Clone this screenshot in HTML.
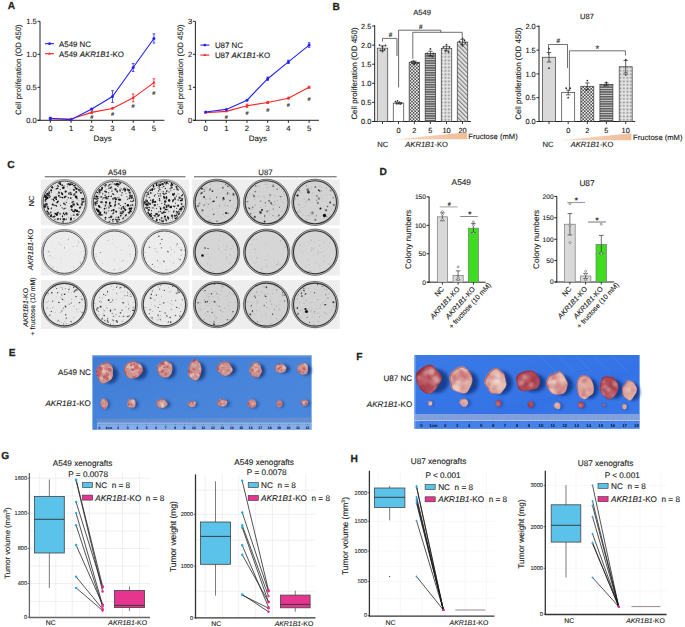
<!DOCTYPE html>
<html><head><meta charset="utf-8"><style>
html,body{margin:0;padding:0;background:#fff;width:685px;height:627px;overflow:hidden}
svg{display:block;font-family:"Liberation Sans",sans-serif}
</style></head><body>
<svg width="685" height="627" viewBox="0 0 685 627" font-family="Liberation Sans, sans-serif" text-rendering="geometricPrecision"><rect width="685" height="627" fill="#fff"/><text x="7.8" y="9.2" font-size="10.2" fill="#231f20" font-weight="bold" stroke="#231f20" stroke-width="0.25">A</text>
<text x="332.4" y="9.6" font-size="10.2" fill="#231f20" font-weight="bold" stroke="#231f20" stroke-width="0.25">B</text>
<text x="7.2" y="168.2" font-size="10.2" fill="#231f20" font-weight="bold" stroke="#231f20" stroke-width="0.25">C</text>
<text x="379.4" y="175" font-size="10.2" fill="#231f20" font-weight="bold" stroke="#231f20" stroke-width="0.25">D</text>
<text x="8.8" y="355.6" font-size="10.2" fill="#231f20" font-weight="bold" stroke="#231f20" stroke-width="0.25">E</text>
<text x="356.2" y="360.2" font-size="10.2" fill="#231f20" font-weight="bold" stroke="#231f20" stroke-width="0.25">F</text>
<text x="1.2" y="458.6" font-size="10.2" fill="#231f20" font-weight="bold" stroke="#231f20" stroke-width="0.25">G</text>
<text x="350.4" y="461.6" font-size="10.2" fill="#231f20" font-weight="bold" stroke="#231f20" stroke-width="0.25">H</text>
<line x1="40" y1="21.4" x2="40" y2="120.8" stroke="#222" stroke-width="1"/>
<line x1="37.5" y1="120.3" x2="164.4" y2="120.3" stroke="#222" stroke-width="1"/>
<line x1="37.5" y1="21.3" x2="40" y2="21.3" stroke="#222" stroke-width="1"/>
<text x="36.8" y="24" font-size="7.6" fill="#1a1a1a" text-anchor="end" stroke="#1a1a1a" stroke-width="0.12">1.5</text>
<line x1="37.5" y1="54.3" x2="40" y2="54.3" stroke="#222" stroke-width="1"/>
<text x="36.8" y="57" font-size="7.6" fill="#1a1a1a" text-anchor="end" stroke="#1a1a1a" stroke-width="0.12">1.0</text>
<line x1="37.5" y1="87.3" x2="40" y2="87.3" stroke="#222" stroke-width="1"/>
<text x="36.8" y="90" font-size="7.6" fill="#1a1a1a" text-anchor="end" stroke="#1a1a1a" stroke-width="0.12">0.5</text>
<line x1="37.5" y1="120.3" x2="40" y2="120.3" stroke="#222" stroke-width="1"/>
<text x="36.8" y="123" font-size="7.6" fill="#1a1a1a" text-anchor="end" stroke="#1a1a1a" stroke-width="0.12">0.0</text>
<line x1="50.3" y1="120.3" x2="50.3" y2="122.8" stroke="#222" stroke-width="1"/>
<text x="50.3" y="130.7" font-size="7.7" fill="#1a1a1a" text-anchor="middle" stroke="#1a1a1a" stroke-width="0.12">0</text>
<line x1="71.02" y1="120.3" x2="71.02" y2="122.8" stroke="#222" stroke-width="1"/>
<text x="71.02" y="130.7" font-size="7.7" fill="#1a1a1a" text-anchor="middle" stroke="#1a1a1a" stroke-width="0.12">1</text>
<line x1="91.74" y1="120.3" x2="91.74" y2="122.8" stroke="#222" stroke-width="1"/>
<text x="91.74" y="130.7" font-size="7.7" fill="#1a1a1a" text-anchor="middle" stroke="#1a1a1a" stroke-width="0.12">2</text>
<line x1="112.46" y1="120.3" x2="112.46" y2="122.8" stroke="#222" stroke-width="1"/>
<text x="112.46" y="130.7" font-size="7.7" fill="#1a1a1a" text-anchor="middle" stroke="#1a1a1a" stroke-width="0.12">3</text>
<line x1="133.18" y1="120.3" x2="133.18" y2="122.8" stroke="#222" stroke-width="1"/>
<text x="133.18" y="130.7" font-size="7.7" fill="#1a1a1a" text-anchor="middle" stroke="#1a1a1a" stroke-width="0.12">4</text>
<line x1="153.9" y1="120.3" x2="153.9" y2="122.8" stroke="#222" stroke-width="1"/>
<text x="153.9" y="130.7" font-size="7.7" fill="#1a1a1a" text-anchor="middle" stroke="#1a1a1a" stroke-width="0.12">5</text>
<text x="102.6" y="141.3" font-size="8" fill="#1a1a1a" text-anchor="middle" stroke="#1a1a1a" stroke-width="0.12">Days</text>
<text x="21.23" y="69.6" font-size="7.8" fill="#1a1a1a" text-anchor="middle" transform="rotate(-90 21.23 69.6)" stroke="#1a1a1a" stroke-width="0.12">Cell proliferation (OD 450)</text>
<polyline points="50.3,118.98 71.02,118.98 91.74,112.38 112.46,108.42 133.18,97.86 153.9,82.68" fill="none" stroke="#ff2222" stroke-width="1.1"/>
<path d="M50.3 117.28l1.6 2.6h-3.2z" fill="#ff2222"/>
<path d="M71.02 117.28l1.6 2.6h-3.2z" fill="#ff2222"/>
<line x1="91.74" y1="111.06" x2="91.74" y2="113.7" stroke="#ff2222" stroke-width="0.8"/>
<line x1="90.44" y1="111.06" x2="93.04" y2="111.06" stroke="#ff2222" stroke-width="0.8"/>
<line x1="90.44" y1="113.7" x2="93.04" y2="113.7" stroke="#ff2222" stroke-width="0.8"/>
<path d="M91.74 110.68l1.6 2.6h-3.2z" fill="#ff2222"/>
<line x1="112.46" y1="107.76" x2="112.46" y2="109.08" stroke="#ff2222" stroke-width="0.8"/>
<line x1="111.16" y1="107.76" x2="113.76" y2="107.76" stroke="#ff2222" stroke-width="0.8"/>
<line x1="111.16" y1="109.08" x2="113.76" y2="109.08" stroke="#ff2222" stroke-width="0.8"/>
<path d="M112.46 106.72l1.6 2.6h-3.2z" fill="#ff2222"/>
<line x1="133.18" y1="93.9" x2="133.18" y2="101.82" stroke="#ff2222" stroke-width="0.8"/>
<line x1="131.88" y1="93.9" x2="134.48" y2="93.9" stroke="#ff2222" stroke-width="0.8"/>
<line x1="131.88" y1="101.82" x2="134.48" y2="101.82" stroke="#ff2222" stroke-width="0.8"/>
<path d="M133.18 96.16l1.6 2.6h-3.2z" fill="#ff2222"/>
<line x1="153.9" y1="78.72" x2="153.9" y2="86.64" stroke="#ff2222" stroke-width="0.8"/>
<line x1="152.6" y1="78.72" x2="155.2" y2="78.72" stroke="#ff2222" stroke-width="0.8"/>
<line x1="152.6" y1="86.64" x2="155.2" y2="86.64" stroke="#ff2222" stroke-width="0.8"/>
<path d="M153.9 80.98l1.6 2.6h-3.2z" fill="#ff2222"/>
<polyline points="50.3,118.32 71.02,119.64 91.74,109.08 112.46,96.54 133.18,67.5 153.9,38.46" fill="none" stroke="#2222ff" stroke-width="1.1"/>
<line x1="50.3" y1="117.33" x2="50.3" y2="119.31" stroke="#2222ff" stroke-width="0.8"/>
<line x1="49" y1="117.33" x2="51.6" y2="117.33" stroke="#2222ff" stroke-width="0.8"/>
<line x1="49" y1="119.31" x2="51.6" y2="119.31" stroke="#2222ff" stroke-width="0.8"/>
<circle cx="50.3" cy="118.32" r="1.5" fill="#2222ff"/>
<circle cx="71.02" cy="119.64" r="1.5" fill="#2222ff"/>
<line x1="91.74" y1="108.42" x2="91.74" y2="109.74" stroke="#2222ff" stroke-width="0.8"/>
<line x1="90.44" y1="108.42" x2="93.04" y2="108.42" stroke="#2222ff" stroke-width="0.8"/>
<line x1="90.44" y1="109.74" x2="93.04" y2="109.74" stroke="#2222ff" stroke-width="0.8"/>
<circle cx="91.74" cy="109.08" r="1.5" fill="#2222ff"/>
<line x1="112.46" y1="90.6" x2="112.46" y2="102.48" stroke="#2222ff" stroke-width="0.8"/>
<line x1="111.16" y1="90.6" x2="113.76" y2="90.6" stroke="#2222ff" stroke-width="0.8"/>
<line x1="111.16" y1="102.48" x2="113.76" y2="102.48" stroke="#2222ff" stroke-width="0.8"/>
<circle cx="112.46" cy="96.54" r="1.5" fill="#2222ff"/>
<line x1="133.18" y1="63.54" x2="133.18" y2="71.46" stroke="#2222ff" stroke-width="0.8"/>
<line x1="131.88" y1="63.54" x2="134.48" y2="63.54" stroke="#2222ff" stroke-width="0.8"/>
<line x1="131.88" y1="71.46" x2="134.48" y2="71.46" stroke="#2222ff" stroke-width="0.8"/>
<circle cx="133.18" cy="67.5" r="1.5" fill="#2222ff"/>
<line x1="153.9" y1="33.84" x2="153.9" y2="43.08" stroke="#2222ff" stroke-width="0.8"/>
<line x1="152.6" y1="33.84" x2="155.2" y2="33.84" stroke="#2222ff" stroke-width="0.8"/>
<line x1="152.6" y1="43.08" x2="155.2" y2="43.08" stroke="#2222ff" stroke-width="0.8"/>
<circle cx="153.9" cy="38.46" r="1.5" fill="#2222ff"/>
<text x="91.74" y="119" font-size="5.6" fill="#333" text-anchor="middle" font-weight="bold" stroke="#333" stroke-width="0.12">#</text>
<text x="112.46" y="116.49" font-size="5.6" fill="#333" text-anchor="middle" font-weight="bold" stroke="#333" stroke-width="0.12">#</text>
<text x="133.18" y="107.78" font-size="5.6" fill="#333" text-anchor="middle" font-weight="bold" stroke="#333" stroke-width="0.12">#</text>
<text x="153.9" y="94.58" font-size="5.6" fill="#333" text-anchor="middle" font-weight="bold" stroke="#333" stroke-width="0.12">#</text>
<line x1="45" y1="43.7" x2="54" y2="43.7" stroke="#2222ff" stroke-width="1.1"/>
<circle cx="49.5" cy="43.7" r="1.4" fill="#2222ff"/>
<text x="59" y="46.5" font-size="7.9" fill="#1a1a1a" stroke="#1a1a1a" stroke-width="0.12">A549 NC</text>
<line x1="45" y1="53.7" x2="54" y2="53.7" stroke="#ff2222" stroke-width="1.1"/>
<path d="M49.5 52.2l1.5 2.4h-3z" fill="#ff2222"/>
<text x="59" y="56.5" font-size="7.9" fill="#1a1a1a" stroke="#1a1a1a" stroke-width="0.12">A549 <tspan font-style="italic">AKR1B1</tspan>-KO</text>
<line x1="195.4" y1="21.4" x2="195.4" y2="120.8" stroke="#222" stroke-width="1"/>
<line x1="192.9" y1="120.3" x2="318.9" y2="120.3" stroke="#222" stroke-width="1"/>
<line x1="192.9" y1="21.3" x2="195.4" y2="21.3" stroke="#222" stroke-width="1"/>
<text x="192.2" y="24" font-size="7.6" fill="#1a1a1a" text-anchor="end" stroke="#1a1a1a" stroke-width="0.12">3</text>
<line x1="192.9" y1="54.3" x2="195.4" y2="54.3" stroke="#222" stroke-width="1"/>
<text x="192.2" y="57" font-size="7.6" fill="#1a1a1a" text-anchor="end" stroke="#1a1a1a" stroke-width="0.12">2</text>
<line x1="192.9" y1="87.3" x2="195.4" y2="87.3" stroke="#222" stroke-width="1"/>
<text x="192.2" y="90" font-size="7.6" fill="#1a1a1a" text-anchor="end" stroke="#1a1a1a" stroke-width="0.12">1</text>
<line x1="192.9" y1="120.3" x2="195.4" y2="120.3" stroke="#222" stroke-width="1"/>
<text x="192.2" y="123" font-size="7.6" fill="#1a1a1a" text-anchor="end" stroke="#1a1a1a" stroke-width="0.12">0</text>
<line x1="205.6" y1="120.3" x2="205.6" y2="122.8" stroke="#222" stroke-width="1"/>
<text x="205.6" y="130.7" font-size="7.7" fill="#1a1a1a" text-anchor="middle" stroke="#1a1a1a" stroke-width="0.12">0</text>
<line x1="226.3" y1="120.3" x2="226.3" y2="122.8" stroke="#222" stroke-width="1"/>
<text x="226.3" y="130.7" font-size="7.7" fill="#1a1a1a" text-anchor="middle" stroke="#1a1a1a" stroke-width="0.12">1</text>
<line x1="247" y1="120.3" x2="247" y2="122.8" stroke="#222" stroke-width="1"/>
<text x="247" y="130.7" font-size="7.7" fill="#1a1a1a" text-anchor="middle" stroke="#1a1a1a" stroke-width="0.12">2</text>
<line x1="267.7" y1="120.3" x2="267.7" y2="122.8" stroke="#222" stroke-width="1"/>
<text x="267.7" y="130.7" font-size="7.7" fill="#1a1a1a" text-anchor="middle" stroke="#1a1a1a" stroke-width="0.12">3</text>
<line x1="288.4" y1="120.3" x2="288.4" y2="122.8" stroke="#222" stroke-width="1"/>
<text x="288.4" y="130.7" font-size="7.7" fill="#1a1a1a" text-anchor="middle" stroke="#1a1a1a" stroke-width="0.12">4</text>
<line x1="309.1" y1="120.3" x2="309.1" y2="122.8" stroke="#222" stroke-width="1"/>
<text x="309.1" y="130.7" font-size="7.7" fill="#1a1a1a" text-anchor="middle" stroke="#1a1a1a" stroke-width="0.12">5</text>
<text x="257.85" y="141.3" font-size="8" fill="#1a1a1a" text-anchor="middle" stroke="#1a1a1a" stroke-width="0.12">Days</text>
<text x="182.53" y="69.6" font-size="7.8" fill="#1a1a1a" text-anchor="middle" transform="rotate(-90 182.53 69.6)" stroke="#1a1a1a" stroke-width="0.12">Cell proliferation (OD 450)</text>
<polyline points="205.6,112.71 226.3,111.39 247,105.78 267.7,102.48 288.4,98.19 309.1,87.3" fill="none" stroke="#ff2222" stroke-width="1.1"/>
<path d="M205.6 111.01l1.6 2.6h-3.2z" fill="#ff2222"/>
<path d="M226.3 109.69l1.6 2.6h-3.2z" fill="#ff2222"/>
<line x1="247" y1="104.13" x2="247" y2="107.43" stroke="#ff2222" stroke-width="0.8"/>
<line x1="245.7" y1="104.13" x2="248.3" y2="104.13" stroke="#ff2222" stroke-width="0.8"/>
<line x1="245.7" y1="107.43" x2="248.3" y2="107.43" stroke="#ff2222" stroke-width="0.8"/>
<path d="M247 104.08l1.6 2.6h-3.2z" fill="#ff2222"/>
<line x1="267.7" y1="101.49" x2="267.7" y2="103.47" stroke="#ff2222" stroke-width="0.8"/>
<line x1="266.4" y1="101.49" x2="269" y2="101.49" stroke="#ff2222" stroke-width="0.8"/>
<line x1="266.4" y1="103.47" x2="269" y2="103.47" stroke="#ff2222" stroke-width="0.8"/>
<path d="M267.7 100.78l1.6 2.6h-3.2z" fill="#ff2222"/>
<line x1="288.4" y1="97.2" x2="288.4" y2="99.18" stroke="#ff2222" stroke-width="0.8"/>
<line x1="287.1" y1="97.2" x2="289.7" y2="97.2" stroke="#ff2222" stroke-width="0.8"/>
<line x1="287.1" y1="99.18" x2="289.7" y2="99.18" stroke="#ff2222" stroke-width="0.8"/>
<path d="M288.4 96.49l1.6 2.6h-3.2z" fill="#ff2222"/>
<line x1="309.1" y1="86.31" x2="309.1" y2="88.29" stroke="#ff2222" stroke-width="0.8"/>
<line x1="307.8" y1="86.31" x2="310.4" y2="86.31" stroke="#ff2222" stroke-width="0.8"/>
<line x1="307.8" y1="88.29" x2="310.4" y2="88.29" stroke="#ff2222" stroke-width="0.8"/>
<path d="M309.1 85.6l1.6 2.6h-3.2z" fill="#ff2222"/>
<polyline points="205.6,112.05 226.3,109.41 247,100.17 267.7,78.72 288.4,61.89 309.1,45.06" fill="none" stroke="#2222ff" stroke-width="1.1"/>
<circle cx="205.6" cy="112.05" r="1.5" fill="#2222ff"/>
<circle cx="226.3" cy="109.41" r="1.5" fill="#2222ff"/>
<circle cx="247" cy="100.17" r="1.5" fill="#2222ff"/>
<line x1="267.7" y1="77.07" x2="267.7" y2="80.37" stroke="#2222ff" stroke-width="0.8"/>
<line x1="266.4" y1="77.07" x2="269" y2="77.07" stroke="#2222ff" stroke-width="0.8"/>
<line x1="266.4" y1="80.37" x2="269" y2="80.37" stroke="#2222ff" stroke-width="0.8"/>
<circle cx="267.7" cy="78.72" r="1.5" fill="#2222ff"/>
<line x1="288.4" y1="60.24" x2="288.4" y2="63.54" stroke="#2222ff" stroke-width="0.8"/>
<line x1="287.1" y1="60.24" x2="289.7" y2="60.24" stroke="#2222ff" stroke-width="0.8"/>
<line x1="287.1" y1="63.54" x2="289.7" y2="63.54" stroke="#2222ff" stroke-width="0.8"/>
<circle cx="288.4" cy="61.89" r="1.5" fill="#2222ff"/>
<line x1="309.1" y1="42.75" x2="309.1" y2="47.37" stroke="#2222ff" stroke-width="0.8"/>
<line x1="307.8" y1="42.75" x2="310.4" y2="42.75" stroke="#2222ff" stroke-width="0.8"/>
<line x1="307.8" y1="47.37" x2="310.4" y2="47.37" stroke="#2222ff" stroke-width="0.8"/>
<circle cx="309.1" cy="45.06" r="1.5" fill="#2222ff"/>
<text x="226.3" y="118.67" font-size="5.6" fill="#333" text-anchor="middle" font-weight="bold" stroke="#333" stroke-width="0.12">#</text>
<text x="247" y="115.37" font-size="5.6" fill="#333" text-anchor="middle" font-weight="bold" stroke="#333" stroke-width="0.12">#</text>
<text x="267.7" y="111.74" font-size="5.6" fill="#333" text-anchor="middle" font-weight="bold" stroke="#333" stroke-width="0.12">#</text>
<text x="288.4" y="107.45" font-size="5.6" fill="#333" text-anchor="middle" font-weight="bold" stroke="#333" stroke-width="0.12">#</text>
<text x="309.1" y="101.18" font-size="5.6" fill="#333" text-anchor="middle" font-weight="bold" stroke="#333" stroke-width="0.12">#</text>
<line x1="200.4" y1="45.1" x2="209.4" y2="45.1" stroke="#2222ff" stroke-width="1.1"/>
<circle cx="204.9" cy="45.1" r="1.4" fill="#2222ff"/>
<text x="214.9" y="47.9" font-size="7.9" fill="#1a1a1a" stroke="#1a1a1a" stroke-width="0.12">U87 NC</text>
<line x1="200.4" y1="55.1" x2="209.4" y2="55.1" stroke="#ff2222" stroke-width="1.1"/>
<path d="M204.9 53.6l1.5 2.4h-3z" fill="#ff2222"/>
<text x="214.9" y="57.9" font-size="7.9" fill="#1a1a1a" stroke="#1a1a1a" stroke-width="0.12">U87 <tspan font-style="italic">AK1B1</tspan>-KO</text>
<defs>
<pattern id="chk" width="3.2" height="3.2" patternUnits="userSpaceOnUse"><rect width="3.2" height="3.2" fill="#ececec"/><rect width="1.6" height="1.6" fill="#555"/><rect x="1.6" y="1.6" width="1.6" height="1.6" fill="#555"/></pattern>
<pattern id="hst" width="4" height="2.4" patternUnits="userSpaceOnUse"><rect width="4" height="2.4" fill="#d0d0d0"/><rect width="4" height="1.5" fill="#5e5e5e"/></pattern>
<pattern id="dts" width="1.4" height="1.4" patternUnits="userSpaceOnUse"><rect width="1.4" height="1.4" fill="#e6e6e6"/><rect width="0.7" height="0.7" fill="#8c8c8c"/></pattern>
<pattern id="dia" width="3.2" height="3.2" patternUnits="userSpaceOnUse" patternTransform="rotate(-45)"><rect width="3.2" height="3.2" fill="#e2e2e2"/><rect width="1.1" height="3.2" fill="#7e7e7e"/></pattern>
<linearGradient id="wedge" x1="0" x2="1" y1="0" y2="0"><stop offset="0" stop-color="#f7dcc8"/><stop offset="1" stop-color="#efbd98"/></linearGradient>
</defs>
<line x1="374.7" y1="25.2" x2="374.7" y2="122" stroke="#222" stroke-width="1"/>
<line x1="372.7" y1="121.5" x2="470.8" y2="121.5" stroke="#222" stroke-width="1"/>
<line x1="372.2" y1="26" x2="374.7" y2="26" stroke="#222" stroke-width="1"/>
<text x="371.4" y="28.6" font-size="7.4" fill="#1a1a1a" text-anchor="end" stroke="#1a1a1a" stroke-width="0.12">2.5</text>
<line x1="372.2" y1="45.1" x2="374.7" y2="45.1" stroke="#222" stroke-width="1"/>
<text x="371.4" y="47.7" font-size="7.4" fill="#1a1a1a" text-anchor="end" stroke="#1a1a1a" stroke-width="0.12">2.0</text>
<line x1="372.2" y1="64.2" x2="374.7" y2="64.2" stroke="#222" stroke-width="1"/>
<text x="371.4" y="66.8" font-size="7.4" fill="#1a1a1a" text-anchor="end" stroke="#1a1a1a" stroke-width="0.12">1.5</text>
<line x1="372.2" y1="83.3" x2="374.7" y2="83.3" stroke="#222" stroke-width="1"/>
<text x="371.4" y="85.9" font-size="7.4" fill="#1a1a1a" text-anchor="end" stroke="#1a1a1a" stroke-width="0.12">1.0</text>
<line x1="372.2" y1="102.4" x2="374.7" y2="102.4" stroke="#222" stroke-width="1"/>
<text x="371.4" y="105" font-size="7.4" fill="#1a1a1a" text-anchor="end" stroke="#1a1a1a" stroke-width="0.12">0.5</text>
<line x1="372.2" y1="121.5" x2="374.7" y2="121.5" stroke="#222" stroke-width="1"/>
<text x="371.4" y="124.1" font-size="7.4" fill="#1a1a1a" text-anchor="end" stroke="#1a1a1a" stroke-width="0.12">0.0</text>
<rect x="377.25" y="48.16" width="10.5" height="73.34" fill="#d9d9d9" stroke="#3a3a3a" stroke-width="0.7"/>
<line x1="382.5" y1="121.5" x2="382.5" y2="124" stroke="#222" stroke-width="0.9"/>
<line x1="382.5" y1="45.86" x2="382.5" y2="50.45" stroke="#222" stroke-width="0.7"/>
<line x1="380.3" y1="45.86" x2="384.7" y2="45.86" stroke="#222" stroke-width="0.7"/>
<line x1="380.3" y1="50.45" x2="384.7" y2="50.45" stroke="#222" stroke-width="0.7"/>
<circle cx="379.5" cy="45.1" r="0.9" fill="#333"/>
<circle cx="382.5" cy="46.63" r="0.9" fill="#333"/>
<circle cx="385.5" cy="45.48" r="0.9" fill="#333"/>
<circle cx="380.5" cy="50.45" r="0.9" fill="#333"/>
<circle cx="384.5" cy="49.68" r="0.9" fill="#333"/>
<circle cx="382.5" cy="51.59" r="0.9" fill="#333"/>
<rect x="393.25" y="103.16" width="10.5" height="18.34" fill="#ffffff" stroke="#3a3a3a" stroke-width="0.7"/>
<line x1="398.5" y1="121.5" x2="398.5" y2="124" stroke="#222" stroke-width="0.9"/>
<text x="398.5" y="132.5" font-size="7.4" fill="#1a1a1a" text-anchor="middle" stroke="#1a1a1a" stroke-width="0.12">0</text>
<line x1="398.5" y1="102.4" x2="398.5" y2="103.93" stroke="#222" stroke-width="0.7"/>
<line x1="396.3" y1="102.4" x2="400.7" y2="102.4" stroke="#222" stroke-width="0.7"/>
<line x1="396.3" y1="103.93" x2="400.7" y2="103.93" stroke="#222" stroke-width="0.7"/>
<circle cx="395.5" cy="101.64" r="0.9" fill="#333"/>
<circle cx="397.5" cy="100.87" r="0.9" fill="#333"/>
<circle cx="399.5" cy="102.4" r="0.9" fill="#333"/>
<circle cx="401.5" cy="102.78" r="0.9" fill="#333"/>
<circle cx="396.5" cy="103.55" r="0.9" fill="#333"/>
<circle cx="400.5" cy="103.93" r="0.9" fill="#333"/>
<rect x="409.15" y="62.29" width="10.5" height="59.21" fill="url(#chk)" stroke="#3a3a3a" stroke-width="0.7"/>
<line x1="414.4" y1="121.5" x2="414.4" y2="124" stroke="#222" stroke-width="0.9"/>
<text x="414.4" y="132.5" font-size="7.4" fill="#1a1a1a" text-anchor="middle" stroke="#1a1a1a" stroke-width="0.12">2</text>
<line x1="414.4" y1="61.14" x2="414.4" y2="63.44" stroke="#222" stroke-width="0.7"/>
<line x1="412.2" y1="61.14" x2="416.6" y2="61.14" stroke="#222" stroke-width="0.7"/>
<line x1="412.2" y1="63.44" x2="416.6" y2="63.44" stroke="#222" stroke-width="0.7"/>
<circle cx="411.4" cy="61.53" r="0.9" fill="#333"/>
<circle cx="413.4" cy="61.14" r="0.9" fill="#333"/>
<circle cx="415.4" cy="62.29" r="0.9" fill="#333"/>
<circle cx="417.4" cy="63.05" r="0.9" fill="#333"/>
<circle cx="414.4" cy="64.2" r="0.9" fill="#333"/>
<circle cx="412.4" cy="63.44" r="0.9" fill="#333"/>
<rect x="425.15" y="53.5" width="10.5" height="68" fill="url(#hst)" stroke="#3a3a3a" stroke-width="0.7"/>
<line x1="430.4" y1="121.5" x2="430.4" y2="124" stroke="#222" stroke-width="0.9"/>
<text x="430.4" y="132.5" font-size="7.4" fill="#1a1a1a" text-anchor="middle" stroke="#1a1a1a" stroke-width="0.12">5</text>
<line x1="430.4" y1="51.21" x2="430.4" y2="55.8" stroke="#222" stroke-width="0.7"/>
<line x1="428.2" y1="51.21" x2="432.6" y2="51.21" stroke="#222" stroke-width="0.7"/>
<line x1="428.2" y1="55.8" x2="432.6" y2="55.8" stroke="#222" stroke-width="0.7"/>
<circle cx="430.4" cy="48.92" r="0.9" fill="#333"/>
<circle cx="427.4" cy="53.5" r="0.9" fill="#333"/>
<circle cx="433.4" cy="53.5" r="0.9" fill="#333"/>
<circle cx="429.4" cy="55.8" r="0.9" fill="#333"/>
<circle cx="432.4" cy="56.56" r="0.9" fill="#333"/>
<rect x="441.25" y="48.54" width="10.5" height="72.96" fill="url(#dts)" stroke="#3a3a3a" stroke-width="0.7"/>
<line x1="446.5" y1="121.5" x2="446.5" y2="124" stroke="#222" stroke-width="0.9"/>
<text x="446.5" y="132.5" font-size="7.4" fill="#1a1a1a" text-anchor="middle" stroke="#1a1a1a" stroke-width="0.12">10</text>
<line x1="446.5" y1="46.25" x2="446.5" y2="50.83" stroke="#222" stroke-width="0.7"/>
<line x1="444.3" y1="46.25" x2="448.7" y2="46.25" stroke="#222" stroke-width="0.7"/>
<line x1="444.3" y1="50.83" x2="448.7" y2="50.83" stroke="#222" stroke-width="0.7"/>
<circle cx="446.5" cy="44.72" r="0.9" fill="#333"/>
<circle cx="443.5" cy="47.01" r="0.9" fill="#333"/>
<circle cx="449.5" cy="47.01" r="0.9" fill="#333"/>
<circle cx="445.5" cy="50.83" r="0.9" fill="#333"/>
<circle cx="448.5" cy="51.98" r="0.9" fill="#333"/>
<rect x="457.25" y="42.04" width="10.5" height="79.46" fill="url(#dia)" stroke="#3a3a3a" stroke-width="0.7"/>
<line x1="462.5" y1="121.5" x2="462.5" y2="124" stroke="#222" stroke-width="0.9"/>
<text x="462.5" y="132.5" font-size="7.4" fill="#1a1a1a" text-anchor="middle" stroke="#1a1a1a" stroke-width="0.12">20</text>
<line x1="462.5" y1="39.37" x2="462.5" y2="44.72" stroke="#222" stroke-width="0.7"/>
<line x1="460.3" y1="39.37" x2="464.7" y2="39.37" stroke="#222" stroke-width="0.7"/>
<line x1="460.3" y1="44.72" x2="464.7" y2="44.72" stroke="#222" stroke-width="0.7"/>
<circle cx="462.5" cy="38.22" r="0.9" fill="#333"/>
<circle cx="459.5" cy="41.28" r="0.9" fill="#333"/>
<circle cx="465.5" cy="42.81" r="0.9" fill="#333"/>
<circle cx="461.5" cy="44.34" r="0.9" fill="#333"/>
<circle cx="464.5" cy="40.52" r="0.9" fill="#333"/>
<circle cx="462.5" cy="45.86" r="0.9" fill="#333"/>
<text x="422" y="14.8" font-size="7.6" fill="#1a1a1a" text-anchor="middle" stroke="#1a1a1a" stroke-width="0.12">A549</text>
<text x="357.07" y="73.5" font-size="7.95" fill="#1a1a1a" text-anchor="middle" transform="rotate(-90 357.07 73.5)" stroke="#1a1a1a" stroke-width="0.12">Cell proliferation (OD 450)</text>
<path d="M382.5 41.5V38.4H396.8V55.9" fill="none" stroke="#333" stroke-width="0.7"/>
<rect x="396.2" y="38.4" width="1.5" height="17.5" fill="#aaa"/>
<path d="M398.6 87.4V30.2H440.8V32.4" fill="none" stroke="#444" stroke-width="0.8"/>
<path d="M412.8 58.8V32.3H462.2V37" fill="none" stroke="#333" stroke-width="0.7"/>
<text x="390.5" y="37" font-size="6.4" fill="#333" text-anchor="middle" font-weight="bold" stroke="#333" stroke-width="0.12">#</text>
<text x="420.8" y="28.9" font-size="6.4" fill="#333" text-anchor="middle" font-weight="bold" stroke="#333" stroke-width="0.12">#</text>
<path d="M394 139.6L467.2 132.2V139.2Z" fill="url(#wedge)"/>
<text x="468.3" y="138.6" font-size="7.6" fill="#1a1a1a" stroke="#1a1a1a" stroke-width="0.12">Fructose (mM)</text>
<text x="382.8" y="147" font-size="7.6" fill="#1a1a1a" text-anchor="middle" stroke="#1a1a1a" stroke-width="0.12">NC</text>
<text x="426.6" y="147" font-size="7.6" fill="#1a1a1a" text-anchor="middle" stroke="#1a1a1a" stroke-width="0.12"><tspan font-style="italic">AKR1B1</tspan>-KO</text>
<line x1="539" y1="25.5" x2="539" y2="122" stroke="#222" stroke-width="1"/>
<line x1="537" y1="121.5" x2="635.2" y2="121.5" stroke="#222" stroke-width="1"/>
<line x1="536.5" y1="26.3" x2="539" y2="26.3" stroke="#222" stroke-width="1"/>
<text x="535.7" y="28.9" font-size="7.4" fill="#1a1a1a" text-anchor="end" stroke="#1a1a1a" stroke-width="0.12">2.0</text>
<line x1="536.5" y1="50.1" x2="539" y2="50.1" stroke="#222" stroke-width="1"/>
<text x="535.7" y="52.7" font-size="7.4" fill="#1a1a1a" text-anchor="end" stroke="#1a1a1a" stroke-width="0.12">1.5</text>
<line x1="536.5" y1="73.9" x2="539" y2="73.9" stroke="#222" stroke-width="1"/>
<text x="535.7" y="76.5" font-size="7.4" fill="#1a1a1a" text-anchor="end" stroke="#1a1a1a" stroke-width="0.12">1.0</text>
<line x1="536.5" y1="97.7" x2="539" y2="97.7" stroke="#222" stroke-width="1"/>
<text x="535.7" y="100.3" font-size="7.4" fill="#1a1a1a" text-anchor="end" stroke="#1a1a1a" stroke-width="0.12">0.5</text>
<line x1="536.5" y1="121.5" x2="539" y2="121.5" stroke="#222" stroke-width="1"/>
<text x="535.7" y="124.1" font-size="7.4" fill="#1a1a1a" text-anchor="end" stroke="#1a1a1a" stroke-width="0.12">0.0</text>
<rect x="542.5" y="57.24" width="13" height="64.26" fill="#d9d9d9" stroke="#3a3a3a" stroke-width="0.7"/>
<line x1="549" y1="121.5" x2="549" y2="124" stroke="#222" stroke-width="0.9"/>
<line x1="549" y1="52.48" x2="549" y2="62" stroke="#222" stroke-width="0.7"/>
<line x1="546.8" y1="52.48" x2="551.2" y2="52.48" stroke="#222" stroke-width="0.7"/>
<line x1="546.8" y1="62" x2="551.2" y2="62" stroke="#222" stroke-width="0.7"/>
<circle cx="549" cy="48.67" r="0.9" fill="#333"/>
<circle cx="549" cy="68.19" r="0.9" fill="#333"/>
<rect x="561.7" y="92.46" width="13" height="29.04" fill="#ffffff" stroke="#3a3a3a" stroke-width="0.7"/>
<line x1="568.2" y1="121.5" x2="568.2" y2="124" stroke="#222" stroke-width="0.9"/>
<text x="568.2" y="132.5" font-size="7.4" fill="#1a1a1a" text-anchor="middle" stroke="#1a1a1a" stroke-width="0.12">0</text>
<line x1="568.2" y1="90.08" x2="568.2" y2="94.84" stroke="#222" stroke-width="0.7"/>
<line x1="566" y1="90.08" x2="570.4" y2="90.08" stroke="#222" stroke-width="0.7"/>
<line x1="566" y1="94.84" x2="570.4" y2="94.84" stroke="#222" stroke-width="0.7"/>
<circle cx="566.2" cy="88.18" r="0.9" fill="#333"/>
<circle cx="570.2" cy="88.18" r="0.9" fill="#333"/>
<circle cx="568.2" cy="97.7" r="0.9" fill="#333"/>
<rect x="580.8" y="86.28" width="13" height="35.22" fill="url(#chk)" stroke="#3a3a3a" stroke-width="0.7"/>
<line x1="587.3" y1="121.5" x2="587.3" y2="124" stroke="#222" stroke-width="0.9"/>
<text x="587.3" y="132.5" font-size="7.4" fill="#1a1a1a" text-anchor="middle" stroke="#1a1a1a" stroke-width="0.12">2</text>
<line x1="587.3" y1="82.94" x2="587.3" y2="89.61" stroke="#222" stroke-width="0.7"/>
<line x1="585.1" y1="82.94" x2="589.5" y2="82.94" stroke="#222" stroke-width="0.7"/>
<line x1="585.1" y1="89.61" x2="589.5" y2="89.61" stroke="#222" stroke-width="0.7"/>
<circle cx="587.3" cy="80.56" r="0.9" fill="#333"/>
<circle cx="586.3" cy="90.08" r="0.9" fill="#333"/>
<rect x="599.9" y="84.37" width="13" height="37.13" fill="url(#hst)" stroke="#3a3a3a" stroke-width="0.7"/>
<line x1="606.4" y1="121.5" x2="606.4" y2="124" stroke="#222" stroke-width="0.9"/>
<text x="606.4" y="132.5" font-size="7.4" fill="#1a1a1a" text-anchor="middle" stroke="#1a1a1a" stroke-width="0.12">5</text>
<line x1="606.4" y1="82.94" x2="606.4" y2="85.8" stroke="#222" stroke-width="0.7"/>
<line x1="604.2" y1="82.94" x2="608.6" y2="82.94" stroke="#222" stroke-width="0.7"/>
<line x1="604.2" y1="85.8" x2="608.6" y2="85.8" stroke="#222" stroke-width="0.7"/>
<circle cx="606.4" cy="82.47" r="0.9" fill="#333"/>
<circle cx="604.4" cy="85.8" r="0.9" fill="#333"/>
<rect x="619.2" y="66.76" width="13" height="54.74" fill="url(#dts)" stroke="#3a3a3a" stroke-width="0.7"/>
<line x1="625.7" y1="121.5" x2="625.7" y2="124" stroke="#222" stroke-width="0.9"/>
<text x="625.7" y="132.5" font-size="7.4" fill="#1a1a1a" text-anchor="middle" stroke="#1a1a1a" stroke-width="0.12">10</text>
<line x1="625.7" y1="60.57" x2="625.7" y2="72.95" stroke="#222" stroke-width="0.7"/>
<line x1="623.5" y1="60.57" x2="627.9" y2="60.57" stroke="#222" stroke-width="0.7"/>
<line x1="623.5" y1="72.95" x2="627.9" y2="72.95" stroke="#222" stroke-width="0.7"/>
<circle cx="625.7" cy="59.62" r="0.9" fill="#333"/>
<circle cx="625.7" cy="74.85" r="0.9" fill="#333"/>
<text x="586.9" y="19.4" font-size="7.6" fill="#1a1a1a" text-anchor="middle" stroke="#1a1a1a" stroke-width="0.12">U87</text>
<text x="521.37" y="73.7" font-size="7.95" fill="#1a1a1a" text-anchor="middle" transform="rotate(-90 521.37 73.7)" stroke="#1a1a1a" stroke-width="0.12">Cell proliferation (OD 450)</text>
<path d="M548.5 55V44.5H567.5V67.9" fill="none" stroke="#333" stroke-width="0.7"/>
<path d="M569.4 91V50.8H625.4V55.5" fill="none" stroke="#333" stroke-width="0.7"/>
<text x="558.4" y="42.9" font-size="6.4" fill="#333" text-anchor="middle" font-weight="bold" stroke="#333" stroke-width="0.12">#</text>
<text x="597.3" y="52.4" font-size="9.5" fill="#333" text-anchor="middle" stroke="#333" stroke-width="0.12">*</text>
<path d="M561 140.2L631.4 133.3V140.2Z" fill="url(#wedge)"/>
<text x="633.1" y="139.8" font-size="7.6" fill="#1a1a1a" stroke="#1a1a1a" stroke-width="0.12">Fructose (mM)</text>
<text x="548" y="147" font-size="7.6" fill="#1a1a1a" text-anchor="middle" stroke="#1a1a1a" stroke-width="0.12">NC</text>
<text x="592" y="147" font-size="7.6" fill="#1a1a1a" text-anchor="middle" stroke="#1a1a1a" stroke-width="0.12"><tspan font-style="italic">AKR1B1</tspan>-KO</text>
<defs><filter id="soft" x="-5%" y="-5%" width="110%" height="110%"><feGaussianBlur stdDeviation="0.35"/></filter><filter id="soft2" x="-20%" y="-20%" width="140%" height="140%"><feGaussianBlur stdDeviation="0.6"/></filter></defs>
<g filter="url(#soft)">
<rect x="40.8" y="179.4" width="148.3" height="45.9" fill="#efefef"/>
<circle cx="64.3" cy="202.3" r="22.8" fill="#cdcdcd" stroke="#767676" stroke-width="0.7"/>
<circle cx="64.3" cy="202.3" r="21.2" fill="#e4e4e4" stroke="#474747" stroke-width="0.95"/>
<circle cx="76.53" cy="216.06" r="0.61" fill="#9a9a9a" opacity="0.5"/>
<circle cx="63.85" cy="216.37" r="0.48" fill="#9a9a9a" opacity="0.5"/>
<circle cx="54" cy="187.83" r="0.34" fill="#9a9a9a" opacity="0.5"/>
<circle cx="82.29" cy="205.54" r="0.47" fill="#9a9a9a" opacity="0.5"/>
<circle cx="64.37" cy="201.38" r="0.48" fill="#9a9a9a" opacity="0.5"/>
<circle cx="62.6" cy="192.89" r="0.68" fill="#9a9a9a" opacity="0.5"/>
<circle cx="67.15" cy="200.27" r="0.31" fill="#9a9a9a" opacity="0.5"/>
<circle cx="45.57" cy="197.31" r="0.45" fill="#9a9a9a" opacity="0.5"/>
<circle cx="67.01" cy="215.01" r="0.31" fill="#9a9a9a" opacity="0.5"/>
<circle cx="66.64" cy="215.33" r="0.5" fill="#9a9a9a" opacity="0.5"/>
<circle cx="65.32" cy="211.86" r="0.39" fill="#9a9a9a" opacity="0.5"/>
<circle cx="53.88" cy="205" r="0.31" fill="#9a9a9a" opacity="0.5"/>
<circle cx="72.1" cy="189.58" r="0.56" fill="#9a9a9a" opacity="0.5"/>
<circle cx="72.11" cy="220.63" r="0.64" fill="#9a9a9a" opacity="0.5"/>
<circle cx="72.67" cy="210.24" r="0.59" fill="#9a9a9a" opacity="0.5"/>
<circle cx="59.63" cy="183.52" r="0.47" fill="#9a9a9a" opacity="0.5"/>
<circle cx="72.19" cy="187.95" r="0.42" fill="#9a9a9a" opacity="0.5"/>
<circle cx="48.29" cy="192.48" r="0.64" fill="#9a9a9a" opacity="0.5"/>
<circle cx="48.96" cy="201.79" r="0.31" fill="#9a9a9a" opacity="0.5"/>
<circle cx="65.11" cy="220.14" r="0.47" fill="#9a9a9a" opacity="0.5"/>
<circle cx="71.19" cy="215.42" r="0.58" fill="#9a9a9a" opacity="0.5"/>
<circle cx="58.71" cy="191.41" r="0.48" fill="#9a9a9a" opacity="0.5"/>
<circle cx="46.68" cy="201.37" r="0.51" fill="#9a9a9a" opacity="0.5"/>
<circle cx="53.34" cy="211" r="0.31" fill="#9a9a9a" opacity="0.5"/>
<circle cx="80.45" cy="206.83" r="0.69" fill="#9a9a9a" opacity="0.5"/>
<circle cx="53.84" cy="195.37" r="0.37" fill="#9a9a9a" opacity="0.5"/>
<circle cx="44.48" cy="202.02" r="0.61" fill="#9a9a9a" opacity="0.5"/>
<circle cx="46.32" cy="197.73" r="0.39" fill="#9a9a9a" opacity="0.5"/>
<circle cx="44.85" cy="200.61" r="0.53" fill="#9a9a9a" opacity="0.5"/>
<circle cx="54.26" cy="204.94" r="0.52" fill="#9a9a9a" opacity="0.5"/>
<circle cx="65.76" cy="201.9" r="0.61" fill="#9a9a9a" opacity="0.5"/>
<circle cx="72.37" cy="185.29" r="0.6" fill="#9a9a9a" opacity="0.5"/>
<circle cx="69.53" cy="188.88" r="0.52" fill="#9a9a9a" opacity="0.5"/>
<circle cx="60.06" cy="204.42" r="0.65" fill="#9a9a9a" opacity="0.5"/>
<circle cx="56.21" cy="198.49" r="0.5" fill="#9a9a9a" opacity="0.5"/>
<circle cx="52.41" cy="203.43" r="0.44" fill="#9a9a9a" opacity="0.5"/>
<circle cx="48.97" cy="198.52" r="0.54" fill="#9a9a9a" opacity="0.5"/>
<circle cx="61.07" cy="203.17" r="0.39" fill="#9a9a9a" opacity="0.5"/>
<circle cx="71.05" cy="216.02" r="0.64" fill="#9a9a9a" opacity="0.5"/>
<circle cx="69.65" cy="185.26" r="0.63" fill="#9a9a9a" opacity="0.5"/>
<circle cx="63.69" cy="220.64" r="0.57" fill="#9a9a9a" opacity="0.5"/>
<circle cx="66.54" cy="203.59" r="0.31" fill="#9a9a9a" opacity="0.5"/>
<circle cx="64.65" cy="192.31" r="0.34" fill="#9a9a9a" opacity="0.5"/>
<circle cx="55.99" cy="194.01" r="0.33" fill="#9a9a9a" opacity="0.5"/>
<circle cx="72.11" cy="214.54" r="0.37" fill="#9a9a9a" opacity="0.5"/>
<circle cx="61.88" cy="219" r="0.48" fill="#9a9a9a" opacity="0.5"/>
<circle cx="58.28" cy="214.68" r="0.31" fill="#9a9a9a" opacity="0.5"/>
<circle cx="54.48" cy="210.79" r="0.38" fill="#9a9a9a" opacity="0.5"/>
<circle cx="79.01" cy="214.28" r="0.5" fill="#9a9a9a" opacity="0.5"/>
<circle cx="68.26" cy="217.35" r="0.63" fill="#9a9a9a" opacity="0.5"/>
<circle cx="66.95" cy="202.65" r="0.36" fill="#9a9a9a" opacity="0.5"/>
<circle cx="62.74" cy="194.45" r="0.58" fill="#9a9a9a" opacity="0.5"/>
<circle cx="57.86" cy="189.02" r="0.39" fill="#9a9a9a" opacity="0.5"/>
<circle cx="81.95" cy="199.57" r="0.51" fill="#9a9a9a" opacity="0.5"/>
<circle cx="67" cy="218.18" r="0.46" fill="#9a9a9a" opacity="0.5"/>
<circle cx="54.23" cy="197.1" r="0.55" fill="#9a9a9a" opacity="0.5"/>
<circle cx="74.49" cy="206.25" r="0.69" fill="#9a9a9a" opacity="0.5"/>
<circle cx="72.15" cy="194.5" r="0.64" fill="#9a9a9a" opacity="0.5"/>
<circle cx="57.12" cy="220.31" r="0.6" fill="#9a9a9a" opacity="0.5"/>
<circle cx="55.61" cy="207.35" r="0.3" fill="#9a9a9a" opacity="0.5"/>
<circle cx="67.12" cy="199.61" r="0.63" fill="#9a9a9a" opacity="0.5"/>
<circle cx="78.98" cy="198.75" r="0.37" fill="#9a9a9a" opacity="0.5"/>
<circle cx="77.61" cy="187.73" r="0.58" fill="#9a9a9a" opacity="0.5"/>
<circle cx="52.02" cy="201.61" r="0.44" fill="#9a9a9a" opacity="0.5"/>
<circle cx="68.81" cy="218.09" r="0.47" fill="#9a9a9a" opacity="0.5"/>
<circle cx="66.52" cy="208.37" r="0.57" fill="#9a9a9a" opacity="0.5"/>
<circle cx="60.26" cy="215.85" r="0.43" fill="#9a9a9a" opacity="0.5"/>
<circle cx="77.43" cy="188.6" r="0.31" fill="#9a9a9a" opacity="0.5"/>
<circle cx="67.78" cy="213.21" r="0.69" fill="#9a9a9a" opacity="0.5"/>
<circle cx="66.68" cy="190.9" r="0.39" fill="#9a9a9a" opacity="0.5"/>
<circle cx="55.93" cy="186.02" r="0.67" fill="#9a9a9a" opacity="0.5"/>
<circle cx="53.85" cy="217.91" r="0.57" fill="#9a9a9a" opacity="0.5"/>
<circle cx="44.54" cy="204.23" r="0.39" fill="#9a9a9a" opacity="0.5"/>
<circle cx="63.41" cy="196.55" r="0.37" fill="#9a9a9a" opacity="0.5"/>
<circle cx="72.12" cy="197.4" r="0.6" fill="#9a9a9a" opacity="0.5"/>
<circle cx="49.47" cy="191.5" r="0.45" fill="#9a9a9a" opacity="0.5"/>
<circle cx="58.5" cy="211.4" r="0.65" fill="#9a9a9a" opacity="0.5"/>
<circle cx="48.79" cy="190.42" r="0.65" fill="#9a9a9a" opacity="0.5"/>
<circle cx="74.1" cy="213.46" r="0.34" fill="#9a9a9a" opacity="0.5"/>
<circle cx="69.55" cy="203.62" r="0.65" fill="#9a9a9a" opacity="0.5"/>
<circle cx="68.62" cy="184.62" r="0.44" fill="#9a9a9a" opacity="0.5"/>
<circle cx="51.05" cy="190.59" r="0.45" fill="#9a9a9a" opacity="0.5"/>
<circle cx="55.76" cy="198.23" r="0.33" fill="#9a9a9a" opacity="0.5"/>
<circle cx="62.32" cy="221.07" r="0.53" fill="#9a9a9a" opacity="0.5"/>
<circle cx="76.36" cy="196.16" r="0.41" fill="#9a9a9a" opacity="0.5"/>
<circle cx="68.49" cy="184.59" r="0.3" fill="#9a9a9a" opacity="0.5"/>
<circle cx="61.4" cy="196.99" r="0.35" fill="#9a9a9a" opacity="0.5"/>
<circle cx="67.3" cy="199.66" r="0.4" fill="#9a9a9a" opacity="0.5"/>
<circle cx="77.24" cy="201.34" r="0.35" fill="#9a9a9a" opacity="0.5"/>
<circle cx="69.18" cy="210.83" r="0.6" fill="#9a9a9a" opacity="0.5"/>
<circle cx="79.54" cy="213.79" r="0.45" fill="#9a9a9a" opacity="0.5"/>
<circle cx="83.04" cy="198.76" r="0.42" fill="#9a9a9a" opacity="0.5"/>
<circle cx="64" cy="216.11" r="0.34" fill="#9a9a9a" opacity="0.5"/>
<circle cx="62" cy="199.05" r="0.3" fill="#9a9a9a" opacity="0.5"/>
<circle cx="75.11" cy="201.11" r="0.54" fill="#9a9a9a" opacity="0.5"/>
<circle cx="53.66" cy="205.77" r="0.33" fill="#9a9a9a" opacity="0.5"/>
<circle cx="81.15" cy="192.1" r="0.69" fill="#9a9a9a" opacity="0.5"/>
<circle cx="71.4" cy="208.27" r="0.55" fill="#9a9a9a" opacity="0.5"/>
<circle cx="78.92" cy="200.45" r="0.58" fill="#9a9a9a" opacity="0.5"/>
<circle cx="58.94" cy="193.64" r="0.52" fill="#9a9a9a" opacity="0.5"/>
<circle cx="60.8" cy="211.59" r="0.33" fill="#9a9a9a" opacity="0.5"/>
<circle cx="60.49" cy="221.76" r="0.48" fill="#9a9a9a" opacity="0.5"/>
<circle cx="55.03" cy="189.2" r="0.68" fill="#9a9a9a" opacity="0.5"/>
<circle cx="55.74" cy="209.34" r="0.43" fill="#9a9a9a" opacity="0.5"/>
<circle cx="56.81" cy="219.11" r="0.66" fill="#9a9a9a" opacity="0.5"/>
<circle cx="60.53" cy="213.23" r="0.52" fill="#9a9a9a" opacity="0.5"/>
<circle cx="50.72" cy="194.95" r="0.4" fill="#9a9a9a" opacity="0.5"/>
<circle cx="74.09" cy="203.56" r="0.33" fill="#9a9a9a" opacity="0.5"/>
<circle cx="59.25" cy="200.62" r="0.33" fill="#9a9a9a" opacity="0.5"/>
<circle cx="57.19" cy="194.19" r="0.62" fill="#9a9a9a" opacity="0.5"/>
<circle cx="45.74" cy="203.09" r="0.36" fill="#9a9a9a" opacity="0.5"/>
<circle cx="46.47" cy="202.14" r="0.33" fill="#9a9a9a" opacity="0.5"/>
<circle cx="72.2" cy="199.69" r="0.61" fill="#9a9a9a" opacity="0.5"/>
<circle cx="82.35" cy="200.58" r="0.43" fill="#9a9a9a" opacity="0.5"/>
<circle cx="75.53" cy="211.22" r="0.67" fill="#9a9a9a" opacity="0.5"/>
<circle cx="59.2" cy="220.51" r="0.36" fill="#9a9a9a" opacity="0.5"/>
<circle cx="67.32" cy="200.4" r="0.43" fill="#9a9a9a" opacity="0.5"/>
<circle cx="79.01" cy="192.04" r="0.66" fill="#9a9a9a" opacity="0.5"/>
<circle cx="73.62" cy="187.75" r="0.58" fill="#9a9a9a" opacity="0.5"/>
<circle cx="70.04" cy="214.14" r="0.36" fill="#9a9a9a" opacity="0.5"/>
<circle cx="45.78" cy="197.11" r="1.17" fill="#0e0e0e"/>
<circle cx="44.83" cy="206.55" r="1.3" fill="#0e0e0e"/>
<ellipse cx="48.9" cy="195.58" rx="1.27" ry="0.7" fill="#222" transform="rotate(166 48.9 195.58)"/>
<circle cx="47.32" cy="197.87" r="1.32" fill="#0e0e0e"/>
<circle cx="48.23" cy="208.7" r="1.01" fill="#0e0e0e"/>
<circle cx="47.23" cy="211.47" r="1.02" fill="#181818"/>
<circle cx="52.22" cy="187.46" r="1.13" fill="#0e0e0e"/>
<circle cx="51.17" cy="190.37" r="1.01" fill="#0e0e0e"/>
<ellipse cx="51.43" cy="192.11" rx="0.81" ry="0.44" fill="#2e2e2e" transform="rotate(130 51.43 192.11)"/>
<ellipse cx="49.91" cy="196.81" rx="1.22" ry="0.67" fill="#2e2e2e" transform="rotate(122 49.91 196.81)"/>
<circle cx="52.02" cy="199.25" r="0.55" fill="#2e2e2e"/>
<circle cx="52.76" cy="204.5" r="1.04" fill="#181818"/>
<ellipse cx="51.44" cy="208.38" rx="1.12" ry="0.62" fill="#444" transform="rotate(126 51.44 208.38)"/>
<circle cx="50.73" cy="212.39" r="0.97" fill="#444"/>
<ellipse cx="51.01" cy="215.43" rx="1.63" ry="0.9" fill="#444" transform="rotate(124 51.01 215.43)"/>
<circle cx="56.11" cy="189.07" r="0.54" fill="#222"/>
<ellipse cx="55.31" cy="197.41" rx="1.91" ry="1.05" fill="#222" transform="rotate(160 55.31 197.41)"/>
<ellipse cx="53.41" cy="199.5" rx="1.15" ry="0.63" fill="#0e0e0e" transform="rotate(70 53.41 199.5)"/>
<circle cx="54.04" cy="200.76" r="0.66" fill="#181818"/>
<circle cx="54.26" cy="205.39" r="0.56" fill="#181818"/>
<circle cx="55.27" cy="213.61" r="0.97" fill="#0e0e0e"/>
<circle cx="54.48" cy="216.41" r="0.95" fill="#181818"/>
<circle cx="54.99" cy="219.33" r="0.66" fill="#2e2e2e"/>
<circle cx="58.94" cy="183.48" r="0.65" fill="#181818"/>
<ellipse cx="57.3" cy="188.42" rx="1.36" ry="0.75" fill="#181818" transform="rotate(155 57.3 188.42)"/>
<circle cx="59.03" cy="192.65" r="1.09" fill="#444"/>
<circle cx="58.9" cy="195.75" r="0.88" fill="#0e0e0e"/>
<circle cx="56.3" cy="199.13" r="0.87" fill="#181818"/>
<ellipse cx="57.54" cy="201.92" rx="1.67" ry="0.92" fill="#181818" transform="rotate(126 57.54 201.92)"/>
<ellipse cx="56.22" cy="205.72" rx="1.2" ry="0.66" fill="#0e0e0e" transform="rotate(35 56.22 205.72)"/>
<ellipse cx="57.48" cy="212.92" rx="1.5" ry="0.83" fill="#181818" transform="rotate(137 57.48 212.92)"/>
<circle cx="56.84" cy="214.64" r="1.17" fill="#0e0e0e"/>
<circle cx="60.01" cy="183.11" r="1.02" fill="#181818"/>
<circle cx="62.14" cy="185.14" r="0.85" fill="#222"/>
<circle cx="60.22" cy="189.4" r="0.5" fill="#0e0e0e"/>
<ellipse cx="62.06" cy="193.71" rx="1.68" ry="0.93" fill="#181818" transform="rotate(57 62.06 193.71)"/>
<ellipse cx="60.18" cy="197.33" rx="0.96" ry="0.53" fill="#222" transform="rotate(132 60.18 197.33)"/>
<ellipse cx="62.23" cy="197.55" rx="1.07" ry="0.59" fill="#0e0e0e" transform="rotate(35 62.23 197.55)"/>
<circle cx="60.49" cy="205.47" r="0.55" fill="#181818"/>
<ellipse cx="62.04" cy="207.98" rx="0.74" ry="0.41" fill="#0e0e0e" transform="rotate(26 62.04 207.98)"/>
<ellipse cx="60" cy="213.86" rx="0.98" ry="0.54" fill="#181818" transform="rotate(12 60 213.86)"/>
<ellipse cx="62.46" cy="216.35" rx="1.05" ry="0.58" fill="#0e0e0e" transform="rotate(102 62.46 216.35)"/>
<ellipse cx="60.31" cy="218.99" rx="1.07" ry="0.59" fill="#181818" transform="rotate(84 60.31 218.99)"/>
<circle cx="64.06" cy="185.87" r="0.66" fill="#444"/>
<circle cx="63.37" cy="187.73" r="1.3" fill="#0e0e0e"/>
<circle cx="65.68" cy="191.56" r="1.14" fill="#181818"/>
<ellipse cx="65.07" cy="196.84" rx="1.75" ry="0.97" fill="#2e2e2e" transform="rotate(147 65.07 196.84)"/>
<circle cx="63.88" cy="203.51" r="0.96" fill="#444"/>
<ellipse cx="65.04" cy="204.36" rx="1.12" ry="0.62" fill="#2e2e2e" transform="rotate(56 65.04 204.36)"/>
<ellipse cx="64.38" cy="208.6" rx="1.4" ry="0.78" fill="#444" transform="rotate(153 64.38 208.6)"/>
<ellipse cx="63.51" cy="213.36" rx="1.24" ry="0.68" fill="#181818" transform="rotate(111 63.51 213.36)"/>
<ellipse cx="64.66" cy="214.65" rx="0.95" ry="0.53" fill="#0e0e0e" transform="rotate(69 64.66 214.65)"/>
<circle cx="63.84" cy="219.21" r="1.29" fill="#222"/>
<circle cx="68.68" cy="183.78" r="0.76" fill="#0e0e0e"/>
<circle cx="67.31" cy="186.16" r="0.53" fill="#444"/>
<circle cx="68.95" cy="193.35" r="0.9" fill="#444"/>
<circle cx="69.07" cy="194.2" r="0.51" fill="#222"/>
<circle cx="68.24" cy="197.64" r="0.56" fill="#0e0e0e"/>
<circle cx="66.48" cy="202.28" r="0.57" fill="#181818"/>
<circle cx="66.25" cy="213.42" r="1.14" fill="#222"/>
<circle cx="66.95" cy="214.34" r="0.67" fill="#181818"/>
<circle cx="66.14" cy="219.35" r="0.74" fill="#2e2e2e"/>
<ellipse cx="70.15" cy="184.45" rx="1.92" ry="1.06" fill="#181818" transform="rotate(170 70.15 184.45)"/>
<circle cx="70.5" cy="192.85" r="1.02" fill="#444"/>
<circle cx="71.07" cy="194.35" r="0.88" fill="#0e0e0e"/>
<circle cx="70.71" cy="198.11" r="0.98" fill="#2e2e2e"/>
<circle cx="71.54" cy="206.4" r="1.29" fill="#0e0e0e"/>
<circle cx="71.73" cy="209.83" r="1.11" fill="#444"/>
<circle cx="72.57" cy="211.15" r="0.66" fill="#222"/>
<ellipse cx="74.4" cy="185.71" rx="1.37" ry="0.75" fill="#0e0e0e" transform="rotate(9 74.4 185.71)"/>
<circle cx="73.95" cy="189.89" r="0.98" fill="#0e0e0e"/>
<ellipse cx="74.38" cy="194.45" rx="1.7" ry="0.94" fill="#444" transform="rotate(130 74.38 194.45)"/>
<ellipse cx="72.76" cy="202.02" rx="1.59" ry="0.88" fill="#444" transform="rotate(145 72.76 202.02)"/>
<circle cx="73.68" cy="204.48" r="1.25" fill="#222"/>
<circle cx="75.31" cy="210.17" r="1.16" fill="#181818"/>
<circle cx="74.05" cy="211.46" r="0.96" fill="#0e0e0e"/>
<ellipse cx="73.74" cy="215.07" rx="1.05" ry="0.58" fill="#181818" transform="rotate(10 73.74 215.07)"/>
<circle cx="76.47" cy="188.77" r="1.26" fill="#222"/>
<circle cx="76.27" cy="191.99" r="1.06" fill="#222"/>
<circle cx="76.09" cy="196.84" r="1.35" fill="#0e0e0e"/>
<ellipse cx="76.99" cy="198.43" rx="1.12" ry="0.62" fill="#222" transform="rotate(87 76.99 198.43)"/>
<circle cx="77.02" cy="203.22" r="0.79" fill="#181818"/>
<ellipse cx="77.69" cy="204.54" rx="1.25" ry="0.69" fill="#0e0e0e" transform="rotate(29 77.69 204.54)"/>
<circle cx="77.03" cy="210.88" r="1.23" fill="#181818"/>
<circle cx="80.98" cy="192.75" r="0.96" fill="#222"/>
<ellipse cx="81.57" cy="199.91" rx="0.8" ry="0.44" fill="#444" transform="rotate(53 81.57 199.91)"/>
<circle cx="82.36" cy="202.87" r="0.74" fill="#181818"/>
<ellipse cx="80.78" cy="207.28" rx="0.91" ry="0.5" fill="#181818" transform="rotate(84 80.78 207.28)"/>
<circle cx="79.8" cy="207.84" r="0.99" fill="#2e2e2e"/>
<circle cx="49.45" cy="193.57" r="0.73" fill="#181818"/>
<circle cx="75.22" cy="187.5" r="0.76" fill="#0e0e0e"/>
<ellipse cx="70.93" cy="218.98" rx="1.84" ry="1.02" fill="#181818" transform="rotate(96 70.93 218.98)"/>
<circle cx="58.13" cy="186.32" r="0.77" fill="#0e0e0e"/>
<circle cx="77.39" cy="214.6" r="1.29" fill="#2e2e2e"/>
<circle cx="78.87" cy="189.81" r="1" fill="#222"/>
<circle cx="82.61" cy="198.9" r="0.57" fill="#444"/>
<circle cx="47.52" cy="194.15" r="1.29" fill="#0e0e0e"/>
<circle cx="45.92" cy="199.31" r="1.15" fill="#181818"/>
<circle cx="72.56" cy="184.34" r="0.75" fill="#0e0e0e"/>
<circle cx="48.48" cy="212.58" r="0.64" fill="#2e2e2e"/>
<circle cx="57.93" cy="219.09" r="1" fill="#222"/>
<circle cx="45.57" cy="201.56" r="0.53" fill="#444"/>
<circle cx="45.44" cy="196.17" r="1.31" fill="#181818"/>
<circle cx="74.12" cy="218.43" r="0.51" fill="#181818"/>
<circle cx="83.45" cy="201.64" r="1.13" fill="#444"/>
<circle cx="47.69" cy="195" r="1.03" fill="#444"/>
<circle cx="48.19" cy="213.68" r="0.88" fill="#181818"/>
<circle cx="79.32" cy="190.7" r="0.81" fill="#444"/>
<ellipse cx="80.14" cy="190.6" rx="1.08" ry="0.6" fill="#444" transform="rotate(122 80.14 190.6)"/>
<ellipse cx="74.65" cy="187.35" rx="0.75" ry="0.41" fill="#444" transform="rotate(3 74.65 187.35)"/>
<circle cx="45.45" cy="206.59" r="0.51" fill="#222"/>
<circle cx="50.93" cy="216.08" r="1.06" fill="#181818"/>
<circle cx="46.37" cy="204.4" r="1.33" fill="#222"/>
<circle cx="47.52" cy="207.04" r="0.97" fill="#444"/>
<circle cx="53.15" cy="216.77" r="0.89" fill="#2e2e2e"/>
<circle cx="81.78" cy="204.3" r="1.14" fill="#2e2e2e"/>
<ellipse cx="63.05" cy="221.76" rx="1.05" ry="0.58" fill="#181818" transform="rotate(71 63.05 221.76)"/>
<ellipse cx="49.15" cy="192.74" rx="1.71" ry="0.95" fill="#444" transform="rotate(92 49.15 192.74)"/>
<ellipse cx="82.13" cy="202.05" rx="1.02" ry="0.56" fill="#181818" transform="rotate(64 82.13 202.05)"/>
<circle cx="45.2" cy="200.64" r="0.72" fill="#222"/>
<circle cx="57.7" cy="185.21" r="0.5" fill="#181818"/>
<circle cx="67.42" cy="184.1" r="0.62" fill="#0e0e0e"/>
<circle cx="60.32" cy="184.25" r="0.88" fill="#181818"/>
<circle cx="83.1" cy="198.9" r="1.05" fill="#181818"/>
<circle cx="78.97" cy="211.79" r="0.89" fill="#2e2e2e"/>
<ellipse cx="81.66" cy="198.59" rx="0.77" ry="0.43" fill="#0e0e0e" transform="rotate(170 81.66 198.59)"/>
<circle cx="81.88" cy="205.21" r="0.52" fill="#2e2e2e"/>
<circle cx="44.69" cy="204.8" r="1.02" fill="#444"/>
<ellipse cx="48.89" cy="213.63" rx="1.46" ry="0.81" fill="#444" transform="rotate(61 48.89 213.63)"/>
<circle cx="114.5" cy="202.3" r="22.8" fill="#cdcdcd" stroke="#767676" stroke-width="0.7"/>
<circle cx="114.5" cy="202.3" r="21.2" fill="#e4e4e4" stroke="#474747" stroke-width="0.95"/>
<circle cx="118.89" cy="196.26" r="0.38" fill="#9a9a9a" opacity="0.5"/>
<circle cx="112.05" cy="189.94" r="0.6" fill="#9a9a9a" opacity="0.5"/>
<circle cx="119.25" cy="212.13" r="0.36" fill="#9a9a9a" opacity="0.5"/>
<circle cx="103.71" cy="202.83" r="0.51" fill="#9a9a9a" opacity="0.5"/>
<circle cx="109.42" cy="218.31" r="0.31" fill="#9a9a9a" opacity="0.5"/>
<circle cx="119.43" cy="187.31" r="0.34" fill="#9a9a9a" opacity="0.5"/>
<circle cx="105.22" cy="211.86" r="0.55" fill="#9a9a9a" opacity="0.5"/>
<circle cx="131.24" cy="207.98" r="0.36" fill="#9a9a9a" opacity="0.5"/>
<circle cx="127.45" cy="216.5" r="0.63" fill="#9a9a9a" opacity="0.5"/>
<circle cx="124.53" cy="210.87" r="0.53" fill="#9a9a9a" opacity="0.5"/>
<circle cx="114.02" cy="188.11" r="0.46" fill="#9a9a9a" opacity="0.5"/>
<circle cx="131.41" cy="191.89" r="0.38" fill="#9a9a9a" opacity="0.5"/>
<circle cx="129.87" cy="197.01" r="0.51" fill="#9a9a9a" opacity="0.5"/>
<circle cx="120.44" cy="188.3" r="0.59" fill="#9a9a9a" opacity="0.5"/>
<circle cx="110.88" cy="184.68" r="0.69" fill="#9a9a9a" opacity="0.5"/>
<circle cx="99.46" cy="196.05" r="0.52" fill="#9a9a9a" opacity="0.5"/>
<circle cx="114.97" cy="206.16" r="0.37" fill="#9a9a9a" opacity="0.5"/>
<circle cx="107.38" cy="189.22" r="0.39" fill="#9a9a9a" opacity="0.5"/>
<circle cx="105.65" cy="207.88" r="0.56" fill="#9a9a9a" opacity="0.5"/>
<circle cx="103.2" cy="210.67" r="0.57" fill="#9a9a9a" opacity="0.5"/>
<circle cx="118.84" cy="194.83" r="0.31" fill="#9a9a9a" opacity="0.5"/>
<circle cx="114.83" cy="188.33" r="0.46" fill="#9a9a9a" opacity="0.5"/>
<circle cx="112.24" cy="184.3" r="0.43" fill="#9a9a9a" opacity="0.5"/>
<circle cx="114.73" cy="207.85" r="0.6" fill="#9a9a9a" opacity="0.5"/>
<circle cx="124.9" cy="187.29" r="0.38" fill="#9a9a9a" opacity="0.5"/>
<circle cx="121.07" cy="214.85" r="0.64" fill="#9a9a9a" opacity="0.5"/>
<circle cx="105.5" cy="210.25" r="0.39" fill="#9a9a9a" opacity="0.5"/>
<circle cx="106.19" cy="189.44" r="0.6" fill="#9a9a9a" opacity="0.5"/>
<circle cx="126.12" cy="201.17" r="0.32" fill="#9a9a9a" opacity="0.5"/>
<circle cx="129.53" cy="206.58" r="0.66" fill="#9a9a9a" opacity="0.5"/>
<circle cx="126.26" cy="186.9" r="0.49" fill="#9a9a9a" opacity="0.5"/>
<circle cx="110.09" cy="199.75" r="0.65" fill="#9a9a9a" opacity="0.5"/>
<circle cx="108.94" cy="199.88" r="0.46" fill="#9a9a9a" opacity="0.5"/>
<circle cx="99.41" cy="201.19" r="0.42" fill="#9a9a9a" opacity="0.5"/>
<circle cx="113.17" cy="214.09" r="0.68" fill="#9a9a9a" opacity="0.5"/>
<circle cx="133.05" cy="208.21" r="0.65" fill="#9a9a9a" opacity="0.5"/>
<circle cx="125.47" cy="203.51" r="0.6" fill="#9a9a9a" opacity="0.5"/>
<circle cx="118.83" cy="187.48" r="0.52" fill="#9a9a9a" opacity="0.5"/>
<circle cx="119.63" cy="202.2" r="0.54" fill="#9a9a9a" opacity="0.5"/>
<circle cx="117.55" cy="190.68" r="0.46" fill="#9a9a9a" opacity="0.5"/>
<circle cx="111.45" cy="201.92" r="0.53" fill="#9a9a9a" opacity="0.5"/>
<circle cx="128.66" cy="205.65" r="0.34" fill="#9a9a9a" opacity="0.5"/>
<circle cx="104.98" cy="219.11" r="0.6" fill="#9a9a9a" opacity="0.5"/>
<circle cx="126.38" cy="204.91" r="0.33" fill="#9a9a9a" opacity="0.5"/>
<circle cx="119.1" cy="198.79" r="0.52" fill="#9a9a9a" opacity="0.5"/>
<circle cx="104.79" cy="218.84" r="0.52" fill="#9a9a9a" opacity="0.5"/>
<circle cx="131.37" cy="193.38" r="0.44" fill="#9a9a9a" opacity="0.5"/>
<circle cx="123.75" cy="214.4" r="0.54" fill="#9a9a9a" opacity="0.5"/>
<circle cx="99.17" cy="212.87" r="0.47" fill="#9a9a9a" opacity="0.5"/>
<circle cx="107.05" cy="211.3" r="0.4" fill="#9a9a9a" opacity="0.5"/>
<circle cx="103.07" cy="214.7" r="0.61" fill="#9a9a9a" opacity="0.5"/>
<circle cx="114.87" cy="220.08" r="0.6" fill="#9a9a9a" opacity="0.5"/>
<circle cx="106" cy="208.72" r="0.61" fill="#9a9a9a" opacity="0.5"/>
<circle cx="129.07" cy="210.73" r="0.66" fill="#9a9a9a" opacity="0.5"/>
<circle cx="126.79" cy="198.51" r="0.35" fill="#9a9a9a" opacity="0.5"/>
<circle cx="99.3" cy="197.27" r="0.39" fill="#9a9a9a" opacity="0.5"/>
<circle cx="128.32" cy="212.19" r="0.32" fill="#9a9a9a" opacity="0.5"/>
<circle cx="96.8" cy="200.95" r="0.62" fill="#9a9a9a" opacity="0.5"/>
<circle cx="118.71" cy="216.43" r="0.52" fill="#9a9a9a" opacity="0.5"/>
<circle cx="108.69" cy="211.5" r="0.51" fill="#9a9a9a" opacity="0.5"/>
<circle cx="132.1" cy="206.26" r="0.62" fill="#9a9a9a" opacity="0.5"/>
<circle cx="133.85" cy="206.92" r="0.47" fill="#9a9a9a" opacity="0.5"/>
<circle cx="122.19" cy="215.09" r="0.58" fill="#9a9a9a" opacity="0.5"/>
<circle cx="109.79" cy="187.15" r="0.51" fill="#9a9a9a" opacity="0.5"/>
<circle cx="122.12" cy="219.71" r="0.39" fill="#9a9a9a" opacity="0.5"/>
<circle cx="97.67" cy="191.99" r="0.5" fill="#9a9a9a" opacity="0.5"/>
<circle cx="112.09" cy="188.98" r="0.61" fill="#9a9a9a" opacity="0.5"/>
<circle cx="105.8" cy="212.64" r="0.67" fill="#9a9a9a" opacity="0.5"/>
<circle cx="105.54" cy="194.45" r="0.67" fill="#9a9a9a" opacity="0.5"/>
<circle cx="112.94" cy="200.52" r="0.5" fill="#9a9a9a" opacity="0.5"/>
<circle cx="124.21" cy="218.58" r="0.32" fill="#9a9a9a" opacity="0.5"/>
<circle cx="116.85" cy="220.99" r="0.51" fill="#9a9a9a" opacity="0.5"/>
<circle cx="123.51" cy="219.54" r="0.38" fill="#9a9a9a" opacity="0.5"/>
<circle cx="105.27" cy="205.76" r="0.5" fill="#9a9a9a" opacity="0.5"/>
<circle cx="105.69" cy="219.62" r="0.33" fill="#9a9a9a" opacity="0.5"/>
<circle cx="107.32" cy="197.46" r="0.55" fill="#9a9a9a" opacity="0.5"/>
<circle cx="129.15" cy="198.08" r="0.55" fill="#9a9a9a" opacity="0.5"/>
<circle cx="105.37" cy="212.86" r="0.67" fill="#9a9a9a" opacity="0.5"/>
<circle cx="106.29" cy="189.51" r="0.55" fill="#9a9a9a" opacity="0.5"/>
<circle cx="124.81" cy="187.31" r="0.53" fill="#9a9a9a" opacity="0.5"/>
<circle cx="105.98" cy="215.94" r="0.38" fill="#9a9a9a" opacity="0.5"/>
<circle cx="100.49" cy="201.05" r="0.64" fill="#9a9a9a" opacity="0.5"/>
<circle cx="101.84" cy="192.1" r="0.68" fill="#9a9a9a" opacity="0.5"/>
<circle cx="124" cy="190.07" r="0.6" fill="#9a9a9a" opacity="0.5"/>
<circle cx="129.01" cy="192.47" r="0.54" fill="#9a9a9a" opacity="0.5"/>
<circle cx="119.75" cy="211.23" r="0.63" fill="#9a9a9a" opacity="0.5"/>
<circle cx="108.94" cy="218.88" r="0.46" fill="#9a9a9a" opacity="0.5"/>
<circle cx="104.71" cy="199.8" r="0.31" fill="#9a9a9a" opacity="0.5"/>
<circle cx="115.32" cy="184.63" r="0.48" fill="#9a9a9a" opacity="0.5"/>
<circle cx="105.73" cy="213.53" r="0.38" fill="#9a9a9a" opacity="0.5"/>
<circle cx="103.05" cy="204.04" r="0.7" fill="#9a9a9a" opacity="0.5"/>
<circle cx="125.9" cy="216.96" r="0.32" fill="#9a9a9a" opacity="0.5"/>
<circle cx="128.79" cy="214.31" r="0.67" fill="#9a9a9a" opacity="0.5"/>
<circle cx="113.96" cy="217" r="0.32" fill="#9a9a9a" opacity="0.5"/>
<circle cx="106.26" cy="210.16" r="0.42" fill="#9a9a9a" opacity="0.5"/>
<circle cx="127.57" cy="189.7" r="0.32" fill="#9a9a9a" opacity="0.5"/>
<circle cx="112.11" cy="191.09" r="0.57" fill="#9a9a9a" opacity="0.5"/>
<circle cx="116.72" cy="197.66" r="0.61" fill="#9a9a9a" opacity="0.5"/>
<circle cx="110.98" cy="214.61" r="0.44" fill="#9a9a9a" opacity="0.5"/>
<circle cx="130.32" cy="205.03" r="0.58" fill="#9a9a9a" opacity="0.5"/>
<circle cx="115.1" cy="184.91" r="0.6" fill="#9a9a9a" opacity="0.5"/>
<circle cx="107.53" cy="193.79" r="0.45" fill="#9a9a9a" opacity="0.5"/>
<circle cx="132.2" cy="193.58" r="0.62" fill="#9a9a9a" opacity="0.5"/>
<circle cx="126.67" cy="187.2" r="0.46" fill="#9a9a9a" opacity="0.5"/>
<circle cx="114.97" cy="206.38" r="0.4" fill="#9a9a9a" opacity="0.5"/>
<circle cx="117.19" cy="218.97" r="0.45" fill="#9a9a9a" opacity="0.5"/>
<circle cx="102.27" cy="190.54" r="0.42" fill="#9a9a9a" opacity="0.5"/>
<circle cx="112.16" cy="190.53" r="0.59" fill="#9a9a9a" opacity="0.5"/>
<circle cx="109.39" cy="189.99" r="0.37" fill="#9a9a9a" opacity="0.5"/>
<circle cx="126.57" cy="218.15" r="0.47" fill="#9a9a9a" opacity="0.5"/>
<circle cx="104.73" cy="217.3" r="0.5" fill="#9a9a9a" opacity="0.5"/>
<circle cx="120.7" cy="199.8" r="0.56" fill="#9a9a9a" opacity="0.5"/>
<circle cx="120.53" cy="187.18" r="0.47" fill="#9a9a9a" opacity="0.5"/>
<circle cx="123.98" cy="187.77" r="0.56" fill="#9a9a9a" opacity="0.5"/>
<circle cx="121.55" cy="208.51" r="0.54" fill="#9a9a9a" opacity="0.5"/>
<circle cx="102.24" cy="186.84" r="0.67" fill="#9a9a9a" opacity="0.5"/>
<circle cx="98.17" cy="209.15" r="0.32" fill="#9a9a9a" opacity="0.5"/>
<circle cx="102.74" cy="194.1" r="0.37" fill="#9a9a9a" opacity="0.5"/>
<circle cx="113.35" cy="206.54" r="0.65" fill="#9a9a9a" opacity="0.5"/>
<circle cx="117.75" cy="218.38" r="0.47" fill="#9a9a9a" opacity="0.5"/>
<ellipse cx="94.92" cy="198.41" rx="1.48" ry="0.82" fill="#444" transform="rotate(15 94.92 198.41)"/>
<ellipse cx="97.22" cy="192.57" rx="1.02" ry="0.56" fill="#0e0e0e" transform="rotate(10 97.22 192.57)"/>
<ellipse cx="96.87" cy="196.55" rx="1.67" ry="0.92" fill="#0e0e0e" transform="rotate(10 96.87 196.55)"/>
<ellipse cx="96.3" cy="199.07" rx="0.95" ry="0.52" fill="#0e0e0e" transform="rotate(11 96.3 199.07)"/>
<ellipse cx="97.24" cy="201.15" rx="1.23" ry="0.68" fill="#222" transform="rotate(137 97.24 201.15)"/>
<circle cx="98.62" cy="205.83" r="0.75" fill="#222"/>
<circle cx="96.91" cy="209.56" r="1.1" fill="#181818"/>
<ellipse cx="98.32" cy="211.21" rx="0.95" ry="0.53" fill="#444" transform="rotate(154 98.32 211.21)"/>
<circle cx="99.32" cy="189.38" r="0.57" fill="#181818"/>
<circle cx="100.22" cy="190.22" r="0.95" fill="#222"/>
<ellipse cx="98.97" cy="194.01" rx="0.9" ry="0.5" fill="#444" transform="rotate(77 98.97 194.01)"/>
<ellipse cx="101.33" cy="196.99" rx="1.23" ry="0.68" fill="#2e2e2e" transform="rotate(168 101.33 196.99)"/>
<circle cx="101.25" cy="202.32" r="1.03" fill="#181818"/>
<ellipse cx="99.28" cy="206.46" rx="1.61" ry="0.89" fill="#0e0e0e" transform="rotate(51 99.28 206.46)"/>
<circle cx="101.08" cy="207.65" r="0.51" fill="#444"/>
<ellipse cx="99.16" cy="211.99" rx="1.51" ry="0.84" fill="#444" transform="rotate(98 99.16 211.99)"/>
<ellipse cx="100.16" cy="213.18" rx="1.68" ry="0.92" fill="#181818" transform="rotate(114 100.16 213.18)"/>
<circle cx="104.23" cy="185.25" r="0.56" fill="#0e0e0e"/>
<circle cx="102.66" cy="193.77" r="0.63" fill="#181818"/>
<ellipse cx="103.58" cy="197.96" rx="0.88" ry="0.49" fill="#2e2e2e" transform="rotate(17 103.58 197.96)"/>
<ellipse cx="102.55" cy="199.07" rx="0.69" ry="0.38" fill="#181818" transform="rotate(118 102.55 199.07)"/>
<circle cx="101.91" cy="202.03" r="0.97" fill="#444"/>
<circle cx="104.52" cy="208.72" r="0.86" fill="#181818"/>
<ellipse cx="104.52" cy="212.38" rx="1.17" ry="0.65" fill="#181818" transform="rotate(78 104.52 212.38)"/>
<ellipse cx="102.41" cy="215.02" rx="0.81" ry="0.45" fill="#444" transform="rotate(78 102.41 215.02)"/>
<ellipse cx="105.98" cy="184.47" rx="0.86" ry="0.47" fill="#222" transform="rotate(12 105.98 184.47)"/>
<circle cx="105.05" cy="186.96" r="0.46" fill="#0e0e0e"/>
<ellipse cx="105.58" cy="191.61" rx="1.6" ry="0.88" fill="#2e2e2e" transform="rotate(19 105.58 191.61)"/>
<ellipse cx="105.11" cy="195.2" rx="0.91" ry="0.5" fill="#222" transform="rotate(172 105.11 195.2)"/>
<ellipse cx="105.95" cy="197.27" rx="1.62" ry="0.89" fill="#181818" transform="rotate(162 105.95 197.27)"/>
<circle cx="106.41" cy="198.38" r="1.15" fill="#444"/>
<circle cx="106.06" cy="202.42" r="1.13" fill="#0e0e0e"/>
<ellipse cx="105.5" cy="205.46" rx="1.42" ry="0.78" fill="#444" transform="rotate(121 105.5 205.46)"/>
<circle cx="106.6" cy="208" r="0.53" fill="#444"/>
<ellipse cx="106.65" cy="212.16" rx="0.65" ry="0.36" fill="#181818" transform="rotate(35 106.65 212.16)"/>
<ellipse cx="106.27" cy="213.73" rx="0.92" ry="0.51" fill="#444" transform="rotate(138 106.27 213.73)"/>
<ellipse cx="105.57" cy="219.14" rx="0.85" ry="0.47" fill="#2e2e2e" transform="rotate(71 105.57 219.14)"/>
<circle cx="108.43" cy="185.99" r="0.66" fill="#444"/>
<circle cx="108.84" cy="188.22" r="0.7" fill="#444"/>
<circle cx="108.74" cy="192.82" r="0.6" fill="#181818"/>
<circle cx="108.61" cy="196.6" r="0.83" fill="#181818"/>
<circle cx="107.85" cy="198.64" r="0.55" fill="#0e0e0e"/>
<ellipse cx="109.79" cy="203.2" rx="1.59" ry="0.88" fill="#181818" transform="rotate(101 109.79 203.2)"/>
<circle cx="108.13" cy="206" r="0.46" fill="#2e2e2e"/>
<circle cx="108.93" cy="207.75" r="0.86" fill="#444"/>
<ellipse cx="108.92" cy="210.65" rx="0.69" ry="0.38" fill="#0e0e0e" transform="rotate(105 108.92 210.65)"/>
<ellipse cx="109.4" cy="217.53" rx="1.18" ry="0.65" fill="#444" transform="rotate(11 109.4 217.53)"/>
<circle cx="110.6" cy="183.96" r="0.56" fill="#222"/>
<ellipse cx="110.75" cy="187.7" rx="1.75" ry="0.96" fill="#444" transform="rotate(145 110.75 187.7)"/>
<circle cx="111.86" cy="191.17" r="0.59" fill="#444"/>
<ellipse cx="113.1" cy="194.06" rx="1.17" ry="0.64" fill="#181818" transform="rotate(53 113.1 194.06)"/>
<circle cx="111.19" cy="196.26" r="0.76" fill="#0e0e0e"/>
<ellipse cx="112.79" cy="198.94" rx="1.01" ry="0.56" fill="#222" transform="rotate(25 112.79 198.94)"/>
<circle cx="110.53" cy="205.9" r="1.09" fill="#0e0e0e"/>
<circle cx="111.64" cy="210.68" r="0.72" fill="#181818"/>
<circle cx="112.51" cy="213.78" r="0.56" fill="#2e2e2e"/>
<circle cx="111.16" cy="216.74" r="1.18" fill="#2e2e2e"/>
<circle cx="110.63" cy="219.61" r="0.47" fill="#222"/>
<circle cx="114.26" cy="184.05" r="0.77" fill="#222"/>
<circle cx="115.53" cy="189.4" r="1.11" fill="#181818"/>
<circle cx="113.7" cy="194.38" r="0.73" fill="#2e2e2e"/>
<ellipse cx="114.57" cy="198.12" rx="1.8" ry="0.99" fill="#444" transform="rotate(158 114.57 198.12)"/>
<circle cx="115.97" cy="199.3" r="1.11" fill="#181818"/>
<ellipse cx="115.33" cy="201.92" rx="1.25" ry="0.69" fill="#222" transform="rotate(107 115.33 201.92)"/>
<ellipse cx="115.12" cy="205.07" rx="1.63" ry="0.9" fill="#2e2e2e" transform="rotate(117 115.12 205.07)"/>
<circle cx="113.54" cy="210.27" r="1.15" fill="#181818"/>
<circle cx="113.56" cy="213.01" r="0.78" fill="#222"/>
<circle cx="116.13" cy="216.98" r="0.6" fill="#444"/>
<ellipse cx="115.96" cy="219.44" rx="1.27" ry="0.7" fill="#222" transform="rotate(42 115.96 219.44)"/>
<circle cx="117.71" cy="186.14" r="0.72" fill="#222"/>
<circle cx="117.08" cy="191.25" r="0.98" fill="#2e2e2e"/>
<ellipse cx="117.37" cy="192.44" rx="0.66" ry="0.37" fill="#444" transform="rotate(73 117.37 192.44)"/>
<ellipse cx="117.89" cy="197.8" rx="0.85" ry="0.47" fill="#444" transform="rotate(160 117.89 197.8)"/>
<ellipse cx="118.77" cy="203.93" rx="1.14" ry="0.63" fill="#181818" transform="rotate(20 118.77 203.93)"/>
<circle cx="119.04" cy="207.97" r="0.53" fill="#222"/>
<circle cx="116.17" cy="211.64" r="1.06" fill="#2e2e2e"/>
<circle cx="118.42" cy="217.34" r="0.93" fill="#0e0e0e"/>
<ellipse cx="120.07" cy="183.09" rx="1.2" ry="0.66" fill="#0e0e0e" transform="rotate(71 120.07 183.09)"/>
<ellipse cx="121.34" cy="188.92" rx="0.67" ry="0.37" fill="#222" transform="rotate(122 121.34 188.92)"/>
<ellipse cx="120.04" cy="190.54" rx="1.27" ry="0.7" fill="#222" transform="rotate(87 120.04 190.54)"/>
<ellipse cx="121.58" cy="195.09" rx="0.83" ry="0.46" fill="#181818" transform="rotate(14 121.58 195.09)"/>
<ellipse cx="119.85" cy="197.97" rx="0.66" ry="0.36" fill="#444" transform="rotate(39 119.85 197.97)"/>
<ellipse cx="119.53" cy="199.71" rx="1.8" ry="0.99" fill="#181818" transform="rotate(10 119.53 199.71)"/>
<circle cx="120.33" cy="205.46" r="0.53" fill="#0e0e0e"/>
<ellipse cx="121.51" cy="208.61" rx="1.54" ry="0.85" fill="#444" transform="rotate(108 121.51 208.61)"/>
<circle cx="121.02" cy="211.47" r="0.56" fill="#222"/>
<ellipse cx="121.31" cy="213.31" rx="1.77" ry="0.98" fill="#2e2e2e" transform="rotate(10 121.31 213.31)"/>
<circle cx="120.77" cy="215.65" r="0.87" fill="#2e2e2e"/>
<circle cx="119.44" cy="219.81" r="0.78" fill="#222"/>
<ellipse cx="123.95" cy="188.86" rx="1.2" ry="0.66" fill="#0e0e0e" transform="rotate(107 123.95 188.86)"/>
<ellipse cx="122.83" cy="190.22" rx="0.76" ry="0.42" fill="#2e2e2e" transform="rotate(139 122.83 190.22)"/>
<circle cx="122.16" cy="192.66" r="0.78" fill="#444"/>
<circle cx="123.24" cy="206.65" r="0.88" fill="#222"/>
<circle cx="124.01" cy="208.25" r="1" fill="#222"/>
<circle cx="123.2" cy="211.63" r="1.18" fill="#2e2e2e"/>
<ellipse cx="123.21" cy="218.35" rx="1.19" ry="0.66" fill="#222" transform="rotate(138 123.21 218.35)"/>
<ellipse cx="124.98" cy="189.03" rx="1.18" ry="0.65" fill="#444" transform="rotate(5 124.98 189.03)"/>
<ellipse cx="125.24" cy="190.13" rx="1.59" ry="0.88" fill="#0e0e0e" transform="rotate(99 125.24 190.13)"/>
<ellipse cx="125.94" cy="193.55" rx="0.76" ry="0.42" fill="#444" transform="rotate(4 125.94 193.55)"/>
<ellipse cx="127.02" cy="196.72" rx="0.76" ry="0.42" fill="#2e2e2e" transform="rotate(38 127.02 196.72)"/>
<ellipse cx="127.52" cy="199.21" rx="0.72" ry="0.4" fill="#0e0e0e" transform="rotate(24 127.52 199.21)"/>
<circle cx="125.19" cy="203.55" r="0.75" fill="#2e2e2e"/>
<circle cx="125.21" cy="206.71" r="0.47" fill="#0e0e0e"/>
<circle cx="125.29" cy="209.82" r="1.14" fill="#181818"/>
<circle cx="126.25" cy="214.83" r="0.72" fill="#222"/>
<ellipse cx="128.09" cy="190.06" rx="1.63" ry="0.9" fill="#2e2e2e" transform="rotate(58 128.09 190.06)"/>
<circle cx="129.77" cy="192.65" r="1.07" fill="#2e2e2e"/>
<circle cx="130.31" cy="195.82" r="1.24" fill="#2e2e2e"/>
<circle cx="129.46" cy="198.16" r="0.98" fill="#2e2e2e"/>
<ellipse cx="130.55" cy="201.32" rx="0.78" ry="0.43" fill="#0e0e0e" transform="rotate(90 130.55 201.32)"/>
<circle cx="127.93" cy="205.19" r="1.22" fill="#0e0e0e"/>
<circle cx="129.57" cy="208.79" r="1.04" fill="#222"/>
<circle cx="130.39" cy="211.14" r="1.22" fill="#181818"/>
<circle cx="131.69" cy="197.7" r="1.16" fill="#0e0e0e"/>
<circle cx="133.5" cy="200.7" r="0.76" fill="#181818"/>
<circle cx="132.11" cy="201.45" r="0.8" fill="#181818"/>
<circle cx="130.76" cy="205.31" r="0.62" fill="#181818"/>
<circle cx="131.59" cy="207.93" r="0.71" fill="#222"/>
<ellipse cx="130.69" cy="210.33" rx="0.67" ry="0.37" fill="#0e0e0e" transform="rotate(63 130.69 210.33)"/>
<circle cx="133.59" cy="200.02" r="0.52" fill="#2e2e2e"/>
<circle cx="131.99" cy="197.02" r="0.85" fill="#2e2e2e"/>
<circle cx="131.77" cy="195.55" r="0.65" fill="#2e2e2e"/>
<ellipse cx="125.01" cy="216.43" rx="0.7" ry="0.38" fill="#444" transform="rotate(35 125.01 216.43)"/>
<circle cx="117.41" cy="221.45" r="1.17" fill="#444"/>
<ellipse cx="130.61" cy="208.6" rx="1.73" ry="0.96" fill="#0e0e0e" transform="rotate(6 130.61 208.6)"/>
<circle cx="96.2" cy="208.7" r="0.54" fill="#181818"/>
<circle cx="117.89" cy="219.52" r="0.69" fill="#444"/>
<circle cx="129.31" cy="190.27" r="0.95" fill="#222"/>
<circle cx="100.94" cy="214.8" r="1.12" fill="#2e2e2e"/>
<ellipse cx="112.31" cy="182.72" rx="0.69" ry="0.38" fill="#222" transform="rotate(154 112.31 182.72)"/>
<circle cx="100.44" cy="190.38" r="0.46" fill="#2e2e2e"/>
<circle cx="112.98" cy="221.56" r="0.61" fill="#0e0e0e"/>
<ellipse cx="109.43" cy="221.48" rx="1.05" ry="0.58" fill="#444" transform="rotate(136 109.43 221.48)"/>
<circle cx="119" cy="219.19" r="0.63" fill="#2e2e2e"/>
<circle cx="102.11" cy="187.95" r="1.01" fill="#0e0e0e"/>
<circle cx="118.74" cy="184.62" r="0.94" fill="#0e0e0e"/>
<circle cx="97.74" cy="198.52" r="0.99" fill="#444"/>
<circle cx="116.63" cy="220.66" r="0.45" fill="#444"/>
<ellipse cx="129.07" cy="212.76" rx="1.47" ry="0.81" fill="#222" transform="rotate(10 129.07 212.76)"/>
<circle cx="101.99" cy="189.82" r="0.51" fill="#222"/>
<circle cx="105.54" cy="217.69" r="0.87" fill="#181818"/>
<circle cx="97.09" cy="203.21" r="0.75" fill="#222"/>
<circle cx="95.42" cy="202.72" r="1.23" fill="#222"/>
<circle cx="132.16" cy="195.62" r="0.46" fill="#2e2e2e"/>
<ellipse cx="101.58" cy="189.44" rx="1.24" ry="0.68" fill="#181818" transform="rotate(116 101.58 189.44)"/>
<circle cx="133.64" cy="198.87" r="0.69" fill="#444"/>
<circle cx="132.52" cy="205.02" r="0.92" fill="#444"/>
<circle cx="126.92" cy="188.86" r="0.48" fill="#444"/>
<circle cx="131.39" cy="209.07" r="0.69" fill="#2e2e2e"/>
<ellipse cx="98.77" cy="209.7" rx="0.67" ry="0.37" fill="#222" transform="rotate(162 98.77 209.7)"/>
<ellipse cx="99.45" cy="191.62" rx="1.72" ry="0.95" fill="#2e2e2e" transform="rotate(65 99.45 191.62)"/>
<circle cx="98.13" cy="210.99" r="1.21" fill="#0e0e0e"/>
<circle cx="116.44" cy="184.38" r="1.17" fill="#0e0e0e"/>
<circle cx="132.01" cy="195.8" r="0.52" fill="#181818"/>
<ellipse cx="97.17" cy="198.09" rx="0.67" ry="0.37" fill="#0e0e0e" transform="rotate(24 97.17 198.09)"/>
<circle cx="105.58" cy="185.52" r="0.98" fill="#444"/>
<ellipse cx="96.76" cy="195.08" rx="0.67" ry="0.37" fill="#2e2e2e" transform="rotate(88 96.76 195.08)"/>
<circle cx="129.38" cy="212.69" r="0.5" fill="#2e2e2e"/>
<ellipse cx="112.87" cy="219.6" rx="1.27" ry="0.7" fill="#181818" transform="rotate(146 112.87 219.6)"/>
<circle cx="125.64" cy="215.6" r="0.77" fill="#181818"/>
<circle cx="109.45" cy="184.84" r="0.87" fill="#444"/>
<ellipse cx="95.55" cy="204.82" rx="1.2" ry="0.66" fill="#181818" transform="rotate(18 95.55 204.82)"/>
<circle cx="117.44" cy="183.86" r="1.18" fill="#0e0e0e"/>
<ellipse cx="99.49" cy="214.5" rx="1.53" ry="0.85" fill="#222" transform="rotate(22 99.49 214.5)"/>
<circle cx="164.4" cy="202.3" r="22.8" fill="#cdcdcd" stroke="#767676" stroke-width="0.7"/>
<circle cx="164.4" cy="202.3" r="21.2" fill="#e4e4e4" stroke="#474747" stroke-width="0.95"/>
<circle cx="180.68" cy="202.37" r="0.6" fill="#9a9a9a" opacity="0.5"/>
<circle cx="149.74" cy="197.66" r="0.55" fill="#9a9a9a" opacity="0.5"/>
<circle cx="164.92" cy="192.23" r="0.45" fill="#9a9a9a" opacity="0.5"/>
<circle cx="170.54" cy="187.46" r="0.42" fill="#9a9a9a" opacity="0.5"/>
<circle cx="160.81" cy="196.19" r="0.5" fill="#9a9a9a" opacity="0.5"/>
<circle cx="164.31" cy="199.2" r="0.65" fill="#9a9a9a" opacity="0.5"/>
<circle cx="145.59" cy="208.9" r="0.62" fill="#9a9a9a" opacity="0.5"/>
<circle cx="168.18" cy="207.89" r="0.4" fill="#9a9a9a" opacity="0.5"/>
<circle cx="169.41" cy="191.99" r="0.55" fill="#9a9a9a" opacity="0.5"/>
<circle cx="146.29" cy="195.36" r="0.3" fill="#9a9a9a" opacity="0.5"/>
<circle cx="160.78" cy="188.89" r="0.56" fill="#9a9a9a" opacity="0.5"/>
<circle cx="154.57" cy="208.67" r="0.66" fill="#9a9a9a" opacity="0.5"/>
<circle cx="155.1" cy="205.98" r="0.51" fill="#9a9a9a" opacity="0.5"/>
<circle cx="162.11" cy="191.24" r="0.69" fill="#9a9a9a" opacity="0.5"/>
<circle cx="166.61" cy="219.31" r="0.45" fill="#9a9a9a" opacity="0.5"/>
<circle cx="164.37" cy="203.07" r="0.5" fill="#9a9a9a" opacity="0.5"/>
<circle cx="151.33" cy="201.74" r="0.49" fill="#9a9a9a" opacity="0.5"/>
<circle cx="146.25" cy="200.42" r="0.34" fill="#9a9a9a" opacity="0.5"/>
<circle cx="174.29" cy="210.32" r="0.35" fill="#9a9a9a" opacity="0.5"/>
<circle cx="151.03" cy="207.63" r="0.68" fill="#9a9a9a" opacity="0.5"/>
<circle cx="166.34" cy="211.38" r="0.45" fill="#9a9a9a" opacity="0.5"/>
<circle cx="160.99" cy="191.02" r="0.4" fill="#9a9a9a" opacity="0.5"/>
<circle cx="164.51" cy="198.78" r="0.4" fill="#9a9a9a" opacity="0.5"/>
<circle cx="146.84" cy="204.28" r="0.51" fill="#9a9a9a" opacity="0.5"/>
<circle cx="153.98" cy="218.28" r="0.64" fill="#9a9a9a" opacity="0.5"/>
<circle cx="168.49" cy="210.28" r="0.56" fill="#9a9a9a" opacity="0.5"/>
<circle cx="166.03" cy="215.25" r="0.45" fill="#9a9a9a" opacity="0.5"/>
<circle cx="181.68" cy="200.77" r="0.61" fill="#9a9a9a" opacity="0.5"/>
<circle cx="165.46" cy="203.13" r="0.46" fill="#9a9a9a" opacity="0.5"/>
<circle cx="149.57" cy="194.96" r="0.46" fill="#9a9a9a" opacity="0.5"/>
<circle cx="182.17" cy="202.25" r="0.4" fill="#9a9a9a" opacity="0.5"/>
<circle cx="151.57" cy="211.31" r="0.61" fill="#9a9a9a" opacity="0.5"/>
<circle cx="149.8" cy="189.71" r="0.67" fill="#9a9a9a" opacity="0.5"/>
<circle cx="149.94" cy="208.31" r="0.65" fill="#9a9a9a" opacity="0.5"/>
<circle cx="166.82" cy="185.54" r="0.34" fill="#9a9a9a" opacity="0.5"/>
<circle cx="159.85" cy="201.4" r="0.55" fill="#9a9a9a" opacity="0.5"/>
<circle cx="167.3" cy="220.85" r="0.48" fill="#9a9a9a" opacity="0.5"/>
<circle cx="160.96" cy="214.45" r="0.3" fill="#9a9a9a" opacity="0.5"/>
<circle cx="150.77" cy="212.62" r="0.38" fill="#9a9a9a" opacity="0.5"/>
<circle cx="178.36" cy="193.76" r="0.46" fill="#9a9a9a" opacity="0.5"/>
<circle cx="179.98" cy="213.45" r="0.56" fill="#9a9a9a" opacity="0.5"/>
<circle cx="173" cy="216.85" r="0.5" fill="#9a9a9a" opacity="0.5"/>
<circle cx="153.45" cy="185.94" r="0.61" fill="#9a9a9a" opacity="0.5"/>
<circle cx="171.33" cy="193.98" r="0.36" fill="#9a9a9a" opacity="0.5"/>
<circle cx="170.77" cy="189.45" r="0.49" fill="#9a9a9a" opacity="0.5"/>
<circle cx="151.1" cy="207.92" r="0.38" fill="#9a9a9a" opacity="0.5"/>
<circle cx="178.14" cy="205.8" r="0.64" fill="#9a9a9a" opacity="0.5"/>
<circle cx="161.37" cy="212.81" r="0.36" fill="#9a9a9a" opacity="0.5"/>
<circle cx="162.84" cy="221.17" r="0.69" fill="#9a9a9a" opacity="0.5"/>
<circle cx="163.35" cy="221.05" r="0.48" fill="#9a9a9a" opacity="0.5"/>
<circle cx="154.03" cy="186.55" r="0.59" fill="#9a9a9a" opacity="0.5"/>
<circle cx="174.18" cy="194.7" r="0.34" fill="#9a9a9a" opacity="0.5"/>
<circle cx="169.7" cy="220.85" r="0.32" fill="#9a9a9a" opacity="0.5"/>
<circle cx="164.29" cy="198.29" r="0.62" fill="#9a9a9a" opacity="0.5"/>
<circle cx="179.62" cy="197.96" r="0.43" fill="#9a9a9a" opacity="0.5"/>
<circle cx="174.73" cy="196.74" r="0.55" fill="#9a9a9a" opacity="0.5"/>
<circle cx="145.17" cy="199.98" r="0.4" fill="#9a9a9a" opacity="0.5"/>
<circle cx="174.41" cy="208.11" r="0.56" fill="#9a9a9a" opacity="0.5"/>
<circle cx="183.04" cy="205.38" r="0.65" fill="#9a9a9a" opacity="0.5"/>
<circle cx="161.23" cy="218.36" r="0.63" fill="#9a9a9a" opacity="0.5"/>
<circle cx="172.24" cy="191.81" r="0.55" fill="#9a9a9a" opacity="0.5"/>
<circle cx="177.97" cy="206.14" r="0.65" fill="#9a9a9a" opacity="0.5"/>
<circle cx="145.99" cy="197.4" r="0.34" fill="#9a9a9a" opacity="0.5"/>
<circle cx="159.72" cy="221.62" r="0.32" fill="#9a9a9a" opacity="0.5"/>
<circle cx="166.1" cy="215.14" r="0.53" fill="#9a9a9a" opacity="0.5"/>
<circle cx="152.08" cy="193.36" r="0.57" fill="#9a9a9a" opacity="0.5"/>
<circle cx="156.16" cy="215.93" r="0.65" fill="#9a9a9a" opacity="0.5"/>
<circle cx="172.75" cy="219.85" r="0.51" fill="#9a9a9a" opacity="0.5"/>
<circle cx="174.31" cy="185.51" r="0.65" fill="#9a9a9a" opacity="0.5"/>
<circle cx="168.59" cy="190.05" r="0.46" fill="#9a9a9a" opacity="0.5"/>
<circle cx="164.37" cy="203.09" r="0.31" fill="#9a9a9a" opacity="0.5"/>
<circle cx="166.04" cy="193.98" r="0.4" fill="#9a9a9a" opacity="0.5"/>
<circle cx="151.89" cy="206.47" r="0.34" fill="#9a9a9a" opacity="0.5"/>
<circle cx="167.75" cy="188.9" r="0.63" fill="#9a9a9a" opacity="0.5"/>
<circle cx="157.63" cy="200.16" r="0.57" fill="#9a9a9a" opacity="0.5"/>
<circle cx="150.1" cy="197.57" r="0.42" fill="#9a9a9a" opacity="0.5"/>
<circle cx="162.7" cy="190.77" r="0.4" fill="#9a9a9a" opacity="0.5"/>
<circle cx="157.09" cy="197.14" r="0.37" fill="#9a9a9a" opacity="0.5"/>
<circle cx="159.84" cy="187.8" r="0.45" fill="#9a9a9a" opacity="0.5"/>
<circle cx="161.61" cy="201.06" r="0.67" fill="#9a9a9a" opacity="0.5"/>
<circle cx="157.62" cy="187.38" r="0.51" fill="#9a9a9a" opacity="0.5"/>
<circle cx="166.03" cy="184.51" r="0.61" fill="#9a9a9a" opacity="0.5"/>
<circle cx="172.13" cy="217.66" r="0.61" fill="#9a9a9a" opacity="0.5"/>
<circle cx="159.4" cy="195.13" r="0.39" fill="#9a9a9a" opacity="0.5"/>
<circle cx="153.16" cy="192.83" r="0.43" fill="#9a9a9a" opacity="0.5"/>
<circle cx="159.36" cy="193.66" r="0.5" fill="#9a9a9a" opacity="0.5"/>
<circle cx="163.95" cy="214.76" r="0.57" fill="#9a9a9a" opacity="0.5"/>
<circle cx="150.58" cy="189.41" r="0.59" fill="#9a9a9a" opacity="0.5"/>
<circle cx="161.97" cy="192.28" r="0.53" fill="#9a9a9a" opacity="0.5"/>
<circle cx="161.84" cy="218.11" r="0.61" fill="#9a9a9a" opacity="0.5"/>
<circle cx="170.46" cy="217.4" r="0.34" fill="#9a9a9a" opacity="0.5"/>
<circle cx="161.64" cy="219.26" r="0.39" fill="#9a9a9a" opacity="0.5"/>
<circle cx="162.34" cy="199.32" r="0.39" fill="#9a9a9a" opacity="0.5"/>
<circle cx="163.72" cy="211.49" r="0.4" fill="#9a9a9a" opacity="0.5"/>
<circle cx="167.91" cy="203.24" r="0.36" fill="#9a9a9a" opacity="0.5"/>
<circle cx="151.19" cy="202.54" r="0.68" fill="#9a9a9a" opacity="0.5"/>
<circle cx="152.6" cy="215.42" r="0.44" fill="#9a9a9a" opacity="0.5"/>
<circle cx="170.54" cy="220.42" r="0.62" fill="#9a9a9a" opacity="0.5"/>
<circle cx="162.99" cy="217.96" r="0.61" fill="#9a9a9a" opacity="0.5"/>
<circle cx="156.65" cy="212.09" r="0.33" fill="#9a9a9a" opacity="0.5"/>
<circle cx="176.91" cy="208.71" r="0.48" fill="#9a9a9a" opacity="0.5"/>
<circle cx="160.73" cy="212" r="0.64" fill="#9a9a9a" opacity="0.5"/>
<circle cx="172.3" cy="187.85" r="0.5" fill="#9a9a9a" opacity="0.5"/>
<circle cx="147.43" cy="210.1" r="0.47" fill="#9a9a9a" opacity="0.5"/>
<circle cx="164.91" cy="182.99" r="0.59" fill="#9a9a9a" opacity="0.5"/>
<circle cx="165.5" cy="185.11" r="0.64" fill="#9a9a9a" opacity="0.5"/>
<circle cx="162.89" cy="208.31" r="0.68" fill="#9a9a9a" opacity="0.5"/>
<circle cx="170.56" cy="212.15" r="0.45" fill="#9a9a9a" opacity="0.5"/>
<circle cx="153.23" cy="207.6" r="0.64" fill="#9a9a9a" opacity="0.5"/>
<circle cx="155" cy="211.53" r="0.38" fill="#9a9a9a" opacity="0.5"/>
<circle cx="182.94" cy="202.12" r="0.49" fill="#9a9a9a" opacity="0.5"/>
<circle cx="167.8" cy="208.76" r="0.55" fill="#9a9a9a" opacity="0.5"/>
<circle cx="160.39" cy="191.66" r="0.48" fill="#9a9a9a" opacity="0.5"/>
<circle cx="165.41" cy="194.2" r="0.55" fill="#9a9a9a" opacity="0.5"/>
<circle cx="144.89" cy="204.24" r="0.31" fill="#9a9a9a" opacity="0.5"/>
<circle cx="167.58" cy="211.78" r="0.35" fill="#9a9a9a" opacity="0.5"/>
<circle cx="161.52" cy="221.52" r="0.31" fill="#9a9a9a" opacity="0.5"/>
<circle cx="151.75" cy="215.45" r="0.39" fill="#9a9a9a" opacity="0.5"/>
<circle cx="179.19" cy="195.68" r="0.36" fill="#9a9a9a" opacity="0.5"/>
<circle cx="171.61" cy="205.55" r="0.47" fill="#9a9a9a" opacity="0.5"/>
<circle cx="144.89" cy="202.04" r="0.95" fill="#222"/>
<circle cx="145.6" cy="204.38" r="0.98" fill="#222"/>
<circle cx="146.96" cy="192.49" r="0.7" fill="#2e2e2e"/>
<circle cx="146.22" cy="196.05" r="0.64" fill="#444"/>
<circle cx="146.26" cy="198.98" r="0.52" fill="#181818"/>
<circle cx="147.4" cy="201.14" r="0.58" fill="#222"/>
<ellipse cx="147.95" cy="205.26" rx="1.22" ry="0.67" fill="#444" transform="rotate(135 147.95 205.26)"/>
<circle cx="147.02" cy="208.03" r="1.05" fill="#222"/>
<circle cx="148.31" cy="213.1" r="0.73" fill="#2e2e2e"/>
<ellipse cx="151.09" cy="189.12" rx="0.75" ry="0.41" fill="#181818" transform="rotate(17 151.09 189.12)"/>
<circle cx="150.76" cy="193.03" r="0.94" fill="#444"/>
<circle cx="149.24" cy="197.4" r="0.67" fill="#2e2e2e"/>
<circle cx="150.48" cy="200.05" r="0.62" fill="#181818"/>
<circle cx="148.51" cy="202.99" r="1.1" fill="#2e2e2e"/>
<circle cx="150.08" cy="204.01" r="1.08" fill="#2e2e2e"/>
<circle cx="149.14" cy="207.56" r="0.74" fill="#0e0e0e"/>
<ellipse cx="148.58" cy="213.29" rx="1.11" ry="0.61" fill="#181818" transform="rotate(52 148.58 213.29)"/>
<ellipse cx="153.46" cy="186.24" rx="1.43" ry="0.79" fill="#0e0e0e" transform="rotate(82 153.46 186.24)"/>
<circle cx="153.34" cy="188.93" r="0.51" fill="#444"/>
<ellipse cx="152.87" cy="200.1" rx="1.61" ry="0.89" fill="#444" transform="rotate(126 152.87 200.1)"/>
<ellipse cx="153" cy="201.84" rx="1.58" ry="0.87" fill="#0e0e0e" transform="rotate(102 153 201.84)"/>
<circle cx="152.91" cy="207.95" r="0.64" fill="#222"/>
<ellipse cx="151.56" cy="210.4" rx="0.67" ry="0.37" fill="#0e0e0e" transform="rotate(147 151.56 210.4)"/>
<ellipse cx="151.53" cy="213.67" rx="0.92" ry="0.51" fill="#222" transform="rotate(110 151.53 213.67)"/>
<circle cx="154" cy="215.29" r="0.65" fill="#2e2e2e"/>
<ellipse cx="156.48" cy="184.02" rx="1.55" ry="0.86" fill="#222" transform="rotate(95 156.48 184.02)"/>
<ellipse cx="154.87" cy="188.25" rx="0.67" ry="0.37" fill="#222" transform="rotate(150 154.87 188.25)"/>
<ellipse cx="154.17" cy="189.12" rx="0.72" ry="0.4" fill="#222" transform="rotate(85 154.17 189.12)"/>
<ellipse cx="155.3" cy="194.63" rx="0.72" ry="0.4" fill="#2e2e2e" transform="rotate(71 155.3 194.63)"/>
<ellipse cx="154.37" cy="195.8" rx="0.97" ry="0.54" fill="#2e2e2e" transform="rotate(96 154.37 195.8)"/>
<circle cx="155.09" cy="201.96" r="1.14" fill="#222"/>
<circle cx="154.78" cy="205.12" r="1.23" fill="#2e2e2e"/>
<ellipse cx="156.48" cy="208.47" rx="0.74" ry="0.41" fill="#181818" transform="rotate(43 156.48 208.47)"/>
<ellipse cx="156.61" cy="214.01" rx="1.67" ry="0.92" fill="#222" transform="rotate(179 156.61 214.01)"/>
<circle cx="154.92" cy="215.87" r="0.92" fill="#181818"/>
<circle cx="156.17" cy="217.33" r="0.47" fill="#2e2e2e"/>
<circle cx="156.64" cy="220.36" r="0.93" fill="#2e2e2e"/>
<ellipse cx="156.99" cy="185.27" rx="0.97" ry="0.53" fill="#2e2e2e" transform="rotate(57 156.99 185.27)"/>
<ellipse cx="159.15" cy="187.93" rx="0.94" ry="0.52" fill="#0e0e0e" transform="rotate(171 159.15 187.93)"/>
<circle cx="158.54" cy="190.92" r="0.68" fill="#2e2e2e"/>
<ellipse cx="157.95" cy="193.37" rx="0.74" ry="0.41" fill="#181818" transform="rotate(68 157.95 193.37)"/>
<circle cx="158.74" cy="195.95" r="0.77" fill="#2e2e2e"/>
<circle cx="159.47" cy="198.65" r="0.75" fill="#0e0e0e"/>
<circle cx="157.58" cy="204.53" r="0.6" fill="#444"/>
<circle cx="159.16" cy="206.77" r="0.5" fill="#444"/>
<ellipse cx="158.59" cy="211.81" rx="0.74" ry="0.41" fill="#2e2e2e" transform="rotate(37 158.59 211.81)"/>
<ellipse cx="158.59" cy="215.57" rx="1.68" ry="0.93" fill="#2e2e2e" transform="rotate(142 158.59 215.57)"/>
<ellipse cx="160.82" cy="182.62" rx="0.81" ry="0.45" fill="#181818" transform="rotate(173 160.82 182.62)"/>
<ellipse cx="160.25" cy="184.86" rx="1.27" ry="0.7" fill="#0e0e0e" transform="rotate(84 160.25 184.86)"/>
<circle cx="162.12" cy="187.31" r="0.5" fill="#444"/>
<ellipse cx="159.77" cy="189.67" rx="0.98" ry="0.54" fill="#2e2e2e" transform="rotate(165 159.77 189.67)"/>
<circle cx="160.27" cy="193.89" r="0.73" fill="#2e2e2e"/>
<circle cx="160.75" cy="195.86" r="0.69" fill="#444"/>
<circle cx="159.6" cy="200.14" r="0.74" fill="#2e2e2e"/>
<circle cx="159.76" cy="200.74" r="0.49" fill="#222"/>
<ellipse cx="161.84" cy="203.5" rx="0.74" ry="0.41" fill="#0e0e0e" transform="rotate(42 161.84 203.5)"/>
<ellipse cx="160.61" cy="208.66" rx="1.43" ry="0.79" fill="#0e0e0e" transform="rotate(83 160.61 208.66)"/>
<circle cx="160.32" cy="211.42" r="0.65" fill="#181818"/>
<circle cx="162.04" cy="213.04" r="0.88" fill="#0e0e0e"/>
<circle cx="161.65" cy="217.98" r="0.83" fill="#0e0e0e"/>
<ellipse cx="162.61" cy="183.84" rx="1" ry="0.55" fill="#0e0e0e" transform="rotate(129 162.61 183.84)"/>
<circle cx="163.71" cy="186.5" r="0.76" fill="#2e2e2e"/>
<ellipse cx="163.35" cy="191.65" rx="0.73" ry="0.4" fill="#444" transform="rotate(144 163.35 191.65)"/>
<ellipse cx="163.7" cy="193.85" rx="1.6" ry="0.88" fill="#444" transform="rotate(37 163.7 193.85)"/>
<circle cx="163.83" cy="196.65" r="0.85" fill="#181818"/>
<circle cx="164.45" cy="197.71" r="1.08" fill="#181818"/>
<circle cx="165.18" cy="201.56" r="1.22" fill="#222"/>
<circle cx="164.68" cy="204.26" r="0.72" fill="#0e0e0e"/>
<circle cx="164.1" cy="207.76" r="1.14" fill="#2e2e2e"/>
<circle cx="164.79" cy="210" r="0.59" fill="#0e0e0e"/>
<circle cx="163.78" cy="212.32" r="1.1" fill="#0e0e0e"/>
<circle cx="164.91" cy="216.69" r="1.11" fill="#181818"/>
<circle cx="164.06" cy="219.04" r="0.51" fill="#444"/>
<circle cx="163" cy="221.15" r="1.11" fill="#444"/>
<circle cx="166.67" cy="182.94" r="1.15" fill="#0e0e0e"/>
<circle cx="165.33" cy="188.47" r="0.7" fill="#222"/>
<circle cx="166.72" cy="191.12" r="0.93" fill="#2e2e2e"/>
<circle cx="166.07" cy="193.23" r="0.81" fill="#0e0e0e"/>
<ellipse cx="166.46" cy="197.47" rx="1.59" ry="0.88" fill="#181818" transform="rotate(89 166.46 197.47)"/>
<circle cx="166.17" cy="199.49" r="0.48" fill="#181818"/>
<circle cx="165.96" cy="204.97" r="0.5" fill="#181818"/>
<ellipse cx="166.53" cy="206.66" rx="1.44" ry="0.79" fill="#0e0e0e" transform="rotate(71 166.53 206.66)"/>
<ellipse cx="166.36" cy="209.48" rx="1.46" ry="0.81" fill="#222" transform="rotate(11 166.36 209.48)"/>
<circle cx="165.51" cy="212.41" r="0.61" fill="#2e2e2e"/>
<ellipse cx="166" cy="219.88" rx="1.67" ry="0.92" fill="#444" transform="rotate(62 166 219.88)"/>
<ellipse cx="168.38" cy="183.74" rx="0.66" ry="0.36" fill="#2e2e2e" transform="rotate(50 168.38 183.74)"/>
<ellipse cx="170.04" cy="188.53" rx="0.78" ry="0.43" fill="#0e0e0e" transform="rotate(43 170.04 188.53)"/>
<circle cx="169.1" cy="191.92" r="0.69" fill="#444"/>
<circle cx="169.21" cy="199.57" r="0.62" fill="#181818"/>
<circle cx="169.17" cy="200.47" r="1.18" fill="#0e0e0e"/>
<circle cx="168.42" cy="205.61" r="1.2" fill="#222"/>
<circle cx="169.36" cy="207.11" r="0.57" fill="#444"/>
<ellipse cx="168.89" cy="211.6" rx="0.76" ry="0.42" fill="#444" transform="rotate(72 168.89 211.6)"/>
<ellipse cx="168.09" cy="217.9" rx="1.7" ry="0.94" fill="#181818" transform="rotate(64 168.09 217.9)"/>
<ellipse cx="172.12" cy="184.32" rx="1.57" ry="0.87" fill="#181818" transform="rotate(54 172.12 184.32)"/>
<ellipse cx="171.54" cy="187.82" rx="1.28" ry="0.71" fill="#0e0e0e" transform="rotate(165 171.54 187.82)"/>
<ellipse cx="170.86" cy="190.61" rx="0.67" ry="0.37" fill="#2e2e2e" transform="rotate(134 170.86 190.61)"/>
<circle cx="172.96" cy="194.16" r="1" fill="#0e0e0e"/>
<circle cx="173.16" cy="195" r="0.87" fill="#181818"/>
<ellipse cx="173.02" cy="200.55" rx="1.65" ry="0.91" fill="#2e2e2e" transform="rotate(112 173.02 200.55)"/>
<circle cx="170.89" cy="207.05" r="1.2" fill="#0e0e0e"/>
<circle cx="173.54" cy="211.86" r="0.78" fill="#222"/>
<circle cx="172.01" cy="215.74" r="1.22" fill="#444"/>
<circle cx="172.34" cy="217.93" r="0.58" fill="#2e2e2e"/>
<circle cx="174.04" cy="189.55" r="0.57" fill="#222"/>
<ellipse cx="174.18" cy="194.12" rx="1.34" ry="0.74" fill="#181818" transform="rotate(107 174.18 194.12)"/>
<circle cx="176.27" cy="196.07" r="0.59" fill="#0e0e0e"/>
<ellipse cx="175" cy="198.58" rx="1.69" ry="0.93" fill="#444" transform="rotate(83 175 198.58)"/>
<ellipse cx="175.38" cy="203.1" rx="0.76" ry="0.42" fill="#0e0e0e" transform="rotate(63 175.38 203.1)"/>
<circle cx="175.94" cy="205.71" r="0.46" fill="#222"/>
<ellipse cx="174.09" cy="206.4" rx="1.41" ry="0.78" fill="#2e2e2e" transform="rotate(22 174.09 206.4)"/>
<circle cx="174.18" cy="210.87" r="0.55" fill="#222"/>
<ellipse cx="176.18" cy="213.71" rx="0.7" ry="0.39" fill="#222" transform="rotate(49 176.18 213.71)"/>
<circle cx="174.96" cy="215.83" r="1.16" fill="#2e2e2e"/>
<ellipse cx="175.39" cy="218.29" rx="1.27" ry="0.7" fill="#0e0e0e" transform="rotate(24 175.39 218.29)"/>
<circle cx="178.27" cy="189.9" r="0.57" fill="#222"/>
<circle cx="177.99" cy="194.07" r="0.48" fill="#444"/>
<circle cx="178.08" cy="200" r="0.66" fill="#181818"/>
<circle cx="178.13" cy="205.63" r="1.02" fill="#222"/>
<circle cx="176.61" cy="208.3" r="0.5" fill="#181818"/>
<circle cx="178.69" cy="211.16" r="0.56" fill="#181818"/>
<ellipse cx="177.1" cy="212.08" rx="1.57" ry="0.87" fill="#2e2e2e" transform="rotate(39 177.1 212.08)"/>
<ellipse cx="181.99" cy="195.52" rx="1.21" ry="0.67" fill="#222" transform="rotate(130 181.99 195.52)"/>
<circle cx="179.63" cy="197.65" r="1.25" fill="#444"/>
<ellipse cx="181.34" cy="200.37" rx="1.6" ry="0.89" fill="#0e0e0e" transform="rotate(168 181.34 200.37)"/>
<circle cx="181.56" cy="203.81" r="0.66" fill="#2e2e2e"/>
<circle cx="181.4" cy="208.61" r="0.69" fill="#181818"/>
<ellipse cx="180.58" cy="209.24" rx="1.78" ry="0.98" fill="#222" transform="rotate(163 180.58 209.24)"/>
<ellipse cx="180" cy="211.58" rx="0.79" ry="0.44" fill="#444" transform="rotate(169 180 211.58)"/>
<circle cx="182.5" cy="198.84" r="0.7" fill="#222"/>
<circle cx="152.64" cy="218.03" r="0.89" fill="#181818"/>
<circle cx="183.36" cy="206.81" r="0.75" fill="#222"/>
<ellipse cx="145.68" cy="207.69" rx="0.68" ry="0.37" fill="#2e2e2e" transform="rotate(127 145.68 207.69)"/>
<circle cx="148.36" cy="194.31" r="0.78" fill="#181818"/>
<circle cx="151.01" cy="216.19" r="1.11" fill="#222"/>
<ellipse cx="182.27" cy="199.07" rx="0.88" ry="0.48" fill="#222" transform="rotate(80 182.27 199.07)"/>
<circle cx="182.47" cy="194.43" r="0.55" fill="#0e0e0e"/>
<circle cx="177.92" cy="214.11" r="0.56" fill="#181818"/>
<ellipse cx="161.62" cy="221.07" rx="1.16" ry="0.64" fill="#2e2e2e" transform="rotate(35 161.62 221.07)"/>
<circle cx="165.71" cy="183.9" r="0.69" fill="#444"/>
<circle cx="181.44" cy="208.1" r="0.69" fill="#181818"/>
<ellipse cx="159.04" cy="183.89" rx="0.71" ry="0.39" fill="#444" transform="rotate(51 159.04 183.89)"/>
<circle cx="148.14" cy="193.11" r="0.76" fill="#2e2e2e"/>
<circle cx="146.87" cy="200.9" r="0.63" fill="#444"/>
<circle cx="181.63" cy="206.87" r="0.45" fill="#444"/>
<ellipse cx="156.81" cy="219.91" rx="1.43" ry="0.79" fill="#222" transform="rotate(97 156.81 219.91)"/>
<ellipse cx="150.53" cy="190.39" rx="1.44" ry="0.79" fill="#2e2e2e" transform="rotate(156 150.53 190.39)"/>
<ellipse cx="147.18" cy="194.74" rx="0.85" ry="0.47" fill="#2e2e2e" transform="rotate(122 147.18 194.74)"/>
<circle cx="176.68" cy="215.23" r="0.7" fill="#0e0e0e"/>
<ellipse cx="159.13" cy="185.2" rx="1.8" ry="0.99" fill="#444" transform="rotate(86 159.13 185.2)"/>
<circle cx="177.37" cy="189.29" r="1.16" fill="#444"/>
<circle cx="148.76" cy="210.19" r="1.08" fill="#222"/>
<ellipse cx="146.93" cy="201.17" rx="1.4" ry="0.77" fill="#222" transform="rotate(104 146.93 201.17)"/>
<circle cx="182.44" cy="206.53" r="0.51" fill="#181818"/>
<ellipse cx="164.39" cy="182.81" rx="1.01" ry="0.56" fill="#0e0e0e" transform="rotate(145 164.39 182.81)"/>
<ellipse cx="145.38" cy="200.18" rx="0.75" ry="0.41" fill="#222" transform="rotate(27 145.38 200.18)"/>
<circle cx="149.97" cy="214.71" r="1.24" fill="#181818"/>
<circle cx="162.41" cy="184.14" r="1.18" fill="#222"/>
<ellipse cx="178.92" cy="213.92" rx="1.46" ry="0.81" fill="#222" transform="rotate(111 178.92 213.92)"/>
<circle cx="171.38" cy="185.43" r="1.16" fill="#222"/>
<circle cx="176.41" cy="187.85" r="0.68" fill="#181818"/>
<circle cx="159.77" cy="219.71" r="0.75" fill="#222"/>
<circle cx="146.91" cy="201.64" r="0.67" fill="#2e2e2e"/>
<circle cx="181.33" cy="208.39" r="1.2" fill="#2e2e2e"/>
<circle cx="179.11" cy="212.59" r="0.48" fill="#2e2e2e"/>
<circle cx="147.93" cy="212.34" r="0.59" fill="#0e0e0e"/>
<circle cx="176.72" cy="217.84" r="0.8" fill="#2e2e2e"/>
<circle cx="144.58" cy="202.83" r="1.11" fill="#2e2e2e"/>
<ellipse cx="181.13" cy="209.29" rx="1.05" ry="0.58" fill="#0e0e0e" transform="rotate(61 181.13 209.29)"/>
<ellipse cx="152.3" cy="189.61" rx="1.5" ry="0.83" fill="#0e0e0e" transform="rotate(93 152.3 189.61)"/>
<ellipse cx="146.16" cy="206.92" rx="0.82" ry="0.45" fill="#444" transform="rotate(113 146.16 206.92)"/>
<circle cx="156.6" cy="185.52" r="0.66" fill="#0e0e0e"/>
<circle cx="146.9" cy="196.04" r="0.54" fill="#444"/>
<circle cx="181.65" cy="204.26" r="0.92" fill="#444"/>
<ellipse cx="181.71" cy="198.67" rx="1.02" ry="0.56" fill="#444" transform="rotate(21 181.71 198.67)"/>
<ellipse cx="148.64" cy="191.59" rx="0.68" ry="0.37" fill="#444" transform="rotate(79 148.64 191.59)"/>
<circle cx="147.01" cy="204.5" r="1.17" fill="#181818"/>
<ellipse cx="176.54" cy="186.86" rx="1.23" ry="0.68" fill="#181818" transform="rotate(23 176.54 186.86)"/>
<circle cx="177.31" cy="216.55" r="0.71" fill="#444"/>
<circle cx="181.26" cy="210.83" r="0.61" fill="#444"/>
</g>
<g filter="url(#soft)">
<rect x="40.8" y="228.4" width="148.3" height="47.2" fill="#f0f0f0"/>
<circle cx="64.3" cy="252.2" r="22.8" fill="#cdcdcd" stroke="#767676" stroke-width="0.7"/>
<circle cx="64.3" cy="252.2" r="21.2" fill="#ececec" stroke="#474747" stroke-width="0.95"/>
<circle cx="83.03" cy="246.89" r="0.32" fill="#9a9a9a" opacity="0.5"/>
<circle cx="80.04" cy="261.49" r="0.59" fill="#9a9a9a" opacity="0.5"/>
<circle cx="58.94" cy="242.48" r="0.54" fill="#9a9a9a" opacity="0.5"/>
<circle cx="52.36" cy="242.72" r="0.36" fill="#9a9a9a" opacity="0.5"/>
<circle cx="52.93" cy="257.49" r="0.59" fill="#9a9a9a" opacity="0.5"/>
<circle cx="83.78" cy="251.57" r="0.52" fill="#9a9a9a" opacity="0.5"/>
<circle cx="54.56" cy="255.72" r="0.31" fill="#9a9a9a" opacity="0.5"/>
<circle cx="77.73" cy="254.54" r="0.43" fill="#9a9a9a" opacity="0.5"/>
<circle cx="50.53" cy="265.13" r="0.51" fill="#9a9a9a" opacity="0.5"/>
<circle cx="55.28" cy="248.59" r="0.31" fill="#9a9a9a" opacity="0.5"/>
<circle cx="60.94" cy="258.79" r="0.5" fill="#9a9a9a" opacity="0.5"/>
<circle cx="80.72" cy="252.06" r="0.37" fill="#9a9a9a" opacity="0.5"/>
<circle cx="78.31" cy="241.13" r="0.59" fill="#9a9a9a" opacity="0.5"/>
<circle cx="78.85" cy="242.53" r="0.62" fill="#9a9a9a" opacity="0.5"/>
<circle cx="52.28" cy="267.94" r="0.68" fill="#9a9a9a" opacity="0.5"/>
<circle cx="73.5" cy="266.93" r="0.59" fill="#9a9a9a" opacity="0.5"/>
<circle cx="50.16" cy="255.7" r="0.5" fill="#9a9a9a" opacity="0.5"/>
<circle cx="76.9" cy="245.76" r="0.63" fill="#9a9a9a" opacity="0.5"/>
<circle cx="52.88" cy="267.13" r="0.66" fill="#9a9a9a" opacity="0.5"/>
<circle cx="49.68" cy="255.85" r="0.67" fill="#9a9a9a" opacity="0.5"/>
<circle cx="62.01" cy="238.44" r="0.39" fill="#9a9a9a" opacity="0.5"/>
<circle cx="56.74" cy="267.12" r="0.37" fill="#9a9a9a" opacity="0.5"/>
<circle cx="72.97" cy="246.54" r="0.66" fill="#9a9a9a" opacity="0.5"/>
<circle cx="57.15" cy="270.41" r="0.58" fill="#9a9a9a" opacity="0.5"/>
<circle cx="49.91" cy="251.82" r="0.56" fill="#9a9a9a" opacity="0.5"/>
<circle cx="48.22" cy="251.84" r="0.47" fill="#2a2a2a"/>
<ellipse cx="60.68" cy="244.33" rx="0.5" ry="0.28" fill="#777" transform="rotate(20 60.68 244.33)"/>
<ellipse cx="68.24" cy="239.11" rx="0.65" ry="0.36" fill="#666" transform="rotate(108 68.24 239.11)"/>
<ellipse cx="64.37" cy="247.89" rx="0.52" ry="0.29" fill="#2a2a2a" transform="rotate(98 64.37 247.89)"/>
<circle cx="83.65" cy="257.04" r="0.39" fill="#2a2a2a"/>
<ellipse cx="80.5" cy="263.17" rx="0.45" ry="0.25" fill="#2a2a2a" transform="rotate(46 80.5 263.17)"/>
<circle cx="114.5" cy="252.2" r="22.8" fill="#cdcdcd" stroke="#767676" stroke-width="0.7"/>
<circle cx="114.5" cy="252.2" r="21.2" fill="#ececec" stroke="#474747" stroke-width="0.95"/>
<circle cx="114.52" cy="245.71" r="0.31" fill="#9a9a9a" opacity="0.5"/>
<circle cx="107.97" cy="240.41" r="0.51" fill="#9a9a9a" opacity="0.5"/>
<circle cx="102.44" cy="263.53" r="0.6" fill="#9a9a9a" opacity="0.5"/>
<circle cx="118.95" cy="269.6" r="0.47" fill="#9a9a9a" opacity="0.5"/>
<circle cx="129.74" cy="254.25" r="0.65" fill="#9a9a9a" opacity="0.5"/>
<circle cx="128.25" cy="245.61" r="0.67" fill="#9a9a9a" opacity="0.5"/>
<circle cx="107.32" cy="240.35" r="0.31" fill="#9a9a9a" opacity="0.5"/>
<circle cx="121.18" cy="250.52" r="0.45" fill="#9a9a9a" opacity="0.5"/>
<circle cx="107.44" cy="234.23" r="0.42" fill="#9a9a9a" opacity="0.5"/>
<circle cx="123.54" cy="243.08" r="0.34" fill="#9a9a9a" opacity="0.5"/>
<circle cx="120.11" cy="268.89" r="0.63" fill="#9a9a9a" opacity="0.5"/>
<circle cx="116.36" cy="247.67" r="0.55" fill="#9a9a9a" opacity="0.5"/>
<circle cx="96.14" cy="256.51" r="0.55" fill="#9a9a9a" opacity="0.5"/>
<circle cx="117.61" cy="252.3" r="0.42" fill="#9a9a9a" opacity="0.5"/>
<circle cx="112.95" cy="242.97" r="0.5" fill="#9a9a9a" opacity="0.5"/>
<circle cx="123.63" cy="260.33" r="0.59" fill="#9a9a9a" opacity="0.5"/>
<circle cx="122.01" cy="261.23" r="0.66" fill="#9a9a9a" opacity="0.5"/>
<circle cx="114.32" cy="259.21" r="0.55" fill="#9a9a9a" opacity="0.5"/>
<circle cx="108.17" cy="262.99" r="0.38" fill="#9a9a9a" opacity="0.5"/>
<circle cx="126.9" cy="261.87" r="0.49" fill="#9a9a9a" opacity="0.5"/>
<circle cx="130.69" cy="256.7" r="0.42" fill="#9a9a9a" opacity="0.5"/>
<circle cx="121.78" cy="250.31" r="0.45" fill="#9a9a9a" opacity="0.5"/>
<circle cx="95.98" cy="254.04" r="0.59" fill="#9a9a9a" opacity="0.5"/>
<circle cx="112.71" cy="239.38" r="0.5" fill="#9a9a9a" opacity="0.5"/>
<circle cx="109.17" cy="240.82" r="0.36" fill="#9a9a9a" opacity="0.5"/>
<ellipse cx="100.34" cy="252.54" rx="0.65" ry="0.36" fill="#444" transform="rotate(150 100.34 252.54)"/>
<circle cx="114.14" cy="269.72" r="0.55" fill="#777"/>
<circle cx="132.92" cy="245.5" r="0.34" fill="#777"/>
<circle cx="164.4" cy="252.2" r="22.8" fill="#cdcdcd" stroke="#767676" stroke-width="0.7"/>
<circle cx="164.4" cy="252.2" r="21.2" fill="#ececec" stroke="#474747" stroke-width="0.95"/>
<circle cx="156.1" cy="251.5" r="0.59" fill="#9a9a9a" opacity="0.5"/>
<circle cx="181.58" cy="249.19" r="0.44" fill="#9a9a9a" opacity="0.5"/>
<circle cx="176.51" cy="244.04" r="0.57" fill="#9a9a9a" opacity="0.5"/>
<circle cx="178.5" cy="258.35" r="0.67" fill="#9a9a9a" opacity="0.5"/>
<circle cx="176.37" cy="245.84" r="0.65" fill="#9a9a9a" opacity="0.5"/>
<circle cx="145.14" cy="257.1" r="0.55" fill="#9a9a9a" opacity="0.5"/>
<circle cx="154.36" cy="266.45" r="0.68" fill="#9a9a9a" opacity="0.5"/>
<circle cx="174.5" cy="252.06" r="0.55" fill="#9a9a9a" opacity="0.5"/>
<circle cx="172.89" cy="237.51" r="0.32" fill="#9a9a9a" opacity="0.5"/>
<circle cx="144.48" cy="252.26" r="0.57" fill="#9a9a9a" opacity="0.5"/>
<circle cx="170.33" cy="261.03" r="0.49" fill="#9a9a9a" opacity="0.5"/>
<circle cx="168.09" cy="252.24" r="0.64" fill="#9a9a9a" opacity="0.5"/>
<circle cx="156.09" cy="248.65" r="0.57" fill="#9a9a9a" opacity="0.5"/>
<circle cx="157.1" cy="252.28" r="0.58" fill="#9a9a9a" opacity="0.5"/>
<circle cx="161.74" cy="241.52" r="0.4" fill="#9a9a9a" opacity="0.5"/>
<circle cx="159.94" cy="262.86" r="0.68" fill="#9a9a9a" opacity="0.5"/>
<circle cx="158.29" cy="267.03" r="0.51" fill="#9a9a9a" opacity="0.5"/>
<circle cx="176.92" cy="245.37" r="0.38" fill="#9a9a9a" opacity="0.5"/>
<circle cx="149.24" cy="241.73" r="0.36" fill="#9a9a9a" opacity="0.5"/>
<circle cx="158.43" cy="252.02" r="0.32" fill="#9a9a9a" opacity="0.5"/>
<circle cx="178.64" cy="247.53" r="0.51" fill="#9a9a9a" opacity="0.5"/>
<circle cx="170.6" cy="254.71" r="0.57" fill="#9a9a9a" opacity="0.5"/>
<circle cx="168.71" cy="234.2" r="0.39" fill="#9a9a9a" opacity="0.5"/>
<circle cx="157.25" cy="261.29" r="0.45" fill="#9a9a9a" opacity="0.5"/>
<circle cx="145.75" cy="252.48" r="0.48" fill="#9a9a9a" opacity="0.5"/>
<ellipse cx="149.54" cy="247.13" rx="0.88" ry="0.49" fill="#2a2a2a" transform="rotate(177 149.54 247.13)"/>
<circle cx="152.31" cy="264.37" r="0.53" fill="#444"/>
<circle cx="154.09" cy="248.66" r="0.32" fill="#777"/>
<circle cx="158.77" cy="236.35" r="0.78" fill="#444"/>
<circle cx="160.33" cy="243.73" r="0.62" fill="#666"/>
<circle cx="161.38" cy="247.87" r="0.51" fill="#2a2a2a"/>
<circle cx="157.43" cy="260.45" r="0.46" fill="#2a2a2a"/>
<circle cx="161.89" cy="239.4" r="0.59" fill="#2a2a2a"/>
<ellipse cx="163.95" cy="261.44" rx="0.92" ry="0.51" fill="#2a2a2a" transform="rotate(85 163.95 261.44)"/>
<circle cx="170.3" cy="247.2" r="0.39" fill="#777"/>
<circle cx="167.92" cy="251.51" r="0.64" fill="#444"/>
<circle cx="166.26" cy="269.37" r="0.33" fill="#444"/>
<circle cx="171.28" cy="249.59" r="0.48" fill="#777"/>
<circle cx="173.11" cy="262.98" r="0.44" fill="#666"/>
<ellipse cx="177.25" cy="244.04" rx="0.79" ry="0.44" fill="#777" transform="rotate(120 177.25 244.04)"/>
<ellipse cx="181.18" cy="250.1" rx="1.02" ry="0.56" fill="#666" transform="rotate(43 181.18 250.1)"/>
<ellipse cx="181.06" cy="255.3" rx="0.63" ry="0.35" fill="#777" transform="rotate(157 181.06 255.3)"/>
<circle cx="180.1" cy="259.68" r="0.59" fill="#444"/>
<circle cx="184.26" cy="250.63" r="0.41" fill="#444"/>
</g>
<g filter="url(#soft)">
<rect x="40.8" y="280.1" width="148.3" height="48.8" fill="#efefef"/>
<circle cx="64.3" cy="304.6" r="22.8" fill="#c8c8c8" stroke="#666" stroke-width="0.8"/>
<circle cx="64.3" cy="304.6" r="21.2" fill="#e8e8e8" stroke="#3a3a3a" stroke-width="1.15"/>
<circle cx="65.41" cy="319.31" r="0.45" fill="#9a9a9a" opacity="0.5"/>
<circle cx="51.73" cy="294.99" r="0.33" fill="#9a9a9a" opacity="0.5"/>
<circle cx="82.54" cy="306.11" r="0.4" fill="#9a9a9a" opacity="0.5"/>
<circle cx="66.26" cy="324.46" r="0.49" fill="#9a9a9a" opacity="0.5"/>
<circle cx="71.44" cy="292.78" r="0.56" fill="#9a9a9a" opacity="0.5"/>
<circle cx="73.62" cy="317.53" r="0.65" fill="#9a9a9a" opacity="0.5"/>
<circle cx="47.26" cy="302.1" r="0.57" fill="#9a9a9a" opacity="0.5"/>
<circle cx="80.32" cy="311.42" r="0.54" fill="#9a9a9a" opacity="0.5"/>
<circle cx="63.18" cy="307.94" r="0.65" fill="#9a9a9a" opacity="0.5"/>
<circle cx="47.59" cy="307.49" r="0.65" fill="#9a9a9a" opacity="0.5"/>
<circle cx="60.01" cy="285.89" r="0.46" fill="#9a9a9a" opacity="0.5"/>
<circle cx="68.49" cy="291.94" r="0.67" fill="#9a9a9a" opacity="0.5"/>
<circle cx="68.82" cy="300.29" r="0.35" fill="#9a9a9a" opacity="0.5"/>
<circle cx="68.35" cy="323.83" r="0.47" fill="#9a9a9a" opacity="0.5"/>
<circle cx="56.62" cy="296.76" r="0.5" fill="#9a9a9a" opacity="0.5"/>
<circle cx="55.37" cy="312.39" r="0.53" fill="#9a9a9a" opacity="0.5"/>
<circle cx="47.89" cy="295" r="0.57" fill="#9a9a9a" opacity="0.5"/>
<circle cx="80.99" cy="296.61" r="0.7" fill="#9a9a9a" opacity="0.5"/>
<circle cx="60.47" cy="297.49" r="0.64" fill="#9a9a9a" opacity="0.5"/>
<circle cx="82.86" cy="300.41" r="0.53" fill="#9a9a9a" opacity="0.5"/>
<circle cx="62.23" cy="295.65" r="0.63" fill="#9a9a9a" opacity="0.5"/>
<circle cx="54.74" cy="299.84" r="0.33" fill="#9a9a9a" opacity="0.5"/>
<circle cx="76.39" cy="288.8" r="0.34" fill="#9a9a9a" opacity="0.5"/>
<circle cx="68.31" cy="292.43" r="0.36" fill="#9a9a9a" opacity="0.5"/>
<circle cx="59.53" cy="321.47" r="0.65" fill="#9a9a9a" opacity="0.5"/>
<circle cx="79.38" cy="308.9" r="0.32" fill="#9a9a9a" opacity="0.5"/>
<circle cx="62.03" cy="293.32" r="0.65" fill="#9a9a9a" opacity="0.5"/>
<circle cx="78.41" cy="302.87" r="0.7" fill="#9a9a9a" opacity="0.5"/>
<circle cx="62.27" cy="309.76" r="0.54" fill="#9a9a9a" opacity="0.5"/>
<circle cx="73.01" cy="306.34" r="0.46" fill="#9a9a9a" opacity="0.5"/>
<ellipse cx="46.13" cy="302.55" rx="0.47" ry="0.26" fill="#666" transform="rotate(115 46.13 302.55)"/>
<ellipse cx="48.05" cy="293.34" rx="0.83" ry="0.46" fill="#666" transform="rotate(85 48.05 293.34)"/>
<circle cx="48.59" cy="300.94" r="0.43" fill="#777"/>
<circle cx="50.72" cy="308.28" r="0.37" fill="#777"/>
<circle cx="49.9" cy="315.14" r="0.55" fill="#2a2a2a"/>
<ellipse cx="48.2" cy="316.08" rx="0.46" ry="0.26" fill="#777" transform="rotate(135 48.2 316.08)"/>
<circle cx="51.82" cy="292.77" r="0.79" fill="#2a2a2a"/>
<circle cx="52.69" cy="301.27" r="0.65" fill="#666"/>
<ellipse cx="52.94" cy="307.28" rx="0.6" ry="0.33" fill="#666" transform="rotate(86 52.94 307.28)"/>
<circle cx="51.32" cy="311.37" r="0.63" fill="#2a2a2a"/>
<circle cx="56.66" cy="288.51" r="0.53" fill="#2a2a2a"/>
<circle cx="57.65" cy="292.75" r="0.63" fill="#444"/>
<ellipse cx="58.91" cy="302.37" rx="0.96" ry="0.53" fill="#444" transform="rotate(167 58.91 302.37)"/>
<circle cx="58.28" cy="320.29" r="0.5" fill="#2a2a2a"/>
<circle cx="60.31" cy="287.05" r="0.34" fill="#666"/>
<circle cx="62.43" cy="289.01" r="0.61" fill="#777"/>
<circle cx="61.44" cy="294.87" r="0.61" fill="#777"/>
<ellipse cx="62.47" cy="299.29" rx="1.01" ry="0.56" fill="#2a2a2a" transform="rotate(46 62.47 299.29)"/>
<circle cx="61.81" cy="311.05" r="0.68" fill="#777"/>
<ellipse cx="60.39" cy="312.67" rx="0.58" ry="0.32" fill="#777" transform="rotate(34 60.39 312.67)"/>
<ellipse cx="61.19" cy="322.71" rx="0.45" ry="0.25" fill="#666" transform="rotate(131 61.19 322.71)"/>
<circle cx="59.52" cy="324.11" r="0.44" fill="#666"/>
<circle cx="65.31" cy="288.86" r="0.49" fill="#2a2a2a"/>
<ellipse cx="64.71" cy="294.19" rx="1.08" ry="0.59" fill="#2a2a2a" transform="rotate(151 64.71 294.19)"/>
<circle cx="64.06" cy="300.92" r="0.33" fill="#2a2a2a"/>
<ellipse cx="65.52" cy="306.46" rx="1.14" ry="0.63" fill="#2a2a2a" transform="rotate(48 65.52 306.46)"/>
<circle cx="63.62" cy="308.31" r="0.56" fill="#777"/>
<circle cx="65.72" cy="314.73" r="0.68" fill="#444"/>
<circle cx="66.5" cy="318.09" r="0.71" fill="#444"/>
<circle cx="64.79" cy="321.58" r="0.37" fill="#666"/>
<circle cx="69.44" cy="286.38" r="0.41" fill="#777"/>
<ellipse cx="69" cy="289.3" rx="1.18" ry="0.65" fill="#777" transform="rotate(149 69 289.3)"/>
<circle cx="70.89" cy="302.76" r="0.42" fill="#777"/>
<circle cx="69.16" cy="304.09" r="0.64" fill="#666"/>
<circle cx="73.65" cy="287.62" r="0.63" fill="#2a2a2a"/>
<ellipse cx="74.4" cy="291.78" rx="0.96" ry="0.53" fill="#2a2a2a" transform="rotate(169 74.4 291.78)"/>
<circle cx="71.7" cy="299.12" r="0.38" fill="#444"/>
<circle cx="71.39" cy="302.97" r="0.5" fill="#444"/>
<ellipse cx="74.68" cy="306.29" rx="0.54" ry="0.3" fill="#777" transform="rotate(72 74.68 306.29)"/>
<ellipse cx="76.6" cy="289.86" rx="1.19" ry="0.66" fill="#444" transform="rotate(22 76.6 289.86)"/>
<ellipse cx="76.02" cy="296.6" rx="0.87" ry="0.48" fill="#2a2a2a" transform="rotate(158 76.02 296.6)"/>
<circle cx="76.77" cy="309.19" r="0.38" fill="#2a2a2a"/>
<ellipse cx="76.97" cy="311.93" rx="0.44" ry="0.24" fill="#666" transform="rotate(88 76.97 311.93)"/>
<ellipse cx="81.87" cy="299.19" rx="0.93" ry="0.51" fill="#444" transform="rotate(153 81.87 299.19)"/>
<circle cx="79.68" cy="302.59" r="0.7" fill="#2a2a2a"/>
<circle cx="82.18" cy="312.34" r="0.67" fill="#666"/>
<circle cx="46.92" cy="308.21" r="0.37" fill="#2a2a2a"/>
<circle cx="66.13" cy="323.63" r="0.49" fill="#444"/>
<circle cx="55.36" cy="286.95" r="0.33" fill="#2a2a2a"/>
<circle cx="75.1" cy="290.47" r="0.74" fill="#444"/>
<circle cx="70.9" cy="321.17" r="0.51" fill="#2a2a2a"/>
<ellipse cx="71.64" cy="322.21" rx="0.69" ry="0.38" fill="#777" transform="rotate(118 71.64 322.21)"/>
<circle cx="76.67" cy="289.37" r="0.5" fill="#777"/>
<circle cx="63.69" cy="324.11" r="0.5" fill="#2a2a2a"/>
<circle cx="57.2" cy="321.46" r="0.45" fill="#666"/>
<ellipse cx="62.01" cy="287.4" rx="0.65" ry="0.36" fill="#777" transform="rotate(0 62.01 287.4)"/>
<circle cx="114.5" cy="304.6" r="22.8" fill="#c8c8c8" stroke="#666" stroke-width="0.8"/>
<circle cx="114.5" cy="304.6" r="21.2" fill="#e8e8e8" stroke="#3a3a3a" stroke-width="1.15"/>
<circle cx="117.9" cy="295.01" r="0.45" fill="#9a9a9a" opacity="0.5"/>
<circle cx="123.49" cy="293.08" r="0.36" fill="#9a9a9a" opacity="0.5"/>
<circle cx="129.64" cy="306.73" r="0.5" fill="#9a9a9a" opacity="0.5"/>
<circle cx="109.63" cy="298.95" r="0.54" fill="#9a9a9a" opacity="0.5"/>
<circle cx="106.45" cy="307.63" r="0.64" fill="#9a9a9a" opacity="0.5"/>
<circle cx="105.25" cy="311.05" r="0.31" fill="#9a9a9a" opacity="0.5"/>
<circle cx="112.31" cy="295.07" r="0.32" fill="#9a9a9a" opacity="0.5"/>
<circle cx="95.45" cy="305.41" r="0.65" fill="#9a9a9a" opacity="0.5"/>
<circle cx="115.16" cy="317.06" r="0.38" fill="#9a9a9a" opacity="0.5"/>
<circle cx="111.11" cy="310.51" r="0.67" fill="#9a9a9a" opacity="0.5"/>
<circle cx="99.6" cy="294.55" r="0.42" fill="#9a9a9a" opacity="0.5"/>
<circle cx="133.78" cy="302.32" r="0.62" fill="#9a9a9a" opacity="0.5"/>
<circle cx="128.08" cy="301.27" r="0.52" fill="#9a9a9a" opacity="0.5"/>
<circle cx="125.9" cy="306.78" r="0.7" fill="#9a9a9a" opacity="0.5"/>
<circle cx="112.55" cy="308.95" r="0.47" fill="#9a9a9a" opacity="0.5"/>
<circle cx="127.8" cy="312.97" r="0.34" fill="#9a9a9a" opacity="0.5"/>
<circle cx="113.34" cy="302.09" r="0.5" fill="#9a9a9a" opacity="0.5"/>
<circle cx="105.86" cy="305.59" r="0.5" fill="#9a9a9a" opacity="0.5"/>
<circle cx="105.23" cy="321.15" r="0.6" fill="#9a9a9a" opacity="0.5"/>
<circle cx="107.09" cy="316.28" r="0.44" fill="#9a9a9a" opacity="0.5"/>
<circle cx="107.78" cy="294.22" r="0.6" fill="#9a9a9a" opacity="0.5"/>
<circle cx="105.99" cy="295.36" r="0.68" fill="#9a9a9a" opacity="0.5"/>
<circle cx="119.67" cy="316.37" r="0.5" fill="#9a9a9a" opacity="0.5"/>
<circle cx="100.49" cy="300.31" r="0.61" fill="#9a9a9a" opacity="0.5"/>
<circle cx="99.51" cy="315.1" r="0.65" fill="#9a9a9a" opacity="0.5"/>
<circle cx="99.9" cy="317.33" r="0.44" fill="#9a9a9a" opacity="0.5"/>
<circle cx="121.72" cy="320.99" r="0.48" fill="#9a9a9a" opacity="0.5"/>
<circle cx="98.74" cy="310.33" r="0.44" fill="#9a9a9a" opacity="0.5"/>
<circle cx="120.64" cy="291.75" r="0.6" fill="#9a9a9a" opacity="0.5"/>
<circle cx="128.87" cy="296.11" r="0.68" fill="#9a9a9a" opacity="0.5"/>
<ellipse cx="96.7" cy="309.52" rx="1.24" ry="0.68" fill="#777" transform="rotate(89 96.7 309.52)"/>
<circle cx="99.21" cy="291.83" r="0.49" fill="#777"/>
<ellipse cx="99.61" cy="297.53" rx="0.54" ry="0.3" fill="#666" transform="rotate(52 99.61 297.53)"/>
<circle cx="99.72" cy="301.64" r="0.57" fill="#777"/>
<circle cx="97.8" cy="308.02" r="0.91" fill="#666"/>
<ellipse cx="97.75" cy="310.18" rx="0.48" ry="0.27" fill="#2a2a2a" transform="rotate(82 97.75 310.18)"/>
<ellipse cx="98.06" cy="314.9" rx="0.46" ry="0.26" fill="#2a2a2a" transform="rotate(108 98.06 314.9)"/>
<circle cx="103.71" cy="294.3" r="0.66" fill="#2a2a2a"/>
<circle cx="102.31" cy="298.02" r="0.45" fill="#777"/>
<ellipse cx="101.2" cy="302.15" rx="0.57" ry="0.32" fill="#666" transform="rotate(100 101.2 302.15)"/>
<circle cx="100.64" cy="306.69" r="0.91" fill="#2a2a2a"/>
<circle cx="103.32" cy="309.11" r="0.31" fill="#444"/>
<circle cx="103.77" cy="313.8" r="0.33" fill="#444"/>
<ellipse cx="102.25" cy="318.72" rx="1.17" ry="0.64" fill="#777" transform="rotate(116 102.25 318.72)"/>
<ellipse cx="107.54" cy="291.64" rx="0.99" ry="0.54" fill="#444" transform="rotate(76 107.54 291.64)"/>
<circle cx="105.44" cy="295.49" r="0.46" fill="#444"/>
<ellipse cx="104.15" cy="310.86" rx="0.69" ry="0.38" fill="#666" transform="rotate(149 104.15 310.86)"/>
<circle cx="104.18" cy="315.62" r="0.83" fill="#444"/>
<circle cx="107.64" cy="318.66" r="0.73" fill="#666"/>
<ellipse cx="107.58" cy="320.71" rx="0.81" ry="0.45" fill="#444" transform="rotate(26 107.58 320.71)"/>
<circle cx="108.64" cy="300.22" r="0.9" fill="#2a2a2a"/>
<ellipse cx="110.3" cy="302.62" rx="0.82" ry="0.45" fill="#444" transform="rotate(9 110.3 302.62)"/>
<circle cx="107.83" cy="308.59" r="0.45" fill="#444"/>
<ellipse cx="110.44" cy="310.63" rx="1.2" ry="0.66" fill="#2a2a2a" transform="rotate(93 110.44 310.63)"/>
<ellipse cx="110.4" cy="324.21" rx="0.71" ry="0.39" fill="#444" transform="rotate(88 110.4 324.21)"/>
<circle cx="111.52" cy="286.34" r="0.41" fill="#666"/>
<circle cx="113.18" cy="289.72" r="0.38" fill="#666"/>
<circle cx="112.64" cy="300.08" r="0.61" fill="#444"/>
<circle cx="111.57" cy="301.9" r="0.39" fill="#666"/>
<circle cx="114.09" cy="310.2" r="0.37" fill="#777"/>
<circle cx="112.22" cy="313.22" r="0.51" fill="#444"/>
<ellipse cx="113.38" cy="316.3" rx="0.76" ry="0.42" fill="#2a2a2a" transform="rotate(137 113.38 316.3)"/>
<ellipse cx="113.05" cy="320.23" rx="1.21" ry="0.67" fill="#777" transform="rotate(45 113.05 320.23)"/>
<circle cx="113.41" cy="323.98" r="0.42" fill="#777"/>
<ellipse cx="117.73" cy="286.11" rx="0.57" ry="0.31" fill="#777" transform="rotate(158 117.73 286.11)"/>
<ellipse cx="116.47" cy="287.27" rx="0.8" ry="0.44" fill="#444" transform="rotate(107 116.47 287.27)"/>
<circle cx="116.65" cy="293.31" r="0.46" fill="#444"/>
<circle cx="116.02" cy="299.04" r="0.34" fill="#444"/>
<circle cx="115.08" cy="309.37" r="0.55" fill="#444"/>
<ellipse cx="116.04" cy="314.4" rx="0.77" ry="0.42" fill="#777" transform="rotate(88 116.04 314.4)"/>
<circle cx="116.4" cy="320.89" r="0.81" fill="#444"/>
<circle cx="120.78" cy="287.45" r="0.71" fill="#666"/>
<circle cx="122.04" cy="310.26" r="0.69" fill="#666"/>
<circle cx="120.51" cy="312.83" r="0.94" fill="#666"/>
<circle cx="119.1" cy="316.34" r="0.51" fill="#666"/>
<ellipse cx="124.44" cy="287.47" rx="0.69" ry="0.38" fill="#444" transform="rotate(178 124.44 287.47)"/>
<circle cx="123.99" cy="291.15" r="0.37" fill="#777"/>
<ellipse cx="124.9" cy="295.76" rx="0.65" ry="0.36" fill="#444" transform="rotate(124 124.9 295.76)"/>
<circle cx="122.19" cy="298.18" r="0.37" fill="#777"/>
<ellipse cx="123.16" cy="302.78" rx="1.27" ry="0.7" fill="#666" transform="rotate(14 123.16 302.78)"/>
<ellipse cx="123.44" cy="316.31" rx="0.93" ry="0.51" fill="#444" transform="rotate(170 123.44 316.31)"/>
<circle cx="122.33" cy="321.37" r="0.36" fill="#2a2a2a"/>
<circle cx="127.64" cy="291.7" r="0.34" fill="#777"/>
<ellipse cx="127.34" cy="295.58" rx="0.83" ry="0.46" fill="#777" transform="rotate(122 127.34 295.58)"/>
<ellipse cx="128.4" cy="304.09" rx="0.61" ry="0.34" fill="#666" transform="rotate(66 128.4 304.09)"/>
<circle cx="128.79" cy="308.45" r="0.34" fill="#2a2a2a"/>
<circle cx="128.72" cy="309.07" r="0.52" fill="#666"/>
<circle cx="127.91" cy="316.44" r="0.69" fill="#666"/>
<circle cx="130.94" cy="296.23" r="0.57" fill="#444"/>
<circle cx="133.75" cy="306.37" r="0.41" fill="#666"/>
<ellipse cx="133.17" cy="310.45" rx="1.06" ry="0.59" fill="#2a2a2a" transform="rotate(180 133.17 310.45)"/>
<ellipse cx="130.42" cy="294.19" rx="0.51" ry="0.28" fill="#2a2a2a" transform="rotate(117 130.42 294.19)"/>
<ellipse cx="129.17" cy="315.86" rx="0.66" ry="0.36" fill="#2a2a2a" transform="rotate(36 129.17 315.86)"/>
<ellipse cx="106.89" cy="319.93" rx="0.53" ry="0.29" fill="#777" transform="rotate(130 106.89 319.93)"/>
<circle cx="130.24" cy="311.33" r="0.35" fill="#777"/>
<circle cx="127.79" cy="292.91" r="0.57" fill="#777"/>
<circle cx="98.28" cy="311.6" r="0.52" fill="#666"/>
<ellipse cx="133.35" cy="308" rx="0.91" ry="0.5" fill="#777" transform="rotate(8 133.35 308)"/>
<ellipse cx="107.34" cy="321.5" rx="0.53" ry="0.29" fill="#2a2a2a" transform="rotate(33 107.34 321.5)"/>
<circle cx="101.95" cy="319.02" r="0.57" fill="#444"/>
<ellipse cx="120.08" cy="287.79" rx="1.06" ry="0.58" fill="#666" transform="rotate(160 120.08 287.79)"/>
<ellipse cx="104.53" cy="320.47" rx="0.88" ry="0.48" fill="#666" transform="rotate(40 104.53 320.47)"/>
<circle cx="94.84" cy="303.43" r="0.39" fill="#2a2a2a"/>
<ellipse cx="117.25" cy="321.88" rx="1.07" ry="0.59" fill="#444" transform="rotate(86 117.25 321.88)"/>
<ellipse cx="108" cy="322.08" rx="0.99" ry="0.55" fill="#444" transform="rotate(22 108 322.08)"/>
<ellipse cx="127.53" cy="316.43" rx="0.95" ry="0.52" fill="#444" transform="rotate(178 127.53 316.43)"/>
<circle cx="164.4" cy="304.6" r="22.8" fill="#c8c8c8" stroke="#666" stroke-width="0.8"/>
<circle cx="164.4" cy="304.6" r="21.2" fill="#e8e8e8" stroke="#3a3a3a" stroke-width="1.15"/>
<circle cx="179.78" cy="313.41" r="0.46" fill="#9a9a9a" opacity="0.5"/>
<circle cx="145.22" cy="310.07" r="0.54" fill="#9a9a9a" opacity="0.5"/>
<circle cx="163" cy="321.29" r="0.3" fill="#9a9a9a" opacity="0.5"/>
<circle cx="161.11" cy="320.99" r="0.37" fill="#9a9a9a" opacity="0.5"/>
<circle cx="178.5" cy="307.54" r="0.43" fill="#9a9a9a" opacity="0.5"/>
<circle cx="170.67" cy="303.45" r="0.62" fill="#9a9a9a" opacity="0.5"/>
<circle cx="150.68" cy="316.17" r="0.48" fill="#9a9a9a" opacity="0.5"/>
<circle cx="158.73" cy="294.67" r="0.39" fill="#9a9a9a" opacity="0.5"/>
<circle cx="147.3" cy="309.87" r="0.44" fill="#9a9a9a" opacity="0.5"/>
<circle cx="166.02" cy="317.39" r="0.34" fill="#9a9a9a" opacity="0.5"/>
<circle cx="158.32" cy="318.46" r="0.52" fill="#9a9a9a" opacity="0.5"/>
<circle cx="155.59" cy="298.41" r="0.31" fill="#9a9a9a" opacity="0.5"/>
<circle cx="175.88" cy="306.53" r="0.38" fill="#9a9a9a" opacity="0.5"/>
<circle cx="155.05" cy="300.27" r="0.6" fill="#9a9a9a" opacity="0.5"/>
<circle cx="151.31" cy="294.92" r="0.59" fill="#9a9a9a" opacity="0.5"/>
<circle cx="151.46" cy="302.83" r="0.42" fill="#9a9a9a" opacity="0.5"/>
<circle cx="180.85" cy="311.47" r="0.5" fill="#9a9a9a" opacity="0.5"/>
<circle cx="179.99" cy="315.89" r="0.53" fill="#9a9a9a" opacity="0.5"/>
<circle cx="154.95" cy="295.32" r="0.35" fill="#9a9a9a" opacity="0.5"/>
<circle cx="172.6" cy="304.58" r="0.45" fill="#9a9a9a" opacity="0.5"/>
<circle cx="171.39" cy="304.57" r="0.5" fill="#9a9a9a" opacity="0.5"/>
<circle cx="154.53" cy="305.87" r="0.67" fill="#9a9a9a" opacity="0.5"/>
<circle cx="162.55" cy="305.71" r="0.49" fill="#9a9a9a" opacity="0.5"/>
<circle cx="181.23" cy="305.1" r="0.65" fill="#9a9a9a" opacity="0.5"/>
<circle cx="168.03" cy="302.15" r="0.57" fill="#9a9a9a" opacity="0.5"/>
<circle cx="159.76" cy="317.54" r="0.42" fill="#9a9a9a" opacity="0.5"/>
<circle cx="161.93" cy="311.46" r="0.55" fill="#9a9a9a" opacity="0.5"/>
<circle cx="181.08" cy="314.97" r="0.32" fill="#9a9a9a" opacity="0.5"/>
<circle cx="172.93" cy="302.64" r="0.33" fill="#9a9a9a" opacity="0.5"/>
<circle cx="163.92" cy="290.04" r="0.61" fill="#9a9a9a" opacity="0.5"/>
<circle cx="146.06" cy="307.34" r="0.36" fill="#777"/>
<ellipse cx="150.49" cy="297.94" rx="1.29" ry="0.71" fill="#777" transform="rotate(96 150.49 297.94)"/>
<circle cx="150.05" cy="309.72" r="0.64" fill="#444"/>
<circle cx="149.36" cy="313.7" r="0.65" fill="#666"/>
<circle cx="150.35" cy="317.34" r="0.46" fill="#666"/>
<circle cx="152.36" cy="291.01" r="0.68" fill="#777"/>
<circle cx="151.23" cy="294.47" r="0.73" fill="#444"/>
<circle cx="151.74" cy="298.46" r="0.55" fill="#666"/>
<circle cx="154.32" cy="299.97" r="0.44" fill="#666"/>
<circle cx="151.72" cy="304.56" r="0.37" fill="#777"/>
<circle cx="152.83" cy="311.23" r="0.38" fill="#444"/>
<circle cx="158.38" cy="286.94" r="0.47" fill="#666"/>
<circle cx="156.32" cy="295.11" r="0.64" fill="#2a2a2a"/>
<circle cx="155.79" cy="306.09" r="0.33" fill="#2a2a2a"/>
<circle cx="158.21" cy="307.48" r="0.6" fill="#2a2a2a"/>
<ellipse cx="158.11" cy="315.41" rx="1.12" ry="0.62" fill="#666" transform="rotate(91 158.11 315.41)"/>
<ellipse cx="157.19" cy="319.95" rx="0.49" ry="0.27" fill="#444" transform="rotate(44 157.19 319.95)"/>
<circle cx="160.56" cy="285.05" r="0.75" fill="#777"/>
<circle cx="159.61" cy="289.15" r="0.66" fill="#666"/>
<ellipse cx="161.42" cy="296.73" rx="0.52" ry="0.28" fill="#777" transform="rotate(90 161.42 296.73)"/>
<circle cx="159.15" cy="301.92" r="0.3" fill="#777"/>
<circle cx="159.95" cy="304.46" r="0.58" fill="#777"/>
<circle cx="159.87" cy="311.49" r="0.63" fill="#666"/>
<circle cx="160.57" cy="315.72" r="0.43" fill="#777"/>
<ellipse cx="160.22" cy="319.5" rx="0.76" ry="0.42" fill="#444" transform="rotate(64 160.22 319.5)"/>
<ellipse cx="164.35" cy="290.49" rx="0.73" ry="0.4" fill="#2a2a2a" transform="rotate(17 164.35 290.49)"/>
<ellipse cx="163.74" cy="302.91" rx="1.15" ry="0.63" fill="#666" transform="rotate(163 163.74 302.91)"/>
<circle cx="165.13" cy="313.12" r="0.77" fill="#666"/>
<circle cx="168.82" cy="287.44" r="0.31" fill="#2a2a2a"/>
<circle cx="169.66" cy="291.91" r="0.3" fill="#444"/>
<ellipse cx="166.83" cy="315.94" rx="0.94" ry="0.52" fill="#2a2a2a" transform="rotate(43 166.83 315.94)"/>
<ellipse cx="168.33" cy="321.99" rx="0.82" ry="0.45" fill="#2a2a2a" transform="rotate(128 168.33 321.99)"/>
<circle cx="172.67" cy="286.54" r="0.52" fill="#2a2a2a"/>
<circle cx="170.79" cy="291.73" r="0.38" fill="#777"/>
<circle cx="171.38" cy="300.68" r="0.33" fill="#2a2a2a"/>
<circle cx="171.18" cy="309.21" r="0.58" fill="#666"/>
<circle cx="170.18" cy="317.43" r="0.78" fill="#444"/>
<ellipse cx="177.3" cy="289.77" rx="0.47" ry="0.26" fill="#666" transform="rotate(124 177.3 289.77)"/>
<ellipse cx="176.21" cy="293.39" rx="0.79" ry="0.43" fill="#444" transform="rotate(57 176.21 293.39)"/>
<circle cx="175.69" cy="300.57" r="0.64" fill="#666"/>
<circle cx="176.68" cy="307.43" r="0.66" fill="#444"/>
<circle cx="175.54" cy="315.58" r="0.77" fill="#666"/>
<circle cx="179.65" cy="292.2" r="0.64" fill="#444"/>
<circle cx="179.17" cy="308.16" r="0.31" fill="#2a2a2a"/>
<circle cx="180.5" cy="311.31" r="0.39" fill="#2a2a2a"/>
<circle cx="179.88" cy="316.12" r="0.78" fill="#666"/>
<circle cx="182.39" cy="299.65" r="0.58" fill="#777"/>
<ellipse cx="152.91" cy="319.13" rx="0.61" ry="0.34" fill="#777" transform="rotate(117 152.91 319.13)"/>
<circle cx="164.22" cy="285.22" r="0.39" fill="#777"/>
<ellipse cx="152.02" cy="317.8" rx="0.86" ry="0.47" fill="#444" transform="rotate(135 152.02 317.8)"/>
<circle cx="151.05" cy="292.9" r="0.41" fill="#444"/>
<ellipse cx="177.09" cy="293.12" rx="1.16" ry="0.64" fill="#777" transform="rotate(98 177.09 293.12)"/>
<circle cx="153.42" cy="289.75" r="0.34" fill="#444"/>
<ellipse cx="170.73" cy="322.2" rx="1.16" ry="0.64" fill="#444" transform="rotate(121 170.73 322.2)"/>
<ellipse cx="144.87" cy="307.8" rx="0.44" ry="0.24" fill="#444" transform="rotate(155 144.87 307.8)"/>
<circle cx="178.43" cy="292.17" r="0.76" fill="#666"/>
<ellipse cx="177.92" cy="290.45" rx="0.98" ry="0.54" fill="#666" transform="rotate(27 177.92 290.45)"/>
</g>
<g filter="url(#soft)">
<rect x="192.2" y="179.4" width="147.6" height="45.9" fill="#eeeeee"/>
<circle cx="216.6" cy="202.3" r="23.1" fill="#c4c4c4" stroke="#5a5a5a" stroke-width="0.85"/>
<circle cx="216.6" cy="202.3" r="21.5" fill="#d3d3d3" stroke="#333" stroke-width="1.1"/>
<circle cx="217.17" cy="208.8" r="0.46" fill="#9a9a9a" opacity="0.5"/>
<circle cx="219.54" cy="206.63" r="0.46" fill="#9a9a9a" opacity="0.5"/>
<circle cx="232.4" cy="193.35" r="0.61" fill="#9a9a9a" opacity="0.5"/>
<circle cx="219.21" cy="216.94" r="0.41" fill="#9a9a9a" opacity="0.5"/>
<circle cx="219.69" cy="208.15" r="0.39" fill="#9a9a9a" opacity="0.5"/>
<circle cx="233.2" cy="194.17" r="0.62" fill="#9a9a9a" opacity="0.5"/>
<circle cx="219.38" cy="193.82" r="0.42" fill="#9a9a9a" opacity="0.5"/>
<circle cx="204.47" cy="189.87" r="0.64" fill="#9a9a9a" opacity="0.5"/>
<circle cx="220.96" cy="198.21" r="0.54" fill="#9a9a9a" opacity="0.5"/>
<circle cx="209.78" cy="189.57" r="0.37" fill="#9a9a9a" opacity="0.5"/>
<circle cx="210.62" cy="203.3" r="0.67" fill="#9a9a9a" opacity="0.5"/>
<circle cx="226.57" cy="191.06" r="0.42" fill="#9a9a9a" opacity="0.5"/>
<circle cx="229.51" cy="193.98" r="0.65" fill="#9a9a9a" opacity="0.5"/>
<circle cx="224.96" cy="190.49" r="0.47" fill="#9a9a9a" opacity="0.5"/>
<circle cx="205.76" cy="194.54" r="0.36" fill="#9a9a9a" opacity="0.5"/>
<circle cx="210.39" cy="219.51" r="0.32" fill="#9a9a9a" opacity="0.5"/>
<circle cx="231.99" cy="206.91" r="0.41" fill="#9a9a9a" opacity="0.5"/>
<circle cx="202.99" cy="199.29" r="0.44" fill="#9a9a9a" opacity="0.5"/>
<circle cx="225.58" cy="202.15" r="0.47" fill="#9a9a9a" opacity="0.5"/>
<circle cx="221.33" cy="217.74" r="0.41" fill="#9a9a9a" opacity="0.5"/>
<circle cx="205.77" cy="216.11" r="0.43" fill="#9a9a9a" opacity="0.5"/>
<circle cx="198.59" cy="195.36" r="0.34" fill="#9a9a9a" opacity="0.5"/>
<circle cx="225.59" cy="205.97" r="0.61" fill="#9a9a9a" opacity="0.5"/>
<circle cx="209.2" cy="195.74" r="0.43" fill="#9a9a9a" opacity="0.5"/>
<circle cx="222.65" cy="214.65" r="0.32" fill="#9a9a9a" opacity="0.5"/>
<circle cx="210.35" cy="184.13" r="0.68" fill="#9a9a9a" opacity="0.5"/>
<circle cx="214.71" cy="182.5" r="0.31" fill="#9a9a9a" opacity="0.5"/>
<circle cx="211.76" cy="221.66" r="0.61" fill="#9a9a9a" opacity="0.5"/>
<circle cx="199.92" cy="212.82" r="0.55" fill="#9a9a9a" opacity="0.5"/>
<circle cx="221.15" cy="192.29" r="0.38" fill="#9a9a9a" opacity="0.5"/>
<circle cx="209.56" cy="204.88" r="0.45" fill="#9a9a9a" opacity="0.5"/>
<circle cx="227.95" cy="199.52" r="0.3" fill="#9a9a9a" opacity="0.5"/>
<circle cx="224.63" cy="204.62" r="0.61" fill="#9a9a9a" opacity="0.5"/>
<circle cx="209.48" cy="210.61" r="0.34" fill="#9a9a9a" opacity="0.5"/>
<circle cx="229.73" cy="200.79" r="0.38" fill="#9a9a9a" opacity="0.5"/>
<circle cx="221.04" cy="204.04" r="0.37" fill="#9a9a9a" opacity="0.5"/>
<circle cx="213.12" cy="195.26" r="0.32" fill="#9a9a9a" opacity="0.5"/>
<circle cx="206.49" cy="202.89" r="0.7" fill="#9a9a9a" opacity="0.5"/>
<circle cx="227.22" cy="212.56" r="0.61" fill="#9a9a9a" opacity="0.5"/>
<circle cx="199.61" cy="213.18" r="0.49" fill="#9a9a9a" opacity="0.5"/>
<circle cx="217.26" cy="215.29" r="0.31" fill="#9a9a9a" opacity="0.5"/>
<circle cx="207.69" cy="207.11" r="0.66" fill="#9a9a9a" opacity="0.5"/>
<circle cx="223.59" cy="189.78" r="0.31" fill="#9a9a9a" opacity="0.5"/>
<circle cx="216.32" cy="212.29" r="0.38" fill="#9a9a9a" opacity="0.5"/>
<circle cx="218.8" cy="221.1" r="0.36" fill="#9a9a9a" opacity="0.5"/>
<circle cx="235.15" cy="208.49" r="0.53" fill="#9a9a9a" opacity="0.5"/>
<circle cx="229.46" cy="201.54" r="0.66" fill="#9a9a9a" opacity="0.5"/>
<circle cx="206.36" cy="187.43" r="0.6" fill="#9a9a9a" opacity="0.5"/>
<circle cx="210.42" cy="202.52" r="0.38" fill="#9a9a9a" opacity="0.5"/>
<circle cx="230.11" cy="188.58" r="0.67" fill="#9a9a9a" opacity="0.5"/>
<circle cx="208.08" cy="216.38" r="0.62" fill="#9a9a9a" opacity="0.5"/>
<circle cx="205.14" cy="188" r="0.51" fill="#9a9a9a" opacity="0.5"/>
<circle cx="207.13" cy="188.41" r="0.41" fill="#9a9a9a" opacity="0.5"/>
<circle cx="234.16" cy="193.04" r="0.33" fill="#9a9a9a" opacity="0.5"/>
<circle cx="236.18" cy="198.7" r="0.57" fill="#9a9a9a" opacity="0.5"/>
<circle cx="235.1" cy="207.62" r="0.35" fill="#9a9a9a" opacity="0.5"/>
<circle cx="232.86" cy="199.04" r="0.32" fill="#9a9a9a" opacity="0.5"/>
<circle cx="224.64" cy="216.34" r="0.53" fill="#9a9a9a" opacity="0.5"/>
<circle cx="216.17" cy="182.75" r="0.39" fill="#9a9a9a" opacity="0.5"/>
<circle cx="236.09" cy="202.7" r="0.31" fill="#9a9a9a" opacity="0.5"/>
<circle cx="199.45" cy="203.51" r="0.99" fill="#888"/>
<ellipse cx="198.1" cy="206.05" rx="1.33" ry="0.74" fill="#555" transform="rotate(169 198.1 206.05)"/>
<circle cx="204.15" cy="189.47" r="0.7" fill="#7a7a7a"/>
<circle cx="204.25" cy="191.4" r="0.5" fill="#333"/>
<circle cx="204.05" cy="197.04" r="0.99" fill="#333"/>
<ellipse cx="204.22" cy="205.11" rx="1.16" ry="0.64" fill="#888" transform="rotate(121 204.22 205.11)"/>
<circle cx="202.47" cy="210.46" r="1.09" fill="#6a6a6a"/>
<circle cx="205.93" cy="199" r="0.38" fill="#333"/>
<circle cx="208.33" cy="204.23" r="0.66" fill="#888"/>
<ellipse cx="209" cy="220.25" rx="0.45" ry="0.25" fill="#333" transform="rotate(154 209 220.25)"/>
<ellipse cx="210.05" cy="189.45" rx="1.46" ry="0.8" fill="#6a6a6a" transform="rotate(130 210.05 189.45)"/>
<circle cx="212.45" cy="191.11" r="0.94" fill="#333"/>
<circle cx="210.06" cy="198.82" r="0.73" fill="#888"/>
<ellipse cx="213.55" cy="201.41" rx="1.43" ry="0.79" fill="#333" transform="rotate(178 213.55 201.41)"/>
<ellipse cx="212.26" cy="209.33" rx="0.53" ry="0.29" fill="#6a6a6a" transform="rotate(88 212.26 209.33)"/>
<circle cx="213.71" cy="214.33" r="0.91" fill="#6a6a6a"/>
<ellipse cx="216.69" cy="197.38" rx="1.07" ry="0.59" fill="#7a7a7a" transform="rotate(105 216.69 197.38)"/>
<circle cx="217" cy="221.21" r="0.62" fill="#333"/>
<circle cx="222.87" cy="187.77" r="0.96" fill="#6a6a6a"/>
<circle cx="219.66" cy="205.8" r="0.45" fill="#555"/>
<ellipse cx="225.68" cy="184.49" rx="0.83" ry="0.46" fill="#555" transform="rotate(122 225.68 184.49)"/>
<ellipse cx="227.57" cy="193.37" rx="1.43" ry="0.79" fill="#6a6a6a" transform="rotate(104 227.57 193.37)"/>
<ellipse cx="223.51" cy="199.58" rx="1.52" ry="0.84" fill="#7a7a7a" transform="rotate(158 223.51 199.58)"/>
<circle cx="223.62" cy="214.69" r="0.41" fill="#6a6a6a"/>
<circle cx="231.44" cy="189.03" r="0.31" fill="#6a6a6a"/>
<circle cx="230.21" cy="200.42" r="0.78" fill="#555"/>
<circle cx="227.95" cy="205.76" r="0.48" fill="#555"/>
<circle cx="228.08" cy="213.47" r="0.8" fill="#6a6a6a"/>
<circle cx="233.62" cy="195.2" r="0.99" fill="#7a7a7a"/>
<circle cx="227.95" cy="186.16" r="0.75" fill="#333"/>
<ellipse cx="201.51" cy="193.09" rx="1.58" ry="0.87" fill="#555" transform="rotate(132 201.51 193.09)"/>
<circle cx="201.99" cy="188.71" r="0.94" fill="#333"/>
<circle cx="210.08" cy="220.36" r="0.48" fill="#888"/>
<circle cx="266.6" cy="202.3" r="23.1" fill="#c4c4c4" stroke="#5a5a5a" stroke-width="0.85"/>
<circle cx="266.6" cy="202.3" r="21.5" fill="#d3d3d3" stroke="#333" stroke-width="1.1"/>
<circle cx="276.84" cy="216.54" r="0.56" fill="#9a9a9a" opacity="0.5"/>
<circle cx="285.83" cy="201.52" r="0.6" fill="#9a9a9a" opacity="0.5"/>
<circle cx="267.28" cy="184.14" r="0.57" fill="#9a9a9a" opacity="0.5"/>
<circle cx="265.33" cy="217.89" r="0.55" fill="#9a9a9a" opacity="0.5"/>
<circle cx="265.03" cy="184.56" r="0.64" fill="#9a9a9a" opacity="0.5"/>
<circle cx="274.75" cy="201.6" r="0.6" fill="#9a9a9a" opacity="0.5"/>
<circle cx="271.07" cy="203.74" r="0.36" fill="#9a9a9a" opacity="0.5"/>
<circle cx="284.78" cy="195.07" r="0.57" fill="#9a9a9a" opacity="0.5"/>
<circle cx="265.14" cy="221.73" r="0.57" fill="#9a9a9a" opacity="0.5"/>
<circle cx="247.93" cy="203.02" r="0.62" fill="#9a9a9a" opacity="0.5"/>
<circle cx="254.33" cy="212.16" r="0.5" fill="#9a9a9a" opacity="0.5"/>
<circle cx="260.65" cy="214.21" r="0.46" fill="#9a9a9a" opacity="0.5"/>
<circle cx="285.55" cy="206.69" r="0.37" fill="#9a9a9a" opacity="0.5"/>
<circle cx="259.65" cy="210.9" r="0.45" fill="#9a9a9a" opacity="0.5"/>
<circle cx="279.63" cy="187.56" r="0.57" fill="#9a9a9a" opacity="0.5"/>
<circle cx="255.54" cy="212.22" r="0.34" fill="#9a9a9a" opacity="0.5"/>
<circle cx="269.83" cy="222.3" r="0.37" fill="#9a9a9a" opacity="0.5"/>
<circle cx="263.71" cy="201.66" r="0.35" fill="#9a9a9a" opacity="0.5"/>
<circle cx="261.71" cy="218.44" r="0.43" fill="#9a9a9a" opacity="0.5"/>
<circle cx="247.56" cy="197.28" r="0.68" fill="#9a9a9a" opacity="0.5"/>
<circle cx="272.26" cy="185.02" r="0.37" fill="#9a9a9a" opacity="0.5"/>
<circle cx="282.54" cy="201.82" r="0.44" fill="#9a9a9a" opacity="0.5"/>
<circle cx="283.55" cy="202.92" r="0.48" fill="#9a9a9a" opacity="0.5"/>
<circle cx="265.78" cy="182.82" r="0.59" fill="#9a9a9a" opacity="0.5"/>
<circle cx="269.4" cy="213.63" r="0.54" fill="#9a9a9a" opacity="0.5"/>
<circle cx="271.96" cy="204.2" r="0.36" fill="#9a9a9a" opacity="0.5"/>
<circle cx="264.33" cy="197.82" r="0.63" fill="#9a9a9a" opacity="0.5"/>
<circle cx="267.26" cy="213.99" r="0.31" fill="#9a9a9a" opacity="0.5"/>
<circle cx="259.94" cy="191.65" r="0.39" fill="#9a9a9a" opacity="0.5"/>
<circle cx="252.84" cy="194.13" r="0.35" fill="#9a9a9a" opacity="0.5"/>
<circle cx="258.85" cy="196.28" r="0.6" fill="#9a9a9a" opacity="0.5"/>
<circle cx="254.63" cy="199.15" r="0.59" fill="#9a9a9a" opacity="0.5"/>
<circle cx="283.32" cy="194.22" r="0.56" fill="#9a9a9a" opacity="0.5"/>
<circle cx="255.89" cy="197.06" r="0.54" fill="#9a9a9a" opacity="0.5"/>
<circle cx="270.15" cy="201.51" r="0.36" fill="#9a9a9a" opacity="0.5"/>
<circle cx="249.66" cy="194.25" r="0.5" fill="#9a9a9a" opacity="0.5"/>
<circle cx="269.22" cy="197.44" r="0.55" fill="#9a9a9a" opacity="0.5"/>
<circle cx="269.29" cy="209.93" r="0.52" fill="#9a9a9a" opacity="0.5"/>
<circle cx="278.46" cy="216.61" r="0.52" fill="#9a9a9a" opacity="0.5"/>
<circle cx="255.42" cy="218.48" r="0.58" fill="#9a9a9a" opacity="0.5"/>
<circle cx="284.36" cy="207.71" r="0.36" fill="#9a9a9a" opacity="0.5"/>
<circle cx="273.79" cy="216.64" r="0.42" fill="#9a9a9a" opacity="0.5"/>
<circle cx="274.55" cy="195.06" r="0.56" fill="#9a9a9a" opacity="0.5"/>
<circle cx="267.55" cy="187.56" r="0.6" fill="#9a9a9a" opacity="0.5"/>
<circle cx="273.63" cy="205.21" r="0.67" fill="#9a9a9a" opacity="0.5"/>
<circle cx="278.08" cy="205.63" r="0.54" fill="#9a9a9a" opacity="0.5"/>
<circle cx="277.18" cy="196.25" r="0.38" fill="#9a9a9a" opacity="0.5"/>
<circle cx="258.57" cy="186.01" r="0.62" fill="#9a9a9a" opacity="0.5"/>
<circle cx="275.46" cy="204.13" r="0.57" fill="#9a9a9a" opacity="0.5"/>
<circle cx="269.4" cy="210.24" r="0.59" fill="#9a9a9a" opacity="0.5"/>
<circle cx="266.47" cy="196.53" r="0.34" fill="#9a9a9a" opacity="0.5"/>
<circle cx="281.75" cy="189.48" r="0.51" fill="#9a9a9a" opacity="0.5"/>
<circle cx="261.5" cy="201.49" r="0.51" fill="#9a9a9a" opacity="0.5"/>
<circle cx="262.2" cy="209.38" r="0.38" fill="#9a9a9a" opacity="0.5"/>
<circle cx="264.81" cy="197.58" r="0.32" fill="#9a9a9a" opacity="0.5"/>
<circle cx="279.38" cy="217.59" r="0.66" fill="#9a9a9a" opacity="0.5"/>
<circle cx="280.85" cy="199.11" r="0.51" fill="#9a9a9a" opacity="0.5"/>
<circle cx="262.83" cy="195.93" r="0.53" fill="#9a9a9a" opacity="0.5"/>
<circle cx="252.56" cy="194.58" r="0.54" fill="#9a9a9a" opacity="0.5"/>
<circle cx="270.82" cy="202.44" r="0.41" fill="#9a9a9a" opacity="0.5"/>
<ellipse cx="249.29" cy="208.33" rx="1.18" ry="0.65" fill="#333" transform="rotate(50 249.29 208.33)"/>
<ellipse cx="253.94" cy="196.04" rx="1.36" ry="0.75" fill="#555" transform="rotate(65 253.94 196.04)"/>
<circle cx="252.68" cy="207.37" r="0.75" fill="#6a6a6a"/>
<circle cx="252.13" cy="209.11" r="0.47" fill="#333"/>
<circle cx="250.71" cy="213.79" r="0.76" fill="#555"/>
<circle cx="255.82" cy="186.03" r="0.76" fill="#6a6a6a"/>
<circle cx="255.24" cy="191.55" r="0.92" fill="#7a7a7a"/>
<ellipse cx="254.99" cy="205.18" rx="0.56" ry="0.31" fill="#555" transform="rotate(8 254.99 205.18)"/>
<circle cx="254.74" cy="216.96" r="1.12" fill="#555"/>
<ellipse cx="260.35" cy="201.04" rx="0.92" ry="0.51" fill="#888" transform="rotate(156 260.35 201.04)"/>
<circle cx="260.85" cy="207.54" r="0.39" fill="#6a6a6a"/>
<circle cx="259.7" cy="211.36" r="0.6" fill="#7a7a7a"/>
<circle cx="260.58" cy="212.54" r="1.19" fill="#333"/>
<ellipse cx="265.38" cy="202.86" rx="0.94" ry="0.52" fill="#6a6a6a" transform="rotate(168 265.38 202.86)"/>
<circle cx="265.44" cy="206.13" r="0.45" fill="#7a7a7a"/>
<circle cx="267.25" cy="211.29" r="1.11" fill="#888"/>
<ellipse cx="264.67" cy="215.88" rx="1.25" ry="0.69" fill="#7a7a7a" transform="rotate(95 264.67 215.88)"/>
<circle cx="264.57" cy="221.47" r="0.92" fill="#333"/>
<circle cx="270.14" cy="195" r="0.77" fill="#555"/>
<circle cx="269.19" cy="200.9" r="1.07" fill="#7a7a7a"/>
<circle cx="274.92" cy="201.32" r="0.31" fill="#555"/>
<ellipse cx="271.91" cy="204.22" rx="0.83" ry="0.46" fill="#555" transform="rotate(171 271.91 204.22)"/>
<ellipse cx="273.29" cy="209.04" rx="0.91" ry="0.5" fill="#7a7a7a" transform="rotate(111 273.29 209.04)"/>
<circle cx="272.91" cy="215.49" r="0.42" fill="#333"/>
<ellipse cx="277.16" cy="189.36" rx="1.07" ry="0.59" fill="#888" transform="rotate(8 277.16 189.36)"/>
<ellipse cx="280.5" cy="196.6" rx="1.01" ry="0.56" fill="#6a6a6a" transform="rotate(14 280.5 196.6)"/>
<circle cx="277.47" cy="200.59" r="0.36" fill="#333"/>
<ellipse cx="279.62" cy="207.23" rx="0.83" ry="0.46" fill="#6a6a6a" transform="rotate(112 279.62 207.23)"/>
<ellipse cx="283.93" cy="191.61" rx="0.79" ry="0.44" fill="#888" transform="rotate(32 283.93 191.61)"/>
<circle cx="281.35" cy="211.59" r="0.37" fill="#7a7a7a"/>
<circle cx="278.92" cy="215.28" r="0.94" fill="#7a7a7a"/>
<ellipse cx="273.26" cy="184.55" rx="0.79" ry="0.44" fill="#888" transform="rotate(46 273.26 184.55)"/>
<circle cx="284.12" cy="210.79" r="0.38" fill="#888"/>
<ellipse cx="273.17" cy="186.12" rx="1.2" ry="0.66" fill="#555" transform="rotate(171 273.17 186.12)"/>
<ellipse cx="247.33" cy="201.64" rx="1.27" ry="0.7" fill="#888" transform="rotate(175 247.33 201.64)"/>
<circle cx="315" cy="202.3" r="23.1" fill="#c4c4c4" stroke="#5a5a5a" stroke-width="0.85"/>
<circle cx="315" cy="202.3" r="21.5" fill="#d3d3d3" stroke="#333" stroke-width="1.1"/>
<circle cx="311.22" cy="186.71" r="0.38" fill="#9a9a9a" opacity="0.5"/>
<circle cx="316.38" cy="189.04" r="0.41" fill="#9a9a9a" opacity="0.5"/>
<circle cx="324.24" cy="218.34" r="0.68" fill="#9a9a9a" opacity="0.5"/>
<circle cx="330.08" cy="214.65" r="0.69" fill="#9a9a9a" opacity="0.5"/>
<circle cx="320.05" cy="192.96" r="0.48" fill="#9a9a9a" opacity="0.5"/>
<circle cx="331.96" cy="196.66" r="0.33" fill="#9a9a9a" opacity="0.5"/>
<circle cx="308.24" cy="215.61" r="0.66" fill="#9a9a9a" opacity="0.5"/>
<circle cx="326.09" cy="194.69" r="0.65" fill="#9a9a9a" opacity="0.5"/>
<circle cx="322.19" cy="195.04" r="0.4" fill="#9a9a9a" opacity="0.5"/>
<circle cx="306.61" cy="215.14" r="0.37" fill="#9a9a9a" opacity="0.5"/>
<circle cx="324.46" cy="190.35" r="0.39" fill="#9a9a9a" opacity="0.5"/>
<circle cx="326.38" cy="210.94" r="0.54" fill="#9a9a9a" opacity="0.5"/>
<circle cx="300.41" cy="211.66" r="0.69" fill="#9a9a9a" opacity="0.5"/>
<circle cx="302.18" cy="207.62" r="0.55" fill="#9a9a9a" opacity="0.5"/>
<circle cx="297.55" cy="193.19" r="0.57" fill="#9a9a9a" opacity="0.5"/>
<circle cx="306.62" cy="203.54" r="0.64" fill="#9a9a9a" opacity="0.5"/>
<circle cx="326.82" cy="190.48" r="0.33" fill="#9a9a9a" opacity="0.5"/>
<circle cx="308.9" cy="187.82" r="0.59" fill="#9a9a9a" opacity="0.5"/>
<circle cx="306.22" cy="200.98" r="0.7" fill="#9a9a9a" opacity="0.5"/>
<circle cx="311.05" cy="188.02" r="0.62" fill="#9a9a9a" opacity="0.5"/>
<circle cx="314.03" cy="216.16" r="0.51" fill="#9a9a9a" opacity="0.5"/>
<circle cx="331.65" cy="209.07" r="0.48" fill="#9a9a9a" opacity="0.5"/>
<circle cx="297.16" cy="196.77" r="0.36" fill="#9a9a9a" opacity="0.5"/>
<circle cx="316.31" cy="214.54" r="0.33" fill="#9a9a9a" opacity="0.5"/>
<circle cx="314.01" cy="221.54" r="0.64" fill="#9a9a9a" opacity="0.5"/>
<circle cx="311.85" cy="215.01" r="0.37" fill="#9a9a9a" opacity="0.5"/>
<circle cx="312.77" cy="193" r="0.46" fill="#9a9a9a" opacity="0.5"/>
<circle cx="312.65" cy="213.41" r="0.36" fill="#9a9a9a" opacity="0.5"/>
<circle cx="321.86" cy="190.72" r="0.39" fill="#9a9a9a" opacity="0.5"/>
<circle cx="298.83" cy="204.45" r="0.54" fill="#9a9a9a" opacity="0.5"/>
<circle cx="333.4" cy="209.92" r="0.31" fill="#9a9a9a" opacity="0.5"/>
<circle cx="310.17" cy="212.89" r="0.6" fill="#9a9a9a" opacity="0.5"/>
<circle cx="324.99" cy="214.36" r="0.32" fill="#9a9a9a" opacity="0.5"/>
<circle cx="303.17" cy="214.82" r="0.6" fill="#9a9a9a" opacity="0.5"/>
<circle cx="327.4" cy="209.76" r="0.34" fill="#9a9a9a" opacity="0.5"/>
<circle cx="329.59" cy="194.35" r="0.5" fill="#9a9a9a" opacity="0.5"/>
<circle cx="312.01" cy="194.08" r="0.6" fill="#9a9a9a" opacity="0.5"/>
<circle cx="307.06" cy="219.45" r="0.62" fill="#9a9a9a" opacity="0.5"/>
<circle cx="325.27" cy="185.25" r="0.49" fill="#9a9a9a" opacity="0.5"/>
<circle cx="319.97" cy="185.93" r="0.63" fill="#9a9a9a" opacity="0.5"/>
<circle cx="319.24" cy="209.62" r="0.59" fill="#9a9a9a" opacity="0.5"/>
<circle cx="322.76" cy="198.04" r="0.46" fill="#9a9a9a" opacity="0.5"/>
<circle cx="304.19" cy="199.02" r="0.67" fill="#9a9a9a" opacity="0.5"/>
<circle cx="319.52" cy="187.25" r="0.43" fill="#9a9a9a" opacity="0.5"/>
<circle cx="305.32" cy="202.04" r="0.43" fill="#9a9a9a" opacity="0.5"/>
<circle cx="299.31" cy="209.88" r="0.63" fill="#9a9a9a" opacity="0.5"/>
<circle cx="324.62" cy="209.32" r="0.7" fill="#9a9a9a" opacity="0.5"/>
<circle cx="318.06" cy="207.86" r="0.42" fill="#9a9a9a" opacity="0.5"/>
<circle cx="321.47" cy="187.59" r="0.54" fill="#9a9a9a" opacity="0.5"/>
<circle cx="298.49" cy="199.03" r="0.43" fill="#9a9a9a" opacity="0.5"/>
<circle cx="334.29" cy="205.99" r="0.55" fill="#9a9a9a" opacity="0.5"/>
<circle cx="320.27" cy="195.58" r="0.41" fill="#9a9a9a" opacity="0.5"/>
<circle cx="318.33" cy="199.36" r="0.65" fill="#9a9a9a" opacity="0.5"/>
<circle cx="310.73" cy="212.02" r="0.49" fill="#9a9a9a" opacity="0.5"/>
<circle cx="314.63" cy="195.54" r="0.43" fill="#9a9a9a" opacity="0.5"/>
<circle cx="312.44" cy="212.18" r="0.56" fill="#9a9a9a" opacity="0.5"/>
<circle cx="309.65" cy="215.97" r="0.51" fill="#9a9a9a" opacity="0.5"/>
<circle cx="305.31" cy="205.85" r="0.3" fill="#9a9a9a" opacity="0.5"/>
<circle cx="309.83" cy="201.5" r="0.4" fill="#9a9a9a" opacity="0.5"/>
<circle cx="300.55" cy="192.62" r="0.61" fill="#9a9a9a" opacity="0.5"/>
<circle cx="297.98" cy="211.99" r="0.55" fill="#7a7a7a"/>
<ellipse cx="299.06" cy="190.32" rx="1.4" ry="0.77" fill="#7a7a7a" transform="rotate(47 299.06 190.32)"/>
<ellipse cx="298.91" cy="204.88" rx="0.65" ry="0.36" fill="#7a7a7a" transform="rotate(65 298.91 204.88)"/>
<circle cx="307.73" cy="189.84" r="1.35" fill="#6a6a6a"/>
<circle cx="304.98" cy="206.39" r="0.33" fill="#7a7a7a"/>
<circle cx="308.46" cy="192.19" r="1.39" fill="#333"/>
<circle cx="309" cy="199.48" r="1.08" fill="#7a7a7a"/>
<ellipse cx="312.39" cy="213.76" rx="1.2" ry="0.66" fill="#7a7a7a" transform="rotate(144 312.39 213.76)"/>
<circle cx="315.27" cy="186.96" r="1.04" fill="#7a7a7a"/>
<circle cx="316.87" cy="195.96" r="0.97" fill="#888"/>
<circle cx="316.66" cy="200.23" r="0.51" fill="#6a6a6a"/>
<circle cx="312.55" cy="212.8" r="1.26" fill="#888"/>
<circle cx="316.41" cy="215.85" r="0.65" fill="#7a7a7a"/>
<circle cx="315.39" cy="219.86" r="1.05" fill="#7a7a7a"/>
<ellipse cx="318.96" cy="190.34" rx="1.38" ry="0.76" fill="#333" transform="rotate(39 318.96 190.34)"/>
<ellipse cx="320.98" cy="191" rx="0.84" ry="0.46" fill="#6a6a6a" transform="rotate(117 320.98 191)"/>
<circle cx="318.82" cy="198.58" r="1.25" fill="#888"/>
<circle cx="317.85" cy="203.05" r="1.2" fill="#888"/>
<circle cx="326.11" cy="210.24" r="1.08" fill="#555"/>
<circle cx="330.67" cy="190.59" r="0.89" fill="#7a7a7a"/>
<circle cx="330.12" cy="202.5" r="0.88" fill="#333"/>
<circle cx="327.53" cy="206.51" r="0.78" fill="#555"/>
<circle cx="333.84" cy="204.9" r="1.2" fill="#888"/>
<circle cx="295.25" cy="198.74" r="0.52" fill="#7a7a7a"/>
<circle cx="333.33" cy="197.79" r="0.76" fill="#7a7a7a"/>
<circle cx="326.72" cy="216.78" r="0.67" fill="#888"/>
<circle cx="306.63" cy="185.78" r="0.44" fill="#333"/>
<circle cx="326.39" cy="188.09" r="0.47" fill="#888"/>
<circle cx="223.5" cy="198" r="0.9" fill="#111"/>
<circle cx="226" cy="213" r="1" fill="#111"/>
<circle cx="233.5" cy="194" r="0.8" fill="#111"/>
<circle cx="324.5" cy="215.5" r="1.7" fill="#111"/>
<circle cx="320.5" cy="208.5" r="1" fill="#111"/>
<circle cx="297.5" cy="195.5" r="1.1" fill="#111"/>
<circle cx="262" cy="210" r="0.9" fill="#111"/>
<circle cx="271" cy="203" r="0.8" fill="#111"/>
</g>
<g filter="url(#soft)">
<rect x="192.2" y="228.4" width="147.6" height="47.2" fill="#eeeeee"/>
<circle cx="216.6" cy="252.2" r="23.1" fill="#c4c4c4" stroke="#5a5a5a" stroke-width="0.85"/>
<circle cx="216.6" cy="252.2" r="21.5" fill="#d6d6d6" stroke="#333" stroke-width="1.1"/>
<circle cx="204.08" cy="240" r="0.62" fill="#9a9a9a" opacity="0.5"/>
<circle cx="232.93" cy="246.02" r="0.67" fill="#9a9a9a" opacity="0.5"/>
<circle cx="230.22" cy="254.71" r="0.68" fill="#9a9a9a" opacity="0.5"/>
<circle cx="205.17" cy="236.69" r="0.35" fill="#9a9a9a" opacity="0.5"/>
<circle cx="206.71" cy="254.15" r="0.52" fill="#9a9a9a" opacity="0.5"/>
<circle cx="214.52" cy="251.16" r="0.39" fill="#9a9a9a" opacity="0.5"/>
<circle cx="213.02" cy="271.3" r="0.61" fill="#9a9a9a" opacity="0.5"/>
<circle cx="226.35" cy="267.48" r="0.36" fill="#9a9a9a" opacity="0.5"/>
<circle cx="211.25" cy="247.34" r="0.3" fill="#9a9a9a" opacity="0.5"/>
<circle cx="223.02" cy="245.48" r="0.39" fill="#9a9a9a" opacity="0.5"/>
<circle cx="235.45" cy="250.11" r="0.42" fill="#9a9a9a" opacity="0.5"/>
<circle cx="231.07" cy="248.63" r="0.57" fill="#9a9a9a" opacity="0.5"/>
<circle cx="222.12" cy="271.1" r="0.58" fill="#9a9a9a" opacity="0.5"/>
<circle cx="235.37" cy="248.2" r="0.42" fill="#9a9a9a" opacity="0.5"/>
<circle cx="211.28" cy="258.53" r="0.36" fill="#9a9a9a" opacity="0.5"/>
<circle cx="226.82" cy="256.63" r="0.54" fill="#9a9a9a" opacity="0.5"/>
<circle cx="233.31" cy="252.56" r="0.44" fill="#9a9a9a" opacity="0.5"/>
<circle cx="209.84" cy="269.28" r="0.49" fill="#9a9a9a" opacity="0.5"/>
<circle cx="210.94" cy="265.1" r="0.58" fill="#9a9a9a" opacity="0.5"/>
<circle cx="235.37" cy="259.23" r="0.31" fill="#9a9a9a" opacity="0.5"/>
<circle cx="216.58" cy="233.54" r="0.31" fill="#9a9a9a" opacity="0.5"/>
<circle cx="219.49" cy="240.26" r="0.53" fill="#9a9a9a" opacity="0.5"/>
<circle cx="220.98" cy="252.45" r="0.37" fill="#9a9a9a" opacity="0.5"/>
<circle cx="225.24" cy="249.7" r="0.6" fill="#9a9a9a" opacity="0.5"/>
<circle cx="234.41" cy="243.77" r="0.44" fill="#9a9a9a" opacity="0.5"/>
<circle cx="207.6" cy="263.83" r="0.61" fill="#9a9a9a" opacity="0.5"/>
<circle cx="230.27" cy="263.23" r="0.62" fill="#9a9a9a" opacity="0.5"/>
<circle cx="219.07" cy="249.2" r="0.68" fill="#9a9a9a" opacity="0.5"/>
<circle cx="226.56" cy="258.62" r="0.54" fill="#9a9a9a" opacity="0.5"/>
<circle cx="226.9" cy="246.37" r="0.67" fill="#9a9a9a" opacity="0.5"/>
<circle cx="205.71" cy="249.02" r="0.43" fill="#9a9a9a" opacity="0.5"/>
<circle cx="219.1" cy="257.3" r="0.36" fill="#9a9a9a" opacity="0.5"/>
<circle cx="209.04" cy="233.4" r="0.36" fill="#9a9a9a" opacity="0.5"/>
<circle cx="235.83" cy="258.26" r="0.51" fill="#9a9a9a" opacity="0.5"/>
<circle cx="208.39" cy="257.71" r="0.54" fill="#9a9a9a" opacity="0.5"/>
<circle cx="222.92" cy="240.04" r="0.47" fill="#9a9a9a" opacity="0.5"/>
<circle cx="234.85" cy="258.86" r="0.31" fill="#9a9a9a" opacity="0.5"/>
<circle cx="198.03" cy="252.95" r="0.35" fill="#9a9a9a" opacity="0.5"/>
<circle cx="214.33" cy="232.55" r="0.55" fill="#9a9a9a" opacity="0.5"/>
<circle cx="218.17" cy="245.76" r="0.47" fill="#9a9a9a" opacity="0.5"/>
<circle cx="266.6" cy="252.2" r="23.1" fill="#c4c4c4" stroke="#5a5a5a" stroke-width="0.85"/>
<circle cx="266.6" cy="252.2" r="21.5" fill="#d6d6d6" stroke="#333" stroke-width="1.1"/>
<circle cx="265.56" cy="243.85" r="0.61" fill="#9a9a9a" opacity="0.5"/>
<circle cx="252.13" cy="244.14" r="0.47" fill="#9a9a9a" opacity="0.5"/>
<circle cx="253.87" cy="239.67" r="0.55" fill="#9a9a9a" opacity="0.5"/>
<circle cx="265.98" cy="248.88" r="0.36" fill="#9a9a9a" opacity="0.5"/>
<circle cx="251.34" cy="258.12" r="0.39" fill="#9a9a9a" opacity="0.5"/>
<circle cx="260.29" cy="237.36" r="0.32" fill="#9a9a9a" opacity="0.5"/>
<circle cx="257.1" cy="253.91" r="0.32" fill="#9a9a9a" opacity="0.5"/>
<circle cx="274.24" cy="260.71" r="0.37" fill="#9a9a9a" opacity="0.5"/>
<circle cx="267.94" cy="255.79" r="0.49" fill="#9a9a9a" opacity="0.5"/>
<circle cx="255" cy="263.05" r="0.54" fill="#9a9a9a" opacity="0.5"/>
<circle cx="268.07" cy="271.44" r="0.3" fill="#9a9a9a" opacity="0.5"/>
<circle cx="257.72" cy="258.2" r="0.46" fill="#9a9a9a" opacity="0.5"/>
<circle cx="280.48" cy="264.45" r="0.45" fill="#9a9a9a" opacity="0.5"/>
<circle cx="282.09" cy="255.77" r="0.34" fill="#9a9a9a" opacity="0.5"/>
<circle cx="255.25" cy="248.88" r="0.53" fill="#9a9a9a" opacity="0.5"/>
<circle cx="284.34" cy="247.44" r="0.47" fill="#9a9a9a" opacity="0.5"/>
<circle cx="272.87" cy="237.19" r="0.45" fill="#9a9a9a" opacity="0.5"/>
<circle cx="276.43" cy="264.41" r="0.53" fill="#9a9a9a" opacity="0.5"/>
<circle cx="285.86" cy="246.9" r="0.54" fill="#9a9a9a" opacity="0.5"/>
<circle cx="255.21" cy="267.64" r="0.3" fill="#9a9a9a" opacity="0.5"/>
<circle cx="278.49" cy="261.78" r="0.55" fill="#9a9a9a" opacity="0.5"/>
<circle cx="276.81" cy="264.65" r="0.66" fill="#9a9a9a" opacity="0.5"/>
<circle cx="257.12" cy="261.58" r="0.39" fill="#9a9a9a" opacity="0.5"/>
<circle cx="261.44" cy="271.54" r="0.45" fill="#9a9a9a" opacity="0.5"/>
<circle cx="285.43" cy="247.51" r="0.54" fill="#9a9a9a" opacity="0.5"/>
<circle cx="265.36" cy="272.27" r="0.5" fill="#9a9a9a" opacity="0.5"/>
<circle cx="256.71" cy="258.01" r="0.69" fill="#9a9a9a" opacity="0.5"/>
<circle cx="255.75" cy="252.76" r="0.49" fill="#9a9a9a" opacity="0.5"/>
<circle cx="278.14" cy="263.29" r="0.48" fill="#9a9a9a" opacity="0.5"/>
<circle cx="261.8" cy="269.49" r="0.63" fill="#9a9a9a" opacity="0.5"/>
<circle cx="281.36" cy="253.43" r="0.41" fill="#9a9a9a" opacity="0.5"/>
<circle cx="283.09" cy="245.1" r="0.4" fill="#9a9a9a" opacity="0.5"/>
<circle cx="265.71" cy="260.14" r="0.7" fill="#9a9a9a" opacity="0.5"/>
<circle cx="262.36" cy="267.45" r="0.49" fill="#9a9a9a" opacity="0.5"/>
<circle cx="256.92" cy="239.74" r="0.6" fill="#9a9a9a" opacity="0.5"/>
<circle cx="279.64" cy="264.17" r="0.42" fill="#9a9a9a" opacity="0.5"/>
<circle cx="255.09" cy="249.74" r="0.42" fill="#9a9a9a" opacity="0.5"/>
<circle cx="253.01" cy="249.62" r="0.44" fill="#9a9a9a" opacity="0.5"/>
<circle cx="266.11" cy="236.6" r="0.31" fill="#9a9a9a" opacity="0.5"/>
<circle cx="266.39" cy="265.9" r="0.67" fill="#9a9a9a" opacity="0.5"/>
<circle cx="280.69" cy="240.93" r="0.31" fill="#333"/>
<circle cx="315" cy="252.2" r="23.1" fill="#c4c4c4" stroke="#5a5a5a" stroke-width="0.85"/>
<circle cx="315" cy="252.2" r="21.5" fill="#d6d6d6" stroke="#333" stroke-width="1.1"/>
<circle cx="314.7" cy="241.46" r="0.53" fill="#9a9a9a" opacity="0.5"/>
<circle cx="324.43" cy="260.88" r="0.55" fill="#9a9a9a" opacity="0.5"/>
<circle cx="321.13" cy="252.58" r="0.57" fill="#9a9a9a" opacity="0.5"/>
<circle cx="302.96" cy="253" r="0.56" fill="#9a9a9a" opacity="0.5"/>
<circle cx="321.49" cy="248.35" r="0.42" fill="#9a9a9a" opacity="0.5"/>
<circle cx="299.82" cy="245.21" r="0.42" fill="#9a9a9a" opacity="0.5"/>
<circle cx="329.06" cy="246.83" r="0.39" fill="#9a9a9a" opacity="0.5"/>
<circle cx="324.09" cy="256.01" r="0.63" fill="#9a9a9a" opacity="0.5"/>
<circle cx="310.82" cy="271.8" r="0.62" fill="#9a9a9a" opacity="0.5"/>
<circle cx="323.94" cy="241.86" r="0.46" fill="#9a9a9a" opacity="0.5"/>
<circle cx="316.88" cy="254.24" r="0.44" fill="#9a9a9a" opacity="0.5"/>
<circle cx="311.55" cy="250.49" r="0.65" fill="#9a9a9a" opacity="0.5"/>
<circle cx="301.34" cy="251.64" r="0.46" fill="#9a9a9a" opacity="0.5"/>
<circle cx="295.62" cy="256.83" r="0.34" fill="#9a9a9a" opacity="0.5"/>
<circle cx="300.33" cy="249.33" r="0.45" fill="#9a9a9a" opacity="0.5"/>
<circle cx="326.42" cy="236.11" r="0.47" fill="#9a9a9a" opacity="0.5"/>
<circle cx="319.84" cy="235.3" r="0.33" fill="#9a9a9a" opacity="0.5"/>
<circle cx="327.08" cy="244.68" r="0.38" fill="#9a9a9a" opacity="0.5"/>
<circle cx="311.27" cy="240.33" r="0.63" fill="#9a9a9a" opacity="0.5"/>
<circle cx="310.15" cy="271.17" r="0.58" fill="#9a9a9a" opacity="0.5"/>
<circle cx="318.56" cy="240.24" r="0.59" fill="#9a9a9a" opacity="0.5"/>
<circle cx="308.05" cy="260.78" r="0.55" fill="#9a9a9a" opacity="0.5"/>
<circle cx="326.86" cy="249.25" r="0.31" fill="#9a9a9a" opacity="0.5"/>
<circle cx="324.4" cy="251.79" r="0.37" fill="#9a9a9a" opacity="0.5"/>
<circle cx="318.61" cy="253.71" r="0.37" fill="#9a9a9a" opacity="0.5"/>
<circle cx="319.76" cy="265.59" r="0.67" fill="#9a9a9a" opacity="0.5"/>
<circle cx="308.66" cy="242.03" r="0.47" fill="#9a9a9a" opacity="0.5"/>
<circle cx="308.87" cy="270.84" r="0.67" fill="#9a9a9a" opacity="0.5"/>
<circle cx="308.87" cy="264.56" r="0.38" fill="#9a9a9a" opacity="0.5"/>
<circle cx="311.91" cy="247.75" r="0.65" fill="#9a9a9a" opacity="0.5"/>
<circle cx="324.45" cy="241.99" r="0.52" fill="#9a9a9a" opacity="0.5"/>
<circle cx="329.13" cy="263.93" r="0.6" fill="#9a9a9a" opacity="0.5"/>
<circle cx="313.26" cy="248.94" r="0.66" fill="#9a9a9a" opacity="0.5"/>
<circle cx="305.17" cy="266.8" r="0.43" fill="#9a9a9a" opacity="0.5"/>
<circle cx="317.79" cy="253.28" r="0.48" fill="#9a9a9a" opacity="0.5"/>
<circle cx="319.66" cy="245.68" r="0.61" fill="#9a9a9a" opacity="0.5"/>
<circle cx="308.85" cy="264.41" r="0.4" fill="#9a9a9a" opacity="0.5"/>
<circle cx="318.71" cy="252.05" r="0.59" fill="#9a9a9a" opacity="0.5"/>
<circle cx="300.33" cy="244.76" r="0.55" fill="#9a9a9a" opacity="0.5"/>
<circle cx="329.5" cy="243.21" r="0.57" fill="#9a9a9a" opacity="0.5"/>
<circle cx="315.03" cy="263.52" r="0.3" fill="#6a6a6a"/>
<circle cx="202.5" cy="255.5" r="1.3" fill="#111"/>
<circle cx="205" cy="248" r="0.7" fill="#111"/>
<circle cx="208" cy="248.5" r="0.6" fill="#111"/>
</g>
<g filter="url(#soft)">
<rect x="192.2" y="280.1" width="147.6" height="48.8" fill="#eeeeee"/>
<circle cx="216.6" cy="304.6" r="23.1" fill="#c4c4c4" stroke="#5a5a5a" stroke-width="0.85"/>
<circle cx="216.6" cy="304.6" r="21.5" fill="#d3d3d3" stroke="#333" stroke-width="1.1"/>
<circle cx="221.55" cy="286.87" r="0.49" fill="#9a9a9a" opacity="0.5"/>
<circle cx="216.57" cy="305.03" r="0.57" fill="#9a9a9a" opacity="0.5"/>
<circle cx="199.21" cy="307.89" r="0.45" fill="#9a9a9a" opacity="0.5"/>
<circle cx="217.94" cy="294.08" r="0.62" fill="#9a9a9a" opacity="0.5"/>
<circle cx="214.95" cy="291.64" r="0.52" fill="#9a9a9a" opacity="0.5"/>
<circle cx="212.91" cy="296.48" r="0.52" fill="#9a9a9a" opacity="0.5"/>
<circle cx="220.15" cy="294.76" r="0.62" fill="#9a9a9a" opacity="0.5"/>
<circle cx="209.27" cy="287.45" r="0.43" fill="#9a9a9a" opacity="0.5"/>
<circle cx="231.74" cy="314.63" r="0.62" fill="#9a9a9a" opacity="0.5"/>
<circle cx="210.75" cy="306.7" r="0.38" fill="#9a9a9a" opacity="0.5"/>
<circle cx="209.35" cy="296.39" r="0.68" fill="#9a9a9a" opacity="0.5"/>
<circle cx="208.87" cy="299.79" r="0.56" fill="#9a9a9a" opacity="0.5"/>
<circle cx="204.07" cy="319.68" r="0.66" fill="#9a9a9a" opacity="0.5"/>
<circle cx="200.37" cy="303.1" r="0.58" fill="#9a9a9a" opacity="0.5"/>
<circle cx="223.45" cy="285.75" r="0.31" fill="#9a9a9a" opacity="0.5"/>
<circle cx="206.46" cy="316.65" r="0.42" fill="#9a9a9a" opacity="0.5"/>
<circle cx="211.45" cy="301.37" r="0.65" fill="#9a9a9a" opacity="0.5"/>
<circle cx="209.75" cy="303.5" r="0.57" fill="#9a9a9a" opacity="0.5"/>
<circle cx="213.17" cy="312.91" r="0.49" fill="#9a9a9a" opacity="0.5"/>
<circle cx="222.61" cy="311.69" r="0.65" fill="#9a9a9a" opacity="0.5"/>
<circle cx="215.87" cy="302.45" r="0.61" fill="#9a9a9a" opacity="0.5"/>
<circle cx="228.25" cy="305.85" r="0.66" fill="#9a9a9a" opacity="0.5"/>
<circle cx="208.43" cy="296.9" r="0.45" fill="#9a9a9a" opacity="0.5"/>
<circle cx="211.05" cy="309.24" r="0.7" fill="#9a9a9a" opacity="0.5"/>
<circle cx="229.05" cy="308.98" r="0.6" fill="#9a9a9a" opacity="0.5"/>
<circle cx="200.5" cy="316.65" r="0.4" fill="#9a9a9a" opacity="0.5"/>
<circle cx="235.61" cy="302.11" r="0.57" fill="#9a9a9a" opacity="0.5"/>
<circle cx="227.03" cy="295.91" r="0.63" fill="#9a9a9a" opacity="0.5"/>
<circle cx="220.77" cy="290.62" r="0.49" fill="#9a9a9a" opacity="0.5"/>
<circle cx="213.03" cy="292.12" r="0.33" fill="#9a9a9a" opacity="0.5"/>
<circle cx="216.37" cy="294.14" r="0.5" fill="#9a9a9a" opacity="0.5"/>
<circle cx="218.39" cy="296.37" r="0.31" fill="#9a9a9a" opacity="0.5"/>
<circle cx="227.72" cy="315.52" r="0.44" fill="#9a9a9a" opacity="0.5"/>
<circle cx="216.06" cy="318.23" r="0.67" fill="#9a9a9a" opacity="0.5"/>
<circle cx="216.21" cy="317.6" r="0.65" fill="#9a9a9a" opacity="0.5"/>
<circle cx="208.6" cy="297.79" r="0.49" fill="#9a9a9a" opacity="0.5"/>
<circle cx="209.01" cy="305.63" r="0.45" fill="#9a9a9a" opacity="0.5"/>
<circle cx="210.36" cy="321.71" r="0.43" fill="#9a9a9a" opacity="0.5"/>
<circle cx="205.8" cy="287.76" r="0.67" fill="#9a9a9a" opacity="0.5"/>
<circle cx="205.38" cy="315.67" r="0.43" fill="#9a9a9a" opacity="0.5"/>
<circle cx="205.22" cy="313.06" r="0.62" fill="#9a9a9a" opacity="0.5"/>
<circle cx="226.69" cy="300.35" r="0.3" fill="#9a9a9a" opacity="0.5"/>
<circle cx="211.99" cy="306.12" r="0.31" fill="#9a9a9a" opacity="0.5"/>
<circle cx="217.6" cy="297.88" r="0.59" fill="#9a9a9a" opacity="0.5"/>
<circle cx="203.87" cy="319.59" r="0.64" fill="#9a9a9a" opacity="0.5"/>
<circle cx="224.84" cy="308" r="0.68" fill="#9a9a9a" opacity="0.5"/>
<circle cx="206.62" cy="295.98" r="0.61" fill="#9a9a9a" opacity="0.5"/>
<circle cx="222.13" cy="291.48" r="0.49" fill="#9a9a9a" opacity="0.5"/>
<circle cx="226.47" cy="311.79" r="0.36" fill="#9a9a9a" opacity="0.5"/>
<circle cx="205.46" cy="293.38" r="0.36" fill="#9a9a9a" opacity="0.5"/>
<circle cx="212.21" cy="300.04" r="0.34" fill="#9a9a9a" opacity="0.5"/>
<circle cx="208.18" cy="293.66" r="0.66" fill="#9a9a9a" opacity="0.5"/>
<circle cx="204.9" cy="292.27" r="0.35" fill="#9a9a9a" opacity="0.5"/>
<circle cx="219.51" cy="299.51" r="0.55" fill="#9a9a9a" opacity="0.5"/>
<circle cx="233.02" cy="294.38" r="0.66" fill="#9a9a9a" opacity="0.5"/>
<circle cx="200.45" cy="309.62" r="0.62" fill="#9a9a9a" opacity="0.5"/>
<circle cx="229.45" cy="319.56" r="0.66" fill="#9a9a9a" opacity="0.5"/>
<circle cx="199.91" cy="311.1" r="0.48" fill="#9a9a9a" opacity="0.5"/>
<circle cx="213.77" cy="321.5" r="0.33" fill="#9a9a9a" opacity="0.5"/>
<circle cx="222.83" cy="285.51" r="0.41" fill="#9a9a9a" opacity="0.5"/>
<ellipse cx="198.02" cy="302.69" rx="1.3" ry="0.72" fill="#7a7a7a" transform="rotate(2 198.02 302.69)"/>
<circle cx="204.79" cy="299.93" r="0.41" fill="#333"/>
<circle cx="204.95" cy="290.7" r="0.62" fill="#333"/>
<circle cx="207.4" cy="301.64" r="0.79" fill="#555"/>
<circle cx="206.97" cy="305.33" r="0.35" fill="#7a7a7a"/>
<circle cx="207.84" cy="311.75" r="0.74" fill="#888"/>
<circle cx="209.32" cy="316.03" r="0.35" fill="#7a7a7a"/>
<circle cx="211.44" cy="293.73" r="0.82" fill="#555"/>
<circle cx="212.12" cy="312.37" r="0.53" fill="#333"/>
<circle cx="216.74" cy="292.95" r="0.48" fill="#555"/>
<circle cx="214.54" cy="301.76" r="0.89" fill="#555"/>
<circle cx="218.24" cy="306.36" r="0.4" fill="#888"/>
<circle cx="214.64" cy="315.85" r="0.42" fill="#6a6a6a"/>
<circle cx="214.01" cy="324.21" r="0.89" fill="#333"/>
<circle cx="221.33" cy="290.79" r="0.4" fill="#888"/>
<circle cx="219.23" cy="306.09" r="0.56" fill="#7a7a7a"/>
<ellipse cx="220.66" cy="310.32" rx="0.58" ry="0.32" fill="#333" transform="rotate(53 220.66 310.32)"/>
<ellipse cx="227.43" cy="319.8" rx="0.85" ry="0.47" fill="#555" transform="rotate(14 227.43 319.8)"/>
<circle cx="229.55" cy="302.58" r="0.41" fill="#6a6a6a"/>
<circle cx="233" cy="311.7" r="0.81" fill="#555"/>
<ellipse cx="222.89" cy="286.68" rx="0.52" ry="0.29" fill="#333" transform="rotate(91 222.89 286.68)"/>
<ellipse cx="214.58" cy="284.58" rx="0.86" ry="0.47" fill="#6a6a6a" transform="rotate(163 214.58 284.58)"/>
<circle cx="202.58" cy="290.41" r="0.38" fill="#7a7a7a"/>
<circle cx="213.99" cy="321.78" r="0.62" fill="#333"/>
<ellipse cx="229.5" cy="292.84" rx="0.47" ry="0.26" fill="#7a7a7a" transform="rotate(158 229.5 292.84)"/>
<circle cx="266.6" cy="304.6" r="23.1" fill="#c4c4c4" stroke="#5a5a5a" stroke-width="0.85"/>
<circle cx="266.6" cy="304.6" r="21.5" fill="#d3d3d3" stroke="#333" stroke-width="1.1"/>
<circle cx="270.45" cy="317.49" r="0.39" fill="#9a9a9a" opacity="0.5"/>
<circle cx="271.4" cy="304.12" r="0.56" fill="#9a9a9a" opacity="0.5"/>
<circle cx="251.86" cy="304.26" r="0.51" fill="#9a9a9a" opacity="0.5"/>
<circle cx="258.85" cy="295.18" r="0.61" fill="#9a9a9a" opacity="0.5"/>
<circle cx="266.56" cy="298.36" r="0.61" fill="#9a9a9a" opacity="0.5"/>
<circle cx="252.63" cy="312.95" r="0.68" fill="#9a9a9a" opacity="0.5"/>
<circle cx="279.97" cy="309.99" r="0.63" fill="#9a9a9a" opacity="0.5"/>
<circle cx="271.43" cy="304.04" r="0.57" fill="#9a9a9a" opacity="0.5"/>
<circle cx="278.96" cy="309.56" r="0.34" fill="#9a9a9a" opacity="0.5"/>
<circle cx="261.9" cy="293.52" r="0.33" fill="#9a9a9a" opacity="0.5"/>
<circle cx="263.99" cy="292.95" r="0.46" fill="#9a9a9a" opacity="0.5"/>
<circle cx="261.3" cy="286.85" r="0.33" fill="#9a9a9a" opacity="0.5"/>
<circle cx="280.25" cy="316.61" r="0.48" fill="#9a9a9a" opacity="0.5"/>
<circle cx="266.1" cy="315.89" r="0.61" fill="#9a9a9a" opacity="0.5"/>
<circle cx="282.33" cy="296.12" r="0.52" fill="#9a9a9a" opacity="0.5"/>
<circle cx="259.64" cy="311.08" r="0.42" fill="#9a9a9a" opacity="0.5"/>
<circle cx="256.44" cy="290.33" r="0.3" fill="#9a9a9a" opacity="0.5"/>
<circle cx="264.91" cy="324.43" r="0.52" fill="#9a9a9a" opacity="0.5"/>
<circle cx="276.7" cy="306.59" r="0.39" fill="#9a9a9a" opacity="0.5"/>
<circle cx="264.19" cy="287.02" r="0.66" fill="#9a9a9a" opacity="0.5"/>
<circle cx="277.27" cy="320.04" r="0.62" fill="#9a9a9a" opacity="0.5"/>
<circle cx="250.73" cy="293.83" r="0.66" fill="#9a9a9a" opacity="0.5"/>
<circle cx="251.42" cy="306.97" r="0.48" fill="#9a9a9a" opacity="0.5"/>
<circle cx="279.93" cy="301.54" r="0.62" fill="#9a9a9a" opacity="0.5"/>
<circle cx="257.25" cy="302.7" r="0.63" fill="#9a9a9a" opacity="0.5"/>
<circle cx="254.54" cy="314.43" r="0.49" fill="#9a9a9a" opacity="0.5"/>
<circle cx="267.92" cy="294.04" r="0.64" fill="#9a9a9a" opacity="0.5"/>
<circle cx="275.95" cy="292.47" r="0.39" fill="#9a9a9a" opacity="0.5"/>
<circle cx="276.48" cy="306.3" r="0.69" fill="#9a9a9a" opacity="0.5"/>
<circle cx="266.44" cy="285.15" r="0.31" fill="#9a9a9a" opacity="0.5"/>
<circle cx="259.37" cy="321.3" r="0.56" fill="#9a9a9a" opacity="0.5"/>
<circle cx="280" cy="304.41" r="0.42" fill="#9a9a9a" opacity="0.5"/>
<circle cx="251.22" cy="302.21" r="0.53" fill="#9a9a9a" opacity="0.5"/>
<circle cx="281.79" cy="310.3" r="0.37" fill="#9a9a9a" opacity="0.5"/>
<circle cx="262.5" cy="320.63" r="0.4" fill="#9a9a9a" opacity="0.5"/>
<circle cx="251.66" cy="308.35" r="0.45" fill="#9a9a9a" opacity="0.5"/>
<circle cx="248.65" cy="313.23" r="0.62" fill="#9a9a9a" opacity="0.5"/>
<circle cx="278.63" cy="310.4" r="0.49" fill="#9a9a9a" opacity="0.5"/>
<circle cx="270.81" cy="299.4" r="0.33" fill="#9a9a9a" opacity="0.5"/>
<circle cx="262.09" cy="306.58" r="0.31" fill="#9a9a9a" opacity="0.5"/>
<circle cx="264.53" cy="286.27" r="0.51" fill="#9a9a9a" opacity="0.5"/>
<circle cx="274.73" cy="304.51" r="0.37" fill="#9a9a9a" opacity="0.5"/>
<circle cx="253.92" cy="302.06" r="0.54" fill="#9a9a9a" opacity="0.5"/>
<circle cx="284.62" cy="308.01" r="0.39" fill="#9a9a9a" opacity="0.5"/>
<circle cx="265.66" cy="294.45" r="0.67" fill="#9a9a9a" opacity="0.5"/>
<circle cx="247.79" cy="301.99" r="0.67" fill="#9a9a9a" opacity="0.5"/>
<circle cx="272.81" cy="293.62" r="0.58" fill="#9a9a9a" opacity="0.5"/>
<circle cx="278.51" cy="304.82" r="0.42" fill="#9a9a9a" opacity="0.5"/>
<circle cx="248.63" cy="305.29" r="0.32" fill="#9a9a9a" opacity="0.5"/>
<circle cx="257.74" cy="302.19" r="0.61" fill="#9a9a9a" opacity="0.5"/>
<circle cx="272.7" cy="292" r="0.34" fill="#9a9a9a" opacity="0.5"/>
<circle cx="256.6" cy="310.48" r="0.65" fill="#9a9a9a" opacity="0.5"/>
<circle cx="270.26" cy="316.47" r="0.36" fill="#9a9a9a" opacity="0.5"/>
<circle cx="271.29" cy="323.65" r="0.65" fill="#9a9a9a" opacity="0.5"/>
<circle cx="265.44" cy="314.06" r="0.49" fill="#9a9a9a" opacity="0.5"/>
<circle cx="276.53" cy="318.29" r="0.66" fill="#9a9a9a" opacity="0.5"/>
<circle cx="263.67" cy="286.22" r="0.6" fill="#9a9a9a" opacity="0.5"/>
<circle cx="270.52" cy="301.86" r="0.38" fill="#9a9a9a" opacity="0.5"/>
<circle cx="250.81" cy="315.9" r="0.67" fill="#9a9a9a" opacity="0.5"/>
<circle cx="279.27" cy="308.43" r="0.68" fill="#9a9a9a" opacity="0.5"/>
<circle cx="254.66" cy="296.15" r="0.84" fill="#7a7a7a"/>
<ellipse cx="251.16" cy="305.81" rx="0.96" ry="0.53" fill="#555" transform="rotate(144 251.16 305.81)"/>
<circle cx="256.73" cy="292.04" r="0.63" fill="#888"/>
<circle cx="255.53" cy="297.7" r="0.59" fill="#555"/>
<circle cx="257.02" cy="300.17" r="0.44" fill="#888"/>
<circle cx="261.33" cy="291.4" r="0.43" fill="#7a7a7a"/>
<circle cx="264.25" cy="305.6" r="0.83" fill="#7a7a7a"/>
<circle cx="261.66" cy="316.67" r="0.37" fill="#888"/>
<ellipse cx="266.44" cy="287.26" rx="1.1" ry="0.61" fill="#333" transform="rotate(130 266.44 287.26)"/>
<ellipse cx="265.48" cy="296.22" rx="1.12" ry="0.62" fill="#333" transform="rotate(29 265.48 296.22)"/>
<circle cx="266.37" cy="302.83" r="0.35" fill="#333"/>
<ellipse cx="266.97" cy="307.22" rx="0.65" ry="0.36" fill="#7a7a7a" transform="rotate(49 266.97 307.22)"/>
<ellipse cx="270.59" cy="300.79" rx="0.44" ry="0.24" fill="#333" transform="rotate(54 270.59 300.79)"/>
<circle cx="274.26" cy="309.1" r="0.38" fill="#333"/>
<circle cx="272.61" cy="314.2" r="0.67" fill="#333"/>
<ellipse cx="274.89" cy="286.36" rx="0.64" ry="0.35" fill="#7a7a7a" transform="rotate(6 274.89 286.36)"/>
<circle cx="276.64" cy="289.83" r="0.69" fill="#888"/>
<circle cx="282.81" cy="292.64" r="0.78" fill="#7a7a7a"/>
<circle cx="284.32" cy="295.18" r="0.88" fill="#888"/>
<circle cx="286.22" cy="301.8" r="0.41" fill="#888"/>
<circle cx="284.56" cy="300.73" r="0.84" fill="#888"/>
<circle cx="282.46" cy="294.85" r="0.64" fill="#888"/>
<circle cx="250.33" cy="314.33" r="0.87" fill="#333"/>
<ellipse cx="257.52" cy="321.69" rx="0.62" ry="0.34" fill="#555" transform="rotate(76 257.52 321.69)"/>
<circle cx="270.7" cy="323.9" r="0.33" fill="#333"/>
<circle cx="315" cy="304.6" r="23.1" fill="#c4c4c4" stroke="#5a5a5a" stroke-width="0.85"/>
<circle cx="315" cy="304.6" r="21.5" fill="#d3d3d3" stroke="#333" stroke-width="1.1"/>
<circle cx="314.23" cy="292.51" r="0.59" fill="#9a9a9a" opacity="0.5"/>
<circle cx="297.43" cy="299.07" r="0.55" fill="#9a9a9a" opacity="0.5"/>
<circle cx="323.09" cy="288.78" r="0.34" fill="#9a9a9a" opacity="0.5"/>
<circle cx="314.91" cy="311.62" r="0.53" fill="#9a9a9a" opacity="0.5"/>
<circle cx="324.04" cy="312.83" r="0.57" fill="#9a9a9a" opacity="0.5"/>
<circle cx="333.92" cy="306.18" r="0.58" fill="#9a9a9a" opacity="0.5"/>
<circle cx="316.71" cy="307.82" r="0.31" fill="#9a9a9a" opacity="0.5"/>
<circle cx="320.54" cy="305.03" r="0.68" fill="#9a9a9a" opacity="0.5"/>
<circle cx="322.95" cy="304.47" r="0.41" fill="#9a9a9a" opacity="0.5"/>
<circle cx="312.2" cy="313.71" r="0.43" fill="#9a9a9a" opacity="0.5"/>
<circle cx="297.3" cy="295.54" r="0.69" fill="#9a9a9a" opacity="0.5"/>
<circle cx="317.43" cy="285.05" r="0.34" fill="#9a9a9a" opacity="0.5"/>
<circle cx="295.42" cy="308.78" r="0.46" fill="#9a9a9a" opacity="0.5"/>
<circle cx="294.93" cy="306.32" r="0.43" fill="#9a9a9a" opacity="0.5"/>
<circle cx="309.53" cy="303.8" r="0.41" fill="#9a9a9a" opacity="0.5"/>
<circle cx="331.66" cy="309.14" r="0.43" fill="#9a9a9a" opacity="0.5"/>
<circle cx="326.85" cy="306.43" r="0.43" fill="#9a9a9a" opacity="0.5"/>
<circle cx="319.16" cy="312.97" r="0.35" fill="#9a9a9a" opacity="0.5"/>
<circle cx="324.89" cy="289.57" r="0.58" fill="#9a9a9a" opacity="0.5"/>
<circle cx="317.08" cy="310.08" r="0.49" fill="#9a9a9a" opacity="0.5"/>
<circle cx="303.68" cy="298.16" r="0.5" fill="#9a9a9a" opacity="0.5"/>
<circle cx="302.21" cy="309.41" r="0.52" fill="#9a9a9a" opacity="0.5"/>
<circle cx="327" cy="289.47" r="0.64" fill="#9a9a9a" opacity="0.5"/>
<circle cx="305.38" cy="287.79" r="0.43" fill="#9a9a9a" opacity="0.5"/>
<circle cx="297.03" cy="298.91" r="0.58" fill="#9a9a9a" opacity="0.5"/>
<circle cx="305.08" cy="306.6" r="0.47" fill="#9a9a9a" opacity="0.5"/>
<circle cx="303.87" cy="312.93" r="0.69" fill="#9a9a9a" opacity="0.5"/>
<circle cx="323.54" cy="315.51" r="0.3" fill="#9a9a9a" opacity="0.5"/>
<circle cx="317.26" cy="299.73" r="0.69" fill="#9a9a9a" opacity="0.5"/>
<circle cx="317.68" cy="313.15" r="0.55" fill="#9a9a9a" opacity="0.5"/>
<circle cx="320.21" cy="307.99" r="0.62" fill="#9a9a9a" opacity="0.5"/>
<circle cx="315.71" cy="289.27" r="0.56" fill="#9a9a9a" opacity="0.5"/>
<circle cx="320.46" cy="289.05" r="0.35" fill="#9a9a9a" opacity="0.5"/>
<circle cx="325.8" cy="313.39" r="0.65" fill="#9a9a9a" opacity="0.5"/>
<circle cx="308.4" cy="297.31" r="0.37" fill="#9a9a9a" opacity="0.5"/>
<circle cx="326.69" cy="314.28" r="0.59" fill="#9a9a9a" opacity="0.5"/>
<circle cx="297.66" cy="307.08" r="0.67" fill="#9a9a9a" opacity="0.5"/>
<circle cx="328.68" cy="294.1" r="0.54" fill="#9a9a9a" opacity="0.5"/>
<circle cx="322.53" cy="295.78" r="0.34" fill="#9a9a9a" opacity="0.5"/>
<circle cx="304.28" cy="309.5" r="0.67" fill="#9a9a9a" opacity="0.5"/>
<circle cx="319.6" cy="299.21" r="0.44" fill="#9a9a9a" opacity="0.5"/>
<circle cx="324.99" cy="312.08" r="0.63" fill="#9a9a9a" opacity="0.5"/>
<circle cx="309.02" cy="308.87" r="0.56" fill="#9a9a9a" opacity="0.5"/>
<circle cx="304.03" cy="292.41" r="0.36" fill="#9a9a9a" opacity="0.5"/>
<circle cx="315.9" cy="313.13" r="0.34" fill="#9a9a9a" opacity="0.5"/>
<circle cx="325.31" cy="300.22" r="0.47" fill="#9a9a9a" opacity="0.5"/>
<circle cx="295.74" cy="298.36" r="0.33" fill="#9a9a9a" opacity="0.5"/>
<circle cx="311.8" cy="309.15" r="0.52" fill="#9a9a9a" opacity="0.5"/>
<circle cx="312.3" cy="321.47" r="0.39" fill="#9a9a9a" opacity="0.5"/>
<circle cx="308.79" cy="288.36" r="0.61" fill="#9a9a9a" opacity="0.5"/>
<circle cx="324.24" cy="287.83" r="0.35" fill="#9a9a9a" opacity="0.5"/>
<circle cx="300.6" cy="317.41" r="0.69" fill="#9a9a9a" opacity="0.5"/>
<circle cx="322.94" cy="302.62" r="0.67" fill="#9a9a9a" opacity="0.5"/>
<circle cx="307.85" cy="309.21" r="0.47" fill="#9a9a9a" opacity="0.5"/>
<circle cx="312.35" cy="317.56" r="0.41" fill="#9a9a9a" opacity="0.5"/>
<circle cx="319" cy="322.57" r="0.41" fill="#9a9a9a" opacity="0.5"/>
<circle cx="315.07" cy="305.07" r="0.31" fill="#9a9a9a" opacity="0.5"/>
<circle cx="314.76" cy="295.91" r="0.39" fill="#9a9a9a" opacity="0.5"/>
<circle cx="301.78" cy="299.57" r="0.38" fill="#9a9a9a" opacity="0.5"/>
<circle cx="328.34" cy="298.08" r="0.35" fill="#9a9a9a" opacity="0.5"/>
<ellipse cx="298.41" cy="294.34" rx="0.57" ry="0.32" fill="#7a7a7a" transform="rotate(77 298.41 294.34)"/>
<ellipse cx="298.02" cy="313.83" rx="1.43" ry="0.79" fill="#6a6a6a" transform="rotate(96 298.02 313.83)"/>
<ellipse cx="301.37" cy="293.22" rx="1.15" ry="0.64" fill="#555" transform="rotate(89 301.37 293.22)"/>
<circle cx="301.81" cy="295.98" r="0.85" fill="#333"/>
<circle cx="299.82" cy="302.38" r="0.39" fill="#7a7a7a"/>
<circle cx="300.35" cy="310.43" r="0.36" fill="#555"/>
<ellipse cx="303.92" cy="290.63" rx="1.21" ry="0.67" fill="#555" transform="rotate(13 303.92 290.63)"/>
<ellipse cx="305.48" cy="293.95" rx="1.04" ry="0.58" fill="#333" transform="rotate(139 305.48 293.95)"/>
<ellipse cx="306.06" cy="300.75" rx="0.55" ry="0.31" fill="#7a7a7a" transform="rotate(89 306.06 300.75)"/>
<circle cx="304.04" cy="303.21" r="0.32" fill="#333"/>
<ellipse cx="307.06" cy="317.29" rx="0.81" ry="0.45" fill="#555" transform="rotate(99 307.06 317.29)"/>
<ellipse cx="310.51" cy="292" rx="0.44" ry="0.24" fill="#7a7a7a" transform="rotate(53 310.51 292)"/>
<ellipse cx="311.89" cy="302.63" rx="0.48" ry="0.26" fill="#7a7a7a" transform="rotate(79 311.89 302.63)"/>
<circle cx="310.91" cy="307.03" r="0.33" fill="#7a7a7a"/>
<ellipse cx="311.03" cy="311.14" rx="0.57" ry="0.31" fill="#555" transform="rotate(135 311.03 311.14)"/>
<circle cx="309.59" cy="322.2" r="0.5" fill="#333"/>
<circle cx="317.43" cy="284.59" r="0.55" fill="#333"/>
<circle cx="314.55" cy="292.7" r="0.6" fill="#555"/>
<ellipse cx="314.35" cy="311.89" rx="0.76" ry="0.42" fill="#7a7a7a" transform="rotate(37 314.35 311.89)"/>
<ellipse cx="313.85" cy="324.86" rx="0.71" ry="0.39" fill="#6a6a6a" transform="rotate(117 313.85 324.86)"/>
<ellipse cx="322.25" cy="286.6" rx="0.86" ry="0.47" fill="#6a6a6a" transform="rotate(173 322.25 286.6)"/>
<circle cx="319.53" cy="317.06" r="0.45" fill="#6a6a6a"/>
<ellipse cx="318.81" cy="321.59" rx="0.48" ry="0.26" fill="#7a7a7a" transform="rotate(92 318.81 321.59)"/>
<circle cx="325.79" cy="294.77" r="0.54" fill="#555"/>
<ellipse cx="325.26" cy="304.73" rx="1.16" ry="0.64" fill="#333" transform="rotate(164 325.26 304.73)"/>
<circle cx="327.92" cy="298.02" r="0.53" fill="#555"/>
<circle cx="303.83" cy="288.48" r="0.65" fill="#555"/>
<circle cx="333.32" cy="302.32" r="1" fill="#333"/>
<circle cx="302.77" cy="289.25" r="0.32" fill="#7a7a7a"/>
<circle cx="297.36" cy="308.06" r="0.89" fill="#333"/>
<circle cx="326.6" cy="289.92" r="0.35" fill="#888"/>
<circle cx="306.5" cy="311.5" r="1.6" fill="#111"/>
<circle cx="305.5" cy="309" r="1.1" fill="#111"/>
<circle cx="205.5" cy="302" r="0.8" fill="#111"/>
<circle cx="252.5" cy="311" r="0.7" fill="#111"/>
</g>
<line x1="44.8" y1="176.8" x2="185.5" y2="176.8" stroke="#444" stroke-width="0.9"/>
<line x1="194" y1="176.8" x2="336.7" y2="176.8" stroke="#444" stroke-width="0.9"/>
<text x="117.2" y="174.7" font-size="7.8" fill="#1a1a1a" text-anchor="middle" stroke="#1a1a1a" stroke-width="0.12">A549</text>
<text x="265.5" y="174.9" font-size="7.8" fill="#1a1a1a" text-anchor="middle" stroke="#1a1a1a" stroke-width="0.12">U87</text>
<text x="33.93" y="201" font-size="7.3" fill="#1a1a1a" text-anchor="middle" transform="rotate(-90 33.93 201)" stroke="#1a1a1a" stroke-width="0.12">NC</text>
<text x="33.23" y="249.4" font-size="7.3" fill="#1a1a1a" text-anchor="middle" transform="rotate(-90 33.23 249.4)" stroke="#1a1a1a" stroke-width="0.12"><tspan font-style="italic">AKR1B1</tspan>-KO</text>
<text x="27.58" y="307.3" font-size="6.9" fill="#1a1a1a" text-anchor="middle" transform="rotate(-90 27.58 307.3)" stroke="#1a1a1a" stroke-width="0.12"><tspan font-style="italic">AKR1B1</tspan>-KO</text>
<text x="34.99" y="306.4" font-size="6.9" fill="#1a1a1a" text-anchor="middle" transform="rotate(-90 34.99 306.4)" stroke="#1a1a1a" stroke-width="0.12">+ fructose (10 mM)</text>
<line x1="429.1" y1="196.5" x2="429.1" y2="282.7" stroke="#222" stroke-width="1"/>
<line x1="427.1" y1="282.2" x2="485.7" y2="282.2" stroke="#222" stroke-width="1"/>
<line x1="426.6" y1="196.89" x2="429.1" y2="196.89" stroke="#222" stroke-width="1"/>
<text x="425.9" y="199.29" font-size="6.6" fill="#1a1a1a" text-anchor="end" stroke="#1a1a1a" stroke-width="0.12">150</text>
<line x1="426.6" y1="225.33" x2="429.1" y2="225.33" stroke="#222" stroke-width="1"/>
<text x="425.9" y="227.73" font-size="6.6" fill="#1a1a1a" text-anchor="end" stroke="#1a1a1a" stroke-width="0.12">100</text>
<line x1="426.6" y1="253.76" x2="429.1" y2="253.76" stroke="#222" stroke-width="1"/>
<text x="425.9" y="256.16" font-size="6.6" fill="#1a1a1a" text-anchor="end" stroke="#1a1a1a" stroke-width="0.12">50</text>
<line x1="426.6" y1="282.2" x2="429.1" y2="282.2" stroke="#222" stroke-width="1"/>
<text x="425.9" y="284.6" font-size="6.6" fill="#1a1a1a" text-anchor="end" stroke="#1a1a1a" stroke-width="0.12">0</text>
<rect x="437.3" y="216.8" width="10.2" height="65.4" fill="#d9d9d9" stroke="#7a7a7a" stroke-width="0.7"/>
<line x1="442.4" y1="282.2" x2="442.4" y2="284.7" stroke="#222" stroke-width="0.9"/>
<line x1="442.4" y1="212.82" x2="442.4" y2="220.78" stroke="#333" stroke-width="0.7"/>
<line x1="440.1" y1="212.82" x2="444.7" y2="212.82" stroke="#333" stroke-width="0.7"/>
<line x1="440.1" y1="220.78" x2="444.7" y2="220.78" stroke="#333" stroke-width="0.7"/>
<circle cx="442.4" cy="211.68" r="1" fill="#fff" stroke="#444" stroke-width="0.5"/>
<circle cx="442.4" cy="214.52" r="1" fill="#fff" stroke="#444" stroke-width="0.5"/>
<circle cx="442.4" cy="219.64" r="1" fill="#fff" stroke="#444" stroke-width="0.5"/>
<rect x="453" y="275.38" width="10.2" height="6.82" fill="#d9d9d9" stroke="#7a7a7a" stroke-width="0.7"/>
<line x1="458.1" y1="282.2" x2="458.1" y2="284.7" stroke="#222" stroke-width="0.9"/>
<line x1="458.1" y1="270.83" x2="458.1" y2="279.93" stroke="#333" stroke-width="0.7"/>
<line x1="455.8" y1="270.83" x2="460.4" y2="270.83" stroke="#333" stroke-width="0.7"/>
<line x1="455.8" y1="279.93" x2="460.4" y2="279.93" stroke="#333" stroke-width="0.7"/>
<circle cx="458.1" cy="266.85" r="1" fill="#fff" stroke="#444" stroke-width="0.5"/>
<circle cx="458.1" cy="277.65" r="1" fill="#fff" stroke="#444" stroke-width="0.5"/>
<circle cx="458.1" cy="279.36" r="1" fill="#fff" stroke="#444" stroke-width="0.5"/>
<rect x="468.3" y="228.17" width="10.2" height="54.03" fill="#3fdc22" stroke="#7a7a7a" stroke-width="0.7"/>
<line x1="473.4" y1="282.2" x2="473.4" y2="284.7" stroke="#222" stroke-width="0.9"/>
<line x1="473.4" y1="223.62" x2="473.4" y2="232.72" stroke="#333" stroke-width="0.7"/>
<line x1="471.1" y1="223.62" x2="475.7" y2="223.62" stroke="#333" stroke-width="0.7"/>
<line x1="471.1" y1="232.72" x2="475.7" y2="232.72" stroke="#333" stroke-width="0.7"/>
<circle cx="473.4" cy="221.92" r="1" fill="#fff" stroke="#444" stroke-width="0.5"/>
<circle cx="473.4" cy="225.33" r="1" fill="#fff" stroke="#444" stroke-width="0.5"/>
<circle cx="473.4" cy="233.29" r="1" fill="#fff" stroke="#444" stroke-width="0.5"/>
<text x="461.3" y="185.2" font-size="8.3" fill="#1a1a1a" text-anchor="middle" stroke="#1a1a1a" stroke-width="0.12">A549</text>
<text x="411.32" y="239.4" font-size="8.15" fill="#1a1a1a" text-anchor="middle" transform="rotate(-90 411.32 239.4)" stroke="#1a1a1a" stroke-width="0.12">Colony numbers</text>
<text x="444.6" y="289.4" font-size="7.2" fill="#1a1a1a" text-anchor="end" transform="rotate(-48 444.6 289.4)" stroke="#1a1a1a" stroke-width="0.12">NC</text>
<text x="460.3" y="289.4" font-size="7.2" fill="#1a1a1a" text-anchor="end" transform="rotate(-48 460.3 289.4)" stroke="#1a1a1a" stroke-width="0.12"><tspan font-style="italic">AKR1B1</tspan>-KO</text>
<text x="475.6" y="289.4" font-size="7.2" fill="#1a1a1a" text-anchor="end" transform="rotate(-48 475.6 289.4)" stroke="#1a1a1a" stroke-width="0.12"><tspan font-style="italic">AKR1B1</tspan>-KO</text>
<text x="491.39" y="285.32" font-size="7" fill="#1a1a1a" text-anchor="end" transform="rotate(-48 491.39 285.32)" stroke="#1a1a1a" stroke-width="0.12">+ fructose (10 mM)</text>
<line x1="439.7" y1="206.9" x2="457.6" y2="206.9" stroke="#aaa" stroke-width="1.1"/>
<line x1="460.2" y1="216.5" x2="477.7" y2="216.5" stroke="#888" stroke-width="1"/>
<text x="449.2" y="205.8" font-size="5.4" fill="#333" text-anchor="middle" font-weight="bold" stroke="#333" stroke-width="0.12">#</text>
<text x="469.9" y="217.2" font-size="8" fill="#333" text-anchor="middle" font-weight="bold" stroke="#333" stroke-width="0.12">*</text>
<line x1="556.8" y1="196" x2="556.8" y2="282.5" stroke="#222" stroke-width="1"/>
<line x1="554.8" y1="282" x2="614.2" y2="282" stroke="#222" stroke-width="1"/>
<line x1="554.3" y1="196.42" x2="556.8" y2="196.42" stroke="#222" stroke-width="1"/>
<text x="553.6" y="198.82" font-size="6.6" fill="#1a1a1a" text-anchor="end" stroke="#1a1a1a" stroke-width="0.12">200</text>
<line x1="554.3" y1="217.81" x2="556.8" y2="217.81" stroke="#222" stroke-width="1"/>
<text x="553.6" y="220.22" font-size="6.6" fill="#1a1a1a" text-anchor="end" stroke="#1a1a1a" stroke-width="0.12">150</text>
<line x1="554.3" y1="239.21" x2="556.8" y2="239.21" stroke="#222" stroke-width="1"/>
<text x="553.6" y="241.61" font-size="6.6" fill="#1a1a1a" text-anchor="end" stroke="#1a1a1a" stroke-width="0.12">100</text>
<line x1="554.3" y1="260.61" x2="556.8" y2="260.61" stroke="#222" stroke-width="1"/>
<text x="553.6" y="263" font-size="6.6" fill="#1a1a1a" text-anchor="end" stroke="#1a1a1a" stroke-width="0.12">50</text>
<line x1="554.3" y1="282" x2="556.8" y2="282" stroke="#222" stroke-width="1"/>
<text x="553.6" y="284.4" font-size="6.6" fill="#1a1a1a" text-anchor="end" stroke="#1a1a1a" stroke-width="0.12">0</text>
<rect x="564.6" y="224.23" width="10.6" height="57.77" fill="#d9d9d9" stroke="#7a7a7a" stroke-width="0.7"/>
<line x1="569.9" y1="282" x2="569.9" y2="284.5" stroke="#222" stroke-width="0.9"/>
<line x1="569.9" y1="213.54" x2="569.9" y2="234.93" stroke="#333" stroke-width="0.7"/>
<line x1="567.6" y1="213.54" x2="572.2" y2="213.54" stroke="#333" stroke-width="0.7"/>
<line x1="567.6" y1="234.93" x2="572.2" y2="234.93" stroke="#333" stroke-width="0.7"/>
<circle cx="569.9" cy="203.69" r="1" fill="#fff" stroke="#444" stroke-width="0.5"/>
<circle cx="569.9" cy="225.09" r="1" fill="#fff" stroke="#444" stroke-width="0.5"/>
<circle cx="569.9" cy="242.63" r="1" fill="#fff" stroke="#444" stroke-width="0.5"/>
<rect x="580.3" y="276.01" width="10.6" height="5.99" fill="#d9d9d9" stroke="#7a7a7a" stroke-width="0.7"/>
<line x1="585.6" y1="282" x2="585.6" y2="284.5" stroke="#222" stroke-width="0.9"/>
<line x1="585.6" y1="273.44" x2="585.6" y2="278.58" stroke="#333" stroke-width="0.7"/>
<line x1="583.3" y1="273.44" x2="587.9" y2="273.44" stroke="#333" stroke-width="0.7"/>
<line x1="583.3" y1="278.58" x2="587.9" y2="278.58" stroke="#333" stroke-width="0.7"/>
<circle cx="585.6" cy="271.3" r="1" fill="#fff" stroke="#444" stroke-width="0.5"/>
<circle cx="585.6" cy="274.3" r="1" fill="#fff" stroke="#444" stroke-width="0.5"/>
<circle cx="585.6" cy="279.86" r="1" fill="#fff" stroke="#444" stroke-width="0.5"/>
<rect x="596" y="244.34" width="10.6" height="37.66" fill="#3fdc22" stroke="#7a7a7a" stroke-width="0.7"/>
<line x1="601.3" y1="282" x2="601.3" y2="284.5" stroke="#222" stroke-width="0.9"/>
<line x1="601.3" y1="235.36" x2="601.3" y2="253.33" stroke="#333" stroke-width="0.7"/>
<line x1="599" y1="235.36" x2="603.6" y2="235.36" stroke="#333" stroke-width="0.7"/>
<line x1="599" y1="253.33" x2="603.6" y2="253.33" stroke="#333" stroke-width="0.7"/>
<circle cx="601.3" cy="224.23" r="1" fill="#fff" stroke="#444" stroke-width="0.5"/>
<circle cx="601.3" cy="252.9" r="1" fill="#fff" stroke="#444" stroke-width="0.5"/>
<circle cx="601.3" cy="253.76" r="1" fill="#fff" stroke="#444" stroke-width="0.5"/>
<text x="587" y="185.8" font-size="8.3" fill="#1a1a1a" text-anchor="middle" stroke="#1a1a1a" stroke-width="0.12">U87</text>
<text x="538.62" y="239.4" font-size="8.15" fill="#1a1a1a" text-anchor="middle" transform="rotate(-90 538.62 239.4)" stroke="#1a1a1a" stroke-width="0.12">Colony numbers</text>
<text x="572.1" y="289.2" font-size="7.2" fill="#1a1a1a" text-anchor="end" transform="rotate(-48 572.1 289.2)" stroke="#1a1a1a" stroke-width="0.12">NC</text>
<text x="587.8" y="289.2" font-size="7.2" fill="#1a1a1a" text-anchor="end" transform="rotate(-48 587.8 289.2)" stroke="#1a1a1a" stroke-width="0.12"><tspan font-style="italic">AKR1B1</tspan>-KO</text>
<text x="603.5" y="289.2" font-size="7.2" fill="#1a1a1a" text-anchor="end" transform="rotate(-48 603.5 289.2)" stroke="#1a1a1a" stroke-width="0.12"><tspan font-style="italic">AKR1B1</tspan>-KO</text>
<text x="619.29" y="285.12" font-size="7" fill="#1a1a1a" text-anchor="end" transform="rotate(-48 619.29 285.12)" stroke="#1a1a1a" stroke-width="0.12">+ fructose (10 mM)</text>
<line x1="567.3" y1="202.5" x2="585.1" y2="202.5" stroke="#999" stroke-width="1.1"/>
<line x1="588" y1="222" x2="606" y2="222" stroke="#777" stroke-width="1"/>
<text x="576.3" y="203.4" font-size="8" fill="#333" text-anchor="middle" font-weight="bold" stroke="#333" stroke-width="0.12">*</text>
<text x="597" y="222.9" font-size="8" fill="#333" text-anchor="middle" font-weight="bold" stroke="#333" stroke-width="0.12">*</text>
<defs>
<linearGradient id="bgE" x1="0" y1="0" x2="1" y2="1"><stop offset="0" stop-color="#3f7bd6"/><stop offset="0.5" stop-color="#4784da"/><stop offset="1" stop-color="#4a88de"/></linearGradient>
<linearGradient id="bgF" x1="0" y1="0" x2="1" y2="1"><stop offset="0" stop-color="#3b7be6"/><stop offset="0.6" stop-color="#3372e6"/><stop offset="1" stop-color="#3a7ae8"/></linearGradient>
<filter id="blurT" x="-30%" y="-30%" width="160%" height="160%"><feGaussianBlur stdDeviation="0.45"/></filter>
<filter id="blurU" x="-30%" y="-30%" width="160%" height="160%"><feGaussianBlur stdDeviation="0.9"/></filter>
<filter id="blurS" x="-50%" y="-50%" width="200%" height="200%"><feGaussianBlur stdDeviation="1.6"/></filter>
</defs>
<g filter="url(#blurT)">
<rect x="92.4" y="355.2" width="219.2" height="74.6" fill="url(#bgE)"/>
<rect x="92.4" y="355.2" width="219.2" height="1.2" fill="#9cbcf0" opacity="0.7"/>
<ellipse cx="109.86" cy="374.37" rx="8.5" ry="9.2" fill="#0e2a6e" opacity="0.7" filter="url(#blurS)"/>
<path d="M98.16 366.32Q99.26 364.38 101.16 363.84Q103.07 363.29 105.04 362.49Q107.01 361.68 108.94 362.75Q110.87 363.83 112.03 365.9Q113.18 367.97 113.08 370.32Q112.97 372.68 112.95 374.96Q112.92 377.24 111.55 378.87Q110.18 380.49 108.47 381.36Q106.76 382.22 104.74 383.16Q102.72 384.09 100.7 383.02Q98.69 381.94 98.28 379.33Q97.88 376.71 96.55 374.72Q95.22 372.72 96.14 370.5Q97.07 368.27 98.16 366.32Z" fill="#cc938e"/>
<clipPath id="cl10"><path d="M98.16 366.32Q99.26 364.38 101.16 363.84Q103.07 363.29 105.04 362.49Q107.01 361.68 108.94 362.75Q110.87 363.83 112.03 365.9Q113.18 367.97 113.08 370.32Q112.97 372.68 112.95 374.96Q112.92 377.24 111.55 378.87Q110.18 380.49 108.47 381.36Q106.76 382.22 104.74 383.16Q102.72 384.09 100.7 383.02Q98.69 381.94 98.28 379.33Q97.88 376.71 96.55 374.72Q95.22 372.72 96.14 370.5Q97.07 368.27 98.16 366.32Z"/></clipPath><g clip-path="url(#cl10)">
<g filter="url(#blurT)">
<circle cx="100.54" cy="368.8" r="1.99" fill="#b83e4c" opacity="0.6"/>
<circle cx="104.61" cy="377.05" r="1.72" fill="#b83e4c" opacity="0.6"/>
<circle cx="110.1" cy="379.49" r="2.23" fill="#efd8cc" opacity="0.6"/>
<circle cx="103.49" cy="371.26" r="1.02" fill="#e6c6ba" opacity="0.6"/>
<circle cx="107.76" cy="382.08" r="1.23" fill="#dcaaa2" opacity="0.6"/>
<circle cx="108.88" cy="369.2" r="1.37" fill="#dcaaa2" opacity="0.6"/>
<circle cx="97.88" cy="374.28" r="2.02" fill="#b83e4c" opacity="0.6"/>
<circle cx="107.22" cy="376.82" r="1.02" fill="#c45a62" opacity="0.6"/>
<circle cx="109.66" cy="373.84" r="1.71" fill="#dcaaa2" opacity="0.6"/>
<circle cx="96.9" cy="370.68" r="1.26" fill="#efd8cc" opacity="0.6"/>
<circle cx="112.87" cy="369.35" r="0.82" fill="#efd8cc" opacity="0.6"/>
<circle cx="105.34" cy="369.49" r="2.25" fill="#efd8cc" opacity="0.6"/>
<circle cx="106.8" cy="378.45" r="1.36" fill="#c45a62" opacity="0.6"/>
<circle cx="103.49" cy="369.11" r="0.93" fill="#dcaaa2" opacity="0.6"/>
<circle cx="109.27" cy="377.51" r="1.72" fill="#efd8cc" opacity="0.6"/>
<circle cx="108.36" cy="371.17" r="1.42" fill="#efd8cc" opacity="0.6"/>
<circle cx="101.54" cy="378.34" r="1.53" fill="#e6c6ba" opacity="0.6"/>
<circle cx="112.97" cy="375.38" r="0.76" fill="#efd8cc" opacity="0.6"/>
<circle cx="98.5" cy="375.26" r="2.15" fill="#c45a62" opacity="0.6"/>
<circle cx="96.54" cy="372.96" r="1.5" fill="#e2b8ac" opacity="0.6"/>
<circle cx="110.3" cy="368.68" r="1.45" fill="#dcaaa2" opacity="0.6"/>
<circle cx="108.55" cy="380.12" r="0.86" fill="#c45a62" opacity="0.6"/>
<circle cx="99.85" cy="371.12" r="1.44" fill="#c45a62" opacity="0.6"/>
<circle cx="107.87" cy="378.69" r="1.99" fill="#c45a62" opacity="0.6"/>
<circle cx="108.97" cy="367.72" r="0.72" fill="#e6c6ba" opacity="0.6"/>
<circle cx="107.34" cy="374.6" r="2" fill="#c45a62" opacity="0.6"/>
<circle cx="105.91" cy="368.99" r="1.91" fill="#c45a62" opacity="0.6"/>
<circle cx="109.48" cy="369.84" r="2.11" fill="#b83e4c" opacity="0.6"/>
<circle cx="103.05" cy="366.26" r="1.49" fill="#e2b8ac" opacity="0.6"/>
<circle cx="97.37" cy="371.38" r="1.65" fill="#b83e4c" opacity="0.6"/>
<circle cx="102.17" cy="364.97" r="1.58" fill="#dcaaa2" opacity="0.6"/>
<circle cx="103.93" cy="371.51" r="2.21" fill="#e6c6ba" opacity="0.6"/>
<circle cx="97.37" cy="376.53" r="1.11" fill="#e2b8ac" opacity="0.6"/>
<circle cx="110.7" cy="376.99" r="1.89" fill="#dcaaa2" opacity="0.6"/>
<circle cx="113.42" cy="370.28" r="0.9" fill="#b83e4c" opacity="0.6"/>
<circle cx="99.64" cy="373.59" r="2.14" fill="#c45a62" opacity="0.6"/>
</g>
<path d="M98.16 366.32Q99.26 364.38 101.16 363.84Q103.07 363.29 105.04 362.49Q107.01 361.68 108.94 362.75Q110.87 363.83 112.03 365.9Q113.18 367.97 113.08 370.32Q112.97 372.68 112.95 374.96Q112.92 377.24 111.55 378.87Q110.18 380.49 108.47 381.36Q106.76 382.22 104.74 383.16Q102.72 384.09 100.7 383.02Q98.69 381.94 98.28 379.33Q97.88 376.71 96.55 374.72Q95.22 372.72 96.14 370.5Q97.07 368.27 98.16 366.32Z" fill="none" stroke="#6e1c2c" stroke-width="1.47" opacity="0.4" transform="translate(0.5 0.5)"/>
</g>
<ellipse cx="138.58" cy="371.38" rx="8.88" ry="8.14" fill="#0e2a6e" opacity="0.7" filter="url(#blurS)"/>
<path d="M123.83 370.53Q123.24 368.38 124.53 366.57Q125.82 364.75 127.29 363.31Q128.75 361.88 130.72 361.17Q132.68 360.47 134.59 361.23Q136.49 361.99 138.34 362.78Q140.19 363.58 141.36 365.32Q142.53 367.07 142.89 369.22Q143.25 371.37 141.74 372.96Q140.24 374.55 139.02 376.02Q137.8 377.49 135.91 377.82Q134.03 378.14 131.9 378.68Q129.76 379.21 128.02 377.86Q126.29 376.52 125.36 374.6Q124.43 372.68 123.83 370.53Z" fill="#cc938e"/>
<clipPath id="cl11"><path d="M123.83 370.53Q123.24 368.38 124.53 366.57Q125.82 364.75 127.29 363.31Q128.75 361.88 130.72 361.17Q132.68 360.47 134.59 361.23Q136.49 361.99 138.34 362.78Q140.19 363.58 141.36 365.32Q142.53 367.07 142.89 369.22Q143.25 371.37 141.74 372.96Q140.24 374.55 139.02 376.02Q137.8 377.49 135.91 377.82Q134.03 378.14 131.9 378.68Q129.76 379.21 128.02 377.86Q126.29 376.52 125.36 374.6Q124.43 372.68 123.83 370.53Z"/></clipPath><g clip-path="url(#cl11)">
<g filter="url(#blurT)">
<circle cx="142.25" cy="372.28" r="1.78" fill="#c45a62" opacity="0.6"/>
<circle cx="130.66" cy="367.46" r="2.09" fill="#e6c6ba" opacity="0.6"/>
<circle cx="135.01" cy="370.58" r="1.69" fill="#efd8cc" opacity="0.6"/>
<circle cx="134.33" cy="364.7" r="2.11" fill="#dcaaa2" opacity="0.6"/>
<circle cx="126.05" cy="369.01" r="0.67" fill="#c45a62" opacity="0.6"/>
<circle cx="139.84" cy="373.71" r="2.37" fill="#c45a62" opacity="0.6"/>
<circle cx="141.88" cy="369.67" r="1.1" fill="#e2b8ac" opacity="0.6"/>
<circle cx="133.73" cy="363.28" r="0.78" fill="#e6c6ba" opacity="0.6"/>
<circle cx="134" cy="364.08" r="1.32" fill="#b83e4c" opacity="0.6"/>
<circle cx="141.62" cy="367.68" r="1.03" fill="#e6c6ba" opacity="0.6"/>
<circle cx="135.3" cy="368.96" r="2.34" fill="#c45a62" opacity="0.6"/>
<circle cx="131.4" cy="371.4" r="1" fill="#e2b8ac" opacity="0.6"/>
<circle cx="130.96" cy="365.12" r="1.23" fill="#b83e4c" opacity="0.6"/>
<circle cx="141.25" cy="368.1" r="0.89" fill="#e6c6ba" opacity="0.6"/>
<circle cx="133.14" cy="368.97" r="2.03" fill="#c45a62" opacity="0.6"/>
<circle cx="136.44" cy="376.12" r="1.53" fill="#c45a62" opacity="0.6"/>
<circle cx="141.48" cy="369.15" r="1.77" fill="#c45a62" opacity="0.6"/>
<circle cx="137.86" cy="373.91" r="0.66" fill="#efd8cc" opacity="0.6"/>
<circle cx="139.41" cy="363.02" r="1.18" fill="#dcaaa2" opacity="0.6"/>
<circle cx="136.58" cy="367.09" r="2.37" fill="#c45a62" opacity="0.6"/>
<circle cx="127.77" cy="365.7" r="2.36" fill="#e6c6ba" opacity="0.6"/>
<circle cx="134.48" cy="374.48" r="1.23" fill="#dcaaa2" opacity="0.6"/>
<circle cx="132.68" cy="372.3" r="1.02" fill="#e6c6ba" opacity="0.6"/>
<circle cx="132.65" cy="369.03" r="1.3" fill="#b83e4c" opacity="0.6"/>
<circle cx="124.73" cy="372.53" r="2.09" fill="#c45a62" opacity="0.6"/>
<circle cx="137.18" cy="374.23" r="0.93" fill="#e2b8ac" opacity="0.6"/>
<circle cx="140.42" cy="365.35" r="1.91" fill="#efd8cc" opacity="0.6"/>
<circle cx="137.39" cy="376.06" r="1" fill="#dcaaa2" opacity="0.6"/>
<circle cx="141.67" cy="367.22" r="0.8" fill="#dcaaa2" opacity="0.6"/>
<circle cx="136.32" cy="370.8" r="2.31" fill="#dcaaa2" opacity="0.6"/>
<circle cx="133.97" cy="377.64" r="1.38" fill="#b83e4c" opacity="0.6"/>
<circle cx="138.76" cy="366.25" r="0.96" fill="#dcaaa2" opacity="0.6"/>
<circle cx="132.95" cy="367.52" r="1.48" fill="#efd8cc" opacity="0.6"/>
<circle cx="129.26" cy="363.93" r="1.14" fill="#e6c6ba" opacity="0.6"/>
</g>
<path d="M123.83 370.53Q123.24 368.38 124.53 366.57Q125.82 364.75 127.29 363.31Q128.75 361.88 130.72 361.17Q132.68 360.47 134.59 361.23Q136.49 361.99 138.34 362.78Q140.19 363.58 141.36 365.32Q142.53 367.07 142.89 369.22Q143.25 371.37 141.74 372.96Q140.24 374.55 139.02 376.02Q137.8 377.49 135.91 377.82Q134.03 378.14 131.9 378.68Q129.76 379.21 128.02 377.86Q126.29 376.52 125.36 374.6Q124.43 372.68 123.83 370.53Z" fill="none" stroke="#6e1c2c" stroke-width="1.54" opacity="0.4" transform="translate(0.5 0.5)"/>
</g>
<ellipse cx="168.98" cy="370.48" rx="7.34" ry="8.14" fill="#0e2a6e" opacity="0.7" filter="url(#blurS)"/>
<path d="M156.94 368.4Q157.05 366.26 158.3 364.81Q159.56 363.37 160.87 362.44Q162.19 361.52 163.68 360.79Q165.17 360.07 166.7 360.74Q168.23 361.41 169.85 362.34Q171.48 363.27 172.05 365.36Q172.62 367.44 172.43 369.57Q172.23 371.69 171.34 373.5Q170.45 375.31 169.08 376.62Q167.7 377.93 165.98 377.66Q164.26 377.38 162.64 377.16Q161.01 376.94 160 375.39Q158.98 373.83 157.91 372.19Q156.84 370.55 156.94 368.4Z" fill="#cc938e"/>
<clipPath id="cl12"><path d="M156.94 368.4Q157.05 366.26 158.3 364.81Q159.56 363.37 160.87 362.44Q162.19 361.52 163.68 360.79Q165.17 360.07 166.7 360.74Q168.23 361.41 169.85 362.34Q171.48 363.27 172.05 365.36Q172.62 367.44 172.43 369.57Q172.23 371.69 171.34 373.5Q170.45 375.31 169.08 376.62Q167.7 377.93 165.98 377.66Q164.26 377.38 162.64 377.16Q161.01 376.94 160 375.39Q158.98 373.83 157.91 372.19Q156.84 370.55 156.94 368.4Z"/></clipPath><g clip-path="url(#cl12)">
<g filter="url(#blurT)">
<circle cx="166.24" cy="367.75" r="0.65" fill="#efd8cc" opacity="0.6"/>
<circle cx="162.99" cy="364.05" r="1.68" fill="#c45a62" opacity="0.6"/>
<circle cx="170.96" cy="373.63" r="1.27" fill="#e2b8ac" opacity="0.6"/>
<circle cx="171.09" cy="373.97" r="0.71" fill="#c45a62" opacity="0.6"/>
<circle cx="162.21" cy="370.58" r="1.8" fill="#b83e4c" opacity="0.6"/>
<circle cx="157.64" cy="365.73" r="1.34" fill="#e6c6ba" opacity="0.6"/>
<circle cx="162.49" cy="368.88" r="1.14" fill="#dcaaa2" opacity="0.6"/>
<circle cx="160.35" cy="365.38" r="1.32" fill="#c45a62" opacity="0.6"/>
<circle cx="163.31" cy="366.94" r="1.93" fill="#efd8cc" opacity="0.6"/>
<circle cx="162.34" cy="364.27" r="1.78" fill="#b83e4c" opacity="0.6"/>
<circle cx="161.5" cy="372.39" r="0.88" fill="#b83e4c" opacity="0.6"/>
<circle cx="161.13" cy="374.01" r="0.8" fill="#dcaaa2" opacity="0.6"/>
<circle cx="159.5" cy="374.83" r="1.28" fill="#e6c6ba" opacity="0.6"/>
<circle cx="165.57" cy="374.95" r="0.84" fill="#c45a62" opacity="0.6"/>
<circle cx="159.51" cy="363.99" r="0.8" fill="#efd8cc" opacity="0.6"/>
<circle cx="164.21" cy="367.33" r="1.25" fill="#b83e4c" opacity="0.6"/>
<circle cx="159.48" cy="364.29" r="1.2" fill="#dcaaa2" opacity="0.6"/>
<circle cx="165.74" cy="373.75" r="1.54" fill="#c45a62" opacity="0.6"/>
<circle cx="167.01" cy="365.43" r="1.21" fill="#efd8cc" opacity="0.6"/>
<circle cx="161.59" cy="367.81" r="0.86" fill="#e2b8ac" opacity="0.6"/>
<circle cx="158.87" cy="363.4" r="0.8" fill="#b83e4c" opacity="0.6"/>
<circle cx="166.21" cy="362.71" r="1.43" fill="#efd8cc" opacity="0.6"/>
<circle cx="172.3" cy="368.06" r="0.77" fill="#dcaaa2" opacity="0.6"/>
<circle cx="171.15" cy="365.18" r="1.73" fill="#e2b8ac" opacity="0.6"/>
<circle cx="162.35" cy="365.6" r="1.26" fill="#dcaaa2" opacity="0.6"/>
<circle cx="160.16" cy="369.35" r="1.89" fill="#e2b8ac" opacity="0.6"/>
<circle cx="167.13" cy="366.7" r="1.42" fill="#b83e4c" opacity="0.6"/>
<circle cx="168.91" cy="370.51" r="1.46" fill="#dcaaa2" opacity="0.6"/>
</g>
<path d="M156.94 368.4Q157.05 366.26 158.3 364.81Q159.56 363.37 160.87 362.44Q162.19 361.52 163.68 360.79Q165.17 360.07 166.7 360.74Q168.23 361.41 169.85 362.34Q171.48 363.27 172.05 365.36Q172.62 367.44 172.43 369.57Q172.23 371.69 171.34 373.5Q170.45 375.31 169.08 376.62Q167.7 377.93 165.98 377.66Q164.26 377.38 162.64 377.16Q161.01 376.94 160 375.39Q158.98 373.83 157.91 372.19Q156.84 370.55 156.94 368.4Z" fill="none" stroke="#6e1c2c" stroke-width="1.28" opacity="0.4" transform="translate(0.5 0.5)"/>
</g>
<ellipse cx="198.83" cy="371.17" rx="6.91" ry="9.2" fill="#0e2a6e" opacity="0.7" filter="url(#blurS)"/>
<path d="M192.77 379.76Q191.15 379.09 189.77 377.59Q188.4 376.1 188.34 373.6Q188.28 371.11 188.32 368.96Q188.37 366.81 189.14 365Q189.92 363.18 191.08 361.86Q192.24 360.54 193.73 359.48Q195.23 358.43 196.59 359.83Q197.95 361.23 199.33 362.32Q200.72 363.4 201.04 365.64Q201.37 367.88 201.36 370.06Q201.35 372.24 200.71 374.29Q200.07 376.34 198.94 378.17Q197.8 380 196.09 380.22Q194.38 380.44 192.77 379.76Z" fill="#cc938e"/>
<clipPath id="cl13"><path d="M192.77 379.76Q191.15 379.09 189.77 377.59Q188.4 376.1 188.34 373.6Q188.28 371.11 188.32 368.96Q188.37 366.81 189.14 365Q189.92 363.18 191.08 361.86Q192.24 360.54 193.73 359.48Q195.23 358.43 196.59 359.83Q197.95 361.23 199.33 362.32Q200.72 363.4 201.04 365.64Q201.37 367.88 201.36 370.06Q201.35 372.24 200.71 374.29Q200.07 376.34 198.94 378.17Q197.8 380 196.09 380.22Q194.38 380.44 192.77 379.76Z"/></clipPath><g clip-path="url(#cl13)">
<g filter="url(#blurT)">
<circle cx="194.13" cy="368.71" r="1.63" fill="#b83e4c" opacity="0.6"/>
<circle cx="200.32" cy="374.24" r="1.62" fill="#b83e4c" opacity="0.6"/>
<circle cx="194.57" cy="359.32" r="0.99" fill="#b83e4c" opacity="0.6"/>
<circle cx="195.48" cy="379.35" r="1.27" fill="#dcaaa2" opacity="0.6"/>
<circle cx="190.87" cy="372.2" r="1.37" fill="#c45a62" opacity="0.6"/>
<circle cx="192.43" cy="364.41" r="1.58" fill="#dcaaa2" opacity="0.6"/>
<circle cx="200.76" cy="368.72" r="1.33" fill="#dcaaa2" opacity="0.6"/>
<circle cx="199.56" cy="368.94" r="1.11" fill="#e2b8ac" opacity="0.6"/>
<circle cx="196.24" cy="373.71" r="0.99" fill="#dcaaa2" opacity="0.6"/>
<circle cx="192.26" cy="373.37" r="1.04" fill="#b83e4c" opacity="0.6"/>
<circle cx="198.24" cy="374.86" r="1.27" fill="#efd8cc" opacity="0.6"/>
<circle cx="199.36" cy="363.78" r="0.61" fill="#efd8cc" opacity="0.6"/>
<circle cx="190.71" cy="361.2" r="0.52" fill="#c45a62" opacity="0.6"/>
<circle cx="188.84" cy="373.96" r="0.7" fill="#efd8cc" opacity="0.6"/>
<circle cx="197.08" cy="360.52" r="0.85" fill="#e2b8ac" opacity="0.6"/>
<circle cx="194.15" cy="360.58" r="1.7" fill="#b83e4c" opacity="0.6"/>
<circle cx="195.86" cy="365.05" r="1.02" fill="#e2b8ac" opacity="0.6"/>
<circle cx="194.24" cy="365.72" r="1.32" fill="#e2b8ac" opacity="0.6"/>
<circle cx="194.23" cy="364.76" r="0.57" fill="#dcaaa2" opacity="0.6"/>
<circle cx="194.38" cy="367.54" r="1.49" fill="#dcaaa2" opacity="0.6"/>
<circle cx="192.68" cy="374.27" r="1.57" fill="#efd8cc" opacity="0.6"/>
<circle cx="188.38" cy="366.12" r="0.61" fill="#efd8cc" opacity="0.6"/>
<circle cx="191.47" cy="363.39" r="1.44" fill="#dcaaa2" opacity="0.6"/>
<circle cx="201.23" cy="367.79" r="0.64" fill="#e2b8ac" opacity="0.6"/>
<circle cx="201.99" cy="369.7" r="1.06" fill="#e6c6ba" opacity="0.6"/>
<circle cx="199.31" cy="365.16" r="0.62" fill="#e2b8ac" opacity="0.6"/>
<circle cx="190.52" cy="370.69" r="0.52" fill="#e6c6ba" opacity="0.6"/>
<circle cx="192.22" cy="375.84" r="1.21" fill="#dcaaa2" opacity="0.6"/>
<circle cx="188.99" cy="370.88" r="1.58" fill="#b83e4c" opacity="0.6"/>
<circle cx="190.47" cy="375.7" r="1.5" fill="#efd8cc" opacity="0.6"/>
</g>
<path d="M192.77 379.76Q191.15 379.09 189.77 377.59Q188.4 376.1 188.34 373.6Q188.28 371.11 188.32 368.96Q188.37 366.81 189.14 365Q189.92 363.18 191.08 361.86Q192.24 360.54 193.73 359.48Q195.23 358.43 196.59 359.83Q197.95 361.23 199.33 362.32Q200.72 363.4 201.04 365.64Q201.37 367.88 201.36 370.06Q201.35 372.24 200.71 374.29Q200.07 376.34 198.94 378.17Q197.8 380 196.09 380.22Q194.38 380.44 192.77 379.76Z" fill="none" stroke="#6e1c2c" stroke-width="1.2" opacity="0.4" transform="translate(0.5 0.5)"/>
</g>
<ellipse cx="229.1" cy="369.64" rx="7.54" ry="6.25" fill="#0e2a6e" opacity="0.7" filter="url(#blurS)"/>
<path d="M229.72 374.14Q228.26 375.14 226.49 375.78Q224.72 376.41 223.12 375.47Q221.51 374.52 220.24 373.59Q218.96 372.66 217.77 371.43Q216.59 370.19 216.66 368.53Q216.73 366.87 217.8 365.59Q218.87 364.31 219.99 363.06Q221.11 361.8 222.9 361.7Q224.68 361.59 226.51 361.61Q228.33 361.63 229.28 363.07Q230.22 364.5 231.01 365.76Q231.8 367.02 232.48 368.62Q233.16 370.23 232.16 371.69Q231.17 373.15 229.72 374.14Z" fill="#cc938e"/>
<clipPath id="cl14"><path d="M229.72 374.14Q228.26 375.14 226.49 375.78Q224.72 376.41 223.12 375.47Q221.51 374.52 220.24 373.59Q218.96 372.66 217.77 371.43Q216.59 370.19 216.66 368.53Q216.73 366.87 217.8 365.59Q218.87 364.31 219.99 363.06Q221.11 361.8 222.9 361.7Q224.68 361.59 226.51 361.61Q228.33 361.63 229.28 363.07Q230.22 364.5 231.01 365.76Q231.8 367.02 232.48 368.62Q233.16 370.23 232.16 371.69Q231.17 373.15 229.72 374.14Z"/></clipPath><g clip-path="url(#cl14)">
<g filter="url(#blurT)">
<circle cx="222.18" cy="371.32" r="1.34" fill="#e2b8ac" opacity="0.6"/>
<circle cx="228.13" cy="372.76" r="0.87" fill="#e2b8ac" opacity="0.6"/>
<circle cx="226.77" cy="368.63" r="0.95" fill="#dcaaa2" opacity="0.6"/>
<circle cx="227.78" cy="370.1" r="1.04" fill="#c45a62" opacity="0.6"/>
<circle cx="229.89" cy="368.22" r="0.63" fill="#dcaaa2" opacity="0.6"/>
<circle cx="220.02" cy="363.33" r="1.28" fill="#dcaaa2" opacity="0.6"/>
<circle cx="222.47" cy="366.25" r="1.49" fill="#e6c6ba" opacity="0.6"/>
<circle cx="218.29" cy="368.99" r="1.1" fill="#b83e4c" opacity="0.6"/>
<circle cx="226.09" cy="374.72" r="0.84" fill="#dcaaa2" opacity="0.6"/>
<circle cx="230.38" cy="373.4" r="0.88" fill="#b83e4c" opacity="0.6"/>
<circle cx="231.35" cy="369.57" r="1.41" fill="#e6c6ba" opacity="0.6"/>
<circle cx="220.31" cy="366.12" r="0.73" fill="#e2b8ac" opacity="0.6"/>
<circle cx="221.39" cy="371.08" r="1.08" fill="#c45a62" opacity="0.6"/>
<circle cx="222.7" cy="367.27" r="1.03" fill="#c45a62" opacity="0.6"/>
<circle cx="218.85" cy="370.25" r="0.59" fill="#c45a62" opacity="0.6"/>
<circle cx="228.79" cy="373.17" r="1.09" fill="#dcaaa2" opacity="0.6"/>
<circle cx="226.98" cy="364.48" r="0.53" fill="#c45a62" opacity="0.6"/>
<circle cx="223.51" cy="364.33" r="0.85" fill="#c45a62" opacity="0.6"/>
<circle cx="223.6" cy="371.42" r="1.25" fill="#e2b8ac" opacity="0.6"/>
<circle cx="225.42" cy="366.41" r="0.55" fill="#e6c6ba" opacity="0.6"/>
<circle cx="221.72" cy="375" r="1.18" fill="#dcaaa2" opacity="0.6"/>
<circle cx="217.72" cy="367.64" r="0.66" fill="#b83e4c" opacity="0.6"/>
</g>
<path d="M229.72 374.14Q228.26 375.14 226.49 375.78Q224.72 376.41 223.12 375.47Q221.51 374.52 220.24 373.59Q218.96 372.66 217.77 371.43Q216.59 370.19 216.66 368.53Q216.73 366.87 217.8 365.59Q218.87 364.31 219.99 363.06Q221.11 361.8 222.9 361.7Q224.68 361.59 226.51 361.61Q228.33 361.63 229.28 363.07Q230.22 364.5 231.01 365.76Q231.8 367.02 232.48 368.62Q233.16 370.23 232.16 371.69Q231.17 373.15 229.72 374.14Z" fill="none" stroke="#6e1c2c" stroke-width="1.31" opacity="0.4" transform="translate(0.5 0.5)"/>
</g>
<ellipse cx="259.44" cy="370.98" rx="5.9" ry="7.04" fill="#0e2a6e" opacity="0.7" filter="url(#blurS)"/>
<path d="M261.8 369.89Q262.36 371.61 261.36 372.94Q260.37 374.26 259.68 376.05Q258.99 377.83 257.49 377.26Q255.98 376.7 254.52 377.15Q253.05 377.61 252 376.26Q250.95 374.9 250.2 373.26Q249.44 371.62 249.34 369.64Q249.23 367.66 250.38 366.35Q251.53 365.03 252.49 363.91Q253.46 362.79 254.74 362.03Q256.02 361.27 257.28 362.09Q258.53 362.91 259.53 363.97Q260.52 365.04 260.88 366.6Q261.24 368.17 261.8 369.89Z" fill="#cc938e"/>
<clipPath id="cl15"><path d="M261.8 369.89Q262.36 371.61 261.36 372.94Q260.37 374.26 259.68 376.05Q258.99 377.83 257.49 377.26Q255.98 376.7 254.52 377.15Q253.05 377.61 252 376.26Q250.95 374.9 250.2 373.26Q249.44 371.62 249.34 369.64Q249.23 367.66 250.38 366.35Q251.53 365.03 252.49 363.91Q253.46 362.79 254.74 362.03Q256.02 361.27 257.28 362.09Q258.53 362.91 259.53 363.97Q260.52 365.04 260.88 366.6Q261.24 368.17 261.8 369.89Z"/></clipPath><g clip-path="url(#cl15)">
<g filter="url(#blurT)">
<circle cx="256.76" cy="377.04" r="1.54" fill="#b83e4c" opacity="0.6"/>
<circle cx="256.98" cy="377.29" r="1.05" fill="#dcaaa2" opacity="0.6"/>
<circle cx="251.01" cy="366.28" r="0.6" fill="#c45a62" opacity="0.6"/>
<circle cx="252.61" cy="367.8" r="0.91" fill="#dcaaa2" opacity="0.6"/>
<circle cx="254.58" cy="364.66" r="1.14" fill="#e6c6ba" opacity="0.6"/>
<circle cx="256.79" cy="369.33" r="1.19" fill="#efd8cc" opacity="0.6"/>
<circle cx="251.89" cy="365.04" r="0.52" fill="#e2b8ac" opacity="0.6"/>
<circle cx="253.65" cy="369.12" r="1.66" fill="#e6c6ba" opacity="0.6"/>
<circle cx="254.68" cy="371.03" r="1.59" fill="#e2b8ac" opacity="0.6"/>
<circle cx="252.33" cy="367.98" r="0.8" fill="#dcaaa2" opacity="0.6"/>
<circle cx="251.81" cy="368.17" r="0.81" fill="#e6c6ba" opacity="0.6"/>
<circle cx="253.9" cy="376.43" r="1" fill="#b83e4c" opacity="0.6"/>
<circle cx="250.33" cy="370.8" r="1.48" fill="#e6c6ba" opacity="0.6"/>
<circle cx="257.68" cy="366.14" r="0.65" fill="#efd8cc" opacity="0.6"/>
<circle cx="252.23" cy="369.93" r="1.71" fill="#b83e4c" opacity="0.6"/>
<circle cx="255.82" cy="365.42" r="1.09" fill="#e6c6ba" opacity="0.6"/>
<circle cx="258.89" cy="371.17" r="1.23" fill="#c45a62" opacity="0.6"/>
<circle cx="259.02" cy="365.64" r="0.58" fill="#dcaaa2" opacity="0.6"/>
<circle cx="258.58" cy="364.68" r="0.8" fill="#c45a62" opacity="0.6"/>
</g>
<path d="M261.8 369.89Q262.36 371.61 261.36 372.94Q260.37 374.26 259.68 376.05Q258.99 377.83 257.49 377.26Q255.98 376.7 254.52 377.15Q253.05 377.61 252 376.26Q250.95 374.9 250.2 373.26Q249.44 371.62 249.34 369.64Q249.23 367.66 250.38 366.35Q251.53 365.03 252.49 363.91Q253.46 362.79 254.74 362.03Q256.02 361.27 257.28 362.09Q258.53 362.91 259.53 363.97Q260.52 365.04 260.88 366.6Q261.24 368.17 261.8 369.89Z" fill="none" stroke="#6e1c2c" stroke-width="1.03" opacity="0.4" transform="translate(0.5 0.5)"/>
</g>
<ellipse cx="284.3" cy="368.97" rx="6" ry="4.22" fill="#0e2a6e" opacity="0.7" filter="url(#blurS)"/>
<path d="M276.01 370.99Q275.22 370.13 274.93 369.1Q274.64 368.08 275.01 367.07Q275.37 366.06 276.13 365.13Q276.88 364.21 278.26 364Q279.65 363.79 281.03 363.59Q282.41 363.39 283.36 364.19Q284.31 365 285.26 365.66Q286.21 366.33 286.49 367.33Q286.78 368.32 286.31 369.26Q285.84 370.19 285.32 371.23Q284.81 372.27 283.39 372.47Q281.97 372.67 280.55 372.94Q279.13 373.2 277.96 372.53Q276.8 371.85 276.01 370.99Z" fill="#cc938e"/>
<clipPath id="cl16"><path d="M276.01 370.99Q275.22 370.13 274.93 369.1Q274.64 368.08 275.01 367.07Q275.37 366.06 276.13 365.13Q276.88 364.21 278.26 364Q279.65 363.79 281.03 363.59Q282.41 363.39 283.36 364.19Q284.31 365 285.26 365.66Q286.21 366.33 286.49 367.33Q286.78 368.32 286.31 369.26Q285.84 370.19 285.32 371.23Q284.81 372.27 283.39 372.47Q281.97 372.67 280.55 372.94Q279.13 373.2 277.96 372.53Q276.8 371.85 276.01 370.99Z"/></clipPath><g clip-path="url(#cl16)">
<g filter="url(#blurT)">
<circle cx="283.83" cy="367.54" r="1.55" fill="#efd8cc" opacity="0.6"/>
<circle cx="280.29" cy="367.51" r="1.28" fill="#c45a62" opacity="0.6"/>
<circle cx="279.01" cy="363.64" r="0.97" fill="#b83e4c" opacity="0.6"/>
<circle cx="279.19" cy="368.88" r="1.05" fill="#c45a62" opacity="0.6"/>
<circle cx="277.01" cy="364.54" r="1.25" fill="#b83e4c" opacity="0.6"/>
<circle cx="280.43" cy="369.56" r="1.18" fill="#e6c6ba" opacity="0.6"/>
<circle cx="281.03" cy="370.08" r="0.91" fill="#b83e4c" opacity="0.6"/>
<circle cx="278.37" cy="368.76" r="1.45" fill="#c45a62" opacity="0.6"/>
<circle cx="286.52" cy="368.56" r="0.52" fill="#c45a62" opacity="0.6"/>
<circle cx="283.6" cy="364.81" r="1.09" fill="#e6c6ba" opacity="0.6"/>
<circle cx="277.45" cy="365.99" r="1.76" fill="#e6c6ba" opacity="0.6"/>
<circle cx="279.2" cy="363.76" r="0.54" fill="#b83e4c" opacity="0.6"/>
</g>
<path d="M276.01 370.99Q275.22 370.13 274.93 369.1Q274.64 368.08 275.01 367.07Q275.37 366.06 276.13 365.13Q276.88 364.21 278.26 364Q279.65 363.79 281.03 363.59Q282.41 363.39 283.36 364.19Q284.31 365 285.26 365.66Q286.21 366.33 286.49 367.33Q286.78 368.32 286.31 369.26Q285.84 370.19 285.32 371.23Q284.81 372.27 283.39 372.47Q281.97 372.67 280.55 372.94Q279.13 373.2 277.96 372.53Q276.8 371.85 276.01 370.99Z" fill="none" stroke="#6e1c2c" stroke-width="1.04" opacity="0.4" transform="translate(0.5 0.5)"/>
</g>
<ellipse cx="306.34" cy="369.97" rx="5.38" ry="5.32" fill="#0e2a6e" opacity="0.7" filter="url(#blurS)"/>
<path d="M297.59 366.68Q297.97 365.26 299.23 364.67Q300.49 364.09 301.58 363.32Q302.67 362.56 303.98 362.8Q305.28 363.04 306.35 363.85Q307.42 364.65 307.71 365.99Q307.99 367.33 308.03 368.53Q308.07 369.72 307.9 370.98Q307.73 372.24 306.99 373.39Q306.25 374.53 304.95 374.59Q303.66 374.64 302.44 374.65Q301.22 374.66 300.28 373.82Q299.34 372.97 298.36 372Q297.39 371.03 297.3 369.57Q297.21 368.11 297.59 366.68Z" fill="#cc938e"/>
<clipPath id="cl17"><path d="M297.59 366.68Q297.97 365.26 299.23 364.67Q300.49 364.09 301.58 363.32Q302.67 362.56 303.98 362.8Q305.28 363.04 306.35 363.85Q307.42 364.65 307.71 365.99Q307.99 367.33 308.03 368.53Q308.07 369.72 307.9 370.98Q307.73 372.24 306.99 373.39Q306.25 374.53 304.95 374.59Q303.66 374.64 302.44 374.65Q301.22 374.66 300.28 373.82Q299.34 372.97 298.36 372Q297.39 371.03 297.3 369.57Q297.21 368.11 297.59 366.68Z"/></clipPath><g clip-path="url(#cl17)">
<g filter="url(#blurT)">
<circle cx="306.54" cy="367.71" r="0.58" fill="#dcaaa2" opacity="0.6"/>
<circle cx="305.21" cy="363.77" r="1.65" fill="#efd8cc" opacity="0.6"/>
<circle cx="298.29" cy="367.89" r="0.77" fill="#e2b8ac" opacity="0.6"/>
<circle cx="298.1" cy="367.59" r="0.59" fill="#e2b8ac" opacity="0.6"/>
<circle cx="299.84" cy="371.32" r="1.33" fill="#c45a62" opacity="0.6"/>
<circle cx="299.46" cy="366.06" r="1.56" fill="#c45a62" opacity="0.6"/>
<circle cx="303.86" cy="368.61" r="1.24" fill="#b83e4c" opacity="0.6"/>
<circle cx="307.04" cy="365.86" r="1.75" fill="#e6c6ba" opacity="0.6"/>
<circle cx="299.72" cy="372.77" r="0.81" fill="#c45a62" opacity="0.6"/>
<circle cx="298.07" cy="366.93" r="1.74" fill="#dcaaa2" opacity="0.6"/>
<circle cx="304.53" cy="369.55" r="0.75" fill="#b83e4c" opacity="0.6"/>
<circle cx="299.88" cy="366.26" r="1.67" fill="#dcaaa2" opacity="0.6"/>
<circle cx="303.2" cy="372.36" r="0.91" fill="#b83e4c" opacity="0.6"/>
</g>
<path d="M297.59 366.68Q297.97 365.26 299.23 364.67Q300.49 364.09 301.58 363.32Q302.67 362.56 303.98 362.8Q305.28 363.04 306.35 363.85Q307.42 364.65 307.71 365.99Q307.99 367.33 308.03 368.53Q308.07 369.72 307.9 370.98Q307.73 372.24 306.99 373.39Q306.25 374.53 304.95 374.59Q303.66 374.64 302.44 374.65Q301.22 374.66 300.28 373.82Q299.34 372.97 298.36 372Q297.39 371.03 297.3 369.57Q297.21 368.11 297.59 366.68Z" fill="none" stroke="#6e1c2c" stroke-width="0.93" opacity="0.4" transform="translate(0.5 0.5)"/>
</g>
<ellipse cx="106.24" cy="404.26" rx="3.84" ry="4.75" fill="#0e2a6e" opacity="0.56" filter="url(#blurS)"/>
<path d="M100.81 401.27Q101.3 400.37 101.78 399.33Q102.27 398.29 103.17 398.35Q104.07 398.41 104.88 398.65Q105.69 398.89 106.39 399.54Q107.09 400.2 107.58 401.23Q108.06 402.26 108.22 403.56Q108.37 404.87 107.71 405.84Q107.05 406.81 106.46 407.88Q105.88 408.94 104.9 409.22Q103.91 409.49 103.11 408.69Q102.32 407.9 101.75 407.11Q101.18 406.32 100.8 405.36Q100.43 404.4 100.38 403.28Q100.33 402.17 100.81 401.27Z" fill="#cc938e"/>
<clipPath id="cl30"><path d="M100.81 401.27Q101.3 400.37 101.78 399.33Q102.27 398.29 103.17 398.35Q104.07 398.41 104.88 398.65Q105.69 398.89 106.39 399.54Q107.09 400.2 107.58 401.23Q108.06 402.26 108.22 403.56Q108.37 404.87 107.71 405.84Q107.05 406.81 106.46 407.88Q105.88 408.94 104.9 409.22Q103.91 409.49 103.11 408.69Q102.32 407.9 101.75 407.11Q101.18 406.32 100.8 405.36Q100.43 404.4 100.38 403.28Q100.33 402.17 100.81 401.27Z"/></clipPath><g clip-path="url(#cl30)">
<g filter="url(#blurT)">
<circle cx="105.69" cy="399.9" r="1.76" fill="#c45a62" opacity="0.6"/>
<circle cx="102.35" cy="400.14" r="1.02" fill="#e6c6ba" opacity="0.6"/>
<circle cx="104.03" cy="407.45" r="1.49" fill="#b83e4c" opacity="0.6"/>
<circle cx="100.99" cy="401.62" r="1.23" fill="#e2b8ac" opacity="0.6"/>
<circle cx="107.08" cy="402.61" r="0.67" fill="#b83e4c" opacity="0.6"/>
<circle cx="103.2" cy="406.21" r="0.6" fill="#dcaaa2" opacity="0.6"/>
<circle cx="104.1" cy="406.43" r="1.03" fill="#e6c6ba" opacity="0.6"/>
<circle cx="104" cy="400.44" r="1.34" fill="#dcaaa2" opacity="0.6"/>
</g>
<path d="M100.81 401.27Q101.3 400.37 101.78 399.33Q102.27 398.29 103.17 398.35Q104.07 398.41 104.88 398.65Q105.69 398.89 106.39 399.54Q107.09 400.2 107.58 401.23Q108.06 402.26 108.22 403.56Q108.37 404.87 107.71 405.84Q107.05 406.81 106.46 407.88Q105.88 408.94 104.9 409.22Q103.91 409.49 103.11 408.69Q102.32 407.9 101.75 407.11Q101.18 406.32 100.8 405.36Q100.43 404.4 100.38 403.28Q100.33 402.17 100.81 401.27Z" fill="none" stroke="#6e1c2c" stroke-width="0.7" opacity="0.4" transform="translate(0.5 0.5)"/>
</g>
<ellipse cx="134.18" cy="404.19" rx="4.42" ry="4.36" fill="#0e2a6e" opacity="0.56" filter="url(#blurS)"/>
<path d="M135.6 404.78Q135.47 405.82 134.89 406.75Q134.31 407.69 133.26 407.76Q132.21 407.84 131.29 407.74Q130.37 407.65 129.53 407.21Q128.68 406.77 127.85 406.04Q127.03 405.32 127.23 404.19Q127.43 403.05 127.4 401.91Q127.37 400.76 128.14 399.95Q128.91 399.13 129.95 399.05Q130.99 398.97 131.98 398.8Q132.98 398.63 133.84 399.23Q134.69 399.83 135.24 400.74Q135.79 401.64 135.76 402.69Q135.72 403.74 135.6 404.78Z" fill="#cc938e"/>
<clipPath id="cl31"><path d="M135.6 404.78Q135.47 405.82 134.89 406.75Q134.31 407.69 133.26 407.76Q132.21 407.84 131.29 407.74Q130.37 407.65 129.53 407.21Q128.68 406.77 127.85 406.04Q127.03 405.32 127.23 404.19Q127.43 403.05 127.4 401.91Q127.37 400.76 128.14 399.95Q128.91 399.13 129.95 399.05Q130.99 398.97 131.98 398.8Q132.98 398.63 133.84 399.23Q134.69 399.83 135.24 400.74Q135.79 401.64 135.76 402.69Q135.72 403.74 135.6 404.78Z"/></clipPath><g clip-path="url(#cl31)">
<g filter="url(#blurT)">
<circle cx="133" cy="403.37" r="1.5" fill="#e6c6ba" opacity="0.6"/>
<circle cx="133.65" cy="401.52" r="0.93" fill="#efd8cc" opacity="0.6"/>
<circle cx="128.63" cy="407.03" r="1.44" fill="#efd8cc" opacity="0.6"/>
<circle cx="128.36" cy="405.42" r="1.74" fill="#e6c6ba" opacity="0.6"/>
<circle cx="133.05" cy="400.9" r="0.69" fill="#efd8cc" opacity="0.6"/>
<circle cx="132.41" cy="400.49" r="1.46" fill="#e6c6ba" opacity="0.6"/>
<circle cx="134.11" cy="400.46" r="0.77" fill="#efd8cc" opacity="0.6"/>
<circle cx="129.06" cy="404.64" r="1.33" fill="#b83e4c" opacity="0.6"/>
<circle cx="131.78" cy="404.39" r="0.88" fill="#b83e4c" opacity="0.6"/>
</g>
<path d="M135.6 404.78Q135.47 405.82 134.89 406.75Q134.31 407.69 133.26 407.76Q132.21 407.84 131.29 407.74Q130.37 407.65 129.53 407.21Q128.68 406.77 127.85 406.04Q127.03 405.32 127.23 404.19Q127.43 403.05 127.4 401.91Q127.37 400.76 128.14 399.95Q128.91 399.13 129.95 399.05Q130.99 398.97 131.98 398.8Q132.98 398.63 133.84 399.23Q134.69 399.83 135.24 400.74Q135.79 401.64 135.76 402.69Q135.72 403.74 135.6 404.78Z" fill="none" stroke="#6e1c2c" stroke-width="0.77" opacity="0.4" transform="translate(0.5 0.5)"/>
</g>
<ellipse cx="165.23" cy="404.3" rx="5.71" ry="3.87" fill="#0e2a6e" opacity="0.56" filter="url(#blurS)"/>
<path d="M166.01 406.23Q165.25 406.96 164.19 407.67Q163.12 408.37 161.74 408.11Q160.36 407.85 159.08 407.49Q157.8 407.13 157.4 406.15Q157.01 405.18 156.48 404.31Q155.94 403.44 156.06 402.4Q156.17 401.36 157.26 400.7Q158.35 400.04 159.51 399.41Q160.67 398.78 162.13 398.85Q163.59 398.93 164.62 399.65Q165.65 400.38 166.15 401.22Q166.65 402.07 167.44 402.92Q168.24 403.78 167.5 404.64Q166.77 405.5 166.01 406.23Z" fill="#cc938e"/>
<clipPath id="cl32"><path d="M166.01 406.23Q165.25 406.96 164.19 407.67Q163.12 408.37 161.74 408.11Q160.36 407.85 159.08 407.49Q157.8 407.13 157.4 406.15Q157.01 405.18 156.48 404.31Q155.94 403.44 156.06 402.4Q156.17 401.36 157.26 400.7Q158.35 400.04 159.51 399.41Q160.67 398.78 162.13 398.85Q163.59 398.93 164.62 399.65Q165.65 400.38 166.15 401.22Q166.65 402.07 167.44 402.92Q168.24 403.78 167.5 404.64Q166.77 405.5 166.01 406.23Z"/></clipPath><g clip-path="url(#cl32)">
<g filter="url(#blurT)">
<circle cx="162.3" cy="403.9" r="1.5" fill="#e2b8ac" opacity="0.6"/>
<circle cx="162.83" cy="405.86" r="1.08" fill="#efd8cc" opacity="0.6"/>
<circle cx="161.34" cy="404.31" r="0.65" fill="#dcaaa2" opacity="0.6"/>
<circle cx="162.35" cy="404.13" r="1.7" fill="#e6c6ba" opacity="0.6"/>
<circle cx="159.24" cy="402.88" r="0.9" fill="#c45a62" opacity="0.6"/>
<circle cx="164.1" cy="402.82" r="0.89" fill="#e2b8ac" opacity="0.6"/>
<circle cx="160.38" cy="403.02" r="1.26" fill="#e6c6ba" opacity="0.6"/>
<circle cx="162.34" cy="406.1" r="1.36" fill="#efd8cc" opacity="0.6"/>
<circle cx="163.64" cy="401.61" r="0.59" fill="#e2b8ac" opacity="0.6"/>
<circle cx="156.59" cy="404.18" r="0.71" fill="#c45a62" opacity="0.6"/>
</g>
<path d="M166.01 406.23Q165.25 406.96 164.19 407.67Q163.12 408.37 161.74 408.11Q160.36 407.85 159.08 407.49Q157.8 407.13 157.4 406.15Q157.01 405.18 156.48 404.31Q155.94 403.44 156.06 402.4Q156.17 401.36 157.26 400.7Q158.35 400.04 159.51 399.41Q160.67 398.78 162.13 398.85Q163.59 398.93 164.62 399.65Q165.65 400.38 166.15 401.22Q166.65 402.07 167.44 402.92Q168.24 403.78 167.5 404.64Q166.77 405.5 166.01 406.23Z" fill="none" stroke="#6e1c2c" stroke-width="0.99" opacity="0.4" transform="translate(0.5 0.5)"/>
</g>
<ellipse cx="194.24" cy="404.51" rx="3.84" ry="2.82" fill="#0e2a6e" opacity="0.56" filter="url(#blurS)"/>
<path d="M188.76 401.95Q189.27 401.31 190.2 401.19Q191.13 401.07 192.01 400.91Q192.89 400.75 193.8 400.99Q194.72 401.22 195.34 401.83Q195.97 402.44 195.82 403.21Q195.67 403.97 195.72 404.7Q195.76 405.42 195.18 405.99Q194.6 406.56 193.76 406.84Q192.92 407.12 191.98 407.31Q191.04 407.5 190.28 407.02Q189.52 406.54 188.99 405.97Q188.46 405.39 188 404.71Q187.54 404.03 187.9 403.31Q188.26 402.59 188.76 401.95Z" fill="#cc938e"/>
<clipPath id="cl33"><path d="M188.76 401.95Q189.27 401.31 190.2 401.19Q191.13 401.07 192.01 400.91Q192.89 400.75 193.8 400.99Q194.72 401.22 195.34 401.83Q195.97 402.44 195.82 403.21Q195.67 403.97 195.72 404.7Q195.76 405.42 195.18 405.99Q194.6 406.56 193.76 406.84Q192.92 407.12 191.98 407.31Q191.04 407.5 190.28 407.02Q189.52 406.54 188.99 405.97Q188.46 405.39 188 404.71Q187.54 404.03 187.9 403.31Q188.26 402.59 188.76 401.95Z"/></clipPath><g clip-path="url(#cl33)">
<g filter="url(#blurT)">
<circle cx="190.55" cy="402.68" r="1.17" fill="#b83e4c" opacity="0.6"/>
<circle cx="194.77" cy="402.36" r="1.38" fill="#e2b8ac" opacity="0.6"/>
<circle cx="192.84" cy="402.45" r="1.22" fill="#b83e4c" opacity="0.6"/>
<circle cx="191.43" cy="403" r="0.92" fill="#e6c6ba" opacity="0.6"/>
<circle cx="195.04" cy="401.93" r="1.47" fill="#e6c6ba" opacity="0.6"/>
</g>
<path d="M188.76 401.95Q189.27 401.31 190.2 401.19Q191.13 401.07 192.01 400.91Q192.89 400.75 193.8 400.99Q194.72 401.22 195.34 401.83Q195.97 402.44 195.82 403.21Q195.67 403.97 195.72 404.7Q195.76 405.42 195.18 405.99Q194.6 406.56 193.76 406.84Q192.92 407.12 191.98 407.31Q191.04 407.5 190.28 407.02Q189.52 406.54 188.99 405.97Q188.46 405.39 188 404.71Q187.54 404.03 187.9 403.31Q188.26 402.59 188.76 401.95Z" fill="none" stroke="#6e1c2c" stroke-width="0.7" opacity="0.4" transform="translate(0.5 0.5)"/>
</g>
<ellipse cx="225.41" cy="403.6" rx="4.99" ry="3.3" fill="#0e2a6e" opacity="0.56" filter="url(#blurS)"/>
<path d="M217.59 401.46Q217.92 400.6 218.85 399.98Q219.78 399.35 221.02 399.12Q222.25 398.88 223.36 399.28Q224.47 399.67 225.67 399.96Q226.88 400.25 227.14 401.14Q227.41 402.02 227.39 402.83Q227.36 403.64 226.81 404.31Q226.26 404.97 225.62 405.64Q224.97 406.31 223.84 406.36Q222.71 406.41 221.64 406.33Q220.57 406.24 219.52 405.89Q218.47 405.54 217.8 404.8Q217.13 404.07 217.2 403.19Q217.27 402.31 217.59 401.46Z" fill="#cc938e"/>
<clipPath id="cl34"><path d="M217.59 401.46Q217.92 400.6 218.85 399.98Q219.78 399.35 221.02 399.12Q222.25 398.88 223.36 399.28Q224.47 399.67 225.67 399.96Q226.88 400.25 227.14 401.14Q227.41 402.02 227.39 402.83Q227.36 403.64 226.81 404.31Q226.26 404.97 225.62 405.64Q224.97 406.31 223.84 406.36Q222.71 406.41 221.64 406.33Q220.57 406.24 219.52 405.89Q218.47 405.54 217.8 404.8Q217.13 404.07 217.2 403.19Q217.27 402.31 217.59 401.46Z"/></clipPath><g clip-path="url(#cl34)">
<g filter="url(#blurT)">
<circle cx="222.53" cy="401.9" r="0.98" fill="#e6c6ba" opacity="0.6"/>
<circle cx="222.22" cy="399.86" r="1.54" fill="#e6c6ba" opacity="0.6"/>
<circle cx="226.15" cy="401.84" r="0.9" fill="#e2b8ac" opacity="0.6"/>
<circle cx="220.73" cy="404.17" r="1.2" fill="#c45a62" opacity="0.6"/>
<circle cx="219.42" cy="401.23" r="1.21" fill="#c45a62" opacity="0.6"/>
<circle cx="222.87" cy="406.09" r="1.26" fill="#e6c6ba" opacity="0.6"/>
<circle cx="222.46" cy="399.62" r="1.04" fill="#b83e4c" opacity="0.6"/>
</g>
<path d="M217.59 401.46Q217.92 400.6 218.85 399.98Q219.78 399.35 221.02 399.12Q222.25 398.88 223.36 399.28Q224.47 399.67 225.67 399.96Q226.88 400.25 227.14 401.14Q227.41 402.02 227.39 402.83Q227.36 403.64 226.81 404.31Q226.26 404.97 225.62 405.64Q224.97 406.31 223.84 406.36Q222.71 406.41 221.64 406.33Q220.57 406.24 219.52 405.89Q218.47 405.54 217.8 404.8Q217.13 404.07 217.2 403.19Q217.27 402.31 217.59 401.46Z" fill="none" stroke="#6e1c2c" stroke-width="0.87" opacity="0.4" transform="translate(0.5 0.5)"/>
</g>
<ellipse cx="254.38" cy="404.3" rx="4.08" ry="3.87" fill="#0e2a6e" opacity="0.56" filter="url(#blurS)"/>
<path d="M248.19 401.3Q248.7 400.4 249.51 399.75Q250.32 399.11 251.32 399.28Q252.32 399.46 253.36 399.4Q254.4 399.34 254.99 400.22Q255.58 401.1 256.03 402.01Q256.48 402.93 256.4 403.97Q256.32 405.01 255.89 405.97Q255.45 406.94 254.44 407.2Q253.44 407.46 252.56 407.65Q251.67 407.83 250.7 407.72Q249.74 407.61 249.07 406.86Q248.4 406.11 247.96 405.2Q247.52 404.28 247.6 403.24Q247.68 402.2 248.19 401.3Z" fill="#cc938e"/>
<clipPath id="cl35"><path d="M248.19 401.3Q248.7 400.4 249.51 399.75Q250.32 399.11 251.32 399.28Q252.32 399.46 253.36 399.4Q254.4 399.34 254.99 400.22Q255.58 401.1 256.03 402.01Q256.48 402.93 256.4 403.97Q256.32 405.01 255.89 405.97Q255.45 406.94 254.44 407.2Q253.44 407.46 252.56 407.65Q251.67 407.83 250.7 407.72Q249.74 407.61 249.07 406.86Q248.4 406.11 247.96 405.2Q247.52 404.28 247.6 403.24Q247.68 402.2 248.19 401.3Z"/></clipPath><g clip-path="url(#cl35)">
<g filter="url(#blurT)">
<circle cx="249.27" cy="406.84" r="0.63" fill="#e6c6ba" opacity="0.6"/>
<circle cx="248.37" cy="403.71" r="1.38" fill="#b83e4c" opacity="0.6"/>
<circle cx="253.95" cy="404.28" r="0.6" fill="#b83e4c" opacity="0.6"/>
<circle cx="250.27" cy="406.38" r="1.6" fill="#c45a62" opacity="0.6"/>
<circle cx="253.48" cy="404.48" r="1.38" fill="#e6c6ba" opacity="0.6"/>
<circle cx="254.49" cy="406.34" r="1.76" fill="#c45a62" opacity="0.6"/>
<circle cx="249.33" cy="403.68" r="0.55" fill="#c45a62" opacity="0.6"/>
</g>
<path d="M248.19 401.3Q248.7 400.4 249.51 399.75Q250.32 399.11 251.32 399.28Q252.32 399.46 253.36 399.4Q254.4 399.34 254.99 400.22Q255.58 401.1 256.03 402.01Q256.48 402.93 256.4 403.97Q256.32 405.01 255.89 405.97Q255.45 406.94 254.44 407.2Q253.44 407.46 252.56 407.65Q251.67 407.83 250.7 407.72Q249.74 407.61 249.07 406.86Q248.4 406.11 247.96 405.2Q247.52 404.28 247.6 403.24Q247.68 402.2 248.19 401.3Z" fill="none" stroke="#6e1c2c" stroke-width="0.71" opacity="0.4" transform="translate(0.5 0.5)"/>
</g>
<ellipse cx="281.25" cy="404.18" rx="2.83" ry="3.17" fill="#0e2a6e" opacity="0.56" filter="url(#blurS)"/>
<path d="M277.48 406.57Q276.93 405.97 276.66 405.14Q276.38 404.31 276.46 403.44Q276.54 402.57 276.85 401.79Q277.16 401 277.88 400.86Q278.59 400.72 279.16 400.3Q279.74 399.88 280.32 400.26Q280.91 400.64 281.52 401Q282.13 401.36 282.29 402.16Q282.45 402.97 282.47 403.77Q282.49 404.57 282.17 405.28Q281.85 405.99 281.31 406.48Q280.78 406.98 280.12 407.24Q279.46 407.5 278.74 407.34Q278.03 407.17 277.48 406.57Z" fill="#cc938e"/>
<clipPath id="cl36"><path d="M277.48 406.57Q276.93 405.97 276.66 405.14Q276.38 404.31 276.46 403.44Q276.54 402.57 276.85 401.79Q277.16 401 277.88 400.86Q278.59 400.72 279.16 400.3Q279.74 399.88 280.32 400.26Q280.91 400.64 281.52 401Q282.13 401.36 282.29 402.16Q282.45 402.97 282.47 403.77Q282.49 404.57 282.17 405.28Q281.85 405.99 281.31 406.48Q280.78 406.98 280.12 407.24Q279.46 407.5 278.74 407.34Q278.03 407.17 277.48 406.57Z"/></clipPath><g clip-path="url(#cl36)">
<g filter="url(#blurT)">
<circle cx="281.32" cy="403.36" r="1.66" fill="#c45a62" opacity="0.6"/>
<circle cx="278.79" cy="404.39" r="1.41" fill="#c45a62" opacity="0.6"/>
<circle cx="280.06" cy="405.47" r="1.42" fill="#c45a62" opacity="0.6"/>
<circle cx="278.35" cy="406.62" r="0.5" fill="#efd8cc" opacity="0.6"/>
<circle cx="282.4" cy="403.54" r="0.68" fill="#c45a62" opacity="0.6"/>
</g>
<path d="M277.48 406.57Q276.93 405.97 276.66 405.14Q276.38 404.31 276.46 403.44Q276.54 402.57 276.85 401.79Q277.16 401 277.88 400.86Q278.59 400.72 279.16 400.3Q279.74 399.88 280.32 400.26Q280.91 400.64 281.52 401Q282.13 401.36 282.29 402.16Q282.45 402.97 282.47 403.77Q282.49 404.57 282.17 405.28Q281.85 405.99 281.31 406.48Q280.78 406.98 280.12 407.24Q279.46 407.5 278.74 407.34Q278.03 407.17 277.48 406.57Z" fill="none" stroke="#6e1c2c" stroke-width="0.7" opacity="0.4" transform="translate(0.5 0.5)"/>
</g>
<ellipse cx="306.6" cy="403.32" rx="3.6" ry="2.86" fill="#0e2a6e" opacity="0.56" filter="url(#blurS)"/>
<path d="M303.84 399.8Q304.57 399.45 305.46 399.55Q306.34 399.64 307.04 400.15Q307.74 400.65 307.96 401.39Q308.19 402.14 308.22 402.87Q308.26 403.61 307.78 404.21Q307.29 404.8 306.68 405.29Q306.07 405.78 305.25 405.75Q304.43 405.72 303.58 405.78Q302.73 405.84 302.09 405.33Q301.45 404.83 301.24 404.13Q301.04 403.42 301.01 402.73Q300.98 402.04 301.21 401.32Q301.44 400.6 302.27 400.38Q303.1 400.16 303.84 399.8Z" fill="#cc938e"/>
<clipPath id="cl37"><path d="M303.84 399.8Q304.57 399.45 305.46 399.55Q306.34 399.64 307.04 400.15Q307.74 400.65 307.96 401.39Q308.19 402.14 308.22 402.87Q308.26 403.61 307.78 404.21Q307.29 404.8 306.68 405.29Q306.07 405.78 305.25 405.75Q304.43 405.72 303.58 405.78Q302.73 405.84 302.09 405.33Q301.45 404.83 301.24 404.13Q301.04 403.42 301.01 402.73Q300.98 402.04 301.21 401.32Q301.44 400.6 302.27 400.38Q303.1 400.16 303.84 399.8Z"/></clipPath><g clip-path="url(#cl37)">
<g filter="url(#blurT)">
<circle cx="301.05" cy="403.9" r="0.62" fill="#e6c6ba" opacity="0.6"/>
<circle cx="306.29" cy="403.59" r="1.34" fill="#b83e4c" opacity="0.6"/>
<circle cx="301.88" cy="403.83" r="1.33" fill="#b83e4c" opacity="0.6"/>
<circle cx="303.88" cy="402.53" r="1.31" fill="#dcaaa2" opacity="0.6"/>
<circle cx="303.56" cy="402.77" r="1.35" fill="#e6c6ba" opacity="0.6"/>
</g>
<path d="M303.84 399.8Q304.57 399.45 305.46 399.55Q306.34 399.64 307.04 400.15Q307.74 400.65 307.96 401.39Q308.19 402.14 308.22 402.87Q308.26 403.61 307.78 404.21Q307.29 404.8 306.68 405.29Q306.07 405.78 305.25 405.75Q304.43 405.72 303.58 405.78Q302.73 405.84 302.09 405.33Q301.45 404.83 301.24 404.13Q301.04 403.42 301.01 402.73Q300.98 402.04 301.21 401.32Q301.44 400.6 302.27 400.38Q303.1 400.16 303.84 399.8Z" fill="none" stroke="#6e1c2c" stroke-width="0.7" opacity="0.4" transform="translate(0.5 0.5)"/>
</g>
<g>
<path d="M97 418.8L311.6 417.6V422.8H97Z" fill="#7c98cc" opacity="0.55"/>
<line x1="97.4" y1="419.4" x2="97.4" y2="422.5" stroke="#5d6f98" stroke-width="0.35" opacity="0.2"/>
<line x1="98.78" y1="419.4" x2="98.78" y2="422.5" stroke="#5d6f98" stroke-width="0.35" opacity="0.21"/>
<line x1="100.96" y1="419.4" x2="100.96" y2="422.5" stroke="#5d6f98" stroke-width="0.35" opacity="0.21"/>
<line x1="102.18" y1="419.4" x2="102.18" y2="422.5" stroke="#5d6f98" stroke-width="0.35" opacity="0.32"/>
<line x1="103.94" y1="419.4" x2="103.94" y2="422.5" stroke="#5d6f98" stroke-width="0.35" opacity="0.38"/>
<line x1="105.49" y1="419.4" x2="105.49" y2="422.5" stroke="#5d6f98" stroke-width="0.35" opacity="0.26"/>
<line x1="107.21" y1="419.4" x2="107.21" y2="422.5" stroke="#5d6f98" stroke-width="0.35" opacity="0.2"/>
<line x1="109.1" y1="419.4" x2="109.1" y2="422.5" stroke="#5d6f98" stroke-width="0.35" opacity="0.24"/>
<line x1="110.19" y1="419.4" x2="110.19" y2="422.5" stroke="#5d6f98" stroke-width="0.35" opacity="0.32"/>
<line x1="111.55" y1="419.4" x2="111.55" y2="422.5" stroke="#5d6f98" stroke-width="0.35" opacity="0.32"/>
<line x1="113.85" y1="419.4" x2="113.85" y2="422.5" stroke="#5d6f98" stroke-width="0.35" opacity="0.23"/>
<line x1="115.55" y1="419.4" x2="115.55" y2="422.5" stroke="#5d6f98" stroke-width="0.35" opacity="0.28"/>
<line x1="116.97" y1="419.4" x2="116.97" y2="422.5" stroke="#5d6f98" stroke-width="0.35" opacity="0.27"/>
<line x1="118.2" y1="419.4" x2="118.2" y2="422.5" stroke="#5d6f98" stroke-width="0.35" opacity="0.22"/>
<line x1="119.41" y1="419.4" x2="119.41" y2="422.5" stroke="#5d6f98" stroke-width="0.35" opacity="0.2"/>
<line x1="121.99" y1="419.4" x2="121.99" y2="422.5" stroke="#5d6f98" stroke-width="0.35" opacity="0.28"/>
<line x1="123.06" y1="419.4" x2="123.06" y2="422.5" stroke="#5d6f98" stroke-width="0.35" opacity="0.38"/>
<line x1="124.81" y1="419.4" x2="124.81" y2="422.5" stroke="#5d6f98" stroke-width="0.35" opacity="0.39"/>
<line x1="126.16" y1="419.4" x2="126.16" y2="422.5" stroke="#5d6f98" stroke-width="0.35" opacity="0.2"/>
<line x1="128.32" y1="419.4" x2="128.32" y2="422.5" stroke="#5d6f98" stroke-width="0.35" opacity="0.19"/>
<line x1="129.79" y1="419.4" x2="129.79" y2="422.5" stroke="#5d6f98" stroke-width="0.35" opacity="0.3"/>
<line x1="131.58" y1="419.4" x2="131.58" y2="422.5" stroke="#5d6f98" stroke-width="0.35" opacity="0.39"/>
<line x1="132.86" y1="419.4" x2="132.86" y2="422.5" stroke="#5d6f98" stroke-width="0.35" opacity="0.16"/>
<line x1="133.82" y1="419.4" x2="133.82" y2="422.5" stroke="#5d6f98" stroke-width="0.35" opacity="0.27"/>
<line x1="136.22" y1="419.4" x2="136.22" y2="422.5" stroke="#5d6f98" stroke-width="0.35" opacity="0.17"/>
<line x1="137.43" y1="419.4" x2="137.43" y2="422.5" stroke="#5d6f98" stroke-width="0.35" opacity="0.17"/>
<line x1="138.91" y1="419.4" x2="138.91" y2="422.5" stroke="#5d6f98" stroke-width="0.35" opacity="0.15"/>
<line x1="140.53" y1="419.4" x2="140.53" y2="422.5" stroke="#5d6f98" stroke-width="0.35" opacity="0.28"/>
<line x1="142" y1="419.4" x2="142" y2="422.5" stroke="#5d6f98" stroke-width="0.35" opacity="0.35"/>
<line x1="143.46" y1="419.4" x2="143.46" y2="422.5" stroke="#5d6f98" stroke-width="0.35" opacity="0.2"/>
<line x1="145.26" y1="419.4" x2="145.26" y2="422.5" stroke="#5d6f98" stroke-width="0.35" opacity="0.25"/>
<line x1="147.36" y1="419.4" x2="147.36" y2="422.5" stroke="#5d6f98" stroke-width="0.35" opacity="0.24"/>
<line x1="148.89" y1="419.4" x2="148.89" y2="422.5" stroke="#5d6f98" stroke-width="0.35" opacity="0.38"/>
<line x1="149.93" y1="419.4" x2="149.93" y2="422.5" stroke="#5d6f98" stroke-width="0.35" opacity="0.37"/>
<line x1="152" y1="419.4" x2="152" y2="422.5" stroke="#5d6f98" stroke-width="0.35" opacity="0.34"/>
<line x1="153.61" y1="419.4" x2="153.61" y2="422.5" stroke="#5d6f98" stroke-width="0.35" opacity="0.25"/>
<line x1="154.7" y1="419.4" x2="154.7" y2="422.5" stroke="#5d6f98" stroke-width="0.35" opacity="0.19"/>
<line x1="156.37" y1="419.4" x2="156.37" y2="422.5" stroke="#5d6f98" stroke-width="0.35" opacity="0.19"/>
<line x1="157.95" y1="419.4" x2="157.95" y2="422.5" stroke="#5d6f98" stroke-width="0.35" opacity="0.2"/>
<line x1="159.96" y1="419.4" x2="159.96" y2="422.5" stroke="#5d6f98" stroke-width="0.35" opacity="0.34"/>
<line x1="161.8" y1="419.4" x2="161.8" y2="422.5" stroke="#5d6f98" stroke-width="0.35" opacity="0.36"/>
<line x1="162.72" y1="419.4" x2="162.72" y2="422.5" stroke="#5d6f98" stroke-width="0.35" opacity="0.36"/>
<line x1="164.39" y1="419.4" x2="164.39" y2="422.5" stroke="#5d6f98" stroke-width="0.35" opacity="0.17"/>
<line x1="166.09" y1="419.4" x2="166.09" y2="422.5" stroke="#5d6f98" stroke-width="0.35" opacity="0.3"/>
<line x1="167.45" y1="419.4" x2="167.45" y2="422.5" stroke="#5d6f98" stroke-width="0.35" opacity="0.2"/>
<line x1="169.4" y1="419.4" x2="169.4" y2="422.5" stroke="#5d6f98" stroke-width="0.35" opacity="0.36"/>
<line x1="171" y1="419.4" x2="171" y2="422.5" stroke="#5d6f98" stroke-width="0.35" opacity="0.25"/>
<line x1="172.57" y1="419.4" x2="172.57" y2="422.5" stroke="#5d6f98" stroke-width="0.35" opacity="0.17"/>
<line x1="174.68" y1="419.4" x2="174.68" y2="422.5" stroke="#5d6f98" stroke-width="0.35" opacity="0.38"/>
<line x1="176.12" y1="419.4" x2="176.12" y2="422.5" stroke="#5d6f98" stroke-width="0.35" opacity="0.25"/>
<line x1="177.44" y1="419.4" x2="177.44" y2="422.5" stroke="#5d6f98" stroke-width="0.35" opacity="0.23"/>
<line x1="179.25" y1="419.4" x2="179.25" y2="422.5" stroke="#5d6f98" stroke-width="0.35" opacity="0.31"/>
<line x1="180.51" y1="419.4" x2="180.51" y2="422.5" stroke="#5d6f98" stroke-width="0.35" opacity="0.37"/>
<line x1="182.52" y1="419.4" x2="182.52" y2="422.5" stroke="#5d6f98" stroke-width="0.35" opacity="0.2"/>
<line x1="184.21" y1="419.4" x2="184.21" y2="422.5" stroke="#5d6f98" stroke-width="0.35" opacity="0.32"/>
<line x1="185.25" y1="419.4" x2="185.25" y2="422.5" stroke="#5d6f98" stroke-width="0.35" opacity="0.22"/>
<line x1="187.35" y1="419.4" x2="187.35" y2="422.5" stroke="#5d6f98" stroke-width="0.35" opacity="0.17"/>
<line x1="188.64" y1="419.4" x2="188.64" y2="422.5" stroke="#5d6f98" stroke-width="0.35" opacity="0.39"/>
<line x1="190.06" y1="419.4" x2="190.06" y2="422.5" stroke="#5d6f98" stroke-width="0.35" opacity="0.28"/>
<line x1="192.31" y1="419.4" x2="192.31" y2="422.5" stroke="#5d6f98" stroke-width="0.35" opacity="0.37"/>
<line x1="193.79" y1="419.4" x2="193.79" y2="422.5" stroke="#5d6f98" stroke-width="0.35" opacity="0.28"/>
<line x1="195.53" y1="419.4" x2="195.53" y2="422.5" stroke="#5d6f98" stroke-width="0.35" opacity="0.21"/>
<line x1="197.08" y1="419.4" x2="197.08" y2="422.5" stroke="#5d6f98" stroke-width="0.35" opacity="0.25"/>
<line x1="198.46" y1="419.4" x2="198.46" y2="422.5" stroke="#5d6f98" stroke-width="0.35" opacity="0.3"/>
<line x1="199.68" y1="419.4" x2="199.68" y2="422.5" stroke="#5d6f98" stroke-width="0.35" opacity="0.32"/>
<line x1="201.6" y1="419.4" x2="201.6" y2="422.5" stroke="#5d6f98" stroke-width="0.35" opacity="0.4"/>
<line x1="203.27" y1="419.4" x2="203.27" y2="422.5" stroke="#5d6f98" stroke-width="0.35" opacity="0.26"/>
<line x1="204.58" y1="419.4" x2="204.58" y2="422.5" stroke="#5d6f98" stroke-width="0.35" opacity="0.37"/>
<line x1="206.15" y1="419.4" x2="206.15" y2="422.5" stroke="#5d6f98" stroke-width="0.35" opacity="0.32"/>
<line x1="208.09" y1="419.4" x2="208.09" y2="422.5" stroke="#5d6f98" stroke-width="0.35" opacity="0.39"/>
<line x1="209.19" y1="419.4" x2="209.19" y2="422.5" stroke="#5d6f98" stroke-width="0.35" opacity="0.32"/>
<line x1="210.77" y1="419.4" x2="210.77" y2="422.5" stroke="#5d6f98" stroke-width="0.35" opacity="0.31"/>
<line x1="212.86" y1="419.4" x2="212.86" y2="422.5" stroke="#5d6f98" stroke-width="0.35" opacity="0.34"/>
<line x1="214.67" y1="419.4" x2="214.67" y2="422.5" stroke="#5d6f98" stroke-width="0.35" opacity="0.21"/>
<line x1="216.26" y1="419.4" x2="216.26" y2="422.5" stroke="#5d6f98" stroke-width="0.35" opacity="0.24"/>
<line x1="217.4" y1="419.4" x2="217.4" y2="422.5" stroke="#5d6f98" stroke-width="0.35" opacity="0.18"/>
<line x1="219.13" y1="419.4" x2="219.13" y2="422.5" stroke="#5d6f98" stroke-width="0.35" opacity="0.15"/>
<line x1="220.51" y1="419.4" x2="220.51" y2="422.5" stroke="#5d6f98" stroke-width="0.35" opacity="0.32"/>
<line x1="222.55" y1="419.4" x2="222.55" y2="422.5" stroke="#5d6f98" stroke-width="0.35" opacity="0.19"/>
<line x1="224.18" y1="419.4" x2="224.18" y2="422.5" stroke="#5d6f98" stroke-width="0.35" opacity="0.26"/>
<line x1="225.21" y1="419.4" x2="225.21" y2="422.5" stroke="#5d6f98" stroke-width="0.35" opacity="0.34"/>
<line x1="227.34" y1="419.4" x2="227.34" y2="422.5" stroke="#5d6f98" stroke-width="0.35" opacity="0.27"/>
<line x1="228.73" y1="419.4" x2="228.73" y2="422.5" stroke="#5d6f98" stroke-width="0.35" opacity="0.3"/>
<line x1="230.43" y1="419.4" x2="230.43" y2="422.5" stroke="#5d6f98" stroke-width="0.35" opacity="0.34"/>
<line x1="232.17" y1="419.4" x2="232.17" y2="422.5" stroke="#5d6f98" stroke-width="0.35" opacity="0.2"/>
<line x1="233.02" y1="419.4" x2="233.02" y2="422.5" stroke="#5d6f98" stroke-width="0.35" opacity="0.18"/>
<line x1="234.91" y1="419.4" x2="234.91" y2="422.5" stroke="#5d6f98" stroke-width="0.35" opacity="0.3"/>
<line x1="237.16" y1="419.4" x2="237.16" y2="422.5" stroke="#5d6f98" stroke-width="0.35" opacity="0.25"/>
<line x1="238.17" y1="419.4" x2="238.17" y2="422.5" stroke="#5d6f98" stroke-width="0.35" opacity="0.29"/>
<line x1="240.35" y1="419.4" x2="240.35" y2="422.5" stroke="#5d6f98" stroke-width="0.35" opacity="0.3"/>
<line x1="241.3" y1="419.4" x2="241.3" y2="422.5" stroke="#5d6f98" stroke-width="0.35" opacity="0.34"/>
<line x1="243.59" y1="419.4" x2="243.59" y2="422.5" stroke="#5d6f98" stroke-width="0.35" opacity="0.35"/>
<line x1="244.6" y1="419.4" x2="244.6" y2="422.5" stroke="#5d6f98" stroke-width="0.35" opacity="0.19"/>
<line x1="246.26" y1="419.4" x2="246.26" y2="422.5" stroke="#5d6f98" stroke-width="0.35" opacity="0.18"/>
<line x1="247.53" y1="419.4" x2="247.53" y2="422.5" stroke="#5d6f98" stroke-width="0.35" opacity="0.26"/>
<line x1="249.85" y1="419.4" x2="249.85" y2="422.5" stroke="#5d6f98" stroke-width="0.35" opacity="0.33"/>
<line x1="251.02" y1="419.4" x2="251.02" y2="422.5" stroke="#5d6f98" stroke-width="0.35" opacity="0.39"/>
<line x1="252.38" y1="419.4" x2="252.38" y2="422.5" stroke="#5d6f98" stroke-width="0.35" opacity="0.21"/>
<line x1="254.07" y1="419.4" x2="254.07" y2="422.5" stroke="#5d6f98" stroke-width="0.35" opacity="0.29"/>
<line x1="256.29" y1="419.4" x2="256.29" y2="422.5" stroke="#5d6f98" stroke-width="0.35" opacity="0.25"/>
<line x1="257.83" y1="419.4" x2="257.83" y2="422.5" stroke="#5d6f98" stroke-width="0.35" opacity="0.38"/>
<line x1="259.08" y1="419.4" x2="259.08" y2="422.5" stroke="#5d6f98" stroke-width="0.35" opacity="0.37"/>
<line x1="261.09" y1="419.4" x2="261.09" y2="422.5" stroke="#5d6f98" stroke-width="0.35" opacity="0.27"/>
<line x1="261.97" y1="419.4" x2="261.97" y2="422.5" stroke="#5d6f98" stroke-width="0.35" opacity="0.17"/>
<line x1="263.64" y1="419.4" x2="263.64" y2="422.5" stroke="#5d6f98" stroke-width="0.35" opacity="0.26"/>
<line x1="265.02" y1="419.4" x2="265.02" y2="422.5" stroke="#5d6f98" stroke-width="0.35" opacity="0.23"/>
<line x1="267.09" y1="419.4" x2="267.09" y2="422.5" stroke="#5d6f98" stroke-width="0.35" opacity="0.23"/>
<line x1="268.93" y1="419.4" x2="268.93" y2="422.5" stroke="#5d6f98" stroke-width="0.35" opacity="0.29"/>
<line x1="270.33" y1="419.4" x2="270.33" y2="422.5" stroke="#5d6f98" stroke-width="0.35" opacity="0.31"/>
<line x1="271.98" y1="419.4" x2="271.98" y2="422.5" stroke="#5d6f98" stroke-width="0.35" opacity="0.25"/>
<line x1="273.17" y1="419.4" x2="273.17" y2="422.5" stroke="#5d6f98" stroke-width="0.35" opacity="0.3"/>
<line x1="274.65" y1="419.4" x2="274.65" y2="422.5" stroke="#5d6f98" stroke-width="0.35" opacity="0.16"/>
<line x1="276.54" y1="419.4" x2="276.54" y2="422.5" stroke="#5d6f98" stroke-width="0.35" opacity="0.21"/>
<line x1="278.56" y1="419.4" x2="278.56" y2="422.5" stroke="#5d6f98" stroke-width="0.35" opacity="0.19"/>
<line x1="279.84" y1="419.4" x2="279.84" y2="422.5" stroke="#5d6f98" stroke-width="0.35" opacity="0.32"/>
<line x1="281.42" y1="419.4" x2="281.42" y2="422.5" stroke="#5d6f98" stroke-width="0.35" opacity="0.35"/>
<line x1="282.72" y1="419.4" x2="282.72" y2="422.5" stroke="#5d6f98" stroke-width="0.35" opacity="0.19"/>
<line x1="284.48" y1="419.4" x2="284.48" y2="422.5" stroke="#5d6f98" stroke-width="0.35" opacity="0.24"/>
<line x1="286.36" y1="419.4" x2="286.36" y2="422.5" stroke="#5d6f98" stroke-width="0.35" opacity="0.2"/>
<line x1="287.96" y1="419.4" x2="287.96" y2="422.5" stroke="#5d6f98" stroke-width="0.35" opacity="0.33"/>
<line x1="289.65" y1="419.4" x2="289.65" y2="422.5" stroke="#5d6f98" stroke-width="0.35" opacity="0.35"/>
<line x1="290.68" y1="419.4" x2="290.68" y2="422.5" stroke="#5d6f98" stroke-width="0.35" opacity="0.32"/>
<line x1="292.92" y1="419.4" x2="292.92" y2="422.5" stroke="#5d6f98" stroke-width="0.35" opacity="0.36"/>
<line x1="293.95" y1="419.4" x2="293.95" y2="422.5" stroke="#5d6f98" stroke-width="0.35" opacity="0.17"/>
<line x1="296.16" y1="419.4" x2="296.16" y2="422.5" stroke="#5d6f98" stroke-width="0.35" opacity="0.31"/>
<line x1="297.17" y1="419.4" x2="297.17" y2="422.5" stroke="#5d6f98" stroke-width="0.35" opacity="0.37"/>
<line x1="299.32" y1="419.4" x2="299.32" y2="422.5" stroke="#5d6f98" stroke-width="0.35" opacity="0.3"/>
<line x1="300.96" y1="419.4" x2="300.96" y2="422.5" stroke="#5d6f98" stroke-width="0.35" opacity="0.3"/>
<line x1="302.14" y1="419.4" x2="302.14" y2="422.5" stroke="#5d6f98" stroke-width="0.35" opacity="0.16"/>
<line x1="303.74" y1="419.4" x2="303.74" y2="422.5" stroke="#5d6f98" stroke-width="0.35" opacity="0.31"/>
<line x1="305.19" y1="419.4" x2="305.19" y2="422.5" stroke="#5d6f98" stroke-width="0.35" opacity="0.19"/>
<line x1="306.71" y1="419.4" x2="306.71" y2="422.5" stroke="#5d6f98" stroke-width="0.35" opacity="0.27"/>
<line x1="309.17" y1="419.4" x2="309.17" y2="422.5" stroke="#5d6f98" stroke-width="0.35" opacity="0.33"/>
<line x1="309.81" y1="419.4" x2="309.81" y2="422.5" stroke="#5d6f98" stroke-width="0.35" opacity="0.24"/>
<line x1="97" y1="423.2" x2="311.6" y2="423.2" stroke="#e4eefc" stroke-width="0.9" opacity="0.75"/>
<rect x="97" y="423.6" width="214.6" height="6.2" fill="#b4cef4" opacity="0.55"/>
<line x1="99.4" y1="423.7" x2="99.4" y2="425.2" stroke="#1e3468" stroke-width="0.4"/>
<line x1="101.29" y1="423.7" x2="101.29" y2="424.4" stroke="#1e3468" stroke-width="0.4"/>
<line x1="103.18" y1="423.7" x2="103.18" y2="424.4" stroke="#1e3468" stroke-width="0.4"/>
<line x1="105.08" y1="423.7" x2="105.08" y2="424.4" stroke="#1e3468" stroke-width="0.4"/>
<line x1="106.97" y1="423.7" x2="106.97" y2="424.4" stroke="#1e3468" stroke-width="0.4"/>
<line x1="108.86" y1="423.7" x2="108.86" y2="425.2" stroke="#1e3468" stroke-width="0.4"/>
<line x1="110.75" y1="423.7" x2="110.75" y2="424.4" stroke="#1e3468" stroke-width="0.4"/>
<line x1="112.64" y1="423.7" x2="112.64" y2="424.4" stroke="#1e3468" stroke-width="0.4"/>
<line x1="114.54" y1="423.7" x2="114.54" y2="424.4" stroke="#1e3468" stroke-width="0.4"/>
<line x1="116.43" y1="423.7" x2="116.43" y2="424.4" stroke="#1e3468" stroke-width="0.4"/>
<line x1="118.32" y1="423.7" x2="118.32" y2="425.2" stroke="#1e3468" stroke-width="0.4"/>
<line x1="120.21" y1="423.7" x2="120.21" y2="424.4" stroke="#1e3468" stroke-width="0.4"/>
<line x1="122.1" y1="423.7" x2="122.1" y2="424.4" stroke="#1e3468" stroke-width="0.4"/>
<line x1="124" y1="423.7" x2="124" y2="424.4" stroke="#1e3468" stroke-width="0.4"/>
<line x1="125.89" y1="423.7" x2="125.89" y2="424.4" stroke="#1e3468" stroke-width="0.4"/>
<line x1="127.78" y1="423.7" x2="127.78" y2="425.2" stroke="#1e3468" stroke-width="0.4"/>
<line x1="129.67" y1="423.7" x2="129.67" y2="424.4" stroke="#1e3468" stroke-width="0.4"/>
<line x1="131.56" y1="423.7" x2="131.56" y2="424.4" stroke="#1e3468" stroke-width="0.4"/>
<line x1="133.46" y1="423.7" x2="133.46" y2="424.4" stroke="#1e3468" stroke-width="0.4"/>
<line x1="135.35" y1="423.7" x2="135.35" y2="424.4" stroke="#1e3468" stroke-width="0.4"/>
<line x1="137.24" y1="423.7" x2="137.24" y2="425.2" stroke="#1e3468" stroke-width="0.4"/>
<line x1="139.13" y1="423.7" x2="139.13" y2="424.4" stroke="#1e3468" stroke-width="0.4"/>
<line x1="141.02" y1="423.7" x2="141.02" y2="424.4" stroke="#1e3468" stroke-width="0.4"/>
<line x1="142.92" y1="423.7" x2="142.92" y2="424.4" stroke="#1e3468" stroke-width="0.4"/>
<line x1="144.81" y1="423.7" x2="144.81" y2="424.4" stroke="#1e3468" stroke-width="0.4"/>
<line x1="146.7" y1="423.7" x2="146.7" y2="425.2" stroke="#1e3468" stroke-width="0.4"/>
<line x1="148.59" y1="423.7" x2="148.59" y2="424.4" stroke="#1e3468" stroke-width="0.4"/>
<line x1="150.48" y1="423.7" x2="150.48" y2="424.4" stroke="#1e3468" stroke-width="0.4"/>
<line x1="152.38" y1="423.7" x2="152.38" y2="424.4" stroke="#1e3468" stroke-width="0.4"/>
<line x1="154.27" y1="423.7" x2="154.27" y2="424.4" stroke="#1e3468" stroke-width="0.4"/>
<line x1="156.16" y1="423.7" x2="156.16" y2="425.2" stroke="#1e3468" stroke-width="0.4"/>
<line x1="158.05" y1="423.7" x2="158.05" y2="424.4" stroke="#1e3468" stroke-width="0.4"/>
<line x1="159.94" y1="423.7" x2="159.94" y2="424.4" stroke="#1e3468" stroke-width="0.4"/>
<line x1="161.84" y1="423.7" x2="161.84" y2="424.4" stroke="#1e3468" stroke-width="0.4"/>
<line x1="163.73" y1="423.7" x2="163.73" y2="424.4" stroke="#1e3468" stroke-width="0.4"/>
<line x1="165.62" y1="423.7" x2="165.62" y2="425.2" stroke="#1e3468" stroke-width="0.4"/>
<line x1="167.51" y1="423.7" x2="167.51" y2="424.4" stroke="#1e3468" stroke-width="0.4"/>
<line x1="169.4" y1="423.7" x2="169.4" y2="424.4" stroke="#1e3468" stroke-width="0.4"/>
<line x1="171.3" y1="423.7" x2="171.3" y2="424.4" stroke="#1e3468" stroke-width="0.4"/>
<line x1="173.19" y1="423.7" x2="173.19" y2="424.4" stroke="#1e3468" stroke-width="0.4"/>
<line x1="175.08" y1="423.7" x2="175.08" y2="425.2" stroke="#1e3468" stroke-width="0.4"/>
<line x1="176.97" y1="423.7" x2="176.97" y2="424.4" stroke="#1e3468" stroke-width="0.4"/>
<line x1="178.86" y1="423.7" x2="178.86" y2="424.4" stroke="#1e3468" stroke-width="0.4"/>
<line x1="180.76" y1="423.7" x2="180.76" y2="424.4" stroke="#1e3468" stroke-width="0.4"/>
<line x1="182.65" y1="423.7" x2="182.65" y2="424.4" stroke="#1e3468" stroke-width="0.4"/>
<line x1="184.54" y1="423.7" x2="184.54" y2="425.2" stroke="#1e3468" stroke-width="0.4"/>
<line x1="186.43" y1="423.7" x2="186.43" y2="424.4" stroke="#1e3468" stroke-width="0.4"/>
<line x1="188.32" y1="423.7" x2="188.32" y2="424.4" stroke="#1e3468" stroke-width="0.4"/>
<line x1="190.22" y1="423.7" x2="190.22" y2="424.4" stroke="#1e3468" stroke-width="0.4"/>
<line x1="192.11" y1="423.7" x2="192.11" y2="424.4" stroke="#1e3468" stroke-width="0.4"/>
<line x1="194" y1="423.7" x2="194" y2="425.2" stroke="#1e3468" stroke-width="0.4"/>
<line x1="195.89" y1="423.7" x2="195.89" y2="424.4" stroke="#1e3468" stroke-width="0.4"/>
<line x1="197.78" y1="423.7" x2="197.78" y2="424.4" stroke="#1e3468" stroke-width="0.4"/>
<line x1="199.68" y1="423.7" x2="199.68" y2="424.4" stroke="#1e3468" stroke-width="0.4"/>
<line x1="201.57" y1="423.7" x2="201.57" y2="424.4" stroke="#1e3468" stroke-width="0.4"/>
<line x1="203.46" y1="423.7" x2="203.46" y2="425.2" stroke="#1e3468" stroke-width="0.4"/>
<line x1="205.35" y1="423.7" x2="205.35" y2="424.4" stroke="#1e3468" stroke-width="0.4"/>
<line x1="207.24" y1="423.7" x2="207.24" y2="424.4" stroke="#1e3468" stroke-width="0.4"/>
<line x1="209.14" y1="423.7" x2="209.14" y2="424.4" stroke="#1e3468" stroke-width="0.4"/>
<line x1="211.03" y1="423.7" x2="211.03" y2="424.4" stroke="#1e3468" stroke-width="0.4"/>
<line x1="212.92" y1="423.7" x2="212.92" y2="425.2" stroke="#1e3468" stroke-width="0.4"/>
<line x1="214.81" y1="423.7" x2="214.81" y2="424.4" stroke="#1e3468" stroke-width="0.4"/>
<line x1="216.7" y1="423.7" x2="216.7" y2="424.4" stroke="#1e3468" stroke-width="0.4"/>
<line x1="218.6" y1="423.7" x2="218.6" y2="424.4" stroke="#1e3468" stroke-width="0.4"/>
<line x1="220.49" y1="423.7" x2="220.49" y2="424.4" stroke="#1e3468" stroke-width="0.4"/>
<line x1="222.38" y1="423.7" x2="222.38" y2="425.2" stroke="#1e3468" stroke-width="0.4"/>
<line x1="224.27" y1="423.7" x2="224.27" y2="424.4" stroke="#1e3468" stroke-width="0.4"/>
<line x1="226.16" y1="423.7" x2="226.16" y2="424.4" stroke="#1e3468" stroke-width="0.4"/>
<line x1="228.06" y1="423.7" x2="228.06" y2="424.4" stroke="#1e3468" stroke-width="0.4"/>
<line x1="229.95" y1="423.7" x2="229.95" y2="424.4" stroke="#1e3468" stroke-width="0.4"/>
<line x1="231.84" y1="423.7" x2="231.84" y2="425.2" stroke="#1e3468" stroke-width="0.4"/>
<line x1="233.73" y1="423.7" x2="233.73" y2="424.4" stroke="#1e3468" stroke-width="0.4"/>
<line x1="235.62" y1="423.7" x2="235.62" y2="424.4" stroke="#1e3468" stroke-width="0.4"/>
<line x1="237.52" y1="423.7" x2="237.52" y2="424.4" stroke="#1e3468" stroke-width="0.4"/>
<line x1="239.41" y1="423.7" x2="239.41" y2="424.4" stroke="#1e3468" stroke-width="0.4"/>
<line x1="241.3" y1="423.7" x2="241.3" y2="425.2" stroke="#1e3468" stroke-width="0.4"/>
<line x1="243.19" y1="423.7" x2="243.19" y2="424.4" stroke="#1e3468" stroke-width="0.4"/>
<line x1="245.08" y1="423.7" x2="245.08" y2="424.4" stroke="#1e3468" stroke-width="0.4"/>
<line x1="246.98" y1="423.7" x2="246.98" y2="424.4" stroke="#1e3468" stroke-width="0.4"/>
<line x1="248.87" y1="423.7" x2="248.87" y2="424.4" stroke="#1e3468" stroke-width="0.4"/>
<line x1="250.76" y1="423.7" x2="250.76" y2="425.2" stroke="#1e3468" stroke-width="0.4"/>
<line x1="252.65" y1="423.7" x2="252.65" y2="424.4" stroke="#1e3468" stroke-width="0.4"/>
<line x1="254.54" y1="423.7" x2="254.54" y2="424.4" stroke="#1e3468" stroke-width="0.4"/>
<line x1="256.44" y1="423.7" x2="256.44" y2="424.4" stroke="#1e3468" stroke-width="0.4"/>
<line x1="258.33" y1="423.7" x2="258.33" y2="424.4" stroke="#1e3468" stroke-width="0.4"/>
<line x1="260.22" y1="423.7" x2="260.22" y2="425.2" stroke="#1e3468" stroke-width="0.4"/>
<line x1="262.11" y1="423.7" x2="262.11" y2="424.4" stroke="#1e3468" stroke-width="0.4"/>
<line x1="264" y1="423.7" x2="264" y2="424.4" stroke="#1e3468" stroke-width="0.4"/>
<line x1="265.9" y1="423.7" x2="265.9" y2="424.4" stroke="#1e3468" stroke-width="0.4"/>
<line x1="267.79" y1="423.7" x2="267.79" y2="424.4" stroke="#1e3468" stroke-width="0.4"/>
<line x1="269.68" y1="423.7" x2="269.68" y2="425.2" stroke="#1e3468" stroke-width="0.4"/>
<line x1="271.57" y1="423.7" x2="271.57" y2="424.4" stroke="#1e3468" stroke-width="0.4"/>
<line x1="273.46" y1="423.7" x2="273.46" y2="424.4" stroke="#1e3468" stroke-width="0.4"/>
<line x1="275.36" y1="423.7" x2="275.36" y2="424.4" stroke="#1e3468" stroke-width="0.4"/>
<line x1="277.25" y1="423.7" x2="277.25" y2="424.4" stroke="#1e3468" stroke-width="0.4"/>
<line x1="279.14" y1="423.7" x2="279.14" y2="425.2" stroke="#1e3468" stroke-width="0.4"/>
<line x1="281.03" y1="423.7" x2="281.03" y2="424.4" stroke="#1e3468" stroke-width="0.4"/>
<line x1="282.92" y1="423.7" x2="282.92" y2="424.4" stroke="#1e3468" stroke-width="0.4"/>
<line x1="284.82" y1="423.7" x2="284.82" y2="424.4" stroke="#1e3468" stroke-width="0.4"/>
<line x1="286.71" y1="423.7" x2="286.71" y2="424.4" stroke="#1e3468" stroke-width="0.4"/>
<line x1="288.6" y1="423.7" x2="288.6" y2="425.2" stroke="#1e3468" stroke-width="0.4"/>
<line x1="290.49" y1="423.7" x2="290.49" y2="424.4" stroke="#1e3468" stroke-width="0.4"/>
<line x1="292.38" y1="423.7" x2="292.38" y2="424.4" stroke="#1e3468" stroke-width="0.4"/>
<line x1="294.28" y1="423.7" x2="294.28" y2="424.4" stroke="#1e3468" stroke-width="0.4"/>
<line x1="296.17" y1="423.7" x2="296.17" y2="424.4" stroke="#1e3468" stroke-width="0.4"/>
<line x1="298.06" y1="423.7" x2="298.06" y2="425.2" stroke="#1e3468" stroke-width="0.4"/>
<line x1="299.95" y1="423.7" x2="299.95" y2="424.4" stroke="#1e3468" stroke-width="0.4"/>
<line x1="301.84" y1="423.7" x2="301.84" y2="424.4" stroke="#1e3468" stroke-width="0.4"/>
<line x1="303.74" y1="423.7" x2="303.74" y2="424.4" stroke="#1e3468" stroke-width="0.4"/>
<line x1="305.63" y1="423.7" x2="305.63" y2="424.4" stroke="#1e3468" stroke-width="0.4"/>
<line x1="307.52" y1="423.7" x2="307.52" y2="425.2" stroke="#1e3468" stroke-width="0.4"/>
<line x1="309.41" y1="423.7" x2="309.41" y2="424.4" stroke="#1e3468" stroke-width="0.4"/>
<text x="99.4" y="428.5" font-size="3.4" fill="#17234e" text-anchor="middle" font-weight="bold" stroke="#17234e" stroke-width="0.12">0</text>
<text x="108.86" y="428.5" font-size="3.4" fill="#17234e" text-anchor="middle" font-weight="bold" stroke="#17234e" stroke-width="0.12">1cm</text>
<text x="118.32" y="428.5" font-size="3.4" fill="#17234e" text-anchor="middle" font-weight="bold" stroke="#17234e" stroke-width="0.12">2</text>
<text x="127.78" y="428.5" font-size="3.4" fill="#17234e" text-anchor="middle" font-weight="bold" stroke="#17234e" stroke-width="0.12">3</text>
<text x="137.24" y="428.5" font-size="3.4" fill="#17234e" text-anchor="middle" font-weight="bold" stroke="#17234e" stroke-width="0.12">4</text>
<text x="146.7" y="428.5" font-size="3.4" fill="#17234e" text-anchor="middle" font-weight="bold" stroke="#17234e" stroke-width="0.12">5</text>
<text x="156.16" y="428.5" font-size="3.4" fill="#17234e" text-anchor="middle" font-weight="bold" stroke="#17234e" stroke-width="0.12">6</text>
<text x="165.62" y="428.5" font-size="3.4" fill="#17234e" text-anchor="middle" font-weight="bold" stroke="#17234e" stroke-width="0.12">7</text>
<text x="175.08" y="428.5" font-size="3.4" fill="#17234e" text-anchor="middle" font-weight="bold" stroke="#17234e" stroke-width="0.12">8</text>
<text x="184.54" y="428.5" font-size="3.4" fill="#17234e" text-anchor="middle" font-weight="bold" stroke="#17234e" stroke-width="0.12">9</text>
<text x="194" y="428.5" font-size="3.4" fill="#17234e" text-anchor="middle" font-weight="bold" stroke="#17234e" stroke-width="0.12">10</text>
<text x="203.46" y="428.5" font-size="3.4" fill="#17234e" text-anchor="middle" font-weight="bold" stroke="#17234e" stroke-width="0.12">11</text>
<text x="212.92" y="428.5" font-size="3.4" fill="#17234e" text-anchor="middle" font-weight="bold" stroke="#17234e" stroke-width="0.12">12</text>
<text x="222.38" y="428.5" font-size="3.4" fill="#17234e" text-anchor="middle" font-weight="bold" stroke="#17234e" stroke-width="0.12">13</text>
<text x="231.84" y="428.5" font-size="3.4" fill="#17234e" text-anchor="middle" font-weight="bold" stroke="#17234e" stroke-width="0.12">14</text>
<text x="241.3" y="428.5" font-size="3.4" fill="#17234e" text-anchor="middle" font-weight="bold" stroke="#17234e" stroke-width="0.12">15</text>
<text x="250.76" y="428.5" font-size="3.4" fill="#17234e" text-anchor="middle" font-weight="bold" stroke="#17234e" stroke-width="0.12">16</text>
<text x="260.22" y="428.5" font-size="3.4" fill="#17234e" text-anchor="middle" font-weight="bold" stroke="#17234e" stroke-width="0.12">17</text>
<text x="269.68" y="428.5" font-size="3.4" fill="#17234e" text-anchor="middle" font-weight="bold" stroke="#17234e" stroke-width="0.12">18</text>
<text x="279.14" y="428.5" font-size="3.4" fill="#17234e" text-anchor="middle" font-weight="bold" stroke="#17234e" stroke-width="0.12">19</text>
<text x="288.6" y="428.5" font-size="3.4" fill="#17234e" text-anchor="middle" font-weight="bold" stroke="#17234e" stroke-width="0.12">20</text>
<text x="298.06" y="428.5" font-size="3.4" fill="#17234e" text-anchor="middle" font-weight="bold" stroke="#17234e" stroke-width="0.12">21</text>
<text x="307.52" y="428.5" font-size="3.4" fill="#17234e" text-anchor="middle" font-weight="bold" stroke="#17234e" stroke-width="0.12">22</text>
</g>
</g>
<text x="90.9" y="374.9" font-size="8.1" fill="#1a1a1a" text-anchor="end" stroke="#1a1a1a" stroke-width="0.12">A549 NC</text>
<text x="90.9" y="405.6" font-size="8.1" fill="#1a1a1a" text-anchor="end" stroke="#1a1a1a" stroke-width="0.12"><tspan font-style="italic">AKR1B1</tspan>-KO</text>
<g filter="url(#blurT)">
<rect x="414.4" y="355" width="225.2" height="73.8" fill="url(#bgF)"/>
<rect x="414.4" y="355" width="1.5" height="73.8" fill="#7ea6ee" opacity="0.6"/>
<line x1="540" y1="356" x2="556" y2="372" stroke="#7aa8f4" stroke-width="0.5" opacity="0.4"/>
<line x1="558" y1="356" x2="574" y2="372" stroke="#7aa8f4" stroke-width="0.5" opacity="0.4"/>
<line x1="576" y1="356" x2="592" y2="372" stroke="#7aa8f4" stroke-width="0.5" opacity="0.4"/>
<line x1="594" y1="356" x2="610" y2="372" stroke="#7aa8f4" stroke-width="0.5" opacity="0.4"/>
<line x1="612" y1="356" x2="628" y2="372" stroke="#7aa8f4" stroke-width="0.5" opacity="0.4"/>
<ellipse cx="435.96" cy="381.09" rx="12.96" ry="12.06" fill="#0e2a6e" opacity="0.7" filter="url(#blurS)"/>
<path d="M415.71 376.04Q415.7 372.96 418.04 371Q420.38 369.04 422.79 367.37Q425.19 365.69 428.36 364.77Q431.52 363.85 433.63 366.53Q435.75 369.22 437.82 371.13Q439.89 373.04 441.2 375.85Q442.52 378.66 440.93 381.34Q439.34 384.01 437.78 386.26Q436.22 388.51 434.06 390.92Q431.9 393.33 428.59 393.65Q425.27 393.98 422.91 391.61Q420.55 389.25 418.93 386.9Q417.31 384.56 416.52 381.84Q415.72 379.12 415.71 376.04Z" fill="#b04a58"/>
<clipPath id="cl50"><path d="M415.71 376.04Q415.7 372.96 418.04 371Q420.38 369.04 422.79 367.37Q425.19 365.69 428.36 364.77Q431.52 363.85 433.63 366.53Q435.75 369.22 437.82 371.13Q439.89 373.04 441.2 375.85Q442.52 378.66 440.93 381.34Q439.34 384.01 437.78 386.26Q436.22 388.51 434.06 390.92Q431.9 393.33 428.59 393.65Q425.27 393.98 422.91 391.61Q420.55 389.25 418.93 386.9Q417.31 384.56 416.52 381.84Q415.72 379.12 415.71 376.04Z"/></clipPath><g clip-path="url(#cl50)">
<g filter="url(#blurU)">
<circle cx="436.03" cy="377.54" r="4.08" fill="#a83848" opacity="0.6"/>
<circle cx="424.77" cy="380.67" r="3.44" fill="#c8707a" opacity="0.6"/>
<circle cx="433.85" cy="368.02" r="3.88" fill="#c05a66" opacity="0.6"/>
<circle cx="436.24" cy="379.19" r="3.46" fill="#e4b8ae" opacity="0.6"/>
<circle cx="438.54" cy="386.97" r="4.12" fill="#8e2a38" opacity="0.6"/>
<circle cx="424.21" cy="376.52" r="1.89" fill="#a83848" opacity="0.6"/>
<circle cx="420.78" cy="374.71" r="4.07" fill="#a83848" opacity="0.6"/>
<circle cx="432.91" cy="377.86" r="3.74" fill="#c05a66" opacity="0.6"/>
<circle cx="419.91" cy="376.47" r="3.83" fill="#a83848" opacity="0.6"/>
<circle cx="430.37" cy="374.48" r="3.86" fill="#a83848" opacity="0.6"/>
<circle cx="424.5" cy="390.95" r="1.71" fill="#a83848" opacity="0.6"/>
<circle cx="420.32" cy="389.02" r="2.54" fill="#c05a66" opacity="0.6"/>
<circle cx="440.73" cy="377.19" r="3.79" fill="#a83848" opacity="0.6"/>
<circle cx="430.26" cy="390.42" r="3.9" fill="#c8707a" opacity="0.6"/>
<circle cx="427.93" cy="391.22" r="1.33" fill="#8e2a38" opacity="0.6"/>
<circle cx="415.22" cy="377.39" r="3.29" fill="#c8707a" opacity="0.6"/>
<circle cx="425.55" cy="372.51" r="2.71" fill="#e4b8ae" opacity="0.6"/>
<circle cx="417.75" cy="385" r="1.51" fill="#e4b8ae" opacity="0.6"/>
<circle cx="430.62" cy="381.05" r="1.44" fill="#c8707a" opacity="0.6"/>
<circle cx="423.39" cy="369.93" r="2.24" fill="#8e2a38" opacity="0.6"/>
<circle cx="422.21" cy="387.93" r="4.07" fill="#a83848" opacity="0.6"/>
<circle cx="432.98" cy="381.8" r="4.18" fill="#dca0a0" opacity="0.6"/>
<circle cx="431.45" cy="381.53" r="1.65" fill="#dca0a0" opacity="0.6"/>
<circle cx="430.7" cy="378.64" r="3.58" fill="#c05a66" opacity="0.6"/>
<circle cx="430.04" cy="378.45" r="1.4" fill="#a83848" opacity="0.6"/>
<circle cx="418.42" cy="373.4" r="3.45" fill="#8e2a38" opacity="0.6"/>
<circle cx="437.76" cy="380.5" r="2.34" fill="#e4b8ae" opacity="0.6"/>
<circle cx="435.54" cy="389.3" r="3.16" fill="#a83848" opacity="0.6"/>
<circle cx="432.02" cy="371.87" r="2.27" fill="#e4b8ae" opacity="0.6"/>
<circle cx="435.93" cy="388.8" r="2.14" fill="#e4b8ae" opacity="0.6"/>
<circle cx="431.07" cy="371.71" r="3.5" fill="#e4b8ae" opacity="0.6"/>
<circle cx="428.07" cy="388.72" r="1.54" fill="#c8707a" opacity="0.6"/>
<circle cx="432.41" cy="380.76" r="2.77" fill="#c05a66" opacity="0.6"/>
<circle cx="421.24" cy="380.5" r="3.18" fill="#c05a66" opacity="0.6"/>
<circle cx="435.31" cy="378.35" r="3.06" fill="#dca0a0" opacity="0.6"/>
<circle cx="434.92" cy="377.17" r="1.38" fill="#dca0a0" opacity="0.6"/>
<circle cx="423.03" cy="376.68" r="3.45" fill="#c8707a" opacity="0.6"/>
<circle cx="426.5" cy="367.07" r="2.13" fill="#c05a66" opacity="0.6"/>
<circle cx="439.13" cy="373.21" r="2.62" fill="#c05a66" opacity="0.6"/>
<circle cx="429.57" cy="387.38" r="4.08" fill="#a83848" opacity="0.6"/>
<circle cx="419.02" cy="377.4" r="1.76" fill="#dca0a0" opacity="0.6"/>
</g>
<path d="M415.71 376.04Q415.7 372.96 418.04 371Q420.38 369.04 422.79 367.37Q425.19 365.69 428.36 364.77Q431.52 363.85 433.63 366.53Q435.75 369.22 437.82 371.13Q439.89 373.04 441.2 375.85Q442.52 378.66 440.93 381.34Q439.34 384.01 437.78 386.26Q436.22 388.51 434.06 390.92Q431.9 393.33 428.59 393.65Q425.27 393.98 422.91 391.61Q420.55 389.25 418.93 386.9Q417.31 384.56 416.52 381.84Q415.72 379.12 415.71 376.04Z" fill="none" stroke="#6e1c2c" stroke-width="2.25" opacity="0.4" transform="translate(0.5 0.5)"/>
</g>
<ellipse cx="467.3" cy="382.51" rx="11.14" ry="11.62" fill="#0e2a6e" opacity="0.7" filter="url(#blurS)"/>
<path d="M458.95 392.53Q456.61 391.45 453.96 390.61Q451.31 389.77 450.85 386.7Q450.39 383.63 449.81 380.8Q449.24 377.97 449.82 374.85Q450.4 371.74 452.94 370.4Q455.48 369.07 457.87 367.34Q460.26 365.61 462.97 366.58Q465.67 367.55 467.67 369.6Q469.67 371.64 471.02 374.23Q472.37 376.82 472.41 379.83Q472.46 382.85 471.14 385.38Q469.82 387.91 468.39 390.73Q466.97 393.55 464.12 393.57Q461.28 393.6 458.95 392.53Z" fill="#dca8a0"/>
<clipPath id="cl51"><path d="M458.95 392.53Q456.61 391.45 453.96 390.61Q451.31 389.77 450.85 386.7Q450.39 383.63 449.81 380.8Q449.24 377.97 449.82 374.85Q450.4 371.74 452.94 370.4Q455.48 369.07 457.87 367.34Q460.26 365.61 462.97 366.58Q465.67 367.55 467.67 369.6Q469.67 371.64 471.02 374.23Q472.37 376.82 472.41 379.83Q472.46 382.85 471.14 385.38Q469.82 387.91 468.39 390.73Q466.97 393.55 464.12 393.57Q461.28 393.6 458.95 392.53Z"/></clipPath><g clip-path="url(#cl51)">
<g filter="url(#blurU)">
<circle cx="451.33" cy="387.83" r="1.13" fill="#f0d4c8" opacity="0.6"/>
<circle cx="460.39" cy="389.51" r="2.01" fill="#e8c0b4" opacity="0.6"/>
<circle cx="458.41" cy="388.82" r="1.58" fill="#cc7478" opacity="0.6"/>
<circle cx="461.3" cy="371.68" r="2.34" fill="#e8c0b4" opacity="0.6"/>
<circle cx="470.39" cy="373.14" r="3.3" fill="#cc7478" opacity="0.6"/>
<circle cx="456.74" cy="377.38" r="3.61" fill="#d48c8c" opacity="0.6"/>
<circle cx="456.25" cy="368.76" r="3.74" fill="#e8c0b4" opacity="0.6"/>
<circle cx="455.28" cy="387.11" r="3.19" fill="#f4e2d6" opacity="0.6"/>
<circle cx="451.03" cy="373.4" r="1.38" fill="#d48c8c" opacity="0.6"/>
<circle cx="461.56" cy="369.78" r="3.33" fill="#d48c8c" opacity="0.6"/>
<circle cx="463.4" cy="367.56" r="2.82" fill="#f4e2d6" opacity="0.6"/>
<circle cx="452.66" cy="378.07" r="3.59" fill="#c65a66" opacity="0.6"/>
<circle cx="465.95" cy="369.82" r="1.95" fill="#f0d4c8" opacity="0.6"/>
<circle cx="450.1" cy="378.19" r="2.18" fill="#f4e2d6" opacity="0.6"/>
<circle cx="465.63" cy="376.13" r="2.34" fill="#cc7478" opacity="0.6"/>
<circle cx="450.41" cy="381.58" r="1.2" fill="#f4e2d6" opacity="0.6"/>
<circle cx="452.52" cy="382.51" r="2.27" fill="#f4e2d6" opacity="0.6"/>
<circle cx="462.81" cy="387.9" r="1.86" fill="#cc7478" opacity="0.6"/>
<circle cx="456.38" cy="380.99" r="3.48" fill="#cc7478" opacity="0.6"/>
<circle cx="464.48" cy="376.71" r="2.33" fill="#c65a66" opacity="0.6"/>
<circle cx="461.99" cy="380.04" r="1.48" fill="#cc7478" opacity="0.6"/>
<circle cx="457.96" cy="382.14" r="2.43" fill="#f4e2d6" opacity="0.6"/>
<circle cx="466.77" cy="378.63" r="2.68" fill="#cc7478" opacity="0.6"/>
<circle cx="453.64" cy="383.77" r="1.1" fill="#d48c8c" opacity="0.6"/>
<circle cx="461.78" cy="373.51" r="3.76" fill="#cc7478" opacity="0.6"/>
<circle cx="462.02" cy="372.14" r="2.11" fill="#cc7478" opacity="0.6"/>
<circle cx="457.07" cy="389.43" r="3.73" fill="#cc7478" opacity="0.6"/>
<circle cx="457.04" cy="388.24" r="3.09" fill="#f4e2d6" opacity="0.6"/>
<circle cx="456.73" cy="389.58" r="3.63" fill="#f0d4c8" opacity="0.6"/>
<circle cx="452.02" cy="388.48" r="1.77" fill="#d48c8c" opacity="0.6"/>
<circle cx="454.07" cy="386.66" r="2.51" fill="#f0d4c8" opacity="0.6"/>
<circle cx="467.26" cy="381.95" r="1.85" fill="#f0d4c8" opacity="0.6"/>
<circle cx="452.22" cy="383.44" r="2.52" fill="#cc7478" opacity="0.6"/>
<circle cx="461.71" cy="375.54" r="1.27" fill="#c65a66" opacity="0.6"/>
</g>
<path d="M458.95 392.53Q456.61 391.45 453.96 390.61Q451.31 389.77 450.85 386.7Q450.39 383.63 449.81 380.8Q449.24 377.97 449.82 374.85Q450.4 371.74 452.94 370.4Q455.48 369.07 457.87 367.34Q460.26 365.61 462.97 366.58Q465.67 367.55 467.67 369.6Q469.67 371.64 471.02 374.23Q472.37 376.82 472.41 379.83Q472.46 382.85 471.14 385.38Q469.82 387.91 468.39 390.73Q466.97 393.55 464.12 393.57Q461.28 393.6 458.95 392.53Z" fill="none" stroke="#6e1c2c" stroke-width="1.93" opacity="0.4" transform="translate(0.5 0.5)"/>
</g>
<ellipse cx="501.96" cy="382.9" rx="10.56" ry="11.57" fill="#0e2a6e" opacity="0.7" filter="url(#blurS)"/>
<path d="M506.16 382.12Q506.89 385.04 505.32 387.42Q503.75 389.81 501.96 392.15Q500.16 394.5 497.52 394.04Q494.89 393.58 492.24 393.47Q489.59 393.35 488.52 390.4Q487.46 387.45 485.48 385.15Q483.5 382.86 484.53 379.87Q485.56 376.88 487.02 374.69Q488.47 372.5 490.26 370.75Q492.05 369 494.41 368.13Q496.77 367.25 498.75 369.05Q500.72 370.85 502.7 372.29Q504.68 373.72 505.06 376.45Q505.43 379.19 506.16 382.12Z" fill="#dca8a0"/>
<clipPath id="cl52"><path d="M506.16 382.12Q506.89 385.04 505.32 387.42Q503.75 389.81 501.96 392.15Q500.16 394.5 497.52 394.04Q494.89 393.58 492.24 393.47Q489.59 393.35 488.52 390.4Q487.46 387.45 485.48 385.15Q483.5 382.86 484.53 379.87Q485.56 376.88 487.02 374.69Q488.47 372.5 490.26 370.75Q492.05 369 494.41 368.13Q496.77 367.25 498.75 369.05Q500.72 370.85 502.7 372.29Q504.68 373.72 505.06 376.45Q505.43 379.19 506.16 382.12Z"/></clipPath><g clip-path="url(#cl52)">
<g filter="url(#blurU)">
<circle cx="498.69" cy="381.04" r="2.25" fill="#e8c0b4" opacity="0.6"/>
<circle cx="490.37" cy="374.3" r="2.08" fill="#d48c8c" opacity="0.6"/>
<circle cx="502.32" cy="371.07" r="3.46" fill="#d48c8c" opacity="0.6"/>
<circle cx="487.79" cy="375.86" r="2.41" fill="#c65a66" opacity="0.6"/>
<circle cx="500.77" cy="388.2" r="2.83" fill="#f4e2d6" opacity="0.6"/>
<circle cx="494.63" cy="388.13" r="2.1" fill="#cc7478" opacity="0.6"/>
<circle cx="487.2" cy="376.54" r="1.07" fill="#f4e2d6" opacity="0.6"/>
<circle cx="504.7" cy="381.09" r="2.25" fill="#f4e2d6" opacity="0.6"/>
<circle cx="502.04" cy="389.13" r="1.23" fill="#e8c0b4" opacity="0.6"/>
<circle cx="492.3" cy="376.31" r="2.44" fill="#e8c0b4" opacity="0.6"/>
<circle cx="488.45" cy="384.99" r="2.85" fill="#cc7478" opacity="0.6"/>
<circle cx="497.58" cy="389.88" r="3.13" fill="#e8c0b4" opacity="0.6"/>
<circle cx="485.53" cy="384.53" r="2.37" fill="#e8c0b4" opacity="0.6"/>
<circle cx="499.93" cy="371.21" r="2.38" fill="#d48c8c" opacity="0.6"/>
<circle cx="494.36" cy="377.61" r="3.13" fill="#cc7478" opacity="0.6"/>
<circle cx="504.17" cy="383.52" r="1.97" fill="#f0d4c8" opacity="0.6"/>
<circle cx="497.87" cy="381.97" r="3.4" fill="#f4e2d6" opacity="0.6"/>
<circle cx="503.21" cy="387.77" r="2.3" fill="#d48c8c" opacity="0.6"/>
<circle cx="493.77" cy="376.31" r="3.56" fill="#d48c8c" opacity="0.6"/>
<circle cx="497.48" cy="385.53" r="1.4" fill="#e8c0b4" opacity="0.6"/>
<circle cx="491.67" cy="368.65" r="2.68" fill="#c65a66" opacity="0.6"/>
<circle cx="492.58" cy="385.13" r="1.21" fill="#e8c0b4" opacity="0.6"/>
<circle cx="496.71" cy="374.16" r="3.31" fill="#f0d4c8" opacity="0.6"/>
<circle cx="498.57" cy="376.08" r="1.85" fill="#f4e2d6" opacity="0.6"/>
<circle cx="491.47" cy="386.86" r="1.44" fill="#f0d4c8" opacity="0.6"/>
<circle cx="493.12" cy="382.95" r="3.13" fill="#e8c0b4" opacity="0.6"/>
<circle cx="504.88" cy="384.18" r="3.43" fill="#cc7478" opacity="0.6"/>
<circle cx="495.12" cy="392.5" r="2.76" fill="#cc7478" opacity="0.6"/>
<circle cx="495" cy="380.95" r="2.8" fill="#f4e2d6" opacity="0.6"/>
<circle cx="494.79" cy="391.38" r="1.16" fill="#f4e2d6" opacity="0.6"/>
<circle cx="493.08" cy="372.25" r="3.51" fill="#e8c0b4" opacity="0.6"/>
<circle cx="504.35" cy="385.42" r="3.39" fill="#f4e2d6" opacity="0.6"/>
</g>
<path d="M506.16 382.12Q506.89 385.04 505.32 387.42Q503.75 389.81 501.96 392.15Q500.16 394.5 497.52 394.04Q494.89 393.58 492.24 393.47Q489.59 393.35 488.52 390.4Q487.46 387.45 485.48 385.15Q483.5 382.86 484.53 379.87Q485.56 376.88 487.02 374.69Q488.47 372.5 490.26 370.75Q492.05 369 494.41 368.13Q496.77 367.25 498.75 369.05Q500.72 370.85 502.7 372.29Q504.68 373.72 505.06 376.45Q505.43 379.19 506.16 382.12Z" fill="none" stroke="#6e1c2c" stroke-width="1.83" opacity="0.4" transform="translate(0.5 0.5)"/>
</g>
<ellipse cx="534.41" cy="382.88" rx="11.33" ry="9.24" fill="#0e2a6e" opacity="0.7" filter="url(#blurS)"/>
<path d="M520.77 372.52Q523.39 371.59 525.97 370.87Q528.56 370.14 531.38 370.57Q534.21 370.99 535.86 373.06Q537.51 375.13 538.83 377.26Q540.15 379.39 539.97 381.86Q539.79 384.33 538.59 386.61Q537.38 388.89 534.55 389.32Q531.73 389.75 529.44 390.26Q527.14 390.78 524.22 391.16Q521.3 391.55 519.41 389.59Q517.52 387.62 517.2 385.21Q516.88 382.8 516.32 380.43Q515.76 378.06 516.96 375.76Q518.15 373.45 520.77 372.52Z" fill="#b04a58"/>
<clipPath id="cl53"><path d="M520.77 372.52Q523.39 371.59 525.97 370.87Q528.56 370.14 531.38 370.57Q534.21 370.99 535.86 373.06Q537.51 375.13 538.83 377.26Q540.15 379.39 539.97 381.86Q539.79 384.33 538.59 386.61Q537.38 388.89 534.55 389.32Q531.73 389.75 529.44 390.26Q527.14 390.78 524.22 391.16Q521.3 391.55 519.41 389.59Q517.52 387.62 517.2 385.21Q516.88 382.8 516.32 380.43Q515.76 378.06 516.96 375.76Q518.15 373.45 520.77 372.52Z"/></clipPath><g clip-path="url(#cl53)">
<g filter="url(#blurU)">
<circle cx="531.24" cy="386.71" r="1.45" fill="#e4b8ae" opacity="0.6"/>
<circle cx="532.7" cy="385.64" r="3.07" fill="#c05a66" opacity="0.6"/>
<circle cx="520.33" cy="380.72" r="1.78" fill="#c8707a" opacity="0.6"/>
<circle cx="533.77" cy="388.84" r="1.98" fill="#a83848" opacity="0.6"/>
<circle cx="522.35" cy="383.14" r="2.84" fill="#dca0a0" opacity="0.6"/>
<circle cx="517.66" cy="384.29" r="3.22" fill="#dca0a0" opacity="0.6"/>
<circle cx="518.76" cy="375.94" r="1.15" fill="#dca0a0" opacity="0.6"/>
<circle cx="527.86" cy="377.96" r="2.87" fill="#c8707a" opacity="0.6"/>
<circle cx="535.4" cy="377.36" r="1.54" fill="#8e2a38" opacity="0.6"/>
<circle cx="524.48" cy="383.82" r="1.45" fill="#dca0a0" opacity="0.6"/>
<circle cx="518.58" cy="379.36" r="1.43" fill="#c05a66" opacity="0.6"/>
<circle cx="529.25" cy="388.36" r="1.39" fill="#8e2a38" opacity="0.6"/>
<circle cx="529.78" cy="386.7" r="2.57" fill="#c05a66" opacity="0.6"/>
<circle cx="534.44" cy="383.8" r="1.27" fill="#8e2a38" opacity="0.6"/>
<circle cx="524.53" cy="377.11" r="2.44" fill="#e4b8ae" opacity="0.6"/>
<circle cx="532.93" cy="378.95" r="2.12" fill="#a83848" opacity="0.6"/>
<circle cx="523.33" cy="383.19" r="2.35" fill="#dca0a0" opacity="0.6"/>
<circle cx="531.14" cy="384.53" r="1.75" fill="#e4b8ae" opacity="0.6"/>
<circle cx="524.7" cy="382.93" r="1.56" fill="#c8707a" opacity="0.6"/>
<circle cx="518.56" cy="377.71" r="2.89" fill="#a83848" opacity="0.6"/>
<circle cx="524.54" cy="384.73" r="2.37" fill="#8e2a38" opacity="0.6"/>
<circle cx="517.32" cy="382.81" r="1.78" fill="#c05a66" opacity="0.6"/>
<circle cx="532.74" cy="380.36" r="3.21" fill="#a83848" opacity="0.6"/>
<circle cx="526.13" cy="383.35" r="1.89" fill="#a83848" opacity="0.6"/>
<circle cx="528.07" cy="379.72" r="2.03" fill="#c05a66" opacity="0.6"/>
<circle cx="519.79" cy="379.75" r="2.64" fill="#c05a66" opacity="0.6"/>
<circle cx="519.02" cy="386.9" r="2.95" fill="#a83848" opacity="0.6"/>
</g>
<path d="M520.77 372.52Q523.39 371.59 525.97 370.87Q528.56 370.14 531.38 370.57Q534.21 370.99 535.86 373.06Q537.51 375.13 538.83 377.26Q540.15 379.39 539.97 381.86Q539.79 384.33 538.59 386.61Q537.38 388.89 534.55 389.32Q531.73 389.75 529.44 390.26Q527.14 390.78 524.22 391.16Q521.3 391.55 519.41 389.59Q517.52 387.62 517.2 385.21Q516.88 382.8 516.32 380.43Q515.76 378.06 516.96 375.76Q518.15 373.45 520.77 372.52Z" fill="none" stroke="#6e1c2c" stroke-width="1.97" opacity="0.4" transform="translate(0.5 0.5)"/>
</g>
<ellipse cx="563.18" cy="385.48" rx="10.08" ry="10.34" fill="#0e2a6e" opacity="0.7" filter="url(#blurS)"/>
<path d="M566.67 380.26Q567.9 382.45 567.51 385.04Q567.11 387.63 566.3 390.34Q565.48 393.04 563 393.72Q560.51 394.4 558.25 394.75Q555.98 395.09 553.72 394.37Q551.46 393.65 550.03 391.58Q548.6 389.51 547.16 387.18Q545.73 384.86 546.1 382Q546.47 379.15 548.02 376.91Q549.57 374.67 551.97 374.21Q554.37 373.74 556.59 372.1Q558.81 370.46 560.95 372.04Q563.1 373.62 564.26 375.85Q565.43 378.08 566.67 380.26Z" fill="#dca8a0"/>
<clipPath id="cl54"><path d="M566.67 380.26Q567.9 382.45 567.51 385.04Q567.11 387.63 566.3 390.34Q565.48 393.04 563 393.72Q560.51 394.4 558.25 394.75Q555.98 395.09 553.72 394.37Q551.46 393.65 550.03 391.58Q548.6 389.51 547.16 387.18Q545.73 384.86 546.1 382Q546.47 379.15 548.02 376.91Q549.57 374.67 551.97 374.21Q554.37 373.74 556.59 372.1Q558.81 370.46 560.95 372.04Q563.1 373.62 564.26 375.85Q565.43 378.08 566.67 380.26Z"/></clipPath><g clip-path="url(#cl54)">
<g filter="url(#blurU)">
<circle cx="550.98" cy="378.62" r="1.68" fill="#f4e2d6" opacity="0.6"/>
<circle cx="550.64" cy="388.02" r="3.44" fill="#f0d4c8" opacity="0.6"/>
<circle cx="556.91" cy="389.78" r="2.41" fill="#d48c8c" opacity="0.6"/>
<circle cx="565.71" cy="385.83" r="1.61" fill="#c65a66" opacity="0.6"/>
<circle cx="557.5" cy="385.27" r="3.14" fill="#cc7478" opacity="0.6"/>
<circle cx="549.91" cy="391.47" r="2.69" fill="#f0d4c8" opacity="0.6"/>
<circle cx="549.75" cy="386.53" r="1.55" fill="#d48c8c" opacity="0.6"/>
<circle cx="556.4" cy="382.5" r="2.34" fill="#d48c8c" opacity="0.6"/>
<circle cx="561.29" cy="372.95" r="2.01" fill="#d48c8c" opacity="0.6"/>
<circle cx="562.29" cy="379.23" r="3.06" fill="#f0d4c8" opacity="0.6"/>
<circle cx="547.06" cy="385.49" r="1.69" fill="#d48c8c" opacity="0.6"/>
<circle cx="551.68" cy="391.74" r="3.16" fill="#f0d4c8" opacity="0.6"/>
<circle cx="553.39" cy="377.07" r="2.1" fill="#f4e2d6" opacity="0.6"/>
<circle cx="562.81" cy="393.33" r="2.42" fill="#d48c8c" opacity="0.6"/>
<circle cx="551.37" cy="383.51" r="3.27" fill="#f0d4c8" opacity="0.6"/>
<circle cx="552.15" cy="379.15" r="1.95" fill="#d48c8c" opacity="0.6"/>
<circle cx="551.95" cy="386.42" r="3.1" fill="#d48c8c" opacity="0.6"/>
<circle cx="554.4" cy="381.87" r="2.34" fill="#f4e2d6" opacity="0.6"/>
<circle cx="547.43" cy="386.32" r="2.43" fill="#c65a66" opacity="0.6"/>
<circle cx="553.58" cy="377.22" r="2.72" fill="#c65a66" opacity="0.6"/>
<circle cx="562.55" cy="389.54" r="3.26" fill="#cc7478" opacity="0.6"/>
<circle cx="560.98" cy="374.68" r="2.11" fill="#f0d4c8" opacity="0.6"/>
<circle cx="559.95" cy="372.28" r="1.26" fill="#f4e2d6" opacity="0.6"/>
<circle cx="561.14" cy="392.43" r="1.63" fill="#f4e2d6" opacity="0.6"/>
<circle cx="560.35" cy="392.27" r="1.74" fill="#c65a66" opacity="0.6"/>
<circle cx="559.29" cy="393.9" r="2.41" fill="#c65a66" opacity="0.6"/>
<circle cx="566.54" cy="380.87" r="0.97" fill="#f0d4c8" opacity="0.6"/>
</g>
<path d="M566.67 380.26Q567.9 382.45 567.51 385.04Q567.11 387.63 566.3 390.34Q565.48 393.04 563 393.72Q560.51 394.4 558.25 394.75Q555.98 395.09 553.72 394.37Q551.46 393.65 550.03 391.58Q548.6 389.51 547.16 387.18Q545.73 384.86 546.1 382Q546.47 379.15 548.02 376.91Q549.57 374.67 551.97 374.21Q554.37 373.74 556.59 372.1Q558.81 370.46 560.95 372.04Q563.1 373.62 564.26 375.85Q565.43 378.08 566.67 380.26Z" fill="none" stroke="#6e1c2c" stroke-width="1.75" opacity="0.4" transform="translate(0.5 0.5)"/>
</g>
<ellipse cx="589.93" cy="388.78" rx="8.45" ry="10.34" fill="#0e2a6e" opacity="0.7" filter="url(#blurS)"/>
<path d="M591.25 394.97Q589.21 395.98 587.6 397.65Q585.99 399.31 583.88 399.13Q581.78 398.95 580.06 397.32Q578.34 395.69 577.72 393.1Q577.1 390.51 576.85 388.04Q576.6 385.56 576.87 382.89Q577.15 380.22 578.48 377.96Q579.8 375.7 581.92 375.21Q584.03 374.72 586.01 375.22Q587.99 375.72 589.53 377.3Q591.08 378.88 592.1 381.03Q593.12 383.18 593.68 385.78Q594.24 388.37 593.76 391.16Q593.29 393.95 591.25 394.97Z" fill="#dca8a0"/>
<clipPath id="cl55"><path d="M591.25 394.97Q589.21 395.98 587.6 397.65Q585.99 399.31 583.88 399.13Q581.78 398.95 580.06 397.32Q578.34 395.69 577.72 393.1Q577.1 390.51 576.85 388.04Q576.6 385.56 576.87 382.89Q577.15 380.22 578.48 377.96Q579.8 375.7 581.92 375.21Q584.03 374.72 586.01 375.22Q587.99 375.72 589.53 377.3Q591.08 378.88 592.1 381.03Q593.12 383.18 593.68 385.78Q594.24 388.37 593.76 391.16Q593.29 393.95 591.25 394.97Z"/></clipPath><g clip-path="url(#cl55)">
<g filter="url(#blurU)">
<circle cx="579.2" cy="390.61" r="0.88" fill="#cc7478" opacity="0.6"/>
<circle cx="584.61" cy="398.38" r="2.27" fill="#f4e2d6" opacity="0.6"/>
<circle cx="577.72" cy="382.3" r="1.59" fill="#f0d4c8" opacity="0.6"/>
<circle cx="591" cy="391.88" r="1.21" fill="#d48c8c" opacity="0.6"/>
<circle cx="585.52" cy="379.4" r="1.49" fill="#c65a66" opacity="0.6"/>
<circle cx="592.99" cy="387.46" r="1.45" fill="#d48c8c" opacity="0.6"/>
<circle cx="582.43" cy="390.93" r="1.16" fill="#d48c8c" opacity="0.6"/>
<circle cx="587.51" cy="392.5" r="1.72" fill="#e8c0b4" opacity="0.6"/>
<circle cx="583.99" cy="390.92" r="2.29" fill="#cc7478" opacity="0.6"/>
<circle cx="588.08" cy="378.9" r="1.02" fill="#cc7478" opacity="0.6"/>
<circle cx="588.43" cy="376.8" r="0.92" fill="#c65a66" opacity="0.6"/>
<circle cx="583.64" cy="381.18" r="1.36" fill="#c65a66" opacity="0.6"/>
<circle cx="589.89" cy="390.7" r="1.83" fill="#d48c8c" opacity="0.6"/>
<circle cx="589.09" cy="389.41" r="1.06" fill="#c65a66" opacity="0.6"/>
<circle cx="586.05" cy="395.57" r="2.03" fill="#d48c8c" opacity="0.6"/>
<circle cx="583.62" cy="384.79" r="2.46" fill="#e8c0b4" opacity="0.6"/>
<circle cx="584.24" cy="379.97" r="1.47" fill="#d48c8c" opacity="0.6"/>
<circle cx="579.95" cy="395.79" r="0.87" fill="#f0d4c8" opacity="0.6"/>
<circle cx="584.08" cy="381.79" r="1.78" fill="#c65a66" opacity="0.6"/>
<circle cx="583.35" cy="395.16" r="2.14" fill="#c65a66" opacity="0.6"/>
<circle cx="587.19" cy="397.91" r="1.18" fill="#e8c0b4" opacity="0.6"/>
<circle cx="587.25" cy="398.21" r="1.73" fill="#c65a66" opacity="0.6"/>
</g>
<path d="M591.25 394.97Q589.21 395.98 587.6 397.65Q585.99 399.31 583.88 399.13Q581.78 398.95 580.06 397.32Q578.34 395.69 577.72 393.1Q577.1 390.51 576.85 388.04Q576.6 385.56 576.87 382.89Q577.15 380.22 578.48 377.96Q579.8 375.7 581.92 375.21Q584.03 374.72 586.01 375.22Q587.99 375.72 589.53 377.3Q591.08 378.88 592.1 381.03Q593.12 383.18 593.68 385.78Q594.24 388.37 593.76 391.16Q593.29 393.95 591.25 394.97Z" fill="none" stroke="#6e1c2c" stroke-width="1.47" opacity="0.4" transform="translate(0.5 0.5)"/>
</g>
<ellipse cx="614.24" cy="388.98" rx="9.5" ry="9.81" fill="#0e2a6e" opacity="0.7" filter="url(#blurS)"/>
<path d="M618.39 387.25Q618.27 389.74 617.36 392Q616.44 394.26 614.83 396.12Q613.23 397.98 610.92 398.87Q608.62 399.77 606.53 398.39Q604.43 397 602.95 395.31Q601.46 393.61 600.4 391.57Q599.35 389.52 599.75 387.23Q600.15 384.93 600.43 382.43Q600.72 379.92 602.32 377.88Q603.93 375.83 606.35 376.36Q608.77 376.9 611.06 376.71Q613.35 376.51 614.63 378.67Q615.9 380.83 617.21 382.79Q618.52 384.76 618.39 387.25Z" fill="#b04a58"/>
<clipPath id="cl56"><path d="M618.39 387.25Q618.27 389.74 617.36 392Q616.44 394.26 614.83 396.12Q613.23 397.98 610.92 398.87Q608.62 399.77 606.53 398.39Q604.43 397 602.95 395.31Q601.46 393.61 600.4 391.57Q599.35 389.52 599.75 387.23Q600.15 384.93 600.43 382.43Q600.72 379.92 602.32 377.88Q603.93 375.83 606.35 376.36Q608.77 376.9 611.06 376.71Q613.35 376.51 614.63 378.67Q615.9 380.83 617.21 382.79Q618.52 384.76 618.39 387.25Z"/></clipPath><g clip-path="url(#cl56)">
<g filter="url(#blurU)">
<circle cx="615.38" cy="383.64" r="2.49" fill="#e4b8ae" opacity="0.6"/>
<circle cx="614.23" cy="384.17" r="1.34" fill="#dca0a0" opacity="0.6"/>
<circle cx="603.15" cy="381.69" r="1.33" fill="#e4b8ae" opacity="0.6"/>
<circle cx="601.69" cy="394.16" r="2.73" fill="#c8707a" opacity="0.6"/>
<circle cx="604.55" cy="386.45" r="1.22" fill="#dca0a0" opacity="0.6"/>
<circle cx="600.78" cy="387.38" r="2.44" fill="#c8707a" opacity="0.6"/>
<circle cx="614.57" cy="388.67" r="2.48" fill="#a83848" opacity="0.6"/>
<circle cx="605.63" cy="386.63" r="1.8" fill="#e4b8ae" opacity="0.6"/>
<circle cx="603.1" cy="394.87" r="2.1" fill="#dca0a0" opacity="0.6"/>
<circle cx="600.9" cy="384.35" r="3" fill="#c05a66" opacity="0.6"/>
<circle cx="612.41" cy="396.19" r="1.23" fill="#e4b8ae" opacity="0.6"/>
<circle cx="610.05" cy="391.1" r="1.98" fill="#8e2a38" opacity="0.6"/>
<circle cx="610.15" cy="386.19" r="2.92" fill="#8e2a38" opacity="0.6"/>
<circle cx="612.38" cy="393.99" r="3.07" fill="#c8707a" opacity="0.6"/>
<circle cx="614.2" cy="379.08" r="2.74" fill="#a83848" opacity="0.6"/>
<circle cx="608.8" cy="389.86" r="2.39" fill="#e4b8ae" opacity="0.6"/>
<circle cx="601.19" cy="385.12" r="2.43" fill="#c8707a" opacity="0.6"/>
<circle cx="606.94" cy="383.65" r="2.46" fill="#dca0a0" opacity="0.6"/>
<circle cx="601.51" cy="384.91" r="2.4" fill="#a83848" opacity="0.6"/>
<circle cx="607.62" cy="385.29" r="2.51" fill="#c05a66" opacity="0.6"/>
<circle cx="608.19" cy="395.14" r="1.5" fill="#c8707a" opacity="0.6"/>
<circle cx="607.64" cy="383.06" r="3.07" fill="#a83848" opacity="0.6"/>
<circle cx="617.21" cy="384.26" r="3.21" fill="#c8707a" opacity="0.6"/>
<circle cx="601.75" cy="392.53" r="1.39" fill="#dca0a0" opacity="0.6"/>
</g>
<path d="M618.39 387.25Q618.27 389.74 617.36 392Q616.44 394.26 614.83 396.12Q613.23 397.98 610.92 398.87Q608.62 399.77 606.53 398.39Q604.43 397 602.95 395.31Q601.46 393.61 600.4 391.57Q599.35 389.52 599.75 387.23Q600.15 384.93 600.43 382.43Q600.72 379.92 602.32 377.88Q603.93 375.83 606.35 376.36Q608.77 376.9 611.06 376.71Q613.35 376.51 614.63 378.67Q615.9 380.83 617.21 382.79Q618.52 384.76 618.39 387.25Z" fill="none" stroke="#6e1c2c" stroke-width="1.65" opacity="0.4" transform="translate(0.5 0.5)"/>
</g>
<ellipse cx="633.4" cy="391.68" rx="6.86" ry="8.71" fill="#0e2a6e" opacity="0.7" filter="url(#blurS)"/>
<path d="M635.29 394.28Q634.12 395.79 633.18 397.51Q632.23 399.23 630.64 400.22Q629.06 401.22 627.63 399.78Q626.21 398.35 624.56 397.5Q622.91 396.65 622.52 394.3Q622.12 391.95 621.97 389.59Q621.82 387.22 623.25 385.82Q624.68 384.41 625.54 382.43Q626.4 380.45 628.06 380.31Q629.71 380.17 631.29 380.65Q632.87 381.14 633.93 382.79Q634.99 384.45 636.15 386.27Q637.3 388.09 636.88 390.43Q636.46 392.78 635.29 394.28Z" fill="#dca8a0"/>
<clipPath id="cl57"><path d="M635.29 394.28Q634.12 395.79 633.18 397.51Q632.23 399.23 630.64 400.22Q629.06 401.22 627.63 399.78Q626.21 398.35 624.56 397.5Q622.91 396.65 622.52 394.3Q622.12 391.95 621.97 389.59Q621.82 387.22 623.25 385.82Q624.68 384.41 625.54 382.43Q626.4 380.45 628.06 380.31Q629.71 380.17 631.29 380.65Q632.87 381.14 633.93 382.79Q634.99 384.45 636.15 386.27Q637.3 388.09 636.88 390.43Q636.46 392.78 635.29 394.28Z"/></clipPath><g clip-path="url(#cl57)">
<g filter="url(#blurU)">
<circle cx="625.99" cy="383.12" r="1.47" fill="#cc7478" opacity="0.6"/>
<circle cx="629.25" cy="398.06" r="1.61" fill="#e8c0b4" opacity="0.6"/>
<circle cx="632.81" cy="395.77" r="2.02" fill="#e8c0b4" opacity="0.6"/>
<circle cx="634.08" cy="387.26" r="1.65" fill="#e8c0b4" opacity="0.6"/>
<circle cx="626" cy="395.44" r="1.05" fill="#e8c0b4" opacity="0.6"/>
<circle cx="632.47" cy="387.06" r="1.02" fill="#cc7478" opacity="0.6"/>
<circle cx="624.01" cy="392.72" r="0.68" fill="#d48c8c" opacity="0.6"/>
<circle cx="625.11" cy="395.12" r="1.52" fill="#d48c8c" opacity="0.6"/>
<circle cx="634.08" cy="392.01" r="0.69" fill="#f4e2d6" opacity="0.6"/>
<circle cx="633.31" cy="390.11" r="1.27" fill="#c65a66" opacity="0.6"/>
<circle cx="626.36" cy="387.24" r="1.79" fill="#d48c8c" opacity="0.6"/>
<circle cx="633.19" cy="396.26" r="1.12" fill="#d48c8c" opacity="0.6"/>
<circle cx="631.33" cy="394.36" r="1.07" fill="#d48c8c" opacity="0.6"/>
<circle cx="628.14" cy="389.36" r="2.29" fill="#f0d4c8" opacity="0.6"/>
<circle cx="633.27" cy="391.57" r="0.91" fill="#cc7478" opacity="0.6"/>
</g>
<path d="M635.29 394.28Q634.12 395.79 633.18 397.51Q632.23 399.23 630.64 400.22Q629.06 401.22 627.63 399.78Q626.21 398.35 624.56 397.5Q622.91 396.65 622.52 394.3Q622.12 391.95 621.97 389.59Q621.82 387.22 623.25 385.82Q624.68 384.41 625.54 382.43Q626.4 380.45 628.06 380.31Q629.71 380.17 631.29 380.65Q632.87 381.14 633.93 382.79Q634.99 384.45 636.15 386.27Q637.3 388.09 636.88 390.43Q636.46 392.78 635.29 394.28Z" fill="none" stroke="#6e1c2c" stroke-width="1.19" opacity="0.4" transform="translate(0.5 0.5)"/>
</g>
<ellipse cx="431.52" cy="403.71" rx="2.26" ry="2.24" fill="#0e2a6e" opacity="0.49" filter="url(#blurS)"/>
<path d="M432.29 402.5Q432.51 403 432.36 403.52Q432.21 404.04 432.15 404.68Q432.09 405.32 431.51 405.4Q430.92 405.48 430.44 405.72Q429.95 405.95 429.44 405.74Q428.94 405.53 428.52 405.14Q428.11 404.75 428.02 404.18Q427.92 403.6 427.98 403.05Q428.04 402.5 428.31 402.03Q428.57 401.56 429.03 401.36Q429.49 401.17 429.96 401.02Q430.43 400.88 430.9 401.07Q431.36 401.26 431.72 401.63Q432.07 402 432.29 402.5Z" fill="#dca8a0"/>
<clipPath id="cl70"><path d="M432.29 402.5Q432.51 403 432.36 403.52Q432.21 404.04 432.15 404.68Q432.09 405.32 431.51 405.4Q430.92 405.48 430.44 405.72Q429.95 405.95 429.44 405.74Q428.94 405.53 428.52 405.14Q428.11 404.75 428.02 404.18Q427.92 403.6 427.98 403.05Q428.04 402.5 428.31 402.03Q428.57 401.56 429.03 401.36Q429.49 401.17 429.96 401.02Q430.43 400.88 430.9 401.07Q431.36 401.26 431.72 401.63Q432.07 402 432.29 402.5Z"/></clipPath><g clip-path="url(#cl70)">
<g filter="url(#blurU)">
<circle cx="430.5" cy="401.63" r="0.62" fill="#f0d4c8" opacity="0.6"/>
<circle cx="428.95" cy="403.38" r="0.53" fill="#e8c0b4" opacity="0.6"/>
<circle cx="428.24" cy="403.98" r="1.15" fill="#f0d4c8" opacity="0.6"/>
<circle cx="431.29" cy="401.51" r="0.67" fill="#f0d4c8" opacity="0.6"/>
<circle cx="431.22" cy="402.79" r="1.54" fill="#f0d4c8" opacity="0.6"/>
</g>
<path d="M432.29 402.5Q432.51 403 432.36 403.52Q432.21 404.04 432.15 404.68Q432.09 405.32 431.51 405.4Q430.92 405.48 430.44 405.72Q429.95 405.95 429.44 405.74Q428.94 405.53 428.52 405.14Q428.11 404.75 428.02 404.18Q427.92 403.6 427.98 403.05Q428.04 402.5 428.31 402.03Q428.57 401.56 429.03 401.36Q429.49 401.17 429.96 401.02Q430.43 400.88 430.9 401.07Q431.36 401.26 431.72 401.63Q432.07 402 432.29 402.5Z" fill="none" stroke="#6e1c2c" stroke-width="0.7" opacity="0.4" transform="translate(0.5 0.5)"/>
</g>
<ellipse cx="466.56" cy="403.08" rx="4.22" ry="3.74" fill="#0e2a6e" opacity="0.49" filter="url(#blurS)"/>
<path d="M461.57 405.5Q461.07 404.67 460.16 404.04Q459.26 403.4 459.36 402.36Q459.47 401.31 459.86 400.33Q460.26 399.36 461.31 399.07Q462.36 398.78 463.26 398.63Q464.16 398.48 465 398.76Q465.84 399.04 466.57 399.52Q467.3 400 467.59 400.81Q467.87 401.62 468.23 402.54Q468.59 403.45 467.99 404.23Q467.38 405 466.75 405.79Q466.11 406.57 465.07 406.75Q464.04 406.94 463.06 406.63Q462.08 406.32 461.57 405.5Z" fill="#dca8a0"/>
<clipPath id="cl71"><path d="M461.57 405.5Q461.07 404.67 460.16 404.04Q459.26 403.4 459.36 402.36Q459.47 401.31 459.86 400.33Q460.26 399.36 461.31 399.07Q462.36 398.78 463.26 398.63Q464.16 398.48 465 398.76Q465.84 399.04 466.57 399.52Q467.3 400 467.59 400.81Q467.87 401.62 468.23 402.54Q468.59 403.45 467.99 404.23Q467.38 405 466.75 405.79Q466.11 406.57 465.07 406.75Q464.04 406.94 463.06 406.63Q462.08 406.32 461.57 405.5Z"/></clipPath><g clip-path="url(#cl71)">
<g filter="url(#blurU)">
<circle cx="463.05" cy="403.81" r="1.29" fill="#c65a66" opacity="0.6"/>
<circle cx="461.53" cy="404.49" r="0.92" fill="#e8c0b4" opacity="0.6"/>
<circle cx="465.54" cy="399.93" r="1.77" fill="#f0d4c8" opacity="0.6"/>
<circle cx="462.97" cy="400.58" r="0.7" fill="#e8c0b4" opacity="0.6"/>
<circle cx="465.56" cy="398.69" r="0.89" fill="#c65a66" opacity="0.6"/>
</g>
<path d="M461.57 405.5Q461.07 404.67 460.16 404.04Q459.26 403.4 459.36 402.36Q459.47 401.31 459.86 400.33Q460.26 399.36 461.31 399.07Q462.36 398.78 463.26 398.63Q464.16 398.48 465 398.76Q465.84 399.04 466.57 399.52Q467.3 400 467.59 400.81Q467.87 401.62 468.23 402.54Q468.59 403.45 467.99 404.23Q467.38 405 466.75 405.79Q466.11 406.57 465.07 406.75Q464.04 406.94 463.06 406.63Q462.08 406.32 461.57 405.5Z" fill="none" stroke="#6e1c2c" stroke-width="0.73" opacity="0.4" transform="translate(0.5 0.5)"/>
</g>
<ellipse cx="499.97" cy="403.84" rx="2.69" ry="2.99" fill="#0e2a6e" opacity="0.49" filter="url(#blurS)"/>
<path d="M500.65 405.59Q500.34 406.33 499.65 406.41Q498.97 406.49 498.35 406.57Q497.74 406.64 497.21 406.24Q496.69 405.85 496.19 405.34Q495.7 404.83 495.58 404.04Q495.47 403.26 495.65 402.5Q495.83 401.75 496.15 401.02Q496.47 400.28 497.12 400.04Q497.78 399.8 498.4 399.97Q499.03 400.13 499.57 400.44Q500.12 400.75 500.57 401.28Q501.03 401.81 501.18 402.58Q501.34 403.34 501.15 404.1Q500.97 404.85 500.65 405.59Z" fill="#b04a58"/>
<clipPath id="cl72"><path d="M500.65 405.59Q500.34 406.33 499.65 406.41Q498.97 406.49 498.35 406.57Q497.74 406.64 497.21 406.24Q496.69 405.85 496.19 405.34Q495.7 404.83 495.58 404.04Q495.47 403.26 495.65 402.5Q495.83 401.75 496.15 401.02Q496.47 400.28 497.12 400.04Q497.78 399.8 498.4 399.97Q499.03 400.13 499.57 400.44Q500.12 400.75 500.57 401.28Q501.03 401.81 501.18 402.58Q501.34 403.34 501.15 404.1Q500.97 404.85 500.65 405.59Z"/></clipPath><g clip-path="url(#cl72)">
<g filter="url(#blurU)">
<circle cx="498.84" cy="406.31" r="0.59" fill="#e4b8ae" opacity="0.6"/>
<circle cx="497.84" cy="405.62" r="0.52" fill="#c05a66" opacity="0.6"/>
<circle cx="497.18" cy="404.15" r="0.98" fill="#8e2a38" opacity="0.6"/>
<circle cx="497.03" cy="404.99" r="0.95" fill="#dca0a0" opacity="0.6"/>
<circle cx="497.2" cy="403.32" r="1.68" fill="#e4b8ae" opacity="0.6"/>
</g>
<path d="M500.65 405.59Q500.34 406.33 499.65 406.41Q498.97 406.49 498.35 406.57Q497.74 406.64 497.21 406.24Q496.69 405.85 496.19 405.34Q495.7 404.83 495.58 404.04Q495.47 403.26 495.65 402.5Q495.83 401.75 496.15 401.02Q496.47 400.28 497.12 400.04Q497.78 399.8 498.4 399.97Q499.03 400.13 499.57 400.44Q500.12 400.75 500.57 401.28Q501.03 401.81 501.18 402.58Q501.34 403.34 501.15 404.1Q500.97 404.85 500.65 405.59Z" fill="none" stroke="#6e1c2c" stroke-width="0.7" opacity="0.4" transform="translate(0.5 0.5)"/>
</g>
<ellipse cx="532.28" cy="404.86" rx="2.88" ry="3.08" fill="#0e2a6e" opacity="0.49" filter="url(#blurS)"/>
<path d="M529.42 407.45Q528.79 407.16 528.38 406.54Q527.98 405.92 527.75 405.18Q527.53 404.44 527.7 403.67Q527.86 402.91 528.25 402.27Q528.63 401.64 529.26 401.41Q529.88 401.18 530.49 401.2Q531.1 401.21 531.68 401.44Q532.27 401.66 532.86 402.1Q533.44 402.54 533.34 403.36Q533.23 404.18 533.24 404.91Q533.24 405.64 532.88 406.27Q532.52 406.9 531.95 407.31Q531.39 407.73 530.72 407.73Q530.04 407.74 529.42 407.45Z" fill="#b04a58"/>
<clipPath id="cl73"><path d="M529.42 407.45Q528.79 407.16 528.38 406.54Q527.98 405.92 527.75 405.18Q527.53 404.44 527.7 403.67Q527.86 402.91 528.25 402.27Q528.63 401.64 529.26 401.41Q529.88 401.18 530.49 401.2Q531.1 401.21 531.68 401.44Q532.27 401.66 532.86 402.1Q533.44 402.54 533.34 403.36Q533.23 404.18 533.24 404.91Q533.24 405.64 532.88 406.27Q532.52 406.9 531.95 407.31Q531.39 407.73 530.72 407.73Q530.04 407.74 529.42 407.45Z"/></clipPath><g clip-path="url(#cl73)">
<g filter="url(#blurU)">
<circle cx="528.06" cy="405.61" r="1.24" fill="#8e2a38" opacity="0.6"/>
<circle cx="531.43" cy="407.43" r="1.1" fill="#c8707a" opacity="0.6"/>
<circle cx="531.44" cy="401.16" r="0.8" fill="#dca0a0" opacity="0.6"/>
<circle cx="531.15" cy="407.37" r="1.71" fill="#8e2a38" opacity="0.6"/>
<circle cx="529.85" cy="401.05" r="1.16" fill="#dca0a0" opacity="0.6"/>
</g>
<path d="M529.42 407.45Q528.79 407.16 528.38 406.54Q527.98 405.92 527.75 405.18Q527.53 404.44 527.7 403.67Q527.86 402.91 528.25 402.27Q528.63 401.64 529.26 401.41Q529.88 401.18 530.49 401.2Q531.1 401.21 531.68 401.44Q532.27 401.66 532.86 402.1Q533.44 402.54 533.34 403.36Q533.23 404.18 533.24 404.91Q533.24 405.64 532.88 406.27Q532.52 406.9 531.95 407.31Q531.39 407.73 530.72 407.73Q530.04 407.74 529.42 407.45Z" fill="none" stroke="#6e1c2c" stroke-width="0.7" opacity="0.4" transform="translate(0.5 0.5)"/>
</g>
<ellipse cx="559.42" cy="406.06" rx="3.46" ry="3.08" fill="#0e2a6e" opacity="0.49" filter="url(#blurS)"/>
<path d="M560.01 403.48Q560.34 404.17 560.49 404.86Q560.64 405.54 560.55 406.26Q560.46 406.98 560.14 407.76Q559.82 408.54 559.03 408.92Q558.24 409.31 557.41 409.04Q556.58 408.77 555.87 408.47Q555.15 408.17 554.66 407.56Q554.17 406.96 553.79 406.2Q553.4 405.45 553.81 404.7Q554.22 403.96 554.76 403.41Q555.3 402.87 555.97 402.47Q556.65 402.08 557.39 402.31Q558.14 402.54 558.92 402.66Q559.69 402.78 560.01 403.48Z" fill="#dca8a0"/>
<clipPath id="cl74"><path d="M560.01 403.48Q560.34 404.17 560.49 404.86Q560.64 405.54 560.55 406.26Q560.46 406.98 560.14 407.76Q559.82 408.54 559.03 408.92Q558.24 409.31 557.41 409.04Q556.58 408.77 555.87 408.47Q555.15 408.17 554.66 407.56Q554.17 406.96 553.79 406.2Q553.4 405.45 553.81 404.7Q554.22 403.96 554.76 403.41Q555.3 402.87 555.97 402.47Q556.65 402.08 557.39 402.31Q558.14 402.54 558.92 402.66Q559.69 402.78 560.01 403.48Z"/></clipPath><g clip-path="url(#cl74)">
<g filter="url(#blurU)">
<circle cx="556.12" cy="405.39" r="1.07" fill="#e8c0b4" opacity="0.6"/>
<circle cx="559.63" cy="404.84" r="0.83" fill="#c65a66" opacity="0.6"/>
<circle cx="556.17" cy="403.52" r="1.78" fill="#f4e2d6" opacity="0.6"/>
<circle cx="559.61" cy="402.91" r="0.57" fill="#f4e2d6" opacity="0.6"/>
<circle cx="558.11" cy="408.78" r="0.53" fill="#f0d4c8" opacity="0.6"/>
</g>
<path d="M560.01 403.48Q560.34 404.17 560.49 404.86Q560.64 405.54 560.55 406.26Q560.46 406.98 560.14 407.76Q559.82 408.54 559.03 408.92Q558.24 409.31 557.41 409.04Q556.58 408.77 555.87 408.47Q555.15 408.17 554.66 407.56Q554.17 406.96 553.79 406.2Q553.4 405.45 553.81 404.7Q554.22 403.96 554.76 403.41Q555.3 402.87 555.97 402.47Q556.65 402.08 557.39 402.31Q558.14 402.54 558.92 402.66Q559.69 402.78 560.01 403.48Z" fill="none" stroke="#6e1c2c" stroke-width="0.7" opacity="0.4" transform="translate(0.5 0.5)"/>
</g>
<ellipse cx="582.64" cy="405.54" rx="2.98" ry="2.95" fill="#0e2a6e" opacity="0.49" filter="url(#blurS)"/>
<path d="M578.1 405.3Q578.2 404.59 578.17 403.8Q578.14 403.01 578.69 402.5Q579.25 401.99 579.94 401.75Q580.62 401.51 581.31 401.7Q581.99 401.89 582.62 402.24Q583.25 402.59 583.7 403.23Q584.15 403.88 584.13 404.68Q584.12 405.49 583.75 406.13Q583.38 406.78 583.01 407.48Q582.64 408.18 581.9 408.18Q581.15 408.18 580.54 407.99Q579.92 407.79 579.36 407.47Q578.8 407.16 578.4 406.58Q578 406.01 578.1 405.3Z" fill="#b04a58"/>
<clipPath id="cl75"><path d="M578.1 405.3Q578.2 404.59 578.17 403.8Q578.14 403.01 578.69 402.5Q579.25 401.99 579.94 401.75Q580.62 401.51 581.31 401.7Q581.99 401.89 582.62 402.24Q583.25 402.59 583.7 403.23Q584.15 403.88 584.13 404.68Q584.12 405.49 583.75 406.13Q583.38 406.78 583.01 407.48Q582.64 408.18 581.9 408.18Q581.15 408.18 580.54 407.99Q579.92 407.79 579.36 407.47Q578.8 407.16 578.4 406.58Q578 406.01 578.1 405.3Z"/></clipPath><g clip-path="url(#cl75)">
<g filter="url(#blurU)">
<circle cx="578.02" cy="405.07" r="1.29" fill="#8e2a38" opacity="0.6"/>
<circle cx="578.93" cy="405.19" r="1.77" fill="#e4b8ae" opacity="0.6"/>
<circle cx="579.01" cy="404" r="0.76" fill="#c05a66" opacity="0.6"/>
<circle cx="581.29" cy="406.2" r="1.75" fill="#e4b8ae" opacity="0.6"/>
<circle cx="581.93" cy="406.99" r="1.79" fill="#8e2a38" opacity="0.6"/>
</g>
<path d="M578.1 405.3Q578.2 404.59 578.17 403.8Q578.14 403.01 578.69 402.5Q579.25 401.99 579.94 401.75Q580.62 401.51 581.31 401.7Q581.99 401.89 582.62 402.24Q583.25 402.59 583.7 403.23Q584.15 403.88 584.13 404.68Q584.12 405.49 583.75 406.13Q583.38 406.78 583.01 407.48Q582.64 408.18 581.9 408.18Q581.15 408.18 580.54 407.99Q579.92 407.79 579.36 407.47Q578.8 407.16 578.4 406.58Q578 406.01 578.1 405.3Z" fill="none" stroke="#6e1c2c" stroke-width="0.7" opacity="0.4" transform="translate(0.5 0.5)"/>
</g>
<ellipse cx="604.84" cy="405.44" rx="1.44" ry="1.32" fill="#0e2a6e" opacity="0.49" filter="url(#blurS)"/>
<path d="M602.78 406.06Q602.71 405.69 602.65 405.39Q602.58 405.08 602.66 404.77Q602.73 404.46 602.98 404.25Q603.22 404.04 603.51 403.92Q603.8 403.79 604.15 403.72Q604.49 403.64 604.76 403.88Q605.03 404.11 605.14 404.42Q605.25 404.72 605.44 405.03Q605.63 405.34 605.42 405.62Q605.2 405.91 605.05 406.22Q604.9 406.54 604.54 406.53Q604.19 406.52 603.86 406.6Q603.53 406.69 603.19 406.55Q602.85 406.42 602.78 406.06Z" fill="#b04a58"/>
<clipPath id="cl76"><path d="M602.78 406.06Q602.71 405.69 602.65 405.39Q602.58 405.08 602.66 404.77Q602.73 404.46 602.98 404.25Q603.22 404.04 603.51 403.92Q603.8 403.79 604.15 403.72Q604.49 403.64 604.76 403.88Q605.03 404.11 605.14 404.42Q605.25 404.72 605.44 405.03Q605.63 405.34 605.42 405.62Q605.2 405.91 605.05 406.22Q604.9 406.54 604.54 406.53Q604.19 406.52 603.86 406.6Q603.53 406.69 603.19 406.55Q602.85 406.42 602.78 406.06Z"/></clipPath><g clip-path="url(#cl76)">
<g filter="url(#blurU)">
<circle cx="603.01" cy="404.57" r="1.47" fill="#e4b8ae" opacity="0.6"/>
<circle cx="603.5" cy="406.08" r="1.36" fill="#c8707a" opacity="0.6"/>
<circle cx="604.51" cy="404.91" r="1.33" fill="#dca0a0" opacity="0.6"/>
<circle cx="604.04" cy="404.76" r="0.89" fill="#c05a66" opacity="0.6"/>
<circle cx="602.77" cy="404.54" r="0.64" fill="#a83848" opacity="0.6"/>
</g>
<path d="M602.78 406.06Q602.71 405.69 602.65 405.39Q602.58 405.08 602.66 404.77Q602.73 404.46 602.98 404.25Q603.22 404.04 603.51 403.92Q603.8 403.79 604.15 403.72Q604.49 403.64 604.76 403.88Q605.03 404.11 605.14 404.42Q605.25 404.72 605.44 405.03Q605.63 405.34 605.42 405.62Q605.2 405.91 605.05 406.22Q604.9 406.54 604.54 406.53Q604.19 406.52 603.86 406.6Q603.53 406.69 603.19 406.55Q602.85 406.42 602.78 406.06Z" fill="none" stroke="#6e1c2c" stroke-width="0.7" opacity="0.4" transform="translate(0.5 0.5)"/>
</g>
<ellipse cx="625.9" cy="407.07" rx="2.4" ry="2.6" fill="#0e2a6e" opacity="0.49" filter="url(#blurS)"/>
<path d="M625.66 404.26Q626.1 404.6 626.56 405.02Q627.03 405.45 626.89 406.13Q626.74 406.82 626.69 407.45Q626.64 408.08 626.28 408.58Q625.92 409.09 625.39 409.35Q624.87 409.6 624.34 409.38Q623.82 409.15 623.27 408.99Q622.73 408.82 622.45 408.24Q622.17 407.66 621.97 407Q621.78 406.34 622.19 405.81Q622.61 405.29 622.77 404.58Q622.94 403.86 623.56 403.89Q624.17 403.93 624.7 403.92Q625.22 403.91 625.66 404.26Z" fill="#dca8a0"/>
<clipPath id="cl77"><path d="M625.66 404.26Q626.1 404.6 626.56 405.02Q627.03 405.45 626.89 406.13Q626.74 406.82 626.69 407.45Q626.64 408.08 626.28 408.58Q625.92 409.09 625.39 409.35Q624.87 409.6 624.34 409.38Q623.82 409.15 623.27 408.99Q622.73 408.82 622.45 408.24Q622.17 407.66 621.97 407Q621.78 406.34 622.19 405.81Q622.61 405.29 622.77 404.58Q622.94 403.86 623.56 403.89Q624.17 403.93 624.7 403.92Q625.22 403.91 625.66 404.26Z"/></clipPath><g clip-path="url(#cl77)">
<g filter="url(#blurU)">
<circle cx="625.19" cy="404.66" r="0.74" fill="#d48c8c" opacity="0.6"/>
<circle cx="624.18" cy="407.38" r="1.19" fill="#c65a66" opacity="0.6"/>
<circle cx="624.81" cy="407.84" r="1.6" fill="#f0d4c8" opacity="0.6"/>
<circle cx="623.73" cy="403.95" r="1.42" fill="#f4e2d6" opacity="0.6"/>
<circle cx="626.53" cy="407.85" r="1.46" fill="#cc7478" opacity="0.6"/>
</g>
<path d="M625.66 404.26Q626.1 404.6 626.56 405.02Q627.03 405.45 626.89 406.13Q626.74 406.82 626.69 407.45Q626.64 408.08 626.28 408.58Q625.92 409.09 625.39 409.35Q624.87 409.6 624.34 409.38Q623.82 409.15 623.27 408.99Q622.73 408.82 622.45 408.24Q622.17 407.66 621.97 407Q621.78 406.34 622.19 405.81Q622.61 405.29 622.77 404.58Q622.94 403.86 623.56 403.89Q624.17 403.93 624.7 403.92Q625.22 403.91 625.66 404.26Z" fill="none" stroke="#6e1c2c" stroke-width="0.7" opacity="0.4" transform="translate(0.5 0.5)"/>
</g>
<g>
<path d="M414.4 414.1L639.6 414.1V420.2H414.4Z" fill="#a4b6dc" opacity="0.7"/>
<line x1="414.8" y1="414.7" x2="414.8" y2="419.9" stroke="#5d6f98" stroke-width="0.35" opacity="0.2"/>
<line x1="416.18" y1="414.7" x2="416.18" y2="419.9" stroke="#5d6f98" stroke-width="0.35" opacity="0.21"/>
<line x1="418.36" y1="414.7" x2="418.36" y2="419.9" stroke="#5d6f98" stroke-width="0.35" opacity="0.21"/>
<line x1="419.58" y1="414.7" x2="419.58" y2="419.9" stroke="#5d6f98" stroke-width="0.35" opacity="0.32"/>
<line x1="421.34" y1="414.7" x2="421.34" y2="419.9" stroke="#5d6f98" stroke-width="0.35" opacity="0.38"/>
<line x1="422.89" y1="414.7" x2="422.89" y2="419.9" stroke="#5d6f98" stroke-width="0.35" opacity="0.26"/>
<line x1="424.61" y1="414.7" x2="424.61" y2="419.9" stroke="#5d6f98" stroke-width="0.35" opacity="0.2"/>
<line x1="426.5" y1="414.7" x2="426.5" y2="419.9" stroke="#5d6f98" stroke-width="0.35" opacity="0.24"/>
<line x1="427.59" y1="414.7" x2="427.59" y2="419.9" stroke="#5d6f98" stroke-width="0.35" opacity="0.32"/>
<line x1="428.95" y1="414.7" x2="428.95" y2="419.9" stroke="#5d6f98" stroke-width="0.35" opacity="0.32"/>
<line x1="431.25" y1="414.7" x2="431.25" y2="419.9" stroke="#5d6f98" stroke-width="0.35" opacity="0.23"/>
<line x1="432.95" y1="414.7" x2="432.95" y2="419.9" stroke="#5d6f98" stroke-width="0.35" opacity="0.28"/>
<line x1="434.37" y1="414.7" x2="434.37" y2="419.9" stroke="#5d6f98" stroke-width="0.35" opacity="0.27"/>
<line x1="435.6" y1="414.7" x2="435.6" y2="419.9" stroke="#5d6f98" stroke-width="0.35" opacity="0.22"/>
<line x1="436.81" y1="414.7" x2="436.81" y2="419.9" stroke="#5d6f98" stroke-width="0.35" opacity="0.2"/>
<line x1="439.39" y1="414.7" x2="439.39" y2="419.9" stroke="#5d6f98" stroke-width="0.35" opacity="0.28"/>
<line x1="440.46" y1="414.7" x2="440.46" y2="419.9" stroke="#5d6f98" stroke-width="0.35" opacity="0.38"/>
<line x1="442.21" y1="414.7" x2="442.21" y2="419.9" stroke="#5d6f98" stroke-width="0.35" opacity="0.39"/>
<line x1="443.56" y1="414.7" x2="443.56" y2="419.9" stroke="#5d6f98" stroke-width="0.35" opacity="0.2"/>
<line x1="445.72" y1="414.7" x2="445.72" y2="419.9" stroke="#5d6f98" stroke-width="0.35" opacity="0.19"/>
<line x1="447.19" y1="414.7" x2="447.19" y2="419.9" stroke="#5d6f98" stroke-width="0.35" opacity="0.3"/>
<line x1="448.98" y1="414.7" x2="448.98" y2="419.9" stroke="#5d6f98" stroke-width="0.35" opacity="0.39"/>
<line x1="450.26" y1="414.7" x2="450.26" y2="419.9" stroke="#5d6f98" stroke-width="0.35" opacity="0.16"/>
<line x1="451.22" y1="414.7" x2="451.22" y2="419.9" stroke="#5d6f98" stroke-width="0.35" opacity="0.27"/>
<line x1="453.62" y1="414.7" x2="453.62" y2="419.9" stroke="#5d6f98" stroke-width="0.35" opacity="0.17"/>
<line x1="454.83" y1="414.7" x2="454.83" y2="419.9" stroke="#5d6f98" stroke-width="0.35" opacity="0.17"/>
<line x1="456.31" y1="414.7" x2="456.31" y2="419.9" stroke="#5d6f98" stroke-width="0.35" opacity="0.15"/>
<line x1="457.93" y1="414.7" x2="457.93" y2="419.9" stroke="#5d6f98" stroke-width="0.35" opacity="0.28"/>
<line x1="459.4" y1="414.7" x2="459.4" y2="419.9" stroke="#5d6f98" stroke-width="0.35" opacity="0.35"/>
<line x1="460.86" y1="414.7" x2="460.86" y2="419.9" stroke="#5d6f98" stroke-width="0.35" opacity="0.2"/>
<line x1="462.66" y1="414.7" x2="462.66" y2="419.9" stroke="#5d6f98" stroke-width="0.35" opacity="0.25"/>
<line x1="464.76" y1="414.7" x2="464.76" y2="419.9" stroke="#5d6f98" stroke-width="0.35" opacity="0.24"/>
<line x1="466.29" y1="414.7" x2="466.29" y2="419.9" stroke="#5d6f98" stroke-width="0.35" opacity="0.38"/>
<line x1="467.33" y1="414.7" x2="467.33" y2="419.9" stroke="#5d6f98" stroke-width="0.35" opacity="0.37"/>
<line x1="469.4" y1="414.7" x2="469.4" y2="419.9" stroke="#5d6f98" stroke-width="0.35" opacity="0.34"/>
<line x1="471.01" y1="414.7" x2="471.01" y2="419.9" stroke="#5d6f98" stroke-width="0.35" opacity="0.25"/>
<line x1="472.1" y1="414.7" x2="472.1" y2="419.9" stroke="#5d6f98" stroke-width="0.35" opacity="0.19"/>
<line x1="473.77" y1="414.7" x2="473.77" y2="419.9" stroke="#5d6f98" stroke-width="0.35" opacity="0.19"/>
<line x1="475.35" y1="414.7" x2="475.35" y2="419.9" stroke="#5d6f98" stroke-width="0.35" opacity="0.2"/>
<line x1="477.36" y1="414.7" x2="477.36" y2="419.9" stroke="#5d6f98" stroke-width="0.35" opacity="0.34"/>
<line x1="479.2" y1="414.7" x2="479.2" y2="419.9" stroke="#5d6f98" stroke-width="0.35" opacity="0.36"/>
<line x1="480.12" y1="414.7" x2="480.12" y2="419.9" stroke="#5d6f98" stroke-width="0.35" opacity="0.36"/>
<line x1="481.79" y1="414.7" x2="481.79" y2="419.9" stroke="#5d6f98" stroke-width="0.35" opacity="0.17"/>
<line x1="483.49" y1="414.7" x2="483.49" y2="419.9" stroke="#5d6f98" stroke-width="0.35" opacity="0.3"/>
<line x1="484.85" y1="414.7" x2="484.85" y2="419.9" stroke="#5d6f98" stroke-width="0.35" opacity="0.2"/>
<line x1="486.8" y1="414.7" x2="486.8" y2="419.9" stroke="#5d6f98" stroke-width="0.35" opacity="0.36"/>
<line x1="488.4" y1="414.7" x2="488.4" y2="419.9" stroke="#5d6f98" stroke-width="0.35" opacity="0.25"/>
<line x1="489.97" y1="414.7" x2="489.97" y2="419.9" stroke="#5d6f98" stroke-width="0.35" opacity="0.17"/>
<line x1="492.08" y1="414.7" x2="492.08" y2="419.9" stroke="#5d6f98" stroke-width="0.35" opacity="0.38"/>
<line x1="493.52" y1="414.7" x2="493.52" y2="419.9" stroke="#5d6f98" stroke-width="0.35" opacity="0.25"/>
<line x1="494.84" y1="414.7" x2="494.84" y2="419.9" stroke="#5d6f98" stroke-width="0.35" opacity="0.23"/>
<line x1="496.65" y1="414.7" x2="496.65" y2="419.9" stroke="#5d6f98" stroke-width="0.35" opacity="0.31"/>
<line x1="497.91" y1="414.7" x2="497.91" y2="419.9" stroke="#5d6f98" stroke-width="0.35" opacity="0.37"/>
<line x1="499.92" y1="414.7" x2="499.92" y2="419.9" stroke="#5d6f98" stroke-width="0.35" opacity="0.2"/>
<line x1="501.61" y1="414.7" x2="501.61" y2="419.9" stroke="#5d6f98" stroke-width="0.35" opacity="0.32"/>
<line x1="502.65" y1="414.7" x2="502.65" y2="419.9" stroke="#5d6f98" stroke-width="0.35" opacity="0.22"/>
<line x1="504.75" y1="414.7" x2="504.75" y2="419.9" stroke="#5d6f98" stroke-width="0.35" opacity="0.17"/>
<line x1="506.04" y1="414.7" x2="506.04" y2="419.9" stroke="#5d6f98" stroke-width="0.35" opacity="0.39"/>
<line x1="507.46" y1="414.7" x2="507.46" y2="419.9" stroke="#5d6f98" stroke-width="0.35" opacity="0.28"/>
<line x1="509.71" y1="414.7" x2="509.71" y2="419.9" stroke="#5d6f98" stroke-width="0.35" opacity="0.37"/>
<line x1="511.19" y1="414.7" x2="511.19" y2="419.9" stroke="#5d6f98" stroke-width="0.35" opacity="0.28"/>
<line x1="512.93" y1="414.7" x2="512.93" y2="419.9" stroke="#5d6f98" stroke-width="0.35" opacity="0.21"/>
<line x1="514.48" y1="414.7" x2="514.48" y2="419.9" stroke="#5d6f98" stroke-width="0.35" opacity="0.25"/>
<line x1="515.86" y1="414.7" x2="515.86" y2="419.9" stroke="#5d6f98" stroke-width="0.35" opacity="0.3"/>
<line x1="517.08" y1="414.7" x2="517.08" y2="419.9" stroke="#5d6f98" stroke-width="0.35" opacity="0.32"/>
<line x1="519" y1="414.7" x2="519" y2="419.9" stroke="#5d6f98" stroke-width="0.35" opacity="0.4"/>
<line x1="520.67" y1="414.7" x2="520.67" y2="419.9" stroke="#5d6f98" stroke-width="0.35" opacity="0.26"/>
<line x1="521.98" y1="414.7" x2="521.98" y2="419.9" stroke="#5d6f98" stroke-width="0.35" opacity="0.37"/>
<line x1="523.55" y1="414.7" x2="523.55" y2="419.9" stroke="#5d6f98" stroke-width="0.35" opacity="0.32"/>
<line x1="525.49" y1="414.7" x2="525.49" y2="419.9" stroke="#5d6f98" stroke-width="0.35" opacity="0.39"/>
<line x1="526.59" y1="414.7" x2="526.59" y2="419.9" stroke="#5d6f98" stroke-width="0.35" opacity="0.32"/>
<line x1="528.17" y1="414.7" x2="528.17" y2="419.9" stroke="#5d6f98" stroke-width="0.35" opacity="0.31"/>
<line x1="530.26" y1="414.7" x2="530.26" y2="419.9" stroke="#5d6f98" stroke-width="0.35" opacity="0.34"/>
<line x1="532.07" y1="414.7" x2="532.07" y2="419.9" stroke="#5d6f98" stroke-width="0.35" opacity="0.21"/>
<line x1="533.66" y1="414.7" x2="533.66" y2="419.9" stroke="#5d6f98" stroke-width="0.35" opacity="0.24"/>
<line x1="534.8" y1="414.7" x2="534.8" y2="419.9" stroke="#5d6f98" stroke-width="0.35" opacity="0.18"/>
<line x1="536.53" y1="414.7" x2="536.53" y2="419.9" stroke="#5d6f98" stroke-width="0.35" opacity="0.15"/>
<line x1="537.91" y1="414.7" x2="537.91" y2="419.9" stroke="#5d6f98" stroke-width="0.35" opacity="0.32"/>
<line x1="539.95" y1="414.7" x2="539.95" y2="419.9" stroke="#5d6f98" stroke-width="0.35" opacity="0.19"/>
<line x1="541.58" y1="414.7" x2="541.58" y2="419.9" stroke="#5d6f98" stroke-width="0.35" opacity="0.26"/>
<line x1="542.61" y1="414.7" x2="542.61" y2="419.9" stroke="#5d6f98" stroke-width="0.35" opacity="0.34"/>
<line x1="544.74" y1="414.7" x2="544.74" y2="419.9" stroke="#5d6f98" stroke-width="0.35" opacity="0.27"/>
<line x1="546.13" y1="414.7" x2="546.13" y2="419.9" stroke="#5d6f98" stroke-width="0.35" opacity="0.3"/>
<line x1="547.83" y1="414.7" x2="547.83" y2="419.9" stroke="#5d6f98" stroke-width="0.35" opacity="0.34"/>
<line x1="549.57" y1="414.7" x2="549.57" y2="419.9" stroke="#5d6f98" stroke-width="0.35" opacity="0.2"/>
<line x1="550.42" y1="414.7" x2="550.42" y2="419.9" stroke="#5d6f98" stroke-width="0.35" opacity="0.18"/>
<line x1="552.31" y1="414.7" x2="552.31" y2="419.9" stroke="#5d6f98" stroke-width="0.35" opacity="0.3"/>
<line x1="554.56" y1="414.7" x2="554.56" y2="419.9" stroke="#5d6f98" stroke-width="0.35" opacity="0.25"/>
<line x1="555.57" y1="414.7" x2="555.57" y2="419.9" stroke="#5d6f98" stroke-width="0.35" opacity="0.29"/>
<line x1="557.75" y1="414.7" x2="557.75" y2="419.9" stroke="#5d6f98" stroke-width="0.35" opacity="0.3"/>
<line x1="558.7" y1="414.7" x2="558.7" y2="419.9" stroke="#5d6f98" stroke-width="0.35" opacity="0.34"/>
<line x1="560.99" y1="414.7" x2="560.99" y2="419.9" stroke="#5d6f98" stroke-width="0.35" opacity="0.35"/>
<line x1="562" y1="414.7" x2="562" y2="419.9" stroke="#5d6f98" stroke-width="0.35" opacity="0.19"/>
<line x1="563.66" y1="414.7" x2="563.66" y2="419.9" stroke="#5d6f98" stroke-width="0.35" opacity="0.18"/>
<line x1="564.93" y1="414.7" x2="564.93" y2="419.9" stroke="#5d6f98" stroke-width="0.35" opacity="0.26"/>
<line x1="567.25" y1="414.7" x2="567.25" y2="419.9" stroke="#5d6f98" stroke-width="0.35" opacity="0.33"/>
<line x1="568.42" y1="414.7" x2="568.42" y2="419.9" stroke="#5d6f98" stroke-width="0.35" opacity="0.39"/>
<line x1="569.78" y1="414.7" x2="569.78" y2="419.9" stroke="#5d6f98" stroke-width="0.35" opacity="0.21"/>
<line x1="571.47" y1="414.7" x2="571.47" y2="419.9" stroke="#5d6f98" stroke-width="0.35" opacity="0.29"/>
<line x1="573.69" y1="414.7" x2="573.69" y2="419.9" stroke="#5d6f98" stroke-width="0.35" opacity="0.25"/>
<line x1="575.23" y1="414.7" x2="575.23" y2="419.9" stroke="#5d6f98" stroke-width="0.35" opacity="0.38"/>
<line x1="576.48" y1="414.7" x2="576.48" y2="419.9" stroke="#5d6f98" stroke-width="0.35" opacity="0.37"/>
<line x1="578.49" y1="414.7" x2="578.49" y2="419.9" stroke="#5d6f98" stroke-width="0.35" opacity="0.27"/>
<line x1="579.37" y1="414.7" x2="579.37" y2="419.9" stroke="#5d6f98" stroke-width="0.35" opacity="0.17"/>
<line x1="581.04" y1="414.7" x2="581.04" y2="419.9" stroke="#5d6f98" stroke-width="0.35" opacity="0.26"/>
<line x1="582.42" y1="414.7" x2="582.42" y2="419.9" stroke="#5d6f98" stroke-width="0.35" opacity="0.23"/>
<line x1="584.49" y1="414.7" x2="584.49" y2="419.9" stroke="#5d6f98" stroke-width="0.35" opacity="0.23"/>
<line x1="586.33" y1="414.7" x2="586.33" y2="419.9" stroke="#5d6f98" stroke-width="0.35" opacity="0.29"/>
<line x1="587.73" y1="414.7" x2="587.73" y2="419.9" stroke="#5d6f98" stroke-width="0.35" opacity="0.31"/>
<line x1="589.38" y1="414.7" x2="589.38" y2="419.9" stroke="#5d6f98" stroke-width="0.35" opacity="0.25"/>
<line x1="590.57" y1="414.7" x2="590.57" y2="419.9" stroke="#5d6f98" stroke-width="0.35" opacity="0.3"/>
<line x1="592.05" y1="414.7" x2="592.05" y2="419.9" stroke="#5d6f98" stroke-width="0.35" opacity="0.16"/>
<line x1="593.94" y1="414.7" x2="593.94" y2="419.9" stroke="#5d6f98" stroke-width="0.35" opacity="0.21"/>
<line x1="595.96" y1="414.7" x2="595.96" y2="419.9" stroke="#5d6f98" stroke-width="0.35" opacity="0.19"/>
<line x1="597.24" y1="414.7" x2="597.24" y2="419.9" stroke="#5d6f98" stroke-width="0.35" opacity="0.32"/>
<line x1="598.82" y1="414.7" x2="598.82" y2="419.9" stroke="#5d6f98" stroke-width="0.35" opacity="0.35"/>
<line x1="600.12" y1="414.7" x2="600.12" y2="419.9" stroke="#5d6f98" stroke-width="0.35" opacity="0.19"/>
<line x1="601.88" y1="414.7" x2="601.88" y2="419.9" stroke="#5d6f98" stroke-width="0.35" opacity="0.24"/>
<line x1="603.76" y1="414.7" x2="603.76" y2="419.9" stroke="#5d6f98" stroke-width="0.35" opacity="0.2"/>
<line x1="605.36" y1="414.7" x2="605.36" y2="419.9" stroke="#5d6f98" stroke-width="0.35" opacity="0.33"/>
<line x1="607.05" y1="414.7" x2="607.05" y2="419.9" stroke="#5d6f98" stroke-width="0.35" opacity="0.35"/>
<line x1="608.08" y1="414.7" x2="608.08" y2="419.9" stroke="#5d6f98" stroke-width="0.35" opacity="0.32"/>
<line x1="610.32" y1="414.7" x2="610.32" y2="419.9" stroke="#5d6f98" stroke-width="0.35" opacity="0.36"/>
<line x1="611.35" y1="414.7" x2="611.35" y2="419.9" stroke="#5d6f98" stroke-width="0.35" opacity="0.17"/>
<line x1="613.56" y1="414.7" x2="613.56" y2="419.9" stroke="#5d6f98" stroke-width="0.35" opacity="0.31"/>
<line x1="614.57" y1="414.7" x2="614.57" y2="419.9" stroke="#5d6f98" stroke-width="0.35" opacity="0.37"/>
<line x1="616.72" y1="414.7" x2="616.72" y2="419.9" stroke="#5d6f98" stroke-width="0.35" opacity="0.3"/>
<line x1="618.36" y1="414.7" x2="618.36" y2="419.9" stroke="#5d6f98" stroke-width="0.35" opacity="0.3"/>
<line x1="619.54" y1="414.7" x2="619.54" y2="419.9" stroke="#5d6f98" stroke-width="0.35" opacity="0.16"/>
<line x1="621.14" y1="414.7" x2="621.14" y2="419.9" stroke="#5d6f98" stroke-width="0.35" opacity="0.31"/>
<line x1="622.59" y1="414.7" x2="622.59" y2="419.9" stroke="#5d6f98" stroke-width="0.35" opacity="0.19"/>
<line x1="624.11" y1="414.7" x2="624.11" y2="419.9" stroke="#5d6f98" stroke-width="0.35" opacity="0.27"/>
<line x1="626.57" y1="414.7" x2="626.57" y2="419.9" stroke="#5d6f98" stroke-width="0.35" opacity="0.33"/>
<line x1="627.21" y1="414.7" x2="627.21" y2="419.9" stroke="#5d6f98" stroke-width="0.35" opacity="0.24"/>
<line x1="629.48" y1="414.7" x2="629.48" y2="419.9" stroke="#5d6f98" stroke-width="0.35" opacity="0.17"/>
<line x1="631.19" y1="414.7" x2="631.19" y2="419.9" stroke="#5d6f98" stroke-width="0.35" opacity="0.21"/>
<line x1="632.44" y1="414.7" x2="632.44" y2="419.9" stroke="#5d6f98" stroke-width="0.35" opacity="0.35"/>
<line x1="634.47" y1="414.7" x2="634.47" y2="419.9" stroke="#5d6f98" stroke-width="0.35" opacity="0.17"/>
<line x1="636.02" y1="414.7" x2="636.02" y2="419.9" stroke="#5d6f98" stroke-width="0.35" opacity="0.37"/>
<line x1="637.64" y1="414.7" x2="637.64" y2="419.9" stroke="#5d6f98" stroke-width="0.35" opacity="0.34"/>
<line x1="414.4" y1="420.6" x2="639.6" y2="420.6" stroke="#e4eefc" stroke-width="0.9" opacity="0.75"/>
<rect x="414.4" y="421" width="225.2" height="7.6" fill="#7aa8f0" opacity="0.25"/>
<line x1="421.4" y1="421.1" x2="421.4" y2="422.6" stroke="#1e3468" stroke-width="0.4"/>
<line x1="423.79" y1="421.1" x2="423.79" y2="421.8" stroke="#1e3468" stroke-width="0.4"/>
<line x1="426.18" y1="421.1" x2="426.18" y2="421.8" stroke="#1e3468" stroke-width="0.4"/>
<line x1="428.57" y1="421.1" x2="428.57" y2="421.8" stroke="#1e3468" stroke-width="0.4"/>
<line x1="430.96" y1="421.1" x2="430.96" y2="421.8" stroke="#1e3468" stroke-width="0.4"/>
<line x1="433.35" y1="421.1" x2="433.35" y2="422.6" stroke="#1e3468" stroke-width="0.4"/>
<line x1="435.74" y1="421.1" x2="435.74" y2="421.8" stroke="#1e3468" stroke-width="0.4"/>
<line x1="438.13" y1="421.1" x2="438.13" y2="421.8" stroke="#1e3468" stroke-width="0.4"/>
<line x1="440.52" y1="421.1" x2="440.52" y2="421.8" stroke="#1e3468" stroke-width="0.4"/>
<line x1="442.91" y1="421.1" x2="442.91" y2="421.8" stroke="#1e3468" stroke-width="0.4"/>
<line x1="445.3" y1="421.1" x2="445.3" y2="422.6" stroke="#1e3468" stroke-width="0.4"/>
<line x1="447.69" y1="421.1" x2="447.69" y2="421.8" stroke="#1e3468" stroke-width="0.4"/>
<line x1="450.08" y1="421.1" x2="450.08" y2="421.8" stroke="#1e3468" stroke-width="0.4"/>
<line x1="452.47" y1="421.1" x2="452.47" y2="421.8" stroke="#1e3468" stroke-width="0.4"/>
<line x1="454.86" y1="421.1" x2="454.86" y2="421.8" stroke="#1e3468" stroke-width="0.4"/>
<line x1="457.25" y1="421.1" x2="457.25" y2="422.6" stroke="#1e3468" stroke-width="0.4"/>
<line x1="459.64" y1="421.1" x2="459.64" y2="421.8" stroke="#1e3468" stroke-width="0.4"/>
<line x1="462.03" y1="421.1" x2="462.03" y2="421.8" stroke="#1e3468" stroke-width="0.4"/>
<line x1="464.42" y1="421.1" x2="464.42" y2="421.8" stroke="#1e3468" stroke-width="0.4"/>
<line x1="466.81" y1="421.1" x2="466.81" y2="421.8" stroke="#1e3468" stroke-width="0.4"/>
<line x1="469.2" y1="421.1" x2="469.2" y2="422.6" stroke="#1e3468" stroke-width="0.4"/>
<line x1="471.59" y1="421.1" x2="471.59" y2="421.8" stroke="#1e3468" stroke-width="0.4"/>
<line x1="473.98" y1="421.1" x2="473.98" y2="421.8" stroke="#1e3468" stroke-width="0.4"/>
<line x1="476.37" y1="421.1" x2="476.37" y2="421.8" stroke="#1e3468" stroke-width="0.4"/>
<line x1="478.76" y1="421.1" x2="478.76" y2="421.8" stroke="#1e3468" stroke-width="0.4"/>
<line x1="481.15" y1="421.1" x2="481.15" y2="422.6" stroke="#1e3468" stroke-width="0.4"/>
<line x1="483.54" y1="421.1" x2="483.54" y2="421.8" stroke="#1e3468" stroke-width="0.4"/>
<line x1="485.93" y1="421.1" x2="485.93" y2="421.8" stroke="#1e3468" stroke-width="0.4"/>
<line x1="488.32" y1="421.1" x2="488.32" y2="421.8" stroke="#1e3468" stroke-width="0.4"/>
<line x1="490.71" y1="421.1" x2="490.71" y2="421.8" stroke="#1e3468" stroke-width="0.4"/>
<line x1="493.1" y1="421.1" x2="493.1" y2="422.6" stroke="#1e3468" stroke-width="0.4"/>
<line x1="495.49" y1="421.1" x2="495.49" y2="421.8" stroke="#1e3468" stroke-width="0.4"/>
<line x1="497.88" y1="421.1" x2="497.88" y2="421.8" stroke="#1e3468" stroke-width="0.4"/>
<line x1="500.27" y1="421.1" x2="500.27" y2="421.8" stroke="#1e3468" stroke-width="0.4"/>
<line x1="502.66" y1="421.1" x2="502.66" y2="421.8" stroke="#1e3468" stroke-width="0.4"/>
<line x1="505.05" y1="421.1" x2="505.05" y2="422.6" stroke="#1e3468" stroke-width="0.4"/>
<line x1="507.44" y1="421.1" x2="507.44" y2="421.8" stroke="#1e3468" stroke-width="0.4"/>
<line x1="509.83" y1="421.1" x2="509.83" y2="421.8" stroke="#1e3468" stroke-width="0.4"/>
<line x1="512.22" y1="421.1" x2="512.22" y2="421.8" stroke="#1e3468" stroke-width="0.4"/>
<line x1="514.61" y1="421.1" x2="514.61" y2="421.8" stroke="#1e3468" stroke-width="0.4"/>
<line x1="517" y1="421.1" x2="517" y2="422.6" stroke="#1e3468" stroke-width="0.4"/>
<line x1="519.39" y1="421.1" x2="519.39" y2="421.8" stroke="#1e3468" stroke-width="0.4"/>
<line x1="521.78" y1="421.1" x2="521.78" y2="421.8" stroke="#1e3468" stroke-width="0.4"/>
<line x1="524.17" y1="421.1" x2="524.17" y2="421.8" stroke="#1e3468" stroke-width="0.4"/>
<line x1="526.56" y1="421.1" x2="526.56" y2="421.8" stroke="#1e3468" stroke-width="0.4"/>
<line x1="528.95" y1="421.1" x2="528.95" y2="422.6" stroke="#1e3468" stroke-width="0.4"/>
<line x1="531.34" y1="421.1" x2="531.34" y2="421.8" stroke="#1e3468" stroke-width="0.4"/>
<line x1="533.73" y1="421.1" x2="533.73" y2="421.8" stroke="#1e3468" stroke-width="0.4"/>
<line x1="536.12" y1="421.1" x2="536.12" y2="421.8" stroke="#1e3468" stroke-width="0.4"/>
<line x1="538.51" y1="421.1" x2="538.51" y2="421.8" stroke="#1e3468" stroke-width="0.4"/>
<line x1="540.9" y1="421.1" x2="540.9" y2="422.6" stroke="#1e3468" stroke-width="0.4"/>
<line x1="543.29" y1="421.1" x2="543.29" y2="421.8" stroke="#1e3468" stroke-width="0.4"/>
<line x1="545.68" y1="421.1" x2="545.68" y2="421.8" stroke="#1e3468" stroke-width="0.4"/>
<line x1="548.07" y1="421.1" x2="548.07" y2="421.8" stroke="#1e3468" stroke-width="0.4"/>
<line x1="550.46" y1="421.1" x2="550.46" y2="421.8" stroke="#1e3468" stroke-width="0.4"/>
<line x1="552.85" y1="421.1" x2="552.85" y2="422.6" stroke="#1e3468" stroke-width="0.4"/>
<line x1="555.24" y1="421.1" x2="555.24" y2="421.8" stroke="#1e3468" stroke-width="0.4"/>
<line x1="557.63" y1="421.1" x2="557.63" y2="421.8" stroke="#1e3468" stroke-width="0.4"/>
<line x1="560.02" y1="421.1" x2="560.02" y2="421.8" stroke="#1e3468" stroke-width="0.4"/>
<line x1="562.41" y1="421.1" x2="562.41" y2="421.8" stroke="#1e3468" stroke-width="0.4"/>
<line x1="564.8" y1="421.1" x2="564.8" y2="422.6" stroke="#1e3468" stroke-width="0.4"/>
<line x1="567.19" y1="421.1" x2="567.19" y2="421.8" stroke="#1e3468" stroke-width="0.4"/>
<line x1="569.58" y1="421.1" x2="569.58" y2="421.8" stroke="#1e3468" stroke-width="0.4"/>
<line x1="571.97" y1="421.1" x2="571.97" y2="421.8" stroke="#1e3468" stroke-width="0.4"/>
<line x1="574.36" y1="421.1" x2="574.36" y2="421.8" stroke="#1e3468" stroke-width="0.4"/>
<line x1="576.75" y1="421.1" x2="576.75" y2="422.6" stroke="#1e3468" stroke-width="0.4"/>
<line x1="579.14" y1="421.1" x2="579.14" y2="421.8" stroke="#1e3468" stroke-width="0.4"/>
<line x1="581.53" y1="421.1" x2="581.53" y2="421.8" stroke="#1e3468" stroke-width="0.4"/>
<line x1="583.92" y1="421.1" x2="583.92" y2="421.8" stroke="#1e3468" stroke-width="0.4"/>
<line x1="586.31" y1="421.1" x2="586.31" y2="421.8" stroke="#1e3468" stroke-width="0.4"/>
<line x1="588.7" y1="421.1" x2="588.7" y2="422.6" stroke="#1e3468" stroke-width="0.4"/>
<line x1="591.09" y1="421.1" x2="591.09" y2="421.8" stroke="#1e3468" stroke-width="0.4"/>
<line x1="593.48" y1="421.1" x2="593.48" y2="421.8" stroke="#1e3468" stroke-width="0.4"/>
<line x1="595.87" y1="421.1" x2="595.87" y2="421.8" stroke="#1e3468" stroke-width="0.4"/>
<line x1="598.26" y1="421.1" x2="598.26" y2="421.8" stroke="#1e3468" stroke-width="0.4"/>
<line x1="600.65" y1="421.1" x2="600.65" y2="422.6" stroke="#1e3468" stroke-width="0.4"/>
<line x1="603.04" y1="421.1" x2="603.04" y2="421.8" stroke="#1e3468" stroke-width="0.4"/>
<line x1="605.43" y1="421.1" x2="605.43" y2="421.8" stroke="#1e3468" stroke-width="0.4"/>
<line x1="607.82" y1="421.1" x2="607.82" y2="421.8" stroke="#1e3468" stroke-width="0.4"/>
<line x1="610.21" y1="421.1" x2="610.21" y2="421.8" stroke="#1e3468" stroke-width="0.4"/>
<line x1="612.6" y1="421.1" x2="612.6" y2="422.6" stroke="#1e3468" stroke-width="0.4"/>
<line x1="614.99" y1="421.1" x2="614.99" y2="421.8" stroke="#1e3468" stroke-width="0.4"/>
<line x1="617.38" y1="421.1" x2="617.38" y2="421.8" stroke="#1e3468" stroke-width="0.4"/>
<line x1="619.77" y1="421.1" x2="619.77" y2="421.8" stroke="#1e3468" stroke-width="0.4"/>
<line x1="622.16" y1="421.1" x2="622.16" y2="421.8" stroke="#1e3468" stroke-width="0.4"/>
<line x1="624.55" y1="421.1" x2="624.55" y2="422.6" stroke="#1e3468" stroke-width="0.4"/>
<line x1="626.94" y1="421.1" x2="626.94" y2="421.8" stroke="#1e3468" stroke-width="0.4"/>
<line x1="629.33" y1="421.1" x2="629.33" y2="421.8" stroke="#1e3468" stroke-width="0.4"/>
<line x1="631.72" y1="421.1" x2="631.72" y2="421.8" stroke="#1e3468" stroke-width="0.4"/>
<line x1="634.11" y1="421.1" x2="634.11" y2="421.8" stroke="#1e3468" stroke-width="0.4"/>
<line x1="636.5" y1="421.1" x2="636.5" y2="422.6" stroke="#1e3468" stroke-width="0.4"/>
<line x1="638.89" y1="421.1" x2="638.89" y2="421.8" stroke="#1e3468" stroke-width="0.4"/>
<text x="421.4" y="427" font-size="4.3" fill="#17234e" text-anchor="middle" font-weight="bold" stroke="#17234e" stroke-width="0.12">0</text>
<text x="433.35" y="427" font-size="4.3" fill="#17234e" text-anchor="middle" font-weight="bold" stroke="#17234e" stroke-width="0.12">1cm</text>
<text x="445.3" y="427" font-size="4.3" fill="#17234e" text-anchor="middle" font-weight="bold" stroke="#17234e" stroke-width="0.12">2</text>
<text x="457.25" y="427" font-size="4.3" fill="#17234e" text-anchor="middle" font-weight="bold" stroke="#17234e" stroke-width="0.12">3</text>
<text x="469.2" y="427" font-size="4.3" fill="#17234e" text-anchor="middle" font-weight="bold" stroke="#17234e" stroke-width="0.12">4</text>
<text x="481.15" y="427" font-size="4.3" fill="#17234e" text-anchor="middle" font-weight="bold" stroke="#17234e" stroke-width="0.12">5</text>
<text x="493.1" y="427" font-size="4.3" fill="#17234e" text-anchor="middle" font-weight="bold" stroke="#17234e" stroke-width="0.12">6</text>
<text x="505.05" y="427" font-size="4.3" fill="#17234e" text-anchor="middle" font-weight="bold" stroke="#17234e" stroke-width="0.12">7</text>
<text x="517" y="427" font-size="4.3" fill="#17234e" text-anchor="middle" font-weight="bold" stroke="#17234e" stroke-width="0.12">8</text>
<text x="528.95" y="427" font-size="4.3" fill="#17234e" text-anchor="middle" font-weight="bold" stroke="#17234e" stroke-width="0.12">9</text>
<text x="540.9" y="427" font-size="4.3" fill="#17234e" text-anchor="middle" font-weight="bold" stroke="#17234e" stroke-width="0.12">10</text>
<text x="552.85" y="427" font-size="4.3" fill="#17234e" text-anchor="middle" font-weight="bold" stroke="#17234e" stroke-width="0.12">11</text>
<text x="564.8" y="427" font-size="4.3" fill="#17234e" text-anchor="middle" font-weight="bold" stroke="#17234e" stroke-width="0.12">12</text>
<text x="576.75" y="427" font-size="4.3" fill="#17234e" text-anchor="middle" font-weight="bold" stroke="#17234e" stroke-width="0.12">13</text>
<text x="588.7" y="427" font-size="4.3" fill="#17234e" text-anchor="middle" font-weight="bold" stroke="#17234e" stroke-width="0.12">14</text>
<text x="600.65" y="427" font-size="4.3" fill="#17234e" text-anchor="middle" font-weight="bold" stroke="#17234e" stroke-width="0.12">15</text>
<text x="612.6" y="427" font-size="4.3" fill="#17234e" text-anchor="middle" font-weight="bold" stroke="#17234e" stroke-width="0.12">16</text>
<text x="624.55" y="427" font-size="4.3" fill="#17234e" text-anchor="middle" font-weight="bold" stroke="#17234e" stroke-width="0.12">17</text>
<text x="636.5" y="427" font-size="4.3" fill="#17234e" text-anchor="middle" font-weight="bold" stroke="#17234e" stroke-width="0.12">18</text>
</g>
</g>
<text x="412.2" y="380.8" font-size="8.1" fill="#1a1a1a" text-anchor="end" stroke="#1a1a1a" stroke-width="0.12">U87 NC</text>
<text x="412.2" y="407.4" font-size="8.1" fill="#1a1a1a" text-anchor="end" stroke="#1a1a1a" stroke-width="0.12"><tspan font-style="italic">AKR1B1</tspan>-KO</text>
<line x1="39.3" y1="473" x2="39.3" y2="617.5" stroke="#e6e6e6" stroke-width="0.6"/>
<line x1="55.8" y1="473" x2="55.8" y2="617.5" stroke="#e6e6e6" stroke-width="0.6"/>
<line x1="72.2" y1="473" x2="72.2" y2="617.5" stroke="#e6e6e6" stroke-width="0.6"/>
<line x1="89.4" y1="473" x2="89.4" y2="617.5" stroke="#e6e6e6" stroke-width="0.6"/>
<line x1="105.9" y1="473" x2="105.9" y2="617.5" stroke="#e6e6e6" stroke-width="0.6"/>
<line x1="122.5" y1="473" x2="122.5" y2="617.5" stroke="#e6e6e6" stroke-width="0.6"/>
<line x1="139.6" y1="473" x2="139.6" y2="617.5" stroke="#e6e6e6" stroke-width="0.6"/>
<line x1="29.4" y1="478.3" x2="150" y2="478.3" stroke="#e6e6e6" stroke-width="0.6"/>
<line x1="29.4" y1="496" x2="150" y2="496" stroke="#e6e6e6" stroke-width="0.6"/>
<line x1="29.4" y1="513.2" x2="150" y2="513.2" stroke="#e6e6e6" stroke-width="0.6"/>
<line x1="29.4" y1="531" x2="150" y2="531" stroke="#e6e6e6" stroke-width="0.6"/>
<line x1="29.4" y1="548.5" x2="150" y2="548.5" stroke="#e6e6e6" stroke-width="0.6"/>
<line x1="29.4" y1="566" x2="150" y2="566" stroke="#e6e6e6" stroke-width="0.6"/>
<line x1="29.4" y1="583.5" x2="150" y2="583.5" stroke="#e6e6e6" stroke-width="0.6"/>
<line x1="29.4" y1="601.4" x2="150" y2="601.4" stroke="#e6e6e6" stroke-width="0.6"/>
<line x1="27.6" y1="478.3" x2="29.4" y2="478.3" stroke="#444" stroke-width="0.7"/>
<text x="27" y="480.2" font-size="5.6" fill="#333" text-anchor="end" stroke="#333" stroke-width="0.12">1600</text>
<line x1="27.6" y1="513.2" x2="29.4" y2="513.2" stroke="#444" stroke-width="0.7"/>
<text x="27" y="515.1" font-size="5.6" fill="#333" text-anchor="end" stroke="#333" stroke-width="0.12">1200</text>
<line x1="27.6" y1="548.5" x2="29.4" y2="548.5" stroke="#444" stroke-width="0.7"/>
<text x="27" y="550.4" font-size="5.6" fill="#333" text-anchor="end" stroke="#333" stroke-width="0.12">800</text>
<line x1="27.6" y1="583.5" x2="29.4" y2="583.5" stroke="#444" stroke-width="0.7"/>
<text x="27" y="585.4" font-size="5.6" fill="#333" text-anchor="end" stroke="#333" stroke-width="0.12">400</text>
<line x1="27.6" y1="617.2" x2="29.4" y2="617.2" stroke="#444" stroke-width="0.7"/>
<text x="27" y="619.1" font-size="5.6" fill="#333" text-anchor="end" stroke="#333" stroke-width="0.12">0</text>
<line x1="49.35" y1="479.4" x2="49.35" y2="587.9" stroke="#444" stroke-width="0.7"/>
<rect x="34.4" y="496.4" width="29.9" height="56.6" fill="#5bc2e9" stroke="#444" stroke-width="0.8"/>
<line x1="34.4" y1="519.3" x2="64.3" y2="519.3" stroke="#333" stroke-width="0.9"/>
<line x1="129.45" y1="586.6" x2="129.45" y2="611" stroke="#444" stroke-width="0.7"/>
<rect x="114.4" y="590.4" width="30.1" height="17.2" fill="#e5358f" stroke="#444" stroke-width="0.8"/>
<line x1="114.4" y1="605.4" x2="144.5" y2="605.4" stroke="#333" stroke-width="0.9"/>
<line x1="76.1" y1="479.6" x2="102.6" y2="586.3" stroke="#1a1a1a" stroke-width="0.75"/>
<line x1="76.1" y1="480.5" x2="102.6" y2="591.5" stroke="#1a1a1a" stroke-width="0.75"/>
<line x1="76.1" y1="502" x2="102.6" y2="587.5" stroke="#1a1a1a" stroke-width="0.75"/>
<line x1="76.1" y1="513.1" x2="102.6" y2="605" stroke="#1a1a1a" stroke-width="0.75"/>
<line x1="76.1" y1="525.2" x2="102.6" y2="606.5" stroke="#1a1a1a" stroke-width="0.75"/>
<line x1="76.1" y1="545" x2="102.6" y2="604.6" stroke="#1a1a1a" stroke-width="0.75"/>
<line x1="76.1" y1="576.8" x2="102.6" y2="609" stroke="#1a1a1a" stroke-width="0.75"/>
<line x1="76.1" y1="587.9" x2="102.6" y2="610.5" stroke="#1a1a1a" stroke-width="0.75"/>
<circle cx="76.1" cy="479.6" r="1.2" fill="#29a9e1"/>
<circle cx="76.1" cy="480.5" r="1.2" fill="#29a9e1"/>
<circle cx="76.1" cy="502" r="1.2" fill="#29a9e1"/>
<circle cx="76.1" cy="513.1" r="1.2" fill="#29a9e1"/>
<circle cx="76.1" cy="525.2" r="1.2" fill="#29a9e1"/>
<circle cx="76.1" cy="545" r="1.2" fill="#29a9e1"/>
<circle cx="76.1" cy="576.8" r="1.2" fill="#29a9e1"/>
<circle cx="76.1" cy="587.9" r="1.2" fill="#29a9e1"/>
<circle cx="102.6" cy="586.3" r="1.2" fill="#e0288a"/>
<circle cx="102.6" cy="591.5" r="1.2" fill="#e0288a"/>
<circle cx="102.6" cy="587.5" r="1.2" fill="#e0288a"/>
<circle cx="102.6" cy="605" r="1.2" fill="#e0288a"/>
<circle cx="102.6" cy="606.5" r="1.2" fill="#e0288a"/>
<circle cx="102.6" cy="604.6" r="1.2" fill="#e0288a"/>
<circle cx="102.6" cy="609" r="1.2" fill="#e0288a"/>
<circle cx="102.6" cy="610.5" r="1.2" fill="#e0288a"/>
<line x1="29.4" y1="473" x2="29.4" y2="618.1" stroke="#666" stroke-width="1.3"/>
<line x1="28.8" y1="617.5" x2="150" y2="617.5" stroke="#666" stroke-width="1.3"/>
<text x="82.6" y="465.6" font-size="8.2" fill="#222" text-anchor="middle" stroke="#222" stroke-width="0.12">A549 xenografts</text>
<text x="88.1" y="476.6" font-size="8.2" fill="#222" text-anchor="middle" stroke="#222" stroke-width="0.12">P = 0.0078</text>
<rect x="82.5" y="482.6" width="10.1" height="5" fill="#5bc2e9" stroke="#333" stroke-width="0.6"/>
<rect x="82.5" y="495.1" width="10.1" height="5" fill="#e5358f" stroke="#333" stroke-width="0.6"/>
<text x="95.3" y="488.2" font-size="8.2" fill="#222" stroke="#222" stroke-width="0.12">NC&#160;&#160;n = 8</text>
<text x="95.3" y="500.7" font-size="8.2" fill="#222" stroke="#222" stroke-width="0.12"><tspan font-style="italic">AKR1B1</tspan>-KO&#160;&#160;n = 8</text>
<text x="10.09" y="543" font-size="7.65" fill="#222" text-anchor="middle" transform="rotate(-90 10.09 543)" stroke="#222" stroke-width="0.12">Tumor volume (mm<tspan font-size="5" dy="-3">3</tspan><tspan dy="3">)</tspan></text>
<text x="50.7" y="625.4" font-size="6.9" fill="#222" text-anchor="middle" stroke="#222" stroke-width="0.12">NC</text>
<text x="127.7" y="625.4" font-size="6.9" fill="#222" text-anchor="middle" stroke="#222" stroke-width="0.12"><tspan font-style="italic">AKR1B1</tspan>-KO</text>
<line x1="205.2" y1="474.4" x2="205.2" y2="617.8" stroke="#e6e6e6" stroke-width="0.6"/>
<line x1="222.4" y1="474.4" x2="222.4" y2="617.8" stroke="#e6e6e6" stroke-width="0.6"/>
<line x1="238.8" y1="474.4" x2="238.8" y2="617.8" stroke="#e6e6e6" stroke-width="0.6"/>
<line x1="255.3" y1="474.4" x2="255.3" y2="617.8" stroke="#e6e6e6" stroke-width="0.6"/>
<line x1="272.4" y1="474.4" x2="272.4" y2="617.8" stroke="#e6e6e6" stroke-width="0.6"/>
<line x1="288.9" y1="474.4" x2="288.9" y2="617.8" stroke="#e6e6e6" stroke-width="0.6"/>
<line x1="305.7" y1="474.4" x2="305.7" y2="617.8" stroke="#e6e6e6" stroke-width="0.6"/>
<line x1="195.5" y1="490.2" x2="315.5" y2="490.2" stroke="#e6e6e6" stroke-width="0.6"/>
<line x1="195.5" y1="514.4" x2="315.5" y2="514.4" stroke="#e6e6e6" stroke-width="0.6"/>
<line x1="195.5" y1="540.2" x2="315.5" y2="540.2" stroke="#e6e6e6" stroke-width="0.6"/>
<line x1="195.5" y1="566.1" x2="315.5" y2="566.1" stroke="#e6e6e6" stroke-width="0.6"/>
<line x1="195.5" y1="591.3" x2="315.5" y2="591.3" stroke="#e6e6e6" stroke-width="0.6"/>
<line x1="193.7" y1="514.4" x2="195.5" y2="514.4" stroke="#444" stroke-width="0.7"/>
<text x="193.1" y="516.3" font-size="5.6" fill="#333" text-anchor="end" stroke="#333" stroke-width="0.12">2000</text>
<line x1="193.7" y1="566.1" x2="195.5" y2="566.1" stroke="#444" stroke-width="0.7"/>
<text x="193.1" y="568" font-size="5.6" fill="#333" text-anchor="end" stroke="#333" stroke-width="0.12">1000</text>
<line x1="193.7" y1="617.8" x2="195.5" y2="617.8" stroke="#444" stroke-width="0.7"/>
<text x="193.1" y="619.7" font-size="5.6" fill="#333" text-anchor="end" stroke="#333" stroke-width="0.12">0</text>
<line x1="215.5" y1="481.3" x2="215.5" y2="595.6" stroke="#444" stroke-width="0.7"/>
<rect x="200.4" y="522" width="30.2" height="42.3" fill="#5bc2e9" stroke="#444" stroke-width="0.8"/>
<line x1="200.4" y1="536.4" x2="230.6" y2="536.4" stroke="#333" stroke-width="0.9"/>
<line x1="295.25" y1="590.7" x2="295.25" y2="611.7" stroke="#444" stroke-width="0.7"/>
<rect x="280.4" y="595.1" width="29.7" height="12.7" fill="#e5358f" stroke="#444" stroke-width="0.8"/>
<line x1="280.4" y1="604.4" x2="310.1" y2="604.4" stroke="#333" stroke-width="0.9"/>
<line x1="242.2" y1="480.8" x2="268.5" y2="590.3" stroke="#1a1a1a" stroke-width="0.75"/>
<line x1="242.2" y1="512.4" x2="268.5" y2="591.3" stroke="#1a1a1a" stroke-width="0.75"/>
<line x1="242.2" y1="525.3" x2="268.5" y2="596.1" stroke="#1a1a1a" stroke-width="0.75"/>
<line x1="242.2" y1="527.5" x2="268.5" y2="602" stroke="#1a1a1a" stroke-width="0.75"/>
<line x1="242.2" y1="545.3" x2="268.5" y2="607.1" stroke="#1a1a1a" stroke-width="0.75"/>
<line x1="242.2" y1="554.7" x2="268.5" y2="602" stroke="#1a1a1a" stroke-width="0.75"/>
<line x1="242.2" y1="594.4" x2="268.5" y2="611.7" stroke="#1a1a1a" stroke-width="0.75"/>
<line x1="242.2" y1="595.1" x2="268.5" y2="608.2" stroke="#1a1a1a" stroke-width="0.75"/>
<circle cx="242.2" cy="480.8" r="1.2" fill="#29a9e1"/>
<circle cx="242.2" cy="512.4" r="1.2" fill="#29a9e1"/>
<circle cx="242.2" cy="525.3" r="1.2" fill="#29a9e1"/>
<circle cx="242.2" cy="527.5" r="1.2" fill="#29a9e1"/>
<circle cx="242.2" cy="545.3" r="1.2" fill="#29a9e1"/>
<circle cx="242.2" cy="554.7" r="1.2" fill="#29a9e1"/>
<circle cx="242.2" cy="594.4" r="1.2" fill="#29a9e1"/>
<circle cx="242.2" cy="595.1" r="1.2" fill="#29a9e1"/>
<circle cx="268.5" cy="590.3" r="1.2" fill="#e0288a"/>
<circle cx="268.5" cy="591.3" r="1.2" fill="#e0288a"/>
<circle cx="268.5" cy="596.1" r="1.2" fill="#e0288a"/>
<circle cx="268.5" cy="602" r="1.2" fill="#e0288a"/>
<circle cx="268.5" cy="607.1" r="1.2" fill="#e0288a"/>
<circle cx="268.5" cy="602" r="1.2" fill="#e0288a"/>
<circle cx="268.5" cy="611.7" r="1.2" fill="#e0288a"/>
<circle cx="268.5" cy="608.2" r="1.2" fill="#e0288a"/>
<line x1="195.5" y1="474.4" x2="195.5" y2="618.4" stroke="#333" stroke-width="1.3"/>
<line x1="194.9" y1="617.8" x2="315.5" y2="617.8" stroke="#333" stroke-width="1.3"/>
<text x="264.1" y="464.8" font-size="8.2" fill="#222" text-anchor="middle" stroke="#222" stroke-width="0.12">A549 xenografts</text>
<text x="266.7" y="475" font-size="8.2" fill="#222" text-anchor="middle" stroke="#222" stroke-width="0.12">P = 0.0078</text>
<rect x="248.2" y="482.6" width="10.1" height="5" fill="#5bc2e9" stroke="#333" stroke-width="0.6"/>
<rect x="248.2" y="495.5" width="10.1" height="5" fill="#e5358f" stroke="#333" stroke-width="0.6"/>
<text x="261" y="488.2" font-size="8.2" fill="#222" stroke="#222" stroke-width="0.12">NC&#160;&#160;n = 8</text>
<text x="261" y="501.1" font-size="8.2" fill="#222" stroke="#222" stroke-width="0.12"><tspan font-style="italic">AKR1B1</tspan>-KO&#160;&#160;n = 8</text>
<text x="176.21" y="536.6" font-size="8.5" fill="#222" text-anchor="middle" transform="rotate(-90 176.21 536.6)" stroke="#222" stroke-width="0.12">Tumor weight (mg)</text>
<text x="216.2" y="626" font-size="6.9" fill="#222" text-anchor="middle" stroke="#222" stroke-width="0.12">NC</text>
<text x="294" y="626" font-size="6.9" fill="#222" text-anchor="middle" stroke="#222" stroke-width="0.12"><tspan font-style="italic">AKR1B1</tspan>-KO</text>
<line x1="378.5" y1="470.8" x2="378.5" y2="616.1" stroke="#f1f1f1" stroke-width="0.6"/>
<line x1="400.2" y1="470.8" x2="400.2" y2="616.1" stroke="#f1f1f1" stroke-width="0.6"/>
<line x1="421.8" y1="470.8" x2="421.8" y2="616.1" stroke="#f1f1f1" stroke-width="0.6"/>
<line x1="443.4" y1="470.8" x2="443.4" y2="616.1" stroke="#f1f1f1" stroke-width="0.6"/>
<line x1="465" y1="470.8" x2="465" y2="616.1" stroke="#f1f1f1" stroke-width="0.6"/>
<line x1="486.6" y1="470.8" x2="486.6" y2="616.1" stroke="#f1f1f1" stroke-width="0.6"/>
<line x1="369.4" y1="492.7" x2="494.5" y2="492.7" stroke="#f1f1f1" stroke-width="0.6"/>
<line x1="369.4" y1="507" x2="494.5" y2="507" stroke="#f1f1f1" stroke-width="0.6"/>
<line x1="369.4" y1="521.3" x2="494.5" y2="521.3" stroke="#f1f1f1" stroke-width="0.6"/>
<line x1="369.4" y1="536.2" x2="494.5" y2="536.2" stroke="#f1f1f1" stroke-width="0.6"/>
<line x1="369.4" y1="551.1" x2="494.5" y2="551.1" stroke="#f1f1f1" stroke-width="0.6"/>
<line x1="369.4" y1="566.3" x2="494.5" y2="566.3" stroke="#f1f1f1" stroke-width="0.6"/>
<line x1="369.4" y1="581.5" x2="494.5" y2="581.5" stroke="#f1f1f1" stroke-width="0.6"/>
<line x1="369.4" y1="598.5" x2="494.5" y2="598.5" stroke="#f1f1f1" stroke-width="0.6"/>
<line x1="367.6" y1="492.7" x2="369.4" y2="492.7" stroke="#444" stroke-width="0.7"/>
<text x="367" y="494.6" font-size="5.6" fill="#333" text-anchor="end" stroke="#333" stroke-width="0.12">2000</text>
<line x1="367.6" y1="521.3" x2="369.4" y2="521.3" stroke="#444" stroke-width="0.7"/>
<text x="367" y="523.2" font-size="5.6" fill="#333" text-anchor="end" stroke="#333" stroke-width="0.12">1500</text>
<line x1="367.6" y1="551.1" x2="369.4" y2="551.1" stroke="#444" stroke-width="0.7"/>
<text x="367" y="553" font-size="5.6" fill="#333" text-anchor="end" stroke="#333" stroke-width="0.12">1000</text>
<line x1="367.6" y1="581.5" x2="369.4" y2="581.5" stroke="#444" stroke-width="0.7"/>
<text x="367" y="583.4" font-size="5.6" fill="#333" text-anchor="end" stroke="#333" stroke-width="0.12">500</text>
<line x1="367.6" y1="615.5" x2="369.4" y2="615.5" stroke="#444" stroke-width="0.7"/>
<text x="367" y="617.4" font-size="5.6" fill="#333" text-anchor="end" stroke="#333" stroke-width="0.12">0</text>
<line x1="389.65" y1="485.9" x2="389.65" y2="520.3" stroke="#444" stroke-width="0.7"/>
<rect x="374.4" y="488" width="30.5" height="19.4" fill="#5bc2e9" stroke="#444" stroke-width="0.8"/>
<line x1="374.4" y1="497.3" x2="404.9" y2="497.3" stroke="#333" stroke-width="0.9"/>
<line x1="470.3" y1="610" x2="470.3" y2="610" stroke="#444" stroke-width="0.7"/>
<line x1="455.3" y1="610" x2="485.3" y2="610" stroke="#7a6a74" stroke-width="0.8"/>
<circle cx="389.5" cy="576.5" r="0.6" fill="#222"/>
<line x1="416.5" y1="485.9" x2="443.4" y2="610" stroke="#1a1a1a" stroke-width="0.75"/>
<line x1="416.5" y1="487" x2="443.4" y2="610" stroke="#1a1a1a" stroke-width="0.75"/>
<line x1="416.5" y1="496.6" x2="443.4" y2="610" stroke="#1a1a1a" stroke-width="0.75"/>
<line x1="416.5" y1="499" x2="443.4" y2="610" stroke="#1a1a1a" stroke-width="0.75"/>
<line x1="416.5" y1="501" x2="443.4" y2="610" stroke="#1a1a1a" stroke-width="0.75"/>
<line x1="416.5" y1="503.1" x2="443.4" y2="610" stroke="#1a1a1a" stroke-width="0.75"/>
<line x1="416.5" y1="520.6" x2="443.4" y2="610" stroke="#1a1a1a" stroke-width="0.75"/>
<line x1="416.5" y1="576.5" x2="443.4" y2="610" stroke="#1a1a1a" stroke-width="0.75"/>
<circle cx="416.5" cy="485.9" r="0.95" fill="#29a9e1"/>
<circle cx="416.5" cy="487" r="0.95" fill="#29a9e1"/>
<circle cx="416.5" cy="496.6" r="0.95" fill="#29a9e1"/>
<circle cx="416.5" cy="499" r="0.95" fill="#29a9e1"/>
<circle cx="416.5" cy="501" r="0.95" fill="#29a9e1"/>
<circle cx="416.5" cy="503.1" r="0.95" fill="#29a9e1"/>
<circle cx="416.5" cy="520.6" r="0.95" fill="#29a9e1"/>
<circle cx="416.5" cy="576.5" r="0.95" fill="#29a9e1"/>
<circle cx="443.4" cy="610" r="0.95" fill="#e0288a"/>
<circle cx="443.4" cy="610" r="0.95" fill="#e0288a"/>
<circle cx="443.4" cy="610" r="0.95" fill="#e0288a"/>
<circle cx="443.4" cy="610" r="0.95" fill="#e0288a"/>
<circle cx="443.4" cy="610" r="0.95" fill="#e0288a"/>
<circle cx="443.4" cy="610" r="0.95" fill="#e0288a"/>
<circle cx="443.4" cy="610" r="0.95" fill="#e0288a"/>
<circle cx="443.4" cy="610" r="0.95" fill="#e0288a"/>
<line x1="369.4" y1="470.8" x2="369.4" y2="616.7" stroke="#333" stroke-width="1.3"/>
<line x1="368.8" y1="616.1" x2="494.5" y2="616.1" stroke="#333" stroke-width="1.3"/>
<text x="438.5" y="463.6" font-size="8.2" fill="#222" text-anchor="middle" stroke="#222" stroke-width="0.12">U87 xenografts</text>
<text x="443" y="477.6" font-size="8.2" fill="#222" text-anchor="middle" stroke="#222" stroke-width="0.12">P &lt; 0.001</text>
<rect x="425.1" y="484.5" width="10.1" height="5" fill="#5bc2e9" stroke="#333" stroke-width="0.6"/>
<rect x="425.1" y="496.8" width="10.1" height="5" fill="#e5358f" stroke="#333" stroke-width="0.6"/>
<text x="438.2" y="490.1" font-size="8.2" fill="#222" stroke="#222" stroke-width="0.12">NC&#160;&#160;n = 8</text>
<text x="438.2" y="502.4" font-size="8.2" fill="#222" stroke="#222" stroke-width="0.12"><tspan font-style="italic">AKR1B1</tspan>-KO&#160;&#160;n = 8</text>
<text x="347.98" y="536" font-size="8.4" fill="#222" text-anchor="middle" transform="rotate(-90 347.98 536)" stroke="#222" stroke-width="0.12">Tumor volume (mm<tspan font-size="5" dy="-3">3</tspan><tspan dy="3">)</tspan></text>
<text x="390.5" y="625.3" font-size="6.9" fill="#222" text-anchor="middle" stroke="#222" stroke-width="0.12">NC</text>
<text x="468.9" y="625.3" font-size="6.9" fill="#222" text-anchor="middle" stroke="#222" stroke-width="0.12"><tspan font-style="italic">AKR1B1</tspan>-KO</text>
<line x1="555.6" y1="470.8" x2="555.6" y2="614.5" stroke="#f1f1f1" stroke-width="0.6"/>
<line x1="576" y1="470.8" x2="576" y2="614.5" stroke="#f1f1f1" stroke-width="0.6"/>
<line x1="597.3" y1="470.8" x2="597.3" y2="614.5" stroke="#f1f1f1" stroke-width="0.6"/>
<line x1="618.7" y1="470.8" x2="618.7" y2="614.5" stroke="#f1f1f1" stroke-width="0.6"/>
<line x1="640" y1="470.8" x2="640" y2="614.5" stroke="#f1f1f1" stroke-width="0.6"/>
<line x1="661.3" y1="470.8" x2="661.3" y2="614.5" stroke="#f1f1f1" stroke-width="0.6"/>
<line x1="545.3" y1="485.4" x2="666.6" y2="485.4" stroke="#f1f1f1" stroke-width="0.6"/>
<line x1="545.3" y1="506" x2="666.6" y2="506" stroke="#f1f1f1" stroke-width="0.6"/>
<line x1="545.3" y1="526.6" x2="666.6" y2="526.6" stroke="#f1f1f1" stroke-width="0.6"/>
<line x1="545.3" y1="547.5" x2="666.6" y2="547.5" stroke="#f1f1f1" stroke-width="0.6"/>
<line x1="545.3" y1="568.3" x2="666.6" y2="568.3" stroke="#f1f1f1" stroke-width="0.6"/>
<line x1="545.3" y1="591" x2="666.6" y2="591" stroke="#f1f1f1" stroke-width="0.6"/>
<line x1="545.3" y1="606" x2="666.6" y2="606" stroke="#f1f1f1" stroke-width="0.6"/>
<line x1="543.5" y1="485.4" x2="545.3" y2="485.4" stroke="#444" stroke-width="0.7"/>
<text x="542.9" y="487.3" font-size="5.6" fill="#333" text-anchor="end" stroke="#333" stroke-width="0.12">3000</text>
<line x1="543.5" y1="526.6" x2="545.3" y2="526.6" stroke="#444" stroke-width="0.7"/>
<text x="542.9" y="528.5" font-size="5.6" fill="#333" text-anchor="end" stroke="#333" stroke-width="0.12">2000</text>
<line x1="543.5" y1="568.3" x2="545.3" y2="568.3" stroke="#444" stroke-width="0.7"/>
<text x="542.9" y="570.2" font-size="5.6" fill="#333" text-anchor="end" stroke="#333" stroke-width="0.12">1000</text>
<line x1="543.5" y1="614.2" x2="545.3" y2="614.2" stroke="#444" stroke-width="0.7"/>
<text x="542.9" y="616.1" font-size="5.6" fill="#333" text-anchor="end" stroke="#333" stroke-width="0.12">0</text>
<line x1="566" y1="485.1" x2="566" y2="577.5" stroke="#444" stroke-width="0.7"/>
<rect x="551.2" y="504.8" width="29.6" height="37.3" fill="#5bc2e9" stroke="#444" stroke-width="0.8"/>
<line x1="551.2" y1="525.3" x2="580.8" y2="525.3" stroke="#333" stroke-width="0.9"/>
<line x1="645.8" y1="606.6" x2="645.8" y2="606.6" stroke="#444" stroke-width="0.7"/>
<line x1="631.4" y1="606.6" x2="660.2" y2="606.6" stroke="#7a6a74" stroke-width="0.8"/>
<line x1="592.5" y1="485.1" x2="618.7" y2="606.6" stroke="#1a1a1a" stroke-width="0.75"/>
<line x1="592.5" y1="500.9" x2="618.7" y2="606.6" stroke="#1a1a1a" stroke-width="0.75"/>
<line x1="592.5" y1="505.5" x2="618.7" y2="606.6" stroke="#1a1a1a" stroke-width="0.75"/>
<line x1="592.5" y1="516.7" x2="618.7" y2="606.6" stroke="#1a1a1a" stroke-width="0.75"/>
<line x1="592.5" y1="533.7" x2="618.7" y2="606.6" stroke="#1a1a1a" stroke-width="0.75"/>
<line x1="592.5" y1="542.6" x2="618.7" y2="606.6" stroke="#1a1a1a" stroke-width="0.75"/>
<line x1="592.5" y1="543.5" x2="618.7" y2="606.6" stroke="#1a1a1a" stroke-width="0.75"/>
<line x1="592.5" y1="577.5" x2="618.7" y2="606.6" stroke="#1a1a1a" stroke-width="0.75"/>
<circle cx="592.5" cy="485.1" r="0.95" fill="#29a9e1"/>
<circle cx="592.5" cy="500.9" r="0.95" fill="#29a9e1"/>
<circle cx="592.5" cy="505.5" r="0.95" fill="#29a9e1"/>
<circle cx="592.5" cy="516.7" r="0.95" fill="#29a9e1"/>
<circle cx="592.5" cy="533.7" r="0.95" fill="#29a9e1"/>
<circle cx="592.5" cy="542.6" r="0.95" fill="#29a9e1"/>
<circle cx="592.5" cy="543.5" r="0.95" fill="#29a9e1"/>
<circle cx="592.5" cy="577.5" r="0.95" fill="#29a9e1"/>
<circle cx="618.7" cy="606.6" r="0.95" fill="#e0288a"/>
<circle cx="618.7" cy="606.6" r="0.95" fill="#e0288a"/>
<circle cx="618.7" cy="606.6" r="0.95" fill="#e0288a"/>
<circle cx="618.7" cy="606.6" r="0.95" fill="#e0288a"/>
<circle cx="618.7" cy="606.6" r="0.95" fill="#e0288a"/>
<circle cx="618.7" cy="606.6" r="0.95" fill="#e0288a"/>
<circle cx="618.7" cy="606.6" r="0.95" fill="#e0288a"/>
<circle cx="618.7" cy="606.6" r="0.95" fill="#e0288a"/>
<line x1="545.3" y1="470.8" x2="545.3" y2="615.1" stroke="#333" stroke-width="1.3"/>
<line x1="544.7" y1="614.5" x2="666.6" y2="614.5" stroke="#333" stroke-width="1.3"/>
<text x="605.5" y="465.6" font-size="8.2" fill="#222" text-anchor="middle" stroke="#222" stroke-width="0.12">U87 xenografts</text>
<text x="622.2" y="477.6" font-size="8.2" fill="#222" text-anchor="middle" stroke="#222" stroke-width="0.12">P &lt; 0.001</text>
<rect x="598" y="483.5" width="10.1" height="5" fill="#5bc2e9" stroke="#333" stroke-width="0.6"/>
<rect x="598" y="496.6" width="10.1" height="5" fill="#e5358f" stroke="#333" stroke-width="0.6"/>
<text x="611" y="489.1" font-size="8.2" fill="#222" stroke="#222" stroke-width="0.12">NC&#160;&#160;n = 8</text>
<text x="611" y="502.2" font-size="8.2" fill="#222" stroke="#222" stroke-width="0.12"><tspan font-style="italic">AKR1B1</tspan>-KO&#160;&#160;n = 8</text>
<text x="523.66" y="534" font-size="8.3" fill="#222" text-anchor="middle" transform="rotate(-90 523.66 534)" stroke="#222" stroke-width="0.12">Tumor weight (mg)</text>
<text x="569.3" y="623.4" font-size="6.9" fill="#222" text-anchor="middle" stroke="#222" stroke-width="0.12">NC</text>
<text x="645.5" y="623.4" font-size="6.9" fill="#222" text-anchor="middle" stroke="#222" stroke-width="0.12"><tspan font-style="italic">AKR1B1</tspan>-KO</text></svg>
</body></html>
